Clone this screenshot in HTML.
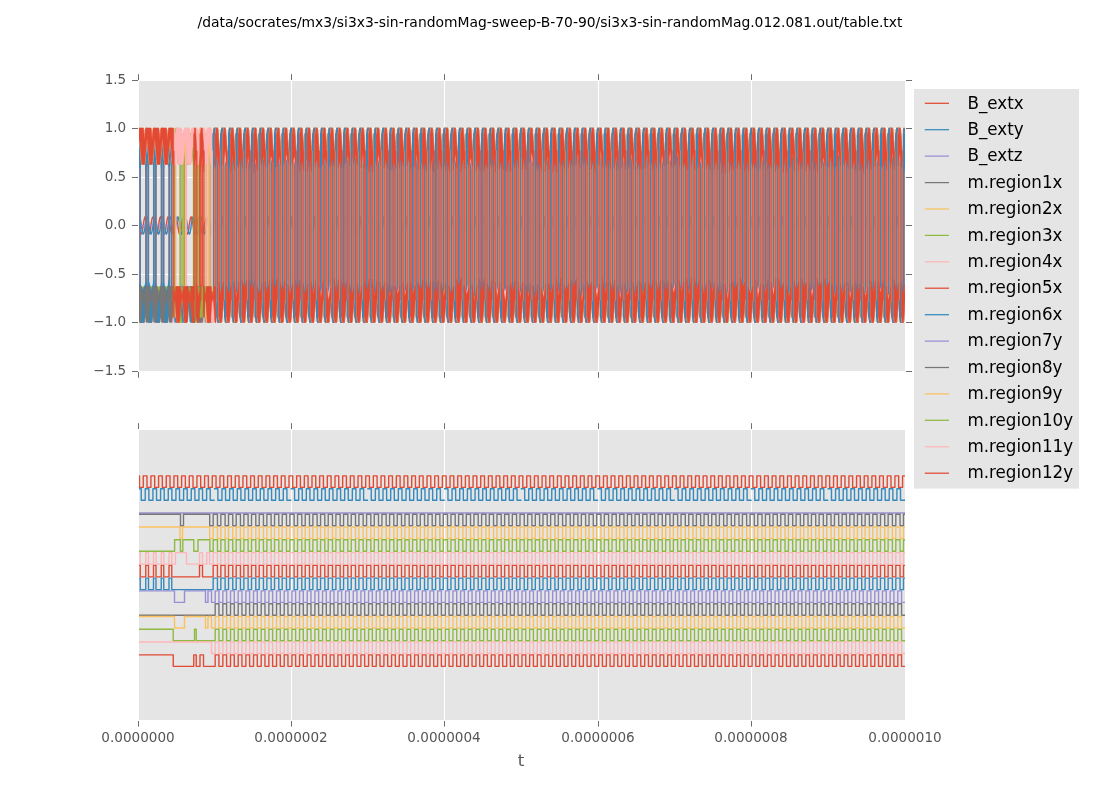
<!DOCTYPE html>
<html><head><meta charset="utf-8"><title>table.txt</title>
<style>
html,body{margin:0;padding:0;background:#fff;}
svg{display:block;}
text{font-family:"DejaVu Sans","Liberation Sans",sans-serif;}
.tk{font-size:13.55px;fill:#555;}
.al{font-size:16.67px;fill:#555;}
.ti{font-size:13.89px;fill:#000;}
.lg{font-size:17px;fill:#000;}
.ln path,.ln polyline{stroke-width:1.39;fill:none;stroke-linejoin:round;}
.tp path{stroke-linejoin:round;}
</style></head><body>
<svg width="1100" height="800" viewBox="0 0 1100 800">
<rect width="1100" height="800" fill="#fff"/>
<rect x="139" y="81" width="766" height="290" fill="#E5E5E5"/>
<rect x="139" y="430" width="766" height="290" fill="#E5E5E5"/>
<path d="M291.5 81V371M291.5 430V720M444.5 81V371M444.5 430V720M598.5 81V371M598.5 430V720M751.5 81V371M751.5 430V720M139 128.5H905M139 177.5H905M139 225.5H905M139 274.5H905M139 322.5H905" stroke="#fff" stroke-width="1.1"/>
<clipPath id="c1"><rect x="139" y="81" width="766" height="290"/></clipPath>
<clipPath id="c2"><rect x="139" y="430" width="766" height="290"/></clipPath>
<g clip-path="url(#c1)" class="tp" stroke-width="1.39" fill="none">
<polyline points="139,222.8 139.5,226.2 140,229.5 140.5,232.2 141,233.7 141.5,233.9 142,232.7 142.5,230.3 143,227.1 143.5,223.7 144,220.5 144.5,218.2 145,217 145.5,217.3 146,218.9 146.5,221.7 147,225 147.5,228.4 148,231.4 148.5,233.4 149,234 149.5,233.3 150,231.3 150.5,228.3 151,224.8 151.5,221.5 152,218.8 152.5,217.3 153,217.1 153.5,218.2 154,220.6 154.5,223.8 155,227.3 155.5,230.5 156,232.8 156.5,234 157,233.7 157.5,232.1 158,229.4 158.5,226 159,222.6 159.5,219.6 160,217.6 160.5,217 161,217.7 161.5,219.7 162,222.7 162.5,226.1 163,229.5 163.5,232.1 164,233.7 164.5,234 165,232.8 165.5,230.4 166,227.2 166.5,223.7 167,220.6 167.5,218.2 168,217 168.5,217.3 169,218.9 169.5,221.6 170,224.9 170.5,228.4 171,231.3 171.5,233.3 172,234 172.5,233.3 173,231.3 173.5,228.3 174,224.9 174.5,221.6 175,218.9 175.5,217.3 176,217 176.5,218.2 177,220.6 177.5,223.8 178,227.2 178.5,230.4 179,232.8 179.5,234 180,233.7 180.5,232.1 181,229.4 181.5,226.1 182,222.7 182.5,219.7 183,217.7 183.5,217 184,217.7 184.5,219.7 185,222.6 185.5,226.1 186,229.4 186.5,232.1 187,233.7 187.5,234 188,232.8 188.5,230.4 189,227.3 189.5,223.8 190,220.6 190.5,218.2 191,217 191.5,217.3 192,218.9 192.5,221.5 193,224.9 193.5,228.3 194,231.3 194.5,233.3 195,234 195.5,233.4 196,231.4 196.5,228.4 197,225 197.5,221.6 198,218.9 198.5,217.3 199,217 199.5,218.2 200,220.5 200.5,223.7 201,227.2 201.5,230.4 202,232.8 202.5,233.9 203,233.7 203.5,232.2 204,229.5 204.5,226.2 205,222.7 205.5,219.7 206,217.7 206.5,217 207,217.6 207.5,219.6 208,222.6 208.5,226 209,229.3 209.5,232.1 210,233.7 210.5,234 211,232.8 211.5,230.5 212,227.3 212.5,223.9 213,220.7 213.5,218.3 214,217.1 214.5,217.3 215,218.8 215.5,221.5 216,224.8 216.5,228.2 217,231.2 217.5,233.3 218,234 218.5,233.4 219,231.4 219.5,228.5 220,225 220.5,221.7 221,219 221.5,217.3 222,217 222.5,218.1 223,220.5 223.5,223.6 224,227.1 224.5,230.3 225,232.7 225.5,233.9 226,233.8 226.5,232.2 227,229.6 227.5,226.2 228,222.8 228.5,219.8 229,217.7 229.5,217 230,217.6 230.5,219.6 231,222.5 231.5,225.9 232,229.3 232.5,232 233,233.7 233.5,234 234,232.9 234.5,230.6 235,227.4 235.5,223.9 236,220.7 236.5,218.3 237,217.1 237.5,217.2 238,218.8 238.5,221.4 239,224.7 239.5,228.2 240,231.2 240.5,233.3 241,234 241.5,233.4 242,231.5 242.5,228.5 243,225.1 243.5,221.8 244,219 244.5,217.3 245,217 245.5,218.1 246,220.4 246.5,223.6 247,227 247.5,230.2 248,232.7 248.5,233.9 249,233.8 249.5,232.3 250,229.6 250.5,226.3 251,222.9 251.5,219.8 252,217.8 252.5,217 253,217.6 253.5,219.5 254,222.4 254.5,225.8 255,229.2 255.5,232 256,233.7 256.5,234 257,232.9 257.5,230.6 258,227.5 258.5,224 259,220.8 259.5,218.3 260,217.1 260.5,217.2 261,218.7 261.5,221.3 262,224.7 262.5,228.1 263,231.1 263.5,233.2 264,234 264.5,233.4 265,231.5 265.5,228.6 266,225.2 266.5,221.8 267,219.1 267.5,217.4 268,217 268.5,218.1 269,220.4 269.5,223.5 270,227 270.5,230.2 271,232.6 271.5,233.9 272,233.8 272.5,232.3 273,229.7 273.5,226.4 274,222.9 274.5,219.9 275,217.8 275.5,217 276,217.6 276.5,219.5 277,222.4 277.5,225.8 278,229.2 278.5,231.9 279,233.6 279.5,234 280,232.9 280.5,230.7 281,227.5 281.5,224.1 282,220.8 282.5,218.4 283,217.1 283.5,217.2 284,218.7 284.5,221.3 285,224.6 285.5,228 286,231.1 286.5,233.2 287,234 287.5,233.5 288,231.6 288.5,228.7 289,225.3 289.5,221.9 290,219.1 290.5,217.4 291,217 291.5,218 292,220.3 292.5,223.4 293,226.9 293.5,230.1 294,232.6 294.5,233.9 295,233.8 295.5,232.3 296,229.7 296.5,226.4 297,223 297.5,219.9 298,217.8 298.5,217 299,217.5 299.5,219.4 300,222.3 300.5,225.7 301,229.1 301.5,231.9 302,233.6 302.5,234 303,233 303.5,230.7 304,227.6 304.5,224.1 305,220.9 305.5,218.4 306,217.1 306.5,217.2 307,218.6 307.5,221.2 308,224.5 308.5,228 309,231 309.5,233.2 310,234 310.5,233.5 311,231.6 311.5,228.7 312,225.3 312.5,221.9 313,219.1 313.5,217.4 314,217 314.5,218 315,220.2 315.5,223.4 316,226.8 316.5,230.1 317,232.6 317.5,233.9 318,233.8 318.5,232.4 319,229.8 319.5,226.5 320,223.1 320.5,220 321,217.9 321.5,217 322,217.5 322.5,219.4 323,222.2 323.5,225.6 324,229 324.5,231.8 325,233.6 325.5,234 326,233 326.5,230.8 327,227.7 327.5,224.2 328,221 328.5,218.5 329,217.1 329.5,217.2 330,218.6 330.5,221.2 331,224.5 331.5,227.9 332,231 332.5,233.1 333,234 333.5,233.5 334,231.7 334.5,228.8 335,225.4 335.5,222 336,219.2 336.5,217.4 337,217 337.5,218 338,220.2 338.5,223.3 339,226.8 339.5,230 340,232.5 340.5,233.9 341,233.8 341.5,232.4 342,229.9 342.5,226.6 343,223.1 343.5,220.1 344,217.9 344.5,217 345,217.5 345.5,219.3 346,222.2 346.5,225.6 347,229 347.5,231.8 348,233.6 348.5,234 349,233.1 349.5,230.8 350,227.7 350.5,224.3 351,221 351.5,218.5 352,217.1 352.5,217.2 353,218.6 353.5,221.1 354,224.4 354.5,227.8 355,230.9 355.5,233.1 356,234 356.5,233.5 357,231.7 357.5,228.9 358,225.5 358.5,222.1 359,219.2 359.5,217.4 360,217 360.5,217.9 361,220.1 361.5,223.2 362,226.7 362.5,230 363,232.5 363.5,233.9 364,233.9 364.5,232.5 365,229.9 365.5,226.7 366,223.2 366.5,220.1 367,217.9 367.5,217 368,217.5 368.5,219.3 369,222.1 369.5,225.5 370,228.9 370.5,231.7 371,233.5 371.5,234 372,233.1 372.5,230.9 373,227.8 373.5,224.3 374,221.1 374.5,218.5 375,217.1 375.5,217.1 376,218.5 376.5,221 377,224.3 377.5,227.8 378,230.9 378.5,233.1 379,234 379.5,233.6 380,231.8 380.5,228.9 381,225.5 381.5,222.1 382,219.3 382.5,217.5 383,217 383.5,217.9 384,220.1 384.5,223.2 385,226.6 385.5,229.9 386,232.4 386.5,233.8 387,233.9 387.5,232.5 388,230 388.5,226.7 389,223.3 389.5,220.2 390,217.9 390.5,217 391,217.4 391.5,219.2 392,222 392.5,225.4 393,228.8 393.5,231.7 394,233.5 394.5,234 395,233.1 395.5,230.9 396,227.9 396.5,224.4 397,221.1 397.5,218.6 398,217.2 398.5,217.1 399,218.5 399.5,221 400,224.2 400.5,227.7 401,230.8 401.5,233 402,234 402.5,233.6 403,231.8 403.5,229 404,225.6 404.5,222.2 405,219.3 405.5,217.5 406,217 406.5,217.9 407,220 407.5,223.1 408,226.5 408.5,229.8 409,232.4 409.5,233.8 410,233.9 410.5,232.5 411,230 411.5,226.8 412,223.3 412.5,220.2 413,218 413.5,217 414,217.4 414.5,219.2 415,222 415.5,225.4 416,228.8 416.5,231.6 417,233.5 417.5,234 418,233.1 418.5,231 419,227.9 419.5,224.5 420,221.2 420.5,218.6 421,217.2 421.5,217.1 422,218.4 422.5,220.9 423,224.2 423.5,227.6 424,230.8 424.5,233 425,234 425.5,233.6 426,231.9 426.5,229.1 427,225.7 427.5,222.3 428,219.4 428.5,217.5 429,217 429.5,217.8 430,220 430.5,223 431,226.5 431.5,229.8 432,232.4 432.5,233.8 433,233.9 433.5,232.6 434,230.1 434.5,226.9 435,223.4 435.5,220.3 436,218 436.5,217 437,217.4 437.5,219.1 438,221.9 438.5,225.3 439,228.7 439.5,231.6 440,233.5 440.5,234 441,233.2 441.5,231.1 442,228 442.5,224.6 443,221.3 443.5,218.7 444,217.2 444.5,217.1 445,218.4 445.5,220.9 446,224.1 446.5,227.6 447,230.7 447.5,233 448,234 448.5,233.6 449,231.9 449.5,229.1 450,225.7 450.5,222.3 451,219.4 451.5,217.5 452,217 452.5,217.8 453,219.9 453.5,223 454,226.4 454.5,229.7 455,232.3 455.5,233.8 456,233.9 456.5,232.6 457,230.2 457.5,226.9 458,223.5 458.5,220.3 459,218.1 459.5,217 460,217.4 460.5,219.1 461,221.8 461.5,225.2 462,228.6 462.5,231.5 463,233.4 463.5,234 464,233.2 464.5,231.1 465,228.1 465.5,224.6 466,221.3 466.5,218.7 467,217.2 467.5,217.1 468,218.4 468.5,220.8 469,224 469.5,227.5 470,230.6 470.5,232.9 471,234 471.5,233.6 472,231.9 472.5,229.2 473,225.8 473.5,222.4 474,219.5 474.5,217.6 475,217 475.5,217.8 476,219.9 476.5,222.9 477,226.3 477.5,229.7 478,232.3 478.5,233.8 479,233.9 479.5,232.7 480,230.2 480.5,227 481,223.5 481.5,220.4 482,218.1 482.5,217 483,217.3 483.5,219 484,221.8 484.5,225.2 485,228.6 485.5,231.5 486,233.4 486.5,234 487,233.2 487.5,231.2 488,228.1 488.5,224.7 489,221.4 489.5,218.7 490,217.2 490.5,217.1 491,218.3 491.5,220.8 492,224 492.5,227.4 493,230.6 493.5,232.9 494,234 494.5,233.7 495,232 495.5,229.2 496,225.9 496.5,222.5 497,219.5 497.5,217.6 498,217 498.5,217.7 499,219.8 499.5,222.8 500,226.3 500.5,229.6 501,232.2 501.5,233.8 502,233.9 502.5,232.7 503,230.3 503.5,227.1 504,223.6 504.5,220.4 505,218.1 505.5,217 506,217.3 506.5,219 507,221.7 507.5,225.1 508,228.5 508.5,231.4 509,233.4 509.5,234 510,233.3 510.5,231.2 511,228.2 511.5,224.8 512,221.4 512.5,218.8 513,217.2 513.5,217.1 514,218.3 514.5,220.7 515,223.9 515.5,227.4 516,230.5 516.5,232.9 517,234 517.5,233.7 518,232 518.5,229.3 519,226 519.5,222.5 520,219.6 520.5,217.6 521,217 521.5,217.7 522,219.8 522.5,222.8 523,226.2 523.5,229.5 524,232.2 524.5,233.7 525,233.9 525.5,232.7 526,230.3 526.5,227.1 527,223.7 527.5,220.5 528,218.2 528.5,217 529,217.3 529.5,218.9 530,221.7 530.5,225 531,228.4 531.5,231.4 532,233.4 532.5,234 533,233.3 533.5,231.3 534,228.3 534.5,224.8 535,221.5 535.5,218.8 536,217.3 536.5,217.1 537,218.2 537.5,220.6 538,223.8 538.5,227.3 539,230.5 539.5,232.8 540,234 540.5,233.7 541,232.1 541.5,229.4 542,226 542.5,222.6 543,219.6 543.5,217.6 544,217 544.5,217.7 545,219.7 545.5,222.7 546,226.1 546.5,229.5 547,232.1 547.5,233.7 548,234 548.5,232.8 549,230.4 549.5,227.2 550,223.7 550.5,220.6 551,218.2 551.5,217 552,217.3 552.5,218.9 553,221.6 553.5,224.9 554,228.4 554.5,231.3 555,233.3 555.5,234 556,233.3 556.5,231.3 557,228.3 557.5,224.9 558,221.6 558.5,218.9 559,217.3 559.5,217 560,218.2 560.5,220.6 561,223.8 561.5,227.2 562,230.4 562.5,232.8 563,234 563.5,233.7 564,232.1 564.5,229.4 565,226.1 565.5,222.7 566,219.7 566.5,217.7 567,217 567.5,217.7 568,219.7 568.5,222.6 569,226.1 569.5,229.4 570,232.1 570.5,233.7 571,234 571.5,232.8 572,230.4 572.5,227.3 573,223.8 573.5,220.6 574,218.2 574.5,217 575,217.3 575.5,218.9 576,221.5 576.5,224.9 577,228.3 577.5,231.3 578,233.3 578.5,234 579,233.4 579.5,231.4 580,228.4 580.5,225 581,221.6 581.5,218.9 582,217.3 582.5,217 583,218.2 583.5,220.5 584,223.7 584.5,227.2 585,230.4 585.5,232.8 586,233.9 586.5,233.7 587,232.2 587.5,229.5 588,226.2 588.5,222.7 589,219.7 589.5,217.7 590,217 590.5,217.6 591,219.6 591.5,222.6 592,226 592.5,229.3 593,232.1 593.5,233.7 594,234 594.5,232.8 595,230.5 595.5,227.3 596,223.9 596.5,220.7 597,218.3 597.5,217.1 598,217.3 598.5,218.8 599,221.5 599.5,224.8 600,228.2 600.5,231.2 601,233.3 601.5,234 602,233.4 602.5,231.4 603,228.5 603.5,225 604,221.7 604.5,219 605,217.3 605.5,217 606,218.1 606.5,220.5 607,223.6 607.5,227.1 608,230.3 608.5,232.7 609,233.9 609.5,233.8 610,232.2 610.5,229.6 611,226.2 611.5,222.8 612,219.8 612.5,217.7 613,217 613.5,217.6 614,219.6 614.5,222.5 615,225.9 615.5,229.3 616,232 616.5,233.7 617,234 617.5,232.9 618,230.6 618.5,227.4 619,223.9 619.5,220.7 620,218.3 620.5,217.1 621,217.2 621.5,218.8 622,221.4 622.5,224.7 623,228.2 623.5,231.2 624,233.3 624.5,234 625,233.4 625.5,231.5 626,228.5 626.5,225.1 627,221.8 627.5,219 628,217.3 628.5,217 629,218.1 629.5,220.4 630,223.6 630.5,227 631,230.2 631.5,232.7 632,233.9 632.5,233.8 633,232.3 633.5,229.6 634,226.3 634.5,222.9 635,219.8 635.5,217.8 636,217 636.5,217.6 637,219.5 637.5,222.4 638,225.8 638.5,229.2 639,232 639.5,233.7 640,234 640.5,232.9 641,230.6 641.5,227.5 642,224 642.5,220.8 643,218.3 643.5,217.1 644,217.2 644.5,218.7 645,221.3 645.5,224.7 646,228.1 646.5,231.1 647,233.2 647.5,234 648,233.4 648.5,231.5 649,228.6 649.5,225.2 650,221.8 650.5,219.1 651,217.4 651.5,217 652,218.1 652.5,220.4 653,223.5 653.5,227 654,230.2 654.5,232.6 655,233.9 655.5,233.8 656,232.3 656.5,229.7 657,226.4 657.5,222.9 658,219.9 658.5,217.8 659,217 659.5,217.6 660,219.5 660.5,222.4 661,225.8 661.5,229.2 662,231.9 662.5,233.6 663,234 663.5,232.9 664,230.7 664.5,227.5 665,224.1 665.5,220.8 666,218.4 666.5,217.1 667,217.2 667.5,218.7 668,221.3 668.5,224.6 669,228 669.5,231.1 670,233.2 670.5,234 671,233.5 671.5,231.6 672,228.7 672.5,225.3 673,221.9 673.5,219.1 674,217.4 674.5,217 675,218 675.5,220.3 676,223.4 676.5,226.9 677,230.1 677.5,232.6 678,233.9 678.5,233.8 679,232.3 679.5,229.7 680,226.4 680.5,223 681,219.9 681.5,217.8 682,217 682.5,217.5 683,219.4 683.5,222.3 684,225.7 684.5,229.1 685,231.9 685.5,233.6 686,234 686.5,233 687,230.7 687.5,227.6 688,224.1 688.5,220.9 689,218.4 689.5,217.1 690,217.2 690.5,218.6 691,221.2 691.5,224.5 692,228 692.5,231 693,233.2 693.5,234 694,233.5 694.5,231.6 695,228.7 695.5,225.3 696,221.9 696.5,219.1 697,217.4 697.5,217 698,218 698.5,220.2 699,223.4 699.5,226.8 700,230.1 700.5,232.6 701,233.9 701.5,233.8 702,232.4 702.5,229.8 703,226.5 703.5,223.1 704,220 704.5,217.9 705,217 705.5,217.5 706,219.4 706.5,222.2 707,225.6 707.5,229 708,231.8 708.5,233.6 709,234 709.5,233 710,230.8 710.5,227.7 711,224.2 711.5,221 712,218.5 712.5,217.1 713,217.2 713.5,218.6 714,221.2 714.5,224.5 715,227.9 715.5,231 716,233.1 716.5,234 717,233.5 717.5,231.7 718,228.8 718.5,225.4 719,222 719.5,219.2 720,217.4 720.5,217 721,218 721.5,220.2 722,223.3 722.5,226.8 723,230 723.5,232.5 724,233.9 724.5,233.8 725,232.4 725.5,229.9 726,226.6 726.5,223.1 727,220.1 727.5,217.9 728,217 728.5,217.5 729,219.3 729.5,222.2 730,225.6 730.5,229 731,231.8 731.5,233.6 732,234 732.5,233.1 733,230.8 733.5,227.7 734,224.3 734.5,221 735,218.5 735.5,217.1 736,217.2 736.5,218.6 737,221.1 737.5,224.4 738,227.8 738.5,230.9 739,233.1 739.5,234 740,233.5 740.5,231.7 741,228.9 741.5,225.5 742,222.1 742.5,219.2 743,217.4 743.5,217 744,217.9 744.5,220.1 745,223.2 745.5,226.7 746,230 746.5,232.5 747,233.9 747.5,233.9 748,232.5 748.5,229.9 749,226.7 749.5,223.2 750,220.1 750.5,217.9 751,217 751.5,217.5 752,219.3 752.5,222.1 753,225.5 753.5,228.9 754,231.7 754.5,233.5 755,234 755.5,233.1 756,230.9 756.5,227.8 757,224.3 757.5,221.1 758,218.5 758.5,217.1 759,217.1 759.5,218.5 760,221 760.5,224.3 761,227.8 761.5,230.9 762,233.1 762.5,234 763,233.6 763.5,231.8 764,228.9 764.5,225.5 765,222.1 765.5,219.3 766,217.5 766.5,217 767,217.9 767.5,220.1 768,223.2 768.5,226.6 769,229.9 769.5,232.4 770,233.8 770.5,233.9 771,232.5 771.5,230 772,226.7 772.5,223.3 773,220.2 773.5,217.9 774,217 774.5,217.4 775,219.2 775.5,222 776,225.4 776.5,228.8 777,231.7 777.5,233.5 778,234 778.5,233.1 779,230.9 779.5,227.9 780,224.4 780.5,221.1 781,218.6 781.5,217.2 782,217.1 782.5,218.5 783,221 783.5,224.2 784,227.7 784.5,230.8 785,233 785.5,234 786,233.6 786.5,231.8 787,229 787.5,225.6 788,222.2 788.5,219.3 789,217.5 789.5,217 790,217.9 790.5,220 791,223.1 791.5,226.5 792,229.8 792.5,232.4 793,233.8 793.5,233.9 794,232.5 794.5,230 795,226.8 795.5,223.3 796,220.2 796.5,218 797,217 797.5,217.4 798,219.2 798.5,222 799,225.4 799.5,228.8 800,231.6 800.5,233.5 801,234 801.5,233.1 802,231 802.5,227.9 803,224.5 803.5,221.2 804,218.6 804.5,217.2 805,217.1 805.5,218.4 806,220.9 806.5,224.2 807,227.6 807.5,230.8 808,233 808.5,234 809,233.6 809.5,231.9 810,229.1 810.5,225.7 811,222.3 811.5,219.4 812,217.5 812.5,217 813,217.8 813.5,220 814,223 814.5,226.5 815,229.8 815.5,232.4 816,233.8 816.5,233.9 817,232.6 817.5,230.1 818,226.9 818.5,223.4 819,220.3 819.5,218 820,217 820.5,217.4 821,219.1 821.5,221.9 822,225.3 822.5,228.7 823,231.6 823.5,233.5 824,234 824.5,233.2 825,231.1 825.5,228 826,224.6 826.5,221.3 827,218.7 827.5,217.2 828,217.1 828.5,218.4 829,220.9 829.5,224.1 830,227.6 830.5,230.7 831,233 831.5,234 832,233.6 832.5,231.9 833,229.1 833.5,225.7 834,222.3 834.5,219.4 835,217.5 835.5,217 836,217.8 836.5,219.9 837,223 837.5,226.4 838,229.7 838.5,232.3 839,233.8 839.5,233.9 840,232.6 840.5,230.2 841,226.9 841.5,223.5 842,220.3 842.5,218.1 843,217 843.5,217.4 844,219.1 844.5,221.8 845,225.2 845.5,228.6 846,231.5 846.5,233.4 847,234 847.5,233.2 848,231.1 848.5,228.1 849,224.6 849.5,221.3 850,218.7 850.5,217.2 851,217.1 851.5,218.4 852,220.8 852.5,224 853,227.5 853.5,230.6 854,232.9 854.5,234 855,233.6 855.5,231.9 856,229.2 856.5,225.8 857,222.4 857.5,219.5 858,217.6 858.5,217 859,217.8 859.5,219.9 860,222.9 860.5,226.3 861,229.7 861.5,232.3 862,233.8 862.5,233.9 863,232.7 863.5,230.2 864,227 864.5,223.5 865,220.4 865.5,218.1 866,217 866.5,217.3 867,219 867.5,221.8 868,225.2 868.5,228.6 869,231.5 869.5,233.4 870,234 870.5,233.2 871,231.2 871.5,228.1 872,224.7 872.5,221.4 873,218.7 873.5,217.2 874,217.1 874.5,218.3 875,220.8 875.5,224 876,227.4 876.5,230.6 877,232.9 877.5,234 878,233.7 878.5,232 879,229.2 879.5,225.9 880,222.5 880.5,219.5 881,217.6 881.5,217 882,217.7 882.5,219.8 883,222.8 883.5,226.3 884,229.6 884.5,232.2 885,233.8 885.5,233.9 886,232.7 886.5,230.3 887,227.1 887.5,223.6 888,220.4 888.5,218.1 889,217 889.5,217.3 890,219 890.5,221.7 891,225.1 891.5,228.5 892,231.4 892.5,233.4 893,234 893.5,233.3 894,231.2 894.5,228.2 895,224.8 895.5,221.4 896,218.8 896.5,217.2 897,217.1 897.5,218.3 898,220.7 898.5,223.9 899,227.4 899.5,230.5 900,232.9 900.5,234 901,233.7 901.5,232 902,229.3 902.5,226 903,222.5 903.5,219.6 904,217.6 904.5,217 905,217.7" stroke="#E24A33" fill="none"/>
<polyline points="139,217.6 139.5,217 140,217.7 140.5,219.8 141,222.8 141.5,226.2 142,229.5 142.5,232.2 143,233.7 143.5,233.9 144,232.7 144.5,230.3 145,227.1 145.5,223.7 146,220.5 146.5,218.2 147,217 147.5,217.3 148,218.9 148.5,221.7 149,225 149.5,228.4 150,231.4 150.5,233.4 151,234 151.5,233.3 152,231.3 152.5,228.3 153,224.8 153.5,221.5 154,218.8 154.5,217.3 155,217.1 155.5,218.2 156,220.6 156.5,223.8 157,227.3 157.5,230.5 158,232.8 158.5,234 159,233.7 159.5,232.1 160,229.4 160.5,226 161,222.6 161.5,219.6 162,217.6 162.5,217 163,217.7 163.5,219.7 164,222.7 164.5,226.1 165,229.5 165.5,232.1 166,233.7 166.5,234 167,232.8 167.5,230.4 168,227.2 168.5,223.7 169,220.6 169.5,218.2 170,217 170.5,217.3 171,218.9 171.5,221.6 172,224.9 172.5,228.4 173,231.3 173.5,233.3 174,234 174.5,233.3 175,231.3 175.5,228.3 176,224.9 176.5,221.6 177,218.9 177.5,217.3 178,217 178.5,218.2 179,220.6 179.5,223.8 180,227.2 180.5,230.4 181,232.8 181.5,234 182,233.7 182.5,232.1 183,229.4 183.5,226.1 184,222.7 184.5,219.7 185,217.7 185.5,217 186,217.7 186.5,219.7 187,222.6 187.5,226.1 188,229.4 188.5,232.1 189,233.7 189.5,234 190,232.8 190.5,230.4 191,227.3 191.5,223.8 192,220.6 192.5,218.2 193,217 193.5,217.3 194,218.9 194.5,221.5 195,224.9 195.5,228.3 196,231.3 196.5,233.3 197,234 197.5,233.4 198,231.4 198.5,228.4 199,225 199.5,221.6 200,218.9 200.5,217.3 201,217 201.5,218.2 202,220.5 202.5,223.7 203,227.2 203.5,230.4 204,232.8 204.5,233.9 205,233.7 205.5,232.2 206,229.5 206.5,226.2 207,222.7 207.5,219.7 208,217.7 208.5,217 209,217.6 209.5,219.6 210,222.6 210.5,226 211,229.3 211.5,232.1 212,233.7 212.5,234 213,232.8 213.5,230.5 214,227.3 214.5,223.9 215,220.7 215.5,218.3 216,217.1 216.5,217.3 217,218.8 217.5,221.5 218,224.8 218.5,228.2 219,231.2 219.5,233.3 220,234 220.5,233.4 221,231.4 221.5,228.5 222,225 222.5,221.7 223,219 223.5,217.3 224,217 224.5,218.1 225,220.5 225.5,223.6 226,227.1 226.5,230.3 227,232.7 227.5,233.9 228,233.8 228.5,232.2 229,229.6 229.5,226.2 230,222.8 230.5,219.8 231,217.7 231.5,217 232,217.6 232.5,219.6 233,222.5 233.5,225.9 234,229.3 234.5,232 235,233.7 235.5,234 236,232.9 236.5,230.6 237,227.4 237.5,223.9 238,220.7 238.5,218.3 239,217.1 239.5,217.2 240,218.8 240.5,221.4 241,224.7 241.5,228.2 242,231.2 242.5,233.3 243,234 243.5,233.4 244,231.5 244.5,228.5 245,225.1 245.5,221.8 246,219 246.5,217.3 247,217 247.5,218.1 248,220.4 248.5,223.6 249,227 249.5,230.2 250,232.7 250.5,233.9 251,233.8 251.5,232.3 252,229.6 252.5,226.3 253,222.9 253.5,219.8 254,217.8 254.5,217 255,217.6 255.5,219.5 256,222.4 256.5,225.8 257,229.2 257.5,232 258,233.7 258.5,234 259,232.9 259.5,230.6 260,227.5 260.5,224 261,220.8 261.5,218.3 262,217.1 262.5,217.2 263,218.7 263.5,221.3 264,224.7 264.5,228.1 265,231.1 265.5,233.2 266,234 266.5,233.4 267,231.5 267.5,228.6 268,225.2 268.5,221.8 269,219.1 269.5,217.4 270,217 270.5,218.1 271,220.4 271.5,223.5 272,227 272.5,230.2 273,232.6 273.5,233.9 274,233.8 274.5,232.3 275,229.7 275.5,226.4 276,222.9 276.5,219.9 277,217.8 277.5,217 278,217.6 278.5,219.5 279,222.4 279.5,225.8 280,229.2 280.5,231.9 281,233.6 281.5,234 282,232.9 282.5,230.7 283,227.5 283.5,224.1 284,220.8 284.5,218.4 285,217.1 285.5,217.2 286,218.7 286.5,221.3 287,224.6 287.5,228 288,231.1 288.5,233.2 289,234 289.5,233.5 290,231.6 290.5,228.7 291,225.3 291.5,221.9 292,219.1 292.5,217.4 293,217 293.5,218 294,220.3 294.5,223.4 295,226.9 295.5,230.1 296,232.6 296.5,233.9 297,233.8 297.5,232.3 298,229.7 298.5,226.4 299,223 299.5,219.9 300,217.8 300.5,217 301,217.5 301.5,219.4 302,222.3 302.5,225.7 303,229.1 303.5,231.9 304,233.6 304.5,234 305,233 305.5,230.7 306,227.6 306.5,224.1 307,220.9 307.5,218.4 308,217.1 308.5,217.2 309,218.6 309.5,221.2 310,224.5 310.5,228 311,231 311.5,233.2 312,234 312.5,233.5 313,231.6 313.5,228.7 314,225.3 314.5,221.9 315,219.1 315.5,217.4 316,217 316.5,218 317,220.2 317.5,223.4 318,226.8 318.5,230.1 319,232.6 319.5,233.9 320,233.8 320.5,232.4 321,229.8 321.5,226.5 322,223.1 322.5,220 323,217.9 323.5,217 324,217.5 324.5,219.4 325,222.2 325.5,225.6 326,229 326.5,231.8 327,233.6 327.5,234 328,233 328.5,230.8 329,227.7 329.5,224.2 330,221 330.5,218.5 331,217.1 331.5,217.2 332,218.6 332.5,221.2 333,224.5 333.5,227.9 334,231 334.5,233.1 335,234 335.5,233.5 336,231.7 336.5,228.8 337,225.4 337.5,222 338,219.2 338.5,217.4 339,217 339.5,218 340,220.2 340.5,223.3 341,226.8 341.5,230 342,232.5 342.5,233.9 343,233.8 343.5,232.4 344,229.9 344.5,226.6 345,223.1 345.5,220.1 346,217.9 346.5,217 347,217.5 347.5,219.3 348,222.2 348.5,225.6 349,229 349.5,231.8 350,233.6 350.5,234 351,233.1 351.5,230.8 352,227.7 352.5,224.3 353,221 353.5,218.5 354,217.1 354.5,217.2 355,218.6 355.5,221.1 356,224.4 356.5,227.8 357,230.9 357.5,233.1 358,234 358.5,233.5 359,231.7 359.5,228.9 360,225.5 360.5,222.1 361,219.2 361.5,217.4 362,217 362.5,217.9 363,220.1 363.5,223.2 364,226.7 364.5,230 365,232.5 365.5,233.9 366,233.9 366.5,232.5 367,229.9 367.5,226.7 368,223.2 368.5,220.1 369,217.9 369.5,217 370,217.5 370.5,219.3 371,222.1 371.5,225.5 372,228.9 372.5,231.7 373,233.5 373.5,234 374,233.1 374.5,230.9 375,227.8 375.5,224.3 376,221.1 376.5,218.5 377,217.1 377.5,217.1 378,218.5 378.5,221 379,224.3 379.5,227.8 380,230.9 380.5,233.1 381,234 381.5,233.6 382,231.8 382.5,228.9 383,225.5 383.5,222.1 384,219.3 384.5,217.5 385,217 385.5,217.9 386,220.1 386.5,223.2 387,226.6 387.5,229.9 388,232.4 388.5,233.8 389,233.9 389.5,232.5 390,230 390.5,226.7 391,223.3 391.5,220.2 392,217.9 392.5,217 393,217.4 393.5,219.2 394,222 394.5,225.4 395,228.8 395.5,231.7 396,233.5 396.5,234 397,233.1 397.5,230.9 398,227.9 398.5,224.4 399,221.1 399.5,218.6 400,217.2 400.5,217.1 401,218.5 401.5,221 402,224.2 402.5,227.7 403,230.8 403.5,233 404,234 404.5,233.6 405,231.8 405.5,229 406,225.6 406.5,222.2 407,219.3 407.5,217.5 408,217 408.5,217.9 409,220 409.5,223.1 410,226.5 410.5,229.8 411,232.4 411.5,233.8 412,233.9 412.5,232.5 413,230 413.5,226.8 414,223.3 414.5,220.2 415,218 415.5,217 416,217.4 416.5,219.2 417,222 417.5,225.4 418,228.8 418.5,231.6 419,233.5 419.5,234 420,233.1 420.5,231 421,227.9 421.5,224.5 422,221.2 422.5,218.6 423,217.2 423.5,217.1 424,218.4 424.5,220.9 425,224.2 425.5,227.6 426,230.8 426.5,233 427,234 427.5,233.6 428,231.9 428.5,229.1 429,225.7 429.5,222.3 430,219.4 430.5,217.5 431,217 431.5,217.8 432,220 432.5,223 433,226.5 433.5,229.8 434,232.4 434.5,233.8 435,233.9 435.5,232.6 436,230.1 436.5,226.9 437,223.4 437.5,220.3 438,218 438.5,217 439,217.4 439.5,219.1 440,221.9 440.5,225.3 441,228.7 441.5,231.6 442,233.5 442.5,234 443,233.2 443.5,231.1 444,228 444.5,224.6 445,221.3 445.5,218.7 446,217.2 446.5,217.1 447,218.4 447.5,220.9 448,224.1 448.5,227.6 449,230.7 449.5,233 450,234 450.5,233.6 451,231.9 451.5,229.1 452,225.7 452.5,222.3 453,219.4 453.5,217.5 454,217 454.5,217.8 455,219.9 455.5,223 456,226.4 456.5,229.7 457,232.3 457.5,233.8 458,233.9 458.5,232.6 459,230.2 459.5,226.9 460,223.5 460.5,220.3 461,218.1 461.5,217 462,217.4 462.5,219.1 463,221.8 463.5,225.2 464,228.6 464.5,231.5 465,233.4 465.5,234 466,233.2 466.5,231.1 467,228.1 467.5,224.6 468,221.3 468.5,218.7 469,217.2 469.5,217.1 470,218.4 470.5,220.8 471,224 471.5,227.5 472,230.6 472.5,232.9 473,234 473.5,233.6 474,231.9 474.5,229.2 475,225.8 475.5,222.4 476,219.5 476.5,217.6 477,217 477.5,217.8 478,219.9 478.5,222.9 479,226.3 479.5,229.7 480,232.3 480.5,233.8 481,233.9 481.5,232.7 482,230.2 482.5,227 483,223.5 483.5,220.4 484,218.1 484.5,217 485,217.3 485.5,219 486,221.8 486.5,225.2 487,228.6 487.5,231.5 488,233.4 488.5,234 489,233.2 489.5,231.2 490,228.1 490.5,224.7 491,221.4 491.5,218.7 492,217.2 492.5,217.1 493,218.3 493.5,220.8 494,224 494.5,227.4 495,230.6 495.5,232.9 496,234 496.5,233.7 497,232 497.5,229.2 498,225.9 498.5,222.5 499,219.5 499.5,217.6 500,217 500.5,217.7 501,219.8 501.5,222.8 502,226.3 502.5,229.6 503,232.2 503.5,233.8 504,233.9 504.5,232.7 505,230.3 505.5,227.1 506,223.6 506.5,220.4 507,218.1 507.5,217 508,217.3 508.5,219 509,221.7 509.5,225.1 510,228.5 510.5,231.4 511,233.4 511.5,234 512,233.3 512.5,231.2 513,228.2 513.5,224.8 514,221.4 514.5,218.8 515,217.2 515.5,217.1 516,218.3 516.5,220.7 517,223.9 517.5,227.4 518,230.5 518.5,232.9 519,234 519.5,233.7 520,232 520.5,229.3 521,226 521.5,222.5 522,219.6 522.5,217.6 523,217 523.5,217.7 524,219.8 524.5,222.8 525,226.2 525.5,229.5 526,232.2 526.5,233.7 527,233.9 527.5,232.7 528,230.3 528.5,227.1 529,223.7 529.5,220.5 530,218.2 530.5,217 531,217.3 531.5,218.9 532,221.7 532.5,225 533,228.4 533.5,231.4 534,233.4 534.5,234 535,233.3 535.5,231.3 536,228.3 536.5,224.8 537,221.5 537.5,218.8 538,217.3 538.5,217.1 539,218.2 539.5,220.6 540,223.8 540.5,227.3 541,230.5 541.5,232.8 542,234 542.5,233.7 543,232.1 543.5,229.4 544,226 544.5,222.6 545,219.6 545.5,217.6 546,217 546.5,217.7 547,219.7 547.5,222.7 548,226.1 548.5,229.5 549,232.1 549.5,233.7 550,234 550.5,232.8 551,230.4 551.5,227.2 552,223.7 552.5,220.6 553,218.2 553.5,217 554,217.3 554.5,218.9 555,221.6 555.5,224.9 556,228.4 556.5,231.3 557,233.3 557.5,234 558,233.3 558.5,231.3 559,228.3 559.5,224.9 560,221.6 560.5,218.9 561,217.3 561.5,217 562,218.2 562.5,220.6 563,223.8 563.5,227.2 564,230.4 564.5,232.8 565,234 565.5,233.7 566,232.1 566.5,229.4 567,226.1 567.5,222.7 568,219.7 568.5,217.7 569,217 569.5,217.7 570,219.7 570.5,222.6 571,226.1 571.5,229.4 572,232.1 572.5,233.7 573,234 573.5,232.8 574,230.4 574.5,227.3 575,223.8 575.5,220.6 576,218.2 576.5,217 577,217.3 577.5,218.9 578,221.5 578.5,224.9 579,228.3 579.5,231.3 580,233.3 580.5,234 581,233.4 581.5,231.4 582,228.4 582.5,225 583,221.6 583.5,218.9 584,217.3 584.5,217 585,218.2 585.5,220.5 586,223.7 586.5,227.2 587,230.4 587.5,232.8 588,233.9 588.5,233.7 589,232.2 589.5,229.5 590,226.2 590.5,222.7 591,219.7 591.5,217.7 592,217 592.5,217.6 593,219.6 593.5,222.6 594,226 594.5,229.3 595,232.1 595.5,233.7 596,234 596.5,232.8 597,230.5 597.5,227.3 598,223.9 598.5,220.7 599,218.3 599.5,217.1 600,217.3 600.5,218.8 601,221.5 601.5,224.8 602,228.2 602.5,231.2 603,233.3 603.5,234 604,233.4 604.5,231.4 605,228.5 605.5,225 606,221.7 606.5,219 607,217.3 607.5,217 608,218.1 608.5,220.5 609,223.6 609.5,227.1 610,230.3 610.5,232.7 611,233.9 611.5,233.8 612,232.2 612.5,229.6 613,226.2 613.5,222.8 614,219.8 614.5,217.7 615,217 615.5,217.6 616,219.6 616.5,222.5 617,225.9 617.5,229.3 618,232 618.5,233.7 619,234 619.5,232.9 620,230.6 620.5,227.4 621,223.9 621.5,220.7 622,218.3 622.5,217.1 623,217.2 623.5,218.8 624,221.4 624.5,224.7 625,228.2 625.5,231.2 626,233.3 626.5,234 627,233.4 627.5,231.5 628,228.5 628.5,225.1 629,221.8 629.5,219 630,217.3 630.5,217 631,218.1 631.5,220.4 632,223.6 632.5,227 633,230.2 633.5,232.7 634,233.9 634.5,233.8 635,232.3 635.5,229.6 636,226.3 636.5,222.9 637,219.8 637.5,217.8 638,217 638.5,217.6 639,219.5 639.5,222.4 640,225.8 640.5,229.2 641,232 641.5,233.7 642,234 642.5,232.9 643,230.6 643.5,227.5 644,224 644.5,220.8 645,218.3 645.5,217.1 646,217.2 646.5,218.7 647,221.3 647.5,224.7 648,228.1 648.5,231.1 649,233.2 649.5,234 650,233.4 650.5,231.5 651,228.6 651.5,225.2 652,221.8 652.5,219.1 653,217.4 653.5,217 654,218.1 654.5,220.4 655,223.5 655.5,227 656,230.2 656.5,232.6 657,233.9 657.5,233.8 658,232.3 658.5,229.7 659,226.4 659.5,222.9 660,219.9 660.5,217.8 661,217 661.5,217.6 662,219.5 662.5,222.4 663,225.8 663.5,229.2 664,231.9 664.5,233.6 665,234 665.5,232.9 666,230.7 666.5,227.5 667,224.1 667.5,220.8 668,218.4 668.5,217.1 669,217.2 669.5,218.7 670,221.3 670.5,224.6 671,228 671.5,231.1 672,233.2 672.5,234 673,233.5 673.5,231.6 674,228.7 674.5,225.3 675,221.9 675.5,219.1 676,217.4 676.5,217 677,218 677.5,220.3 678,223.4 678.5,226.9 679,230.1 679.5,232.6 680,233.9 680.5,233.8 681,232.3 681.5,229.7 682,226.4 682.5,223 683,219.9 683.5,217.8 684,217 684.5,217.5 685,219.4 685.5,222.3 686,225.7 686.5,229.1 687,231.9 687.5,233.6 688,234 688.5,233 689,230.7 689.5,227.6 690,224.1 690.5,220.9 691,218.4 691.5,217.1 692,217.2 692.5,218.6 693,221.2 693.5,224.5 694,228 694.5,231 695,233.2 695.5,234 696,233.5 696.5,231.6 697,228.7 697.5,225.3 698,221.9 698.5,219.1 699,217.4 699.5,217 700,218 700.5,220.2 701,223.4 701.5,226.8 702,230.1 702.5,232.6 703,233.9 703.5,233.8 704,232.4 704.5,229.8 705,226.5 705.5,223.1 706,220 706.5,217.9 707,217 707.5,217.5 708,219.4 708.5,222.2 709,225.6 709.5,229 710,231.8 710.5,233.6 711,234 711.5,233 712,230.8 712.5,227.7 713,224.2 713.5,221 714,218.5 714.5,217.1 715,217.2 715.5,218.6 716,221.2 716.5,224.5 717,227.9 717.5,231 718,233.1 718.5,234 719,233.5 719.5,231.7 720,228.8 720.5,225.4 721,222 721.5,219.2 722,217.4 722.5,217 723,218 723.5,220.2 724,223.3 724.5,226.8 725,230 725.5,232.5 726,233.9 726.5,233.8 727,232.4 727.5,229.9 728,226.6 728.5,223.1 729,220.1 729.5,217.9 730,217 730.5,217.5 731,219.3 731.5,222.2 732,225.6 732.5,229 733,231.8 733.5,233.6 734,234 734.5,233.1 735,230.8 735.5,227.7 736,224.3 736.5,221 737,218.5 737.5,217.1 738,217.2 738.5,218.6 739,221.1 739.5,224.4 740,227.8 740.5,230.9 741,233.1 741.5,234 742,233.5 742.5,231.7 743,228.9 743.5,225.5 744,222.1 744.5,219.2 745,217.4 745.5,217 746,217.9 746.5,220.1 747,223.2 747.5,226.7 748,230 748.5,232.5 749,233.9 749.5,233.9 750,232.5 750.5,229.9 751,226.7 751.5,223.2 752,220.1 752.5,217.9 753,217 753.5,217.5 754,219.3 754.5,222.1 755,225.5 755.5,228.9 756,231.7 756.5,233.5 757,234 757.5,233.1 758,230.9 758.5,227.8 759,224.3 759.5,221.1 760,218.5 760.5,217.1 761,217.1 761.5,218.5 762,221 762.5,224.3 763,227.8 763.5,230.9 764,233.1 764.5,234 765,233.6 765.5,231.8 766,228.9 766.5,225.5 767,222.1 767.5,219.3 768,217.5 768.5,217 769,217.9 769.5,220.1 770,223.2 770.5,226.6 771,229.9 771.5,232.4 772,233.8 772.5,233.9 773,232.5 773.5,230 774,226.7 774.5,223.3 775,220.2 775.5,217.9 776,217 776.5,217.4 777,219.2 777.5,222 778,225.4 778.5,228.8 779,231.7 779.5,233.5 780,234 780.5,233.1 781,230.9 781.5,227.9 782,224.4 782.5,221.1 783,218.6 783.5,217.2 784,217.1 784.5,218.5 785,221 785.5,224.2 786,227.7 786.5,230.8 787,233 787.5,234 788,233.6 788.5,231.8 789,229 789.5,225.6 790,222.2 790.5,219.3 791,217.5 791.5,217 792,217.9 792.5,220 793,223.1 793.5,226.5 794,229.8 794.5,232.4 795,233.8 795.5,233.9 796,232.5 796.5,230 797,226.8 797.5,223.3 798,220.2 798.5,218 799,217 799.5,217.4 800,219.2 800.5,222 801,225.4 801.5,228.8 802,231.6 802.5,233.5 803,234 803.5,233.1 804,231 804.5,227.9 805,224.5 805.5,221.2 806,218.6 806.5,217.2 807,217.1 807.5,218.4 808,220.9 808.5,224.2 809,227.6 809.5,230.8 810,233 810.5,234 811,233.6 811.5,231.9 812,229.1 812.5,225.7 813,222.3 813.5,219.4 814,217.5 814.5,217 815,217.8 815.5,220 816,223 816.5,226.5 817,229.8 817.5,232.4 818,233.8 818.5,233.9 819,232.6 819.5,230.1 820,226.9 820.5,223.4 821,220.3 821.5,218 822,217 822.5,217.4 823,219.1 823.5,221.9 824,225.3 824.5,228.7 825,231.6 825.5,233.5 826,234 826.5,233.2 827,231.1 827.5,228 828,224.6 828.5,221.3 829,218.7 829.5,217.2 830,217.1 830.5,218.4 831,220.9 831.5,224.1 832,227.6 832.5,230.7 833,233 833.5,234 834,233.6 834.5,231.9 835,229.1 835.5,225.7 836,222.3 836.5,219.4 837,217.5 837.5,217 838,217.8 838.5,219.9 839,223 839.5,226.4 840,229.7 840.5,232.3 841,233.8 841.5,233.9 842,232.6 842.5,230.2 843,226.9 843.5,223.5 844,220.3 844.5,218.1 845,217 845.5,217.4 846,219.1 846.5,221.8 847,225.2 847.5,228.6 848,231.5 848.5,233.4 849,234 849.5,233.2 850,231.1 850.5,228.1 851,224.6 851.5,221.3 852,218.7 852.5,217.2 853,217.1 853.5,218.4 854,220.8 854.5,224 855,227.5 855.5,230.6 856,232.9 856.5,234 857,233.6 857.5,231.9 858,229.2 858.5,225.8 859,222.4 859.5,219.5 860,217.6 860.5,217 861,217.8 861.5,219.9 862,222.9 862.5,226.3 863,229.7 863.5,232.3 864,233.8 864.5,233.9 865,232.7 865.5,230.2 866,227 866.5,223.5 867,220.4 867.5,218.1 868,217 868.5,217.3 869,219 869.5,221.8 870,225.2 870.5,228.6 871,231.5 871.5,233.4 872,234 872.5,233.2 873,231.2 873.5,228.1 874,224.7 874.5,221.4 875,218.7 875.5,217.2 876,217.1 876.5,218.3 877,220.8 877.5,224 878,227.4 878.5,230.6 879,232.9 879.5,234 880,233.7 880.5,232 881,229.2 881.5,225.9 882,222.5 882.5,219.5 883,217.6 883.5,217 884,217.7 884.5,219.8 885,222.8 885.5,226.3 886,229.6 886.5,232.2 887,233.8 887.5,233.9 888,232.7 888.5,230.3 889,227.1 889.5,223.6 890,220.4 890.5,218.1 891,217 891.5,217.3 892,219 892.5,221.7 893,225.1 893.5,228.5 894,231.4 894.5,233.4 895,234 895.5,233.3 896,231.2 896.5,228.2 897,224.8 897.5,221.4 898,218.8 898.5,217.2 899,217.1 899.5,218.3 900,220.7 900.5,223.9 901,227.4 901.5,230.5 902,232.9 902.5,234 903,233.7 903.5,232 904,229.3 904.5,226 905,222.5" stroke="#348ABD" fill="none"/>
<path d="M139 225.5H905" stroke="#988ED5"/>
<path d="M139 133.4L139.3 133.4L139.7 133.4L140 133.4L140.4 133.4L140.7 133.4L141.1 133.4L141.4 133.4L141.8 136.3L142.1 141.1L142.5 145.8L142.8 141.3L143.2 136.6L143.5 133.4L143.9 133.4L144.2 133.4L144.6 133.4L144.9 133.4L145.3 133.4L145.6 133.4L145.9 133.4L146.3 133.4L146.6 133.4L147 133.4L147.3 133.4L147.7 133.4L148 133.4L148.4 133.4L148.7 133.4L149.1 133.4L149.4 136L149.8 140.7L150.1 145.5L150.5 141.7L150.8 136.9L151.2 133.4L151.5 133.4L151.9 133.4L152.2 133.4L152.6 133.4L152.9 133.4L153.2 133.4L153.6 133.4L153.9 133.4L154.3 133.4L154.6 133.4L155 133.4L155.3 133.4L155.7 133.4L156 133.4L156.4 133.4L156.7 133.4L157.1 135.6L157.4 140.4L157.8 145.1L158.1 142L158.5 137.2L158.8 133.4L159.2 133.4L159.5 133.4L159.8 133.4L160.2 133.4L160.5 133.4L160.9 133.4L161.2 133.4L161.6 133.4L161.9 133.4L162.3 133.4L162.6 133.4L163 133.4L163.3 133.4L163.7 133.4L164 133.4L164.4 133.4L164.7 135.3L165.1 140L165.4 144.8L165.8 142.4L166.1 137.6L166.5 133.4L166.8 133.4L167.1 133.4L167.5 133.4L167.8 133.4L168.2 133.4L168.5 133.4L168.9 133.4L169.2 133.4L169.6 133.4L169.9 133.4L170.3 133.4L170.6 133.4L171 133.4L171.3 133.4L171.7 133.4L172 133.4L172.4 134.9L172.7 139.7L173.1 144.5L173.4 142.7L173.7 137.9L174.1 133.4L174.4 133.4L174.8 133.4L175.1 133.4L175.5 133.4L175.8 133.4L176.2 133.4L176.5 133.4L176.9 133.4L177.2 133.4L177.6 133.4L177.9 133.4L178.3 133.4L178.6 133.4L179 133.4L179.3 133.4L179.7 133.4L180 134.6L180.3 139.3L180.3 164.4L180 164.4L179.7 164.4L179.3 164.4L179 164.4L178.6 164.4L178.3 164.4L177.9 162.6L177.6 158.5L177.2 154.4L176.9 150.3L176.5 146.2L176.2 142.1L175.8 138L175.5 140.6L175.1 144.7L174.8 148.8L174.4 152.9L174.1 157L173.7 161.1L173.4 164.4L173.1 164.4L172.7 164.4L172.4 164.4L172 164.4L171.7 164.4L171.3 164.4L171 164.4L170.6 164.4L170.3 162.9L169.9 158.8L169.6 154.7L169.2 150.6L168.9 146.5L168.5 142.4L168.2 138.3L167.8 140.3L167.5 144.4L167.1 148.5L166.8 152.6L166.5 156.7L166.1 160.8L165.8 164.4L165.4 164.4L165.1 164.4L164.7 164.4L164.4 164.4L164 164.4L163.7 164.4L163.3 164.4L163 164.4L162.6 163.2L162.3 159.1L161.9 155L161.6 150.9L161.2 146.8L160.9 142.7L160.5 138.6L160.2 140L159.8 144.1L159.5 148.2L159.2 152.3L158.8 156.4L158.5 160.5L158.1 164.4L157.8 164.4L157.4 164.4L157.1 164.4L156.7 164.4L156.4 164.4L156 164.4L155.7 164.4L155.3 164.4L155 163.5L154.6 159.4L154.3 155.3L153.9 151.2L153.6 147.1L153.2 143L152.9 138.9L152.6 139.7L152.2 143.8L151.9 147.9L151.5 152L151.2 156.1L150.8 160.2L150.5 164.3L150.1 164.4L149.8 164.4L149.4 164.4L149.1 164.4L148.7 164.4L148.4 164.4L148 164.4L147.7 164.4L147.3 163.8L147 159.7L146.6 155.6L146.3 151.5L145.9 147.4L145.6 143.3L145.3 139.2L144.9 139.4L144.6 143.5L144.2 147.6L143.9 151.7L143.5 155.8L143.2 159.9L142.8 164L142.5 164.4L142.1 164.4L141.8 164.4L141.4 164.4L141.1 164.4L140.7 164.4L140.4 164.4L140 164.4L139.7 164.1L139.3 160L139 155.9zM179.9 296.9L179.9 315.7L180.7 322.5L182.2 322.5L183.3 308.9L183.8 300.2L183.8 298.2L181.4 310.1zM183.4 133.4L183.7 133.4L184.1 133.4L184.4 133.4L184.8 133.4L185.1 133.4L185.5 133.4L185.8 133.4L186.2 133.4L186.5 133.4L186.9 133.4L187.2 133.4L187.6 133.4L187.9 138.1L188.3 142.9L188.6 144.2L189 139.4L189.3 134.7L189.7 133.4L190 133.4L190.4 133.4L190.7 133.4L191.1 133.4L191.4 133.4L191.8 133.4L192.1 133.4L192.5 133.4L192.8 133.4L193.2 133.4L193.5 133.4L193.9 133.4L194.2 133.4L194.6 133.4L194.9 133.4L195.3 133.4L195.6 138.2L196 142.9L196.3 144.2L196.6 139.4L197 134.7L197.3 133.4L197.7 133.4L198 133.4L198.4 133.4L198.7 133.4L199.1 133.4L199.4 133.4L199.8 133.4L200.1 133.4L200.5 133.4L200.8 133.4L201.2 133.4L201.5 133.4L201.9 133.4L202.2 133.4L202.6 133.4L202.9 133.4L203.3 138.2L203.6 142.9L204 144.2L204.3 139.4L204.7 134.6L205 133.4L205.4 133.4L205.7 133.4L206.1 133.4L206.4 133.4L206.8 133.4L207.1 133.4L207.5 133.4L207.8 133.4L208.2 133.4L208.5 133.4L208.9 133.4L209.2 133.4L209.5 133.4L209.5 164.4L209.2 164.4L208.9 164.4L208.5 161.5L208.2 157.3L207.8 153.2L207.5 149.1L207.1 145L206.8 140.9L206.4 137.7L206.1 141.8L205.7 145.9L205.4 150L205 154.2L204.7 158.3L204.3 162.4L204 164.4L203.6 164.4L203.3 164.4L202.9 164.4L202.6 164.4L202.2 164.4L201.9 164.4L201.5 164.4L201.2 164.4L200.8 161.5L200.5 157.3L200.1 153.2L199.8 149.1L199.4 145L199.1 140.9L198.7 137.7L198.4 141.8L198 145.9L197.7 150L197.3 154.2L197 158.3L196.6 162.4L196.3 164.4L196 164.4L195.6 164.4L195.3 164.4L194.9 164.4L194.6 164.4L194.2 164.4L193.9 164.4L193.5 164.4L193.2 161.4L192.8 157.3L192.5 153.2L192.1 149.1L191.8 145L191.4 140.9L191.1 137.7L190.7 141.8L190.4 145.9L190 150.1L189.7 154.2L189.3 158.3L189 162.4L188.6 164.4L188.3 164.4L187.9 164.4L187.6 164.4L187.2 164.4L186.9 164.4L186.5 164.4L186.2 164.4L185.8 164.4L185.5 161.4L185.1 157.3L184.8 153.2L184.4 149.1L184.1 145L183.7 140.9L183.4 137.7zM209.1 298.4L209.1 315.7L209.9 322.5L211.7 322.5L212.9 308.9L213.5 300.2L213.5 302L211.3 308.9zM213.1 151.6L213.1 135.3L213.9 128.1L215.7 128.1L216.7 142.1L217.3 150.8L217.3 153.1L215.3 138.6zM216.8 299.9L216.8 315.7L217.6 322.5L219.4 322.5L220.5 308.9L221.2 300.2L221.2 300.6L218.6 313.5zM220.8 151.5L220.8 135.3L221.6 128.1L223.3 128.1L224.4 142.1L224.9 150.8L224.9 154.2L223.2 142.1zM224.5 298.2L224.5 315.7L225.3 322.5L227 322.5L228.2 308.9L228.9 300.2L228.9 298.1L227.1 312zM228.4 153L228.4 135.3L229.2 128.1L231 128.1L232.1 142.1L232.6 150.8L232.6 152.3L230.9 143.3zM232.2 292.8L232.2 315.7L233 322.5L234.7 322.5L235.9 308.9L236.5 300.2L236.5 296.8L234.3 303.7zM236.1 153.8L236.1 135.3L236.9 128.1L238.7 128.1L239.7 142.1L240.3 150.8L240.3 153.4L238 141.2zM239.8 298.3L239.8 315.7L240.6 322.5L242.4 322.5L243.6 308.9L244.2 300.2L244.2 298.7L242.5 313zM243.8 148.9L243.8 135.3L244.6 128.1L246.4 128.1L247.4 142.1L248 150.8L248 152.9L246.2 138.2zM247.5 302.4L247.5 315.7L248.3 322.5L250 322.5L251.2 308.9L251.9 300.2L251.9 301.5L249.4 312.7zM251.4 151.1L251.4 135.3L252.2 128.1L254 128.1L255.1 142.1L255.6 150.8L255.6 153.6L253.9 141.7zM255.2 298.6L255.2 315.7L256 322.5L257.7 322.5L258.9 308.9L259.6 300.2L259.6 300.2L257 314.9zM259.1 153.8L259.1 135.3L259.9 128.1L261.7 128.1L262.8 142.1L263.3 150.8L263.3 157.3L261.3 140.2zM262.9 295.2L262.9 315.7L263.7 322.5L265.4 322.5L266.6 308.9L267.2 300.2L267.2 296L265.5 304.4zM266.8 151.3L266.8 135.3L267.6 128.1L269.4 128.1L270.4 142.1L271 150.8L271 155.7L269 143.7zM270.5 292.6L270.5 315.7L271.3 322.5L273.1 322.5L274.2 308.9L274.9 300.2L274.9 294.6L272.4 304.9zM274.4 155L274.4 135.3L275.2 128.1L277 128.1L278.1 142.1L278.6 150.8L278.6 154.6L276.9 146.8zM278.2 296.3L278.2 315.7L279 322.5L280.7 322.5L281.9 308.9L282.6 300.2L282.6 297.1L280.5 308.3zM282.1 152.7L282.1 135.3L282.9 128.1L284.7 128.1L285.8 142.1L286.3 150.8L286.3 153.3L284.1 137.8zM285.9 297.5L285.9 315.7L286.7 322.5L288.4 322.5L289.6 308.9L290.2 300.2L290.2 301.1L288.1 308.7zM289.8 155.8L289.8 135.3L290.6 128.1L292.4 128.1L293.4 142.1L294 150.8L294 153L291.4 142.5zM293.5 298.7L293.5 315.7L294.3 322.5L296.1 322.5L297.2 308.9L297.9 300.2L297.9 298.7L295.7 305.9zM297.4 153.2L297.4 135.3L298.2 128.1L300 128.1L301.1 142.1L301.6 150.8L301.6 151.3L299.1 139.1zM301.2 295.2L301.2 315.7L302 322.5L303.7 322.5L304.9 308.9L305.6 300.2L305.6 293.1L303.3 310zM305.1 154L305.1 135.3L305.9 128.1L307.7 128.1L308.8 142.1L309.3 150.8L309.3 154L307.1 142.6zM308.9 297L308.9 315.7L309.7 322.5L311.4 322.5L312.6 308.9L313.2 300.2L313.2 299.2L310.6 308.5zM312.8 152.1L312.8 135.3L313.6 128.1L315.4 128.1L316.4 142.1L317 150.8L317 154.6L315.2 143.3zM316.5 294L316.5 315.7L317.3 322.5L319.1 322.5L320.3 308.9L320.9 300.2L320.9 296.5L318.3 306.6zM320.5 155.7L320.5 135.3L321.3 128.1L323.1 128.1L324.1 142.1L324.7 150.8L324.7 155.2L322.9 140.4zM324.2 294.2L324.2 315.7L325 322.5L326.7 322.5L327.9 308.9L328.6 300.2L328.6 296.9L326.3 308zM328.1 157.4L328.1 135.3L328.9 128.1L330.7 128.1L331.8 142.1L332.3 150.8L332.3 157.1L330.5 143.7zM331.9 298L331.9 315.7L332.7 322.5L334.4 322.5L335.6 308.9L336.2 300.2L336.2 301.1L334.2 309.3zM335.8 152.4L335.8 135.3L336.6 128.1L338.4 128.1L339.4 142.1L340 150.8L340 152.6L338.2 143.2zM339.6 295L339.6 315.7L340.4 322.5L342.1 322.5L343.3 308.9L343.9 300.2L343.9 295.3L341.6 306.6zM343.5 152.5L343.5 135.3L344.3 128.1L346.1 128.1L347.1 142.1L347.7 150.8L347.7 148.7L345.9 143.5zM347.2 300.3L347.2 315.7L348 322.5L349.8 322.5L350.9 308.9L351.6 300.2L351.6 302.7L349.1 316.2zM351.1 150.4L351.1 135.3L351.9 128.1L353.7 128.1L354.8 142.1L355.3 150.8L355.3 152L353 139zM354.9 294.9L354.9 315.7L355.7 322.5L357.4 322.5L358.6 308.9L359.3 300.2L359.3 296.6L356.9 304.1zM358.8 153.8L358.8 135.3L359.6 128.1L361.4 128.1L362.5 142.1L363 150.8L363 150.7L361.3 136.5zM362.6 301.9L362.6 315.7L363.4 322.5L365.1 322.5L366.3 308.9L366.9 300.2L366.9 297.6L365 312.3zM366.5 156.9L366.5 135.3L367.3 128.1L369.1 128.1L370.1 142.1L370.7 150.8L370.7 155.8L368.5 142.9zM370.2 300.8L370.2 315.7L371 322.5L372.8 322.5L374 308.9L374.6 300.2L374.6 299.1L372.8 310.5zM374.2 152.5L374.2 135.3L375 128.1L376.8 128.1L377.8 142.1L378.4 150.8L378.4 155.3L376.3 143.5zM377.9 297.8L377.9 315.7L378.7 322.5L380.4 322.5L381.6 308.9L382.3 300.2L382.3 301.5L380.4 313.6zM381.8 153.9L381.8 135.3L382.6 128.1L384.4 128.1L385.5 142.1L386 150.8L386 149.8L383.5 138.8zM385.6 294.6L385.6 315.7L386.4 322.5L388.1 322.5L389.3 308.9L389.9 300.2L389.9 295.4L387.7 307.6zM389.5 154.3L389.5 135.3L390.3 128.1L392.1 128.1L393.1 142.1L393.7 150.8L393.7 153.7L391.2 144.1zM393.2 296.7L393.2 315.7L394 322.5L395.8 322.5L397 308.9L397.6 300.2L397.6 292.3L395.4 309.1zM397.2 155.9L397.2 135.3L398 128.1L399.8 128.1L400.8 142.1L401.4 150.8L401.4 154.3L399.3 144.6zM400.9 294.8L400.9 315.7L401.7 322.5L403.4 322.5L404.6 308.9L405.3 300.2L405.3 294.5L403.2 306.5zM404.8 152.8L404.8 135.3L405.6 128.1L407.4 128.1L408.5 142.1L409 150.8L409 153.8L406.8 144.3zM408.6 299.4L408.6 315.7L409.4 322.5L411.1 322.5L412.3 308.9L412.9 300.2L412.9 299.4L410.9 308.6zM412.5 154.8L412.5 135.3L413.3 128.1L415.1 128.1L416.1 142.1L416.7 150.8L416.7 153.2L414.5 142.6zM416.2 298.4L416.2 315.7L417.1 322.5L418.8 322.5L420 308.9L420.6 300.2L420.6 298.8L418.6 308zM420.2 157L420.2 135.3L421 128.1L422.8 128.1L423.8 142.1L424.4 150.8L424.4 154.8L422.7 145.6zM423.9 298.4L423.9 315.7L424.7 322.5L426.5 322.5L427.6 308.9L428.3 300.2L428.3 295.3L426.1 310.6zM427.8 154.8L427.8 135.3L428.6 128.1L430.4 128.1L431.5 142.1L432 150.8L432 154.4L430.2 143.2zM431.6 299.6L431.6 315.7L432.4 322.5L434.1 322.5L435.3 308.9L436 300.2L436 296.5L433.9 310.6zM435.5 158.8L435.5 135.3L436.3 128.1L438.1 128.1L439.2 142.1L439.7 150.8L439.7 159.3L437.2 143zM439.3 296.4L439.3 315.7L440.1 322.5L441.8 322.5L443 308.9L443.6 300.2L443.6 292.2L441.8 303.4zM443.2 154.6L443.2 135.3L444 128.1L445.8 128.1L446.8 142.1L447.4 150.8L447.4 154.7L445.7 143.1zM446.9 299.3L446.9 315.7L447.7 322.5L449.5 322.5L450.7 308.9L451.3 300.2L451.3 299.1L449.1 305.4zM450.9 154.2L450.9 135.3L451.7 128.1L453.4 128.1L454.5 142.1L455.1 150.8L455.1 150.2L452.5 138.4zM454.6 296.4L454.6 315.7L455.4 322.5L457.1 322.5L458.3 308.9L459 300.2L459 294.8L456.5 310.6zM458.5 154.9L458.5 135.3L459.3 128.1L461.1 128.1L462.2 142.1L462.7 150.8L462.7 155.9L460.5 141.6zM462.3 295.9L462.3 315.7L463.1 322.5L464.8 322.5L466 308.9L466.6 300.2L466.6 294.6L464.5 307.5zM466.2 150.9L466.2 135.3L467 128.1L468.8 128.1L469.8 142.1L470.4 150.8L470.4 152.2L468.5 136.7zM469.9 299.9L469.9 315.7L470.7 322.5L472.5 322.5L473.7 308.9L474.3 300.2L474.3 298.9L472.3 310.8zM473.9 152.7L473.9 135.3L474.7 128.1L476.5 128.1L477.5 142.1L478.1 150.8L478.1 149.8L476.4 142.9zM477.6 297.1L477.6 315.7L478.4 322.5L480.1 322.5L481.3 308.9L482 300.2L482 295.9L479.6 310.9zM481.5 155.3L481.5 135.3L482.3 128.1L484.1 128.1L485.2 142.1L485.7 150.8L485.7 157.1L483.8 145.7zM485.3 299.4L485.3 315.7L486.1 322.5L487.8 322.5L489 308.9L489.6 300.2L489.6 299.9L487.8 313.8zM489.2 154.3L489.2 135.3L490 128.1L491.8 128.1L492.8 142.1L493.4 150.8L493.4 155.5L491.3 144zM492.9 294.9L492.9 315.7L493.8 322.5L495.5 322.5L496.7 308.9L497.3 300.2L497.3 295.6L495.4 306.9zM496.9 153.8L496.9 135.3L497.7 128.1L499.5 128.1L500.5 142.1L501.1 150.8L501.1 155.7L498.9 144.7zM500.6 301.1L500.6 315.7L501.4 322.5L503.2 322.5L504.3 308.9L505 300.2L505 299.5L503 311.7zM504.5 151.8L504.5 135.3L505.3 128.1L507.1 128.1L508.2 142.1L508.7 150.8L508.7 149.1L506.6 137.6zM508.3 294.2L508.3 315.7L509.1 322.5L510.8 322.5L512 308.9L512.7 300.2L512.7 296.3L510.9 309zM512.2 152.6L512.2 135.3L513 128.1L514.8 128.1L515.9 142.1L516.4 150.8L516.4 152.5L514 142.4zM516 300.4L516 315.7L516.8 322.5L518.5 322.5L519.7 308.9L520.3 300.2L520.3 297.5L518.5 313.8zM519.9 155.4L519.9 135.3L520.7 128.1L522.5 128.1L523.5 142.1L524.1 150.8L524.1 157L521.6 141.3zM523.6 298.5L523.6 315.7L524.4 322.5L526.2 322.5L527.4 308.9L528 300.2L528 299.9L526 309.9zM527.5 157.9L527.5 135.3L528.3 128.1L530.1 128.1L531.2 142.1L531.8 150.8L531.8 157.1L529.4 146zM531.3 300.1L531.3 315.7L532.1 322.5L533.8 322.5L535 308.9L535.7 300.2L535.7 298.1L533.1 308.5zM535.2 154.4L535.2 135.3L536 128.1L537.8 128.1L538.9 142.1L539.4 150.8L539.4 153.4L537.7 147zM539 296.7L539 315.7L539.8 322.5L541.5 322.5L542.7 308.9L543.3 300.2L543.3 295.9L541.4 305.1zM542.9 154.3L542.9 135.3L543.7 128.1L545.5 128.1L546.5 142.1L547.1 150.8L547.1 153.6L544.8 142.1zM546.6 301.2L546.6 315.7L547.4 322.5L549.2 322.5L550.4 308.9L551 300.2L551 299.2L548.4 312.2zM550.6 154.5L550.6 135.3L551.4 128.1L553.2 128.1L554.2 142.1L554.8 150.8L554.8 152.9L552.7 140.2zM554.3 295.8L554.3 315.7L555.1 322.5L556.8 322.5L558 308.9L558.7 300.2L558.7 293.6L556.9 307.9zM558.2 154.5L558.2 135.3L559 128.1L560.8 128.1L561.9 142.1L562.4 150.8L562.4 154.4L560.2 137.3zM562 299.2L562 315.7L562.8 322.5L564.5 322.5L565.7 308.9L566.4 300.2L566.4 299.5L564.1 310.9zM565.9 156.6L565.9 135.3L566.7 128.1L568.5 128.1L569.6 142.1L570.1 150.8L570.1 153.9L568.3 147.1zM569.6 298.7L569.6 315.7L570.4 322.5L572.2 322.5L573.4 308.9L574 300.2L574 296.4L571.7 308zM573.6 153.4L573.6 135.3L574.4 128.1L576.2 128.1L577.2 142.1L577.8 150.8L577.8 152.4L575.9 139.5zM577.3 295.5L577.3 315.7L578.1 322.5L579.9 322.5L581 308.9L581.7 300.2L581.7 296.5L579.8 307.1zM581.2 153L581.2 135.3L582 128.1L583.8 128.1L584.9 142.1L585.4 150.8L585.4 155.8L582.9 146.5zM585 296L585 315.7L585.8 322.5L587.5 322.5L588.7 308.9L589.4 300.2L589.4 293.1L586.9 308.3zM588.9 153.1L588.9 135.3L589.7 128.1L591.5 128.1L592.6 142.1L593.1 150.8L593.1 153.1L591.1 139.9zM592.7 294.4L592.7 315.7L593.5 322.5L595.2 322.5L596.4 308.9L597 300.2L597 295L594.9 303.8zM596.6 157L596.6 135.3L597.4 128.1L599.2 128.1L600.2 142.1L600.8 150.8L600.8 158L599 141.6zM600.3 302.1L600.3 315.7L601.1 322.5L602.9 322.5L604.1 308.9L604.7 300.2L604.7 300.2L602.6 310.6zM604.2 150.5L604.2 135.3L605 128.1L606.9 128.1L607.9 142.1L608.5 150.8L608.5 153.8L606.7 139.5zM608 297.7L608 315.7L608.8 322.5L610.5 322.5L611.7 308.9L612.4 300.2L612.4 294.8L610.5 310.8zM611.9 152.7L611.9 135.3L612.7 128.1L614.5 128.1L615.6 142.1L616.1 150.8L616.1 152.8L613.7 140.8zM615.7 295.2L615.7 315.7L616.5 322.5L618.2 322.5L619.4 308.9L620 300.2L620 298.2L617.8 309.1zM619.6 151L619.6 135.3L620.4 128.1L622.2 128.1L623.2 142.1L623.8 150.8L623.8 155L622 138.2zM623.3 295.9L623.3 315.7L624.1 322.5L625.9 322.5L627.1 308.9L627.7 300.2L627.7 296.8L625.1 308.5zM627.3 151.4L627.3 135.3L628.1 128.1L629.9 128.1L630.9 142.1L631.5 150.8L631.5 151.7L629.6 143.4zM631 296.5L631 315.7L631.8 322.5L633.5 322.5L634.7 308.9L635.4 300.2L635.4 296.9L633.4 307.3zM634.9 152.9L634.9 135.3L635.7 128.1L637.5 128.1L638.6 142.1L639.1 150.8L639.1 150L637.4 137.8zM638.7 298.1L638.7 315.7L639.5 322.5L641.2 322.5L642.4 308.9L643 300.2L643 295L640.4 308.4zM642.6 158L642.6 135.3L643.4 128.1L645.2 128.1L646.2 142.1L646.8 150.8L646.8 156.6L644.9 147.9zM646.3 297.2L646.3 315.7L647.1 322.5L648.9 322.5L650.1 308.9L650.7 300.2L650.7 296.6L648.5 310.5zM650.3 152.5L650.3 135.3L651.1 128.1L652.9 128.1L653.9 142.1L654.5 150.8L654.5 150L652.6 143.1zM654 295.8L654 315.7L654.8 322.5L656.6 322.5L657.7 308.9L658.4 300.2L658.4 296.8L655.9 308.3zM657.9 158.5L657.9 135.3L658.7 128.1L660.5 128.1L661.6 142.1L662.1 150.8L662.1 158.8L660 143zM661.7 293.8L661.7 315.7L662.5 322.5L664.2 322.5L665.4 308.9L666.1 300.2L666.1 294.7L663.5 304zM665.6 158.8L665.6 135.3L666.4 128.1L668.2 128.1L669.3 142.1L669.8 150.8L669.8 157L667.3 148.2zM669.4 293.8L669.4 315.7L670.2 322.5L671.9 322.5L673.1 308.9L673.7 300.2L673.7 295L671.1 304.9zM673.3 154.9L673.3 135.3L674.1 128.1L675.9 128.1L676.9 142.1L677.5 150.8L677.5 152.1L675.1 146.9zM677 294.4L677 315.7L677.8 322.5L679.6 322.5L680.8 308.9L681.4 300.2L681.4 295.1L679.1 303.2zM680.9 158.4L680.9 135.3L681.7 128.1L683.5 128.1L684.6 142.1L685.1 150.8L685.1 157.4L683.3 142.6zM684.7 299.1L684.7 315.7L685.5 322.5L687.2 322.5L688.4 308.9L689.1 300.2L689.1 295.8L686.7 306.9zM688.6 151L688.6 135.3L689.4 128.1L691.2 128.1L692.3 142.1L692.8 150.8L692.8 153.6L690.9 141.3zM692.4 300.9L692.4 315.7L693.2 322.5L694.9 322.5L696.1 308.9L696.7 300.2L696.7 298.2L694.1 307.8zM696.3 158.2L696.3 135.3L697.1 128.1L698.9 128.1L699.9 142.1L700.5 150.8L700.5 155.2L698.8 148.2zM700 297.5L700 315.7L700.8 322.5L702.6 322.5L703.8 308.9L704.4 300.2L704.4 296.7L702.6 306.7zM704 153L704 135.3L704.8 128.1L706.6 128.1L707.6 142.1L708.2 150.8L708.2 150.2L706.5 140.8zM707.7 293.5L707.7 315.7L708.5 322.5L710.2 322.5L711.4 308.9L712.1 300.2L712.1 292.6L709.8 309.2zM711.6 154L711.6 135.3L712.4 128.1L714.2 128.1L715.3 142.1L715.8 150.8L715.8 156.4L714 139.5zM715.4 300.5L715.4 315.7L716.2 322.5L717.9 322.5L719.1 308.9L719.8 300.2L719.8 300.9L717.4 311zM719.3 155.6L719.3 135.3L720.1 128.1L721.9 128.1L723 142.1L723.5 150.8L723.5 154.4L721.2 140.2zM723 296.1L723 315.7L723.8 322.5L725.6 322.5L726.8 308.9L727.4 300.2L727.4 296.1L725.1 307.6zM727 155.5L727 135.3L727.8 128.1L729.6 128.1L730.6 142.1L731.2 150.8L731.2 156.1L729 140.3zM730.7 299.9L730.7 315.7L731.5 322.5L733.3 322.5L734.4 308.9L735.1 300.2L735.1 297.8L733.2 307.2zM734.6 150.9L734.6 135.3L735.4 128.1L737.2 128.1L738.3 142.1L738.8 150.8L738.8 153L737.1 137.9zM738.4 298.1L738.4 315.7L739.2 322.5L740.9 322.5L742.1 308.9L742.8 300.2L742.8 296.8L740.5 309.4zM742.3 152.5L742.3 135.3L743.1 128.1L744.9 128.1L746 142.1L746.5 150.8L746.5 152.5L744 138.4zM746.1 297L746.1 315.7L746.9 322.5L748.6 322.5L749.8 308.9L750.4 300.2L750.4 296.6L748.4 306zM750 155.5L750 135.3L750.8 128.1L752.6 128.1L753.6 142.1L754.2 150.8L754.2 150.9L751.8 143.9zM753.7 297.3L753.7 315.7L754.5 322.5L756.3 322.5L757.5 308.9L758.1 300.2L758.1 298.2L756.2 311.8zM757.6 155L757.6 135.3L758.4 128.1L760.2 128.1L761.3 142.1L761.9 150.8L761.9 155.5L760.1 144.7zM761.4 292.3L761.4 315.7L762.2 322.5L763.9 322.5L765.1 308.9L765.8 300.2L765.8 293.2L764 310.4zM765.3 156.7L765.3 135.3L766.1 128.1L767.9 128.1L769 142.1L769.5 150.8L769.5 154.9L767.5 147.3zM769.1 299.5L769.1 315.7L769.9 322.5L771.6 322.5L772.8 308.9L773.4 300.2L773.4 297.5L771.4 313.1zM773 156L773 135.3L773.8 128.1L775.6 128.1L776.6 142.1L777.2 150.8L777.2 153.6L775.4 139.5zM776.7 295.5L776.7 315.7L777.5 322.5L779.3 322.5L780.5 308.9L781.1 300.2L781.1 296.4L778.5 306.6zM780.7 154.8L780.7 135.3L781.5 128.1L783.3 128.1L784.3 142.1L784.9 150.8L784.9 154.5L783 146.9zM784.4 297.5L784.4 315.7L785.2 322.5L786.9 322.5L788.1 308.9L788.8 300.2L788.8 295.4L786.4 309.3zM788.3 151.2L788.3 135.3L789.1 128.1L790.9 128.1L792 142.1L792.5 150.8L792.5 152.4L790.1 139.3zM792.1 297.1L792.1 315.7L792.9 322.5L794.6 322.5L795.8 308.9L796.5 300.2L796.5 296.8L794.8 308.6zM796 150.9L796 135.3L796.8 128.1L798.6 128.1L799.7 142.1L800.2 150.8L800.2 153.4L798.5 141zM799.8 302.2L799.8 315.7L800.5 322.5L802.3 322.5L803.5 308.9L804.1 300.2L804.1 301.3L801.8 311.5zM803.7 148.3L803.7 135.3L804.5 128.1L806.3 128.1L807.3 142.1L807.9 150.8L807.9 148.2L805.5 140.5zM807.4 295.6L807.4 315.7L808.2 322.5L810 322.5L811.1 308.9L811.8 300.2L811.8 294.6L809.7 304.4zM811.3 155.7L811.3 135.3L812.1 128.1L813.9 128.1L815 142.1L815.5 150.8L815.5 157.2L813.3 147.2zM815.1 300.1L815.1 315.7L815.9 322.5L817.6 322.5L818.8 308.9L819.5 300.2L819.5 297L817.1 308.7zM819 156.4L819 135.3L819.8 128.1L821.6 128.1L822.7 142.1L823.2 150.8L823.2 153L821.3 145.7zM822.8 302.8L822.8 315.7L823.6 322.5L825.3 322.5L826.5 308.9L827.1 300.2L827.1 299.9L824.6 315.4zM826.7 155.2L826.7 135.3L827.5 128.1L829.3 128.1L830.3 142.1L830.9 150.8L830.9 154.8L828.6 143.1zM830.4 298.6L830.4 315.7L831.2 322.5L833 322.5L834.1 308.9L834.8 300.2L834.8 301.6L832.9 311zM834.3 156.3L834.3 135.3L835.1 128.1L836.9 128.1L838 142.1L838.5 150.8L838.5 157.5L836.1 140.8zM838.1 297.7L838.1 315.7L838.9 322.5L840.6 322.5L841.8 308.9L842.5 300.2L842.5 295.3L840 306.2zM842 152.1L842 135.3L842.8 128.1L844.6 128.1L845.7 142.1L846.2 150.8L846.2 150.5L844.6 136.1zM845.8 292.6L845.8 315.7L846.6 322.5L848.3 322.5L849.5 308.9L850.1 300.2L850.1 293.8L847.8 301.5zM849.7 156.5L849.7 135.3L850.5 128.1L852.3 128.1L853.3 142.1L853.9 150.8L853.9 157.7L851.5 148.7zM853.4 298.9L853.4 315.7L854.2 322.5L856 322.5L857.2 308.9L857.8 300.2L857.8 297.1L855.6 308.9zM857.4 152L857.4 135.3L858.2 128.1L860 128.1L861 142.1L861.6 150.8L861.6 151.4L859.2 137.6zM861.1 296.1L861.1 315.7L861.9 322.5L863.6 322.5L864.8 308.9L865.5 300.2L865.5 294.8L863.6 309zM865 154.4L865 135.3L865.8 128.1L867.6 128.1L868.7 142.1L869.2 150.8L869.2 155.7L867.3 144.6zM868.8 301.9L868.8 315.7L869.6 322.5L871.3 322.5L872.5 308.9L873.1 300.2L873.1 300.8L871.4 311.3zM872.7 151.1L872.7 135.3L873.5 128.1L875.3 128.1L876.4 142.1L876.9 150.8L876.9 151.5L874.5 140.7zM876.4 296L876.4 315.7L877.2 322.5L879 322.5L880.2 308.9L880.8 300.2L880.8 295.4L878.5 311.1zM880.4 154.9L880.4 135.3L881.2 128.1L883 128.1L884 142.1L884.6 150.8L884.6 155L882.9 140.4zM884.1 294L884.1 315.7L884.9 322.5L886.7 322.5L887.8 308.9L888.5 300.2L888.5 294.5L886.7 306.8zM888 149.4L888 135.3L888.8 128.1L890.6 128.1L891.7 142.1L892.2 150.8L892.2 153.8L890.2 138.9zM891.8 297.6L891.8 315.7L892.6 322.5L894.3 322.5L895.5 308.9L896.2 300.2L896.2 298.6L894.4 307.3zM895.7 155.6L895.7 135.3L896.5 128.1L898.3 128.1L899.4 142.1L899.9 150.8L899.9 156.3L898.2 145.9zM899.5 301.1L899.5 315.7L900.3 322.5L902 322.5L903.2 308.9L903.8 300.2L903.8 302.4L901.3 309.4zM903.4 152.9L903.4 135.3L903.7 128.1L904.3 128.1L904.8 142.1L905 150.8L905 155.6L904.6 144.5z" fill="#777777" stroke="#777777" stroke-width="0.5"/>
<path d="M180.8 150.8V317.6M184.3 300.2V133.4M210 150.8V317.6M214 300.2V133.4M217.8 150.8V317.6M221.7 300.2V133.4M225.4 150.8V317.6M229.4 300.2V133.4M233.1 150.8V317.6M237 300.2V133.4M240.8 150.8V317.6M244.7 300.2V133.4M248.5 150.8V317.6M252.4 300.2V133.4M256.1 150.8V317.6M260.1 300.2V133.4M263.8 150.8V317.6M267.7 300.2V133.4M271.5 150.8V317.6M275.4 300.2V133.4M279.1 150.8V317.6M283.1 300.2V133.4M286.8 150.8V317.6M290.7 300.2V133.4M294.5 150.8V317.6M298.4 300.2V133.4M302.1 150.8V317.6M306.1 300.2V133.4M309.8 150.8V317.6M313.7 300.2V133.4M317.5 150.8V317.6M321.4 300.2V133.4M325.2 150.8V317.6M329.1 300.2V133.4M332.8 150.8V317.6M336.8 300.2V133.4M340.5 150.8V317.6M344.4 300.2V133.4M348.2 150.8V317.6M352.1 300.2V133.4M355.8 150.8V317.6M359.8 300.2V133.4M363.5 150.8V317.6M367.4 300.2V133.4M371.2 150.8V317.6M375.1 300.2V133.4M378.9 150.8V317.6M382.8 300.2V133.4M386.5 150.8V317.6M390.4 300.2V133.4M394.2 150.8V317.6M398.1 300.2V133.4M401.9 150.8V317.6M405.8 300.2V133.4M409.5 150.8V317.6M413.4 300.2V133.4M417.2 150.8V317.6M421.1 300.2V133.4M424.9 150.8V317.6M428.8 300.2V133.4M432.5 150.8V317.6M436.5 300.2V133.4M440.2 150.8V317.6M444.1 300.2V133.4M447.9 150.8V317.6M451.8 300.2V133.4M455.6 150.8V317.6M459.5 300.2V133.4M463.2 150.8V317.6M467.1 300.2V133.4M470.9 150.8V317.6M474.8 300.2V133.4M478.6 150.8V317.6M482.5 300.2V133.4M486.2 150.8V317.6M490.1 300.2V133.4M493.9 150.8V317.6M497.8 300.2V133.4M501.6 150.8V317.6M505.5 300.2V133.4M509.2 150.8V317.6M513.2 300.2V133.4M516.9 150.8V317.6M520.8 300.2V133.4M524.6 150.8V317.6M528.5 300.2V133.4M532.2 150.8V317.6M536.2 300.2V133.4M539.9 150.8V317.6M543.8 300.2V133.4M547.6 150.8V317.6M551.5 300.2V133.4M555.3 150.8V317.6M559.2 300.2V133.4M562.9 150.8V317.6M566.9 300.2V133.4M570.6 150.8V317.6M574.5 300.2V133.4M578.3 150.8V317.6M582.2 300.2V133.4M585.9 150.8V317.6M589.9 300.2V133.4M593.6 150.8V317.6M597.5 300.2V133.4M601.3 150.8V317.6M605.2 300.2V133.4M609 150.8V317.6M612.9 300.2V133.4M616.6 150.8V317.6M620.5 300.2V133.4M624.3 150.8V317.6M628.2 300.2V133.4M632 150.8V317.6M635.9 300.2V133.4M639.6 150.8V317.6M643.5 300.2V133.4M647.3 150.8V317.6M651.2 300.2V133.4M655 150.8V317.6M658.9 300.2V133.4M662.6 150.8V317.6M666.6 300.2V133.4M670.3 150.8V317.6M674.2 300.2V133.4M678 150.8V317.6M681.9 300.2V133.4M685.6 150.8V317.6M689.6 300.2V133.4M693.3 150.8V317.6M697.2 300.2V133.4M701 150.8V317.6M704.9 300.2V133.4M708.7 150.8V317.6M712.6 300.2V133.4M716.3 150.8V317.6M720.2 300.2V133.4M724 150.8V317.6M727.9 300.2V133.4M731.7 150.8V317.6M735.6 300.2V133.4M739.3 150.8V317.6M743.3 300.2V133.4M747 150.8V317.6M750.9 300.2V133.4M754.7 150.8V317.6M758.6 300.2V133.4M762.4 150.8V317.6M766.3 300.2V133.4M770 150.8V317.6M773.9 300.2V133.4M777.7 150.8V317.6M781.6 300.2V133.4M785.4 150.8V317.6M789.3 300.2V133.4M793 150.8V317.6M797 300.2V133.4M800.7 150.8V317.6M804.6 300.2V133.4M808.4 150.8V317.6M812.3 300.2V133.4M816 150.8V317.6M820 300.2V133.4M823.7 150.8V317.6M827.6 300.2V133.4M831.4 150.8V317.6M835.3 300.2V133.4M839 150.8V317.6M843 300.2V133.4M846.7 150.8V317.6M850.6 300.2V133.4M854.4 150.8V317.6M858.3 300.2V133.4M862.1 150.8V317.6M866 300.2V133.4M869.7 150.8V317.6M873.6 300.2V133.4M877.4 150.8V317.6M881.3 300.2V133.4M885.1 150.8V317.6M889 300.2V133.4M892.7 150.8V317.6M896.7 300.2V133.4M900.4 150.8V317.6M904.3 300.2V133.4" stroke="#777777" stroke-width="1.39"/>
<path d="M139 133.4L139.3 133.4L139.7 133.4L140 133.4L140.4 133.4L140.7 133.4L141.1 133.4L141.4 133.4L141.8 136.6L142.1 141.3L142.5 145.8L142.8 141L143.2 136.2L143.5 133.4L143.9 133.4L144.2 133.4L144.6 133.4L144.9 133.4L145.3 133.4L145.6 133.4L146 133.4L146.3 133.4L146.7 133.4L147 133.4L147.4 133.4L147.7 133.4L148.1 133.4L148.4 133.4L148.8 133.4L149.1 133.4L149.5 136.8L149.8 141.6L150.2 145.5L150.5 140.7L150.9 135.9L151.2 133.4L151.6 133.4L151.9 133.4L152.3 133.4L152.6 133.4L153 133.4L153.3 133.4L153.7 133.4L154 133.4L154.4 133.4L154.7 133.4L155.1 133.4L155.4 133.4L155.8 133.4L156.1 133.4L156.5 133.4L156.8 133.4L157.2 137.1L157.5 141.9L157.9 145.2L158.2 140.4L158.6 135.6L158.9 133.4L159.3 133.4L159.6 133.4L160 133.4L160.3 133.4L160.7 133.4L161 133.4L161.4 133.4L161.7 133.4L162.1 133.4L162.4 133.4L162.8 133.4L163.1 133.4L163.5 133.4L163.8 133.4L164.2 133.4L164.5 133.4L164.9 137.4L165.2 142.2L165.6 144.9L165.9 140.1L166.3 135.4L166.6 133.4L167 133.4L167.3 133.4L167.7 133.4L168 133.4L168.4 133.4L168.7 133.4L169.1 133.4L169.4 133.4L169.8 133.4L170.1 133.4L170.5 133.4L170.8 133.4L171.2 133.4L171.5 133.4L171.9 133.4L172.2 133.4L172.6 137.7L172.9 142.5L173.3 144.7L173.6 139.9L174 135.1L174.3 133.4L174.7 133.4L175 133.4L175.4 133.4L175.7 133.4L176.1 133.4L176.4 133.4L176.8 133.4L177.1 133.4L177.5 133.4L177.8 133.4L178.2 133.4L178.5 133.4L178.9 133.4L179.2 133.4L179.6 133.4L179.9 133.4L179.9 164.4L179.6 164.4L179.2 164.4L178.9 164.4L178.5 164.4L178.2 164.4L177.8 161.2L177.5 157.1L177.1 153L176.8 148.8L176.4 144.7L176.1 140.6L175.7 138L175.4 142.1L175 146.3L174.7 150.4L174.3 154.5L174 158.6L173.6 162.8L173.3 164.4L172.9 164.4L172.6 164.4L172.2 164.4L171.9 164.4L171.5 164.4L171.2 164.4L170.8 164.4L170.5 164.4L170.1 161L169.8 156.8L169.4 152.7L169.1 148.6L168.7 144.5L168.4 140.3L168 138.2L167.7 142.4L167.3 146.5L167 150.6L166.6 154.8L166.3 158.9L165.9 163L165.6 164.4L165.2 164.4L164.9 164.4L164.5 164.4L164.2 164.4L163.8 164.4L163.5 164.4L163.1 164.4L162.8 164.4L162.4 160.7L162.1 156.6L161.7 152.5L161.4 148.3L161 144.2L160.7 140.1L160.3 138.5L160 142.6L159.6 146.7L159.3 150.9L158.9 155L158.6 159.1L158.2 163.2L157.9 164.4L157.5 164.4L157.2 164.4L156.8 164.4L156.5 164.4L156.1 164.4L155.8 164.4L155.4 164.4L155.1 164.4L154.7 160.5L154.4 156.4L154 152.2L153.7 148.1L153.3 144L153 139.9L152.6 138.7L152.3 142.9L151.9 147L151.6 151.1L151.2 155.2L150.9 159.4L150.5 163.5L150.2 164.4L149.8 164.4L149.5 164.4L149.1 164.4L148.8 164.4L148.4 164.4L148.1 164.4L147.7 164.4L147.4 164.4L147 160.2L146.7 156.1L146.3 152L146 147.9L145.6 143.7L145.3 139.6L144.9 139L144.6 143.1L144.2 147.2L143.9 151.4L143.5 155.5L143.2 159.6L142.8 163.7L142.5 164.4L142.1 164.4L141.8 164.4L141.4 164.4L141.1 164.4L140.7 164.4L140.4 164.4L140 164.4L139.7 164.1L139.3 160L139 155.9zM179.4 291.2L179.4 315.7L180.1 322.5L181.4 322.5L182.4 308.9L182.9 300.2L182.9 289.6L181.1 300.3zM182.4 133.4L182.8 133.4L183.1 133.4L183.5 133.4L183.8 133.4L184.2 133.4L184.5 133.4L184.9 133.4L185.2 133.4L185.6 133.4L185.9 133.4L186.3 133.4L186.6 133.4L187 133.4L187.3 133.4L187.7 134.5L188 139.2L188.4 144L188.7 143.2L189.1 138.4L189.4 133.6L189.8 133.4L190.1 133.4L190.4 133.4L190.8 133.4L191.1 133.4L191.5 133.4L191.8 133.4L192.2 133.4L192.5 133.4L192.9 133.4L193.2 133.4L193.6 133.4L193.9 133.4L194.3 133.4L194.6 133.4L195 133.4L195.3 134.3L195.7 139.1L196 143.9L196.4 143.3L196.7 138.5L197.1 133.7L197.4 133.4L197.8 133.4L198.1 133.4L198.5 133.4L198.8 133.4L199.2 133.4L199.5 133.4L199.9 133.4L200.2 133.4L200.5 133.4L200.9 133.4L201.2 133.4L201.6 133.4L201.9 133.4L202.3 133.4L202.6 133.4L203 134.2L203.3 139L203.7 143.7L204 143.4L204.4 138.6L204.7 133.9L205.1 133.4L205.4 133.4L205.8 133.4L206.1 133.4L206.5 133.4L206.8 133.4L207.2 133.4L207.5 133.4L207.9 133.4L208.2 133.4L208.6 133.4L208.9 133.4L209.3 133.4L209.6 133.4L209.6 164.4L209.3 164.4L208.9 164.4L208.6 162.1L208.2 158L207.9 153.9L207.5 149.7L207.2 145.6L206.8 141.5L206.5 137.4L206.1 141.2L205.8 145.3L205.4 149.4L205.1 153.5L204.7 157.6L204.4 161.7L204 164.4L203.7 164.4L203.3 164.4L203 164.4L202.6 164.4L202.3 164.4L201.9 164.4L201.6 164.4L201.2 164.4L200.9 162.2L200.5 158.1L200.2 154L199.9 149.9L199.5 145.7L199.2 141.6L198.8 137.5L198.5 141L198.1 145.2L197.8 149.3L197.4 153.4L197.1 157.5L196.7 161.6L196.4 164.4L196 164.4L195.7 164.4L195.3 164.4L195 164.4L194.6 164.4L194.3 164.4L193.9 164.4L193.6 164.4L193.2 162.3L192.9 158.2L192.5 154.1L192.2 150L191.8 145.9L191.5 141.7L191.1 137.6L190.8 140.9L190.4 145L190.1 149.2L189.8 153.3L189.4 157.4L189.1 161.5L188.7 164.4L188.4 164.4L188 164.4L187.7 164.4L187.3 164.4L187 164.4L186.6 164.4L186.3 164.4L185.9 164.4L185.6 162.4L185.2 158.3L184.9 154.2L184.5 150.1L184.2 146L183.8 141.9L183.5 137.7L183.1 140.8L182.8 144.9L182.4 149zM209.1 297.7L209.1 315.7L209.9 322.5L211.7 322.5L212.9 308.9L213.6 300.2L213.6 296.6L211.1 305.6zM213.1 160.8L213.1 135.3L213.9 128.1L215.7 128.1L216.8 142.1L217.3 150.8L217.3 156.8L215.6 149.7zM216.9 297.9L216.9 315.7L217.7 322.5L219.4 322.5L220.6 308.9L221.2 300.2L221.2 295.5L219.2 305.4zM220.8 153.3L220.8 135.3L221.6 128.1L223.4 128.1L224.4 142.1L225 150.8L225 157.1L223 140.1zM224.5 295.6L224.5 315.7L225.3 322.5L227.1 322.5L228.3 308.9L228.9 300.2L228.9 295.4L226.3 304.4zM228.5 151.9L228.5 135.3L229.3 128.1L231.1 128.1L232.1 142.1L232.7 150.8L232.7 154.6L231 141.6zM232.2 296.7L232.2 315.7L233 322.5L234.8 322.5L235.9 308.9L236.6 300.2L236.6 294.9L234.3 309.5zM236.1 156.3L236.1 135.3L236.9 128.1L238.7 128.1L239.8 142.1L240.3 150.8L240.3 156.9L238.5 147.3zM239.9 289.1L239.9 315.7L240.7 322.5L242.4 322.5L243.6 308.9L244.3 300.2L244.3 290.2L242.1 304zM243.8 157.6L243.8 135.3L244.6 128.1L246.4 128.1L247.5 142.1L248 150.8L248 158.3L245.8 140.8zM247.5 293L247.5 315.7L248.3 322.5L250.1 322.5L251.3 308.9L251.9 300.2L251.9 291.7L250 302zM251.5 157.6L251.5 135.3L252.3 128.1L254.1 128.1L255.1 142.1L255.7 150.8L255.7 159.8L253.1 142.7zM255.2 293.8L255.2 315.7L256 322.5L257.8 322.5L259 308.9L259.6 300.2L259.6 291.3L257.2 305.2zM259.1 159L259.1 135.3L259.9 128.1L261.8 128.1L262.8 142.1L263.4 150.8L263.4 157.9L261.6 151.2zM262.9 298.6L262.9 315.7L263.7 322.5L265.4 322.5L266.6 308.9L267.3 300.2L267.3 295.1L264.9 313.1zM266.8 152.1L266.8 135.3L267.6 128.1L269.4 128.1L270.5 142.1L271 150.8L271 151.3L269 142.6zM270.6 295.5L270.6 315.7L271.4 322.5L273.1 322.5L274.3 308.9L274.9 300.2L274.9 296.3L272.4 305.5zM274.5 155.2L274.5 135.3L275.3 128.1L277.1 128.1L278.1 142.1L278.7 150.8L278.7 159.8L276.1 147.3zM278.2 293.5L278.2 315.7L279 322.5L280.8 322.5L282 308.9L282.6 300.2L282.6 291.1L280 302.6zM282.2 153.7L282.2 135.3L283 128.1L284.8 128.1L285.8 142.1L286.4 150.8L286.4 155.5L283.8 144.3zM285.9 293L285.9 315.7L286.7 322.5L288.4 322.5L289.6 308.9L290.3 300.2L290.3 289.9L288.1 300.7zM289.8 155.9L289.8 135.3L290.6 128.1L292.4 128.1L293.5 142.1L294 150.8L294 158.2L292.2 150zM293.6 296.1L293.6 315.7L294.4 322.5L296.1 322.5L297.3 308.9L297.9 300.2L297.9 292.5L295.7 305.2zM297.5 160.2L297.5 135.3L298.3 128.1L300.1 128.1L301.1 142.1L301.7 150.8L301.7 157.9L299.9 150.3zM301.2 292.1L301.2 315.7L302 322.5L303.8 322.5L305 308.9L305.6 300.2L305.6 293.1L303.1 303.9zM305.2 156.7L305.2 135.3L306 128.1L307.8 128.1L308.8 142.1L309.4 150.8L309.4 160.6L307.7 149.9zM308.9 297.2L308.9 315.7L309.7 322.5L311.5 322.5L312.6 308.9L313.3 300.2L313.3 296.8L311.3 305.6zM312.8 153.5L312.8 135.3L313.6 128.1L315.4 128.1L316.5 142.1L317 150.8L317 156.6L314.6 143.1zM316.6 298.8L316.6 315.7L317.4 322.5L319.1 322.5L320.3 308.9L321 300.2L321 296.1L318.9 312.3zM320.5 153.9L320.5 135.3L321.3 128.1L323.1 128.1L324.2 142.1L324.7 150.8L324.7 154.5L322.8 140.2zM324.2 294.5L324.2 315.7L325.1 322.5L326.8 322.5L328 308.9L328.6 300.2L328.6 297.8L326 311zM328.2 151.2L328.2 135.3L329 128.1L330.8 128.1L331.8 142.1L332.4 150.8L332.4 155.6L330.7 140.3zM331.9 294.1L331.9 315.7L332.7 322.5L334.5 322.5L335.7 308.9L336.3 300.2L336.3 289.7L333.8 304.9zM335.8 155.4L335.8 135.3L336.6 128.1L338.4 128.1L339.5 142.1L340.1 150.8L340.1 153.6L337.7 141.9zM339.6 293L339.6 315.7L340.4 322.5L342.1 322.5L343.3 308.9L344 300.2L344 292.8L341.4 298.4zM343.5 153.2L343.5 135.3L344.3 128.1L346.1 128.1L347.2 142.1L347.7 150.8L347.7 154.3L346 139.6zM347.3 293.2L347.3 315.7L348.1 322.5L349.8 322.5L351 308.9L351.6 300.2L351.6 294.2L349.7 302.5zM351.2 156.7L351.2 135.3L352 128.1L353.8 128.1L354.8 142.1L355.4 150.8L355.4 159.1L353.4 149.3zM354.9 296.1L354.9 315.7L355.7 322.5L357.5 322.5L358.7 308.9L359.3 300.2L359.3 292.5L357 306.9zM358.9 154.7L358.9 135.3L359.7 128.1L361.5 128.1L362.5 142.1L363.1 150.8L363.1 153.2L361.3 147.4zM362.6 291.8L362.6 315.7L363.4 322.5L365.1 322.5L366.3 308.9L367 300.2L367 292.9L364.6 302.2zM366.5 158.5L366.5 135.3L367.3 128.1L369.1 128.1L370.2 142.1L370.7 150.8L370.7 160.4L368.2 142.7zM370.3 297.1L370.3 315.7L371.1 322.5L372.8 322.5L374 308.9L374.7 300.2L374.7 294.9L372.8 306.9zM374.2 156.9L374.2 135.3L375 128.1L376.8 128.1L377.9 142.1L378.4 150.8L378.4 156.2L376.1 139.8zM377.9 296.3L377.9 315.7L378.7 322.5L380.5 322.5L381.7 308.9L382.3 300.2L382.3 295L380.5 310.9zM381.9 160.5L381.9 135.3L382.7 128.1L384.5 128.1L385.5 142.1L386.1 150.8L386.1 159.6L384 147.2zM385.6 298.1L385.6 315.7L386.4 322.5L388.2 322.5L389.3 308.9L390 300.2L390 296.2L387.8 304.4zM389.5 155.7L389.5 135.3L390.3 128.1L392.1 128.1L393.2 142.1L393.7 150.8L393.7 158.8L391.4 145.2zM393.3 296L393.3 315.7L394.1 322.5L395.8 322.5L397 308.9L397.7 300.2L397.7 299.1L395.6 310.7zM397.2 154.9L397.2 135.3L398 128.1L399.8 128.1L400.9 142.1L401.4 150.8L401.4 153.4L399.3 145.4zM401 296.2L401 315.7L401.8 322.5L403.5 322.5L404.7 308.9L405.3 300.2L405.3 298.6L403.3 312zM404.9 158.8L404.9 135.3L405.7 128.1L407.5 128.1L408.5 142.1L409.1 150.8L409.1 157.7L407.1 143zM408.6 289.9L408.6 315.7L409.4 322.5L411.2 322.5L412.4 308.9L413 300.2L413 293.4L410.5 300.4zM412.5 154.5L412.5 135.3L413.3 128.1L415.1 128.1L416.2 142.1L416.8 150.8L416.8 154.6L414.8 141.6zM416.3 291.1L416.3 315.7L417.1 322.5L418.8 322.5L420 308.9L420.7 300.2L420.7 290.1L418.6 307.1zM420.2 158.8L420.2 135.3L421 128.1L422.8 128.1L423.9 142.1L424.4 150.8L424.4 160.1L422.8 150.3zM424 298.1L424 315.7L424.8 322.5L426.5 322.5L427.7 308.9L428.3 300.2L428.3 298.8L425.8 310.9zM427.9 156.1L427.9 135.3L428.7 128.1L430.5 128.1L431.5 142.1L432.1 150.8L432.1 153.9L430.2 143.8zM431.6 295.7L431.6 315.7L432.4 322.5L434.2 322.5L435.4 308.9L436 300.2L436 298.4L434.1 310.5zM435.6 154.2L435.6 135.3L436.4 128.1L438.2 128.1L439.2 142.1L439.8 150.8L439.8 153.8L437.6 145.9zM439.3 297L439.3 315.7L440.1 322.5L441.8 322.5L443 308.9L443.7 300.2L443.7 294.1L441.2 308.5zM443.2 157.2L443.2 135.3L444 128.1L445.8 128.1L446.9 142.1L447.4 150.8L447.4 155.9L445.2 141.8zM447 295.2L447 315.7L447.8 322.5L449.5 322.5L450.7 308.9L451.4 300.2L451.4 293.3L448.7 303.4zM450.9 158.6L450.9 135.3L451.7 128.1L453.5 128.1L454.6 142.1L455.1 150.8L455.1 158.2L452.9 145.4zM454.6 298L454.6 315.7L455.4 322.5L457.2 322.5L458.4 308.9L459 300.2L459 295.3L457.3 306.1zM458.6 151.3L458.6 135.3L459.4 128.1L461.2 128.1L462.2 142.1L462.8 150.8L462.8 154.2L460.3 140.8zM462.3 291.4L462.3 315.7L463.1 322.5L464.9 322.5L466 308.9L466.7 300.2L466.7 294.6L464.8 308.1zM466.2 160.3L466.2 135.3L467 128.1L468.8 128.1L469.9 142.1L470.4 150.8L470.4 156.8L468 149.1zM470 297.2L470 315.7L470.8 322.5L472.5 322.5L473.7 308.9L474.4 300.2L474.4 298.6L471.9 308.4zM473.9 158.1L473.9 135.3L474.7 128.1L476.5 128.1L477.6 142.1L478.1 150.8L478.1 158.7L475.8 148.3zM477.7 289.7L477.7 315.7L478.5 322.5L480.2 322.5L481.4 308.9L482 300.2L482 290.8L480.2 307.7zM481.6 154.1L481.6 135.3L482.4 128.1L484.2 128.1L485.2 142.1L485.8 150.8L485.8 153.1L484.1 142.3zM485.3 296.2L485.3 315.7L486.1 322.5L487.9 322.5L489.1 308.9L489.7 300.2L489.7 296.9L487.6 309.2zM489.2 158.3L489.2 135.3L490 128.1L491.8 128.1L492.9 142.1L493.4 150.8L493.4 156.7L490.9 142zM493 293.9L493 315.7L493.8 322.5L495.5 322.5L496.7 308.9L497.4 300.2L497.4 291.6L495.4 301.6zM496.9 155L496.9 135.3L497.7 128.1L499.5 128.1L500.6 142.1L501.1 150.8L501.1 154.5L498.5 143.5zM500.7 294.6L500.7 315.7L501.5 322.5L503.2 322.5L504.4 308.9L505 300.2L505 295.2L502.5 312.6zM504.6 152.7L504.6 135.3L505.4 128.1L507.2 128.1L508.2 142.1L508.8 150.8L508.8 154L506.7 145zM508.3 294.3L508.3 315.7L509.1 322.5L510.9 322.5L512.1 308.9L512.7 300.2L512.7 298.3L510.7 310.3zM512.2 151.6L512.2 135.3L513 128.1L514.9 128.1L515.9 142.1L516.5 150.8L516.5 152.1L514.7 143.2zM516 293.1L516 315.7L516.8 322.5L518.5 322.5L519.7 308.9L520.4 300.2L520.4 297L518 307.6zM519.9 153.7L519.9 135.3L520.7 128.1L522.5 128.1L523.6 142.1L524.1 150.8L524.1 157.9L522.2 143.1zM523.7 294.4L523.7 315.7L524.5 322.5L526.2 322.5L527.4 308.9L528 300.2L528 291.8L526.3 305.8zM527.6 156.6L527.6 135.3L528.4 128.1L530.2 128.1L531.2 142.1L531.8 150.8L531.8 153.9L530.1 141.2zM531.3 297.7L531.3 315.7L532.1 322.5L533.9 322.5L535.1 308.9L535.7 300.2L535.7 297.5L533.6 310.3zM535.3 154L535.3 135.3L536.1 128.1L537.9 128.1L538.9 142.1L539.5 150.8L539.5 152.3L537.4 145.3zM539 295.2L539 315.7L539.8 322.5L541.6 322.5L542.7 308.9L543.4 300.2L543.4 293.2L540.8 304.1zM542.9 152.7L542.9 135.3L543.7 128.1L545.5 128.1L546.6 142.1L547.1 150.8L547.1 156.6L545.5 141.4zM546.7 296.6L546.7 315.7L547.5 322.5L549.2 322.5L550.4 308.9L551.1 300.2L551.1 298.3L549 303.9zM550.6 158.1L550.6 135.3L551.4 128.1L553.2 128.1L554.3 142.1L554.8 150.8L554.8 158.1L552.7 142.1zM554.3 291.3L554.3 315.7L555.1 322.5L556.9 322.5L558.1 308.9L558.7 300.2L558.7 293.2L556.9 307zM558.3 158.5L558.3 135.3L559.1 128.1L560.9 128.1L561.9 142.1L562.5 150.8L562.5 160.3L560.3 145.4zM562 298.8L562 315.7L562.8 322.5L564.6 322.5L565.8 308.9L566.4 300.2L566.4 296.6L564.4 312.4zM565.9 153.7L565.9 135.3L566.7 128.1L568.5 128.1L569.6 142.1L570.1 150.8L570.1 156.2L567.6 143.6zM569.7 299.1L569.7 315.7L570.5 322.5L572.2 322.5L573.4 308.9L574.1 300.2L574.1 298.2L571.8 306.7zM573.6 154.1L573.6 135.3L574.4 128.1L576.2 128.1L577.3 142.1L577.8 150.8L577.8 155.2L575.5 145.7zM577.4 292.2L577.4 315.7L578.2 322.5L579.9 322.5L581.1 308.9L581.7 300.2L581.7 293.4L580 304zM581.3 157.9L581.3 135.3L582.1 128.1L583.9 128.1L584.9 142.1L585.5 150.8L585.5 156.8L583.1 151.1zM585 290.2L585 315.7L585.8 322.5L587.6 322.5L588.8 308.9L589.4 300.2L589.4 292.4L587.6 307zM588.9 158.5L588.9 135.3L589.7 128.1L591.6 128.1L592.6 142.1L593.2 150.8L593.2 156.9L591.5 146.4zM592.7 290.9L592.7 315.7L593.5 322.5L595.2 322.5L596.4 308.9L597.1 300.2L597.1 290.2L595.4 306.7zM596.6 157.7L596.6 135.3L597.4 128.1L599.2 128.1L600.3 142.1L600.8 150.8L600.8 156L598.3 145zM600.4 295.2L600.4 315.7L601.2 322.5L602.9 322.5L604.1 308.9L604.8 300.2L604.8 294.4L602.8 310.3zM604.3 160.2L604.3 135.3L605.1 128.1L606.9 128.1L608 142.1L608.5 150.8L608.5 159.6L606.2 151.2zM608 298.2L608 315.7L608.8 322.5L610.6 322.5L611.8 308.9L612.4 300.2L612.4 300L609.9 308.1zM612 156.4L612 135.3L612.8 128.1L614.6 128.1L615.6 142.1L616.2 150.8L616.2 157.7L614.5 143zM615.7 293.3L615.7 315.7L616.5 322.5L618.3 322.5L619.4 308.9L620.1 300.2L620.1 292.2L618.2 304.8zM619.6 160.8L619.6 135.3L620.4 128.1L622.2 128.1L623.3 142.1L623.8 150.8L623.8 159.4L621.8 150.8zM623.4 294L623.4 315.7L624.2 322.5L625.9 322.5L627.1 308.9L627.8 300.2L627.8 296.3L625.8 308.4zM627.3 161.5L627.3 135.3L628.1 128.1L629.9 128.1L631 142.1L631.5 150.8L631.5 161L629.5 150.6zM631 292.9L631 315.7L631.8 322.5L633.6 322.5L634.8 308.9L635.4 300.2L635.4 291.6L633.4 302.6zM635 155.1L635 135.3L635.8 128.1L637.6 128.1L638.6 142.1L639.2 150.8L639.2 151.3L636.8 143.3zM638.7 289.7L638.7 315.7L639.5 322.5L641.3 322.5L642.4 308.9L643.1 300.2L643.1 292.3L641.3 305.6zM642.6 158.9L642.6 135.3L643.4 128.1L645.2 128.1L646.3 142.1L646.8 150.8L646.8 155.6L644.6 146.7zM646.4 291.3L646.4 315.7L647.2 322.5L648.9 322.5L650.1 308.9L650.8 300.2L650.8 291.2L648.5 303.2zM650.3 161.4L650.3 135.3L651.1 128.1L652.9 128.1L654 142.1L654.5 150.8L654.5 158L652.3 145zM654.1 290.8L654.1 315.7L654.9 322.5L656.6 322.5L657.8 308.9L658.4 300.2L658.4 293.7L656.2 303.9zM658 153.3L658 135.3L658.8 128.1L660.6 128.1L661.6 142.1L662.2 150.8L662.2 152.9L660.2 144.6zM661.7 296.1L661.7 315.7L662.5 322.5L664.3 322.5L665.5 308.9L666.1 300.2L666.1 294.7L664.2 302.5zM665.6 161.3L665.6 135.3L666.4 128.1L668.3 128.1L669.3 142.1L669.9 150.8L669.9 160.1L667.7 150.2zM669.4 293.8L669.4 315.7L670.2 322.5L671.9 322.5L673.1 308.9L673.8 300.2L673.8 292.4L671.8 301.9zM673.3 154.1L673.3 135.3L674.1 128.1L675.9 128.1L677 142.1L677.5 150.8L677.5 157.5L675.3 140.9zM677.1 294.8L677.1 315.7L677.9 322.5L679.6 322.5L680.8 308.9L681.4 300.2L681.4 296.4L679 305.1zM681 158.7L681 135.3L681.8 128.1L683.6 128.1L684.6 142.1L685.2 150.8L685.2 156.4L683.6 141.8zM684.7 293L684.7 315.7L685.5 322.5L687.3 322.5L688.5 308.9L689.1 300.2L689.1 289.8L687.3 304.4zM688.7 156.1L688.7 135.3L689.5 128.1L691.3 128.1L692.3 142.1L692.9 150.8L692.9 152.7L690.9 138.6zM692.4 293.5L692.4 315.7L693.2 322.5L695 322.5L696.1 308.9L696.8 300.2L696.8 294.5L695 302.4zM696.3 158.7L696.3 135.3L697.1 128.1L698.9 128.1L700 142.1L700.5 150.8L700.5 157.7L698.9 148.9zM700.1 296L700.1 315.7L700.9 322.5L702.6 322.5L703.8 308.9L704.5 300.2L704.5 294.6L702.3 307.9zM704 152.6L704 135.3L704.8 128.1L706.6 128.1L707.7 142.1L708.2 150.8L708.2 154.6L705.7 146.3zM707.7 295.9L707.7 315.7L708.5 322.5L710.3 322.5L711.5 308.9L712.1 300.2L712.1 295.5L710.4 303.6zM711.7 155.9L711.7 135.3L712.5 128.1L714.3 128.1L715.3 142.1L715.9 150.8L715.9 152.4L714.3 139.2zM715.4 288.6L715.4 315.7L716.2 322.5L718 322.5L719.1 308.9L719.8 300.2L719.8 291.1L717.5 300.9zM719.3 158.7L719.3 135.3L720.1 128.1L721.9 128.1L723 142.1L723.5 150.8L723.5 158.8L721.5 146.3zM723.1 295.6L723.1 315.7L723.9 322.5L725.6 322.5L726.8 308.9L727.5 300.2L727.5 294.4L724.9 302.5zM727 158L727 135.3L727.8 128.1L729.6 128.1L730.7 142.1L731.2 150.8L731.2 160.1L728.9 149.2zM730.8 293.1L730.8 315.7L731.6 322.5L733.3 322.5L734.5 308.9L735.1 300.2L735.1 292.9L733.4 307.8zM734.7 157.7L734.7 135.3L735.5 128.1L737.3 128.1L738.3 142.1L738.9 150.8L738.9 159.3L736.6 146.9zM738.4 294.7L738.4 315.7L739.2 322.5L741 322.5L742.2 308.9L742.8 300.2L742.8 293.6L740.4 305.3zM742.3 157.4L742.3 135.3L743.1 128.1L745 128.1L746 142.1L746.6 150.8L746.6 155L744.5 144.3zM746.1 295.3L746.1 315.7L746.9 322.5L748.6 322.5L749.8 308.9L750.5 300.2L750.5 297.1L748.5 303.9zM750 152.9L750 135.3L750.8 128.1L752.6 128.1L753.7 142.1L754.2 150.8L754.2 155.9L751.9 143.9zM753.8 292.2L753.8 315.7L754.6 322.5L756.3 322.5L757.5 308.9L758.1 300.2L758.1 291.7L755.9 303.2zM757.7 158.7L757.7 135.3L758.5 128.1L760.3 128.1L761.4 142.1L761.9 150.8L761.9 158.9L760.2 145zM761.4 295.6L761.4 315.7L762.2 322.5L764 322.5L765.2 308.9L765.8 300.2L765.8 294.8L763.2 310.9zM765.4 155.5L765.4 135.3L766.2 128.1L768 128.1L769 142.1L769.6 150.8L769.6 151.5L767 145.9zM769.1 295.7L769.1 315.7L769.9 322.5L771.7 322.5L772.8 308.9L773.5 300.2L773.5 294.2L771.8 304.6zM773 158.6L773 135.3L773.8 128.1L775.6 128.1L776.7 142.1L777.2 150.8L777.2 156.2L774.9 146.2zM776.8 293L776.8 315.7L777.6 322.5L779.3 322.5L780.5 308.9L781.2 300.2L781.2 289.4L778.5 299.7zM780.7 153.6L780.7 135.3L781.5 128.1L783.3 128.1L784.4 142.1L784.9 150.8L784.9 153L783.3 139.6zM784.4 292.6L784.4 315.7L785.2 322.5L787 322.5L788.2 308.9L788.8 300.2L788.8 290.9L786.5 306.5zM788.4 154.5L788.4 135.3L789.2 128.1L791 128.1L792 142.1L792.6 150.8L792.6 152.8L790.4 143.3zM792.1 295.4L792.1 315.7L792.9 322.5L794.7 322.5L795.9 308.9L796.5 300.2L796.5 295.4L794 304zM796 160.9L796 135.3L796.8 128.1L798.6 128.1L799.7 142.1L800.2 150.8L800.2 160.1L798.4 151.5zM799.8 298L799.8 315.7L800.6 322.5L802.3 322.5L803.5 308.9L804.2 300.2L804.2 296.9L802.4 306.2zM803.7 155.3L803.7 135.3L804.5 128.1L806.3 128.1L807.4 142.1L807.9 150.8L807.9 155.3L806.2 149.2zM807.5 299.2L807.5 315.7L808.3 322.5L810 322.5L811.2 308.9L811.8 300.2L811.8 297.3L809.9 311.1zM811.4 153.7L811.4 135.3L812.2 128.1L814 128.1L815 142.1L815.6 150.8L815.6 152L813.3 141.4zM815.1 291L815.1 315.7L815.9 322.5L817.7 322.5L818.9 308.9L819.5 300.2L819.5 293.9L817.5 308.2zM819 159.9L819 135.3L819.8 128.1L821.7 128.1L822.7 142.1L823.3 150.8L823.3 156.6L821 147zM822.8 293.4L822.8 315.7L823.6 322.5L825.3 322.5L826.5 308.9L827.2 300.2L827.2 292L825.4 308.5zM826.7 159L826.7 135.3L827.5 128.1L829.3 128.1L830.4 142.1L830.9 150.8L830.9 160.1L829.1 146zM830.5 291.1L830.5 315.7L831.3 322.5L833 322.5L834.2 308.9L834.8 300.2L834.8 291.7L832.9 303.3zM834.4 155.4L834.4 135.3L835.2 128.1L837 128.1L838 142.1L838.6 150.8L838.6 154.9L836.8 140.4zM838.1 299.6L838.1 315.7L838.9 322.5L840.7 322.5L841.9 308.9L842.5 300.2L842.5 296.8L840.3 311.3zM842.1 153.5L842.1 135.3L842.9 128.1L844.7 128.1L845.7 142.1L846.3 150.8L846.3 153.7L844.3 139.8zM845.8 293.3L845.8 315.7L846.6 322.5L848.4 322.5L849.5 308.9L850.2 300.2L850.2 293.4L847.7 301.6zM849.7 157.7L849.7 135.3L850.5 128.1L852.3 128.1L853.4 142.1L853.9 150.8L853.9 160.9L851.4 145zM853.5 297.8L853.5 315.7L854.3 322.5L856 322.5L857.2 308.9L857.9 300.2L857.9 298.1L856 305.2zM857.4 157.2L857.4 135.3L858.2 128.1L860 128.1L861.1 142.1L861.6 150.8L861.6 158.2L859.4 148.4zM861.1 296.5L861.1 315.7L861.9 322.5L863.7 322.5L864.9 308.9L865.5 300.2L865.5 297.3L862.9 305.1zM865.1 157.4L865.1 135.3L865.9 128.1L867.7 128.1L868.7 142.1L869.3 150.8L869.3 157.3L867.5 148.5zM868.8 290.1L868.8 315.7L869.6 322.5L871.4 322.5L872.5 308.9L873.2 300.2L873.2 291.7L871.1 304zM872.7 155.1L872.7 135.3L873.5 128.1L875.3 128.1L876.4 142.1L876.9 150.8L876.9 156.9L875 140.8zM876.5 290.6L876.5 315.7L877.3 322.5L879 322.5L880.2 308.9L880.9 300.2L880.9 293.5L878.5 299.9zM880.4 153.4L880.4 135.3L881.2 128.1L883 128.1L884.1 142.1L884.6 150.8L884.6 156.6L882.3 144.6zM884.2 293.8L884.2 315.7L885 322.5L886.7 322.5L887.9 308.9L888.5 300.2L888.5 296L886.5 302.2zM888.1 152.4L888.1 135.3L888.9 128.1L890.7 128.1L891.7 142.1L892.3 150.8L892.3 152.5L890.4 140.5zM891.8 295.4L891.8 315.7L892.6 322.5L894.4 322.5L895.6 308.9L896.2 300.2L896.2 292L893.7 309.2zM895.7 159.1L895.7 135.3L896.5 128.1L898.4 128.1L899.4 142.1L900 150.8L900 158.7L898.2 144.1zM899.5 293.8L899.5 315.7L900.3 322.5L902 322.5L903.2 308.9L903.9 300.2L903.9 294.1L901.5 302.9zM903.4 160.5L903.4 135.3L903.7 128.1L904.3 128.1L904.8 142.1L905 150.8L905 158.1L904 147.8z" fill="#FBC15E" stroke="#FBC15E" stroke-width="0.5"/>
<path d="M180.1 150.8V317.6M183.1 300.2V133.4M209.8 150.8V317.6M213.8 300.2V133.4M217.5 150.8V317.6M221.4 300.2V133.4M225.2 150.8V317.6M229.1 300.2V133.4M232.9 150.8V317.6M236.8 300.2V133.4M240.5 150.8V317.6M244.5 300.2V133.4M248.2 150.8V317.6M252.1 300.2V133.4M255.9 150.8V317.6M259.8 300.2V133.4M263.6 150.8V317.6M267.5 300.2V133.4M271.2 150.8V317.6M275.1 300.2V133.4M278.9 150.8V317.6M282.8 300.2V133.4M286.6 150.8V317.6M290.5 300.2V133.4M294.2 150.8V317.6M298.1 300.2V133.4M301.9 150.8V317.6M305.8 300.2V133.4M309.6 150.8V317.6M313.5 300.2V133.4M317.2 150.8V317.6M321.2 300.2V133.4M324.9 150.8V317.6M328.8 300.2V133.4M332.6 150.8V317.6M336.5 300.2V133.4M340.2 150.8V317.6M344.2 300.2V133.4M347.9 150.8V317.6M351.8 300.2V133.4M355.6 150.8V317.6M359.5 300.2V133.4M363.3 150.8V317.6M367.2 300.2V133.4M370.9 150.8V317.6M374.9 300.2V133.4M378.6 150.8V317.6M382.5 300.2V133.4M386.3 150.8V317.6M390.2 300.2V133.4M393.9 150.8V317.6M397.9 300.2V133.4M401.6 150.8V317.6M405.5 300.2V133.4M409.3 150.8V317.6M413.2 300.2V133.4M416.9 150.8V317.6M420.9 300.2V133.4M424.6 150.8V317.6M428.5 300.2V133.4M432.3 150.8V317.6M436.2 300.2V133.4M440 150.8V317.6M443.9 300.2V133.4M447.6 150.8V317.6M451.6 300.2V133.4M455.3 150.8V317.6M459.2 300.2V133.4M463 150.8V317.6M466.9 300.2V133.4M470.6 150.8V317.6M474.6 300.2V133.4M478.3 150.8V317.6M482.2 300.2V133.4M486 150.8V317.6M489.9 300.2V133.4M493.6 150.8V317.6M497.6 300.2V133.4M501.3 150.8V317.6M505.2 300.2V133.4M509 150.8V317.6M512.9 300.2V133.4M516.7 150.8V317.6M520.6 300.2V133.4M524.3 150.8V317.6M528.2 300.2V133.4M532 150.8V317.6M535.9 300.2V133.4M539.7 150.8V317.6M543.6 300.2V133.4M547.3 150.8V317.6M551.3 300.2V133.4M555 150.8V317.6M558.9 300.2V133.4M562.7 150.8V317.6M566.6 300.2V133.4M570.4 150.8V317.6M574.3 300.2V133.4M578 150.8V317.6M581.9 300.2V133.4M585.7 150.8V317.6M589.6 300.2V133.4M593.4 150.8V317.6M597.3 300.2V133.4M601 150.8V317.6M605 300.2V133.4M608.7 150.8V317.6M612.6 300.2V133.4M616.4 150.8V317.6M620.3 300.2V133.4M624 150.8V317.6M628 300.2V133.4M631.7 150.8V317.6M635.6 300.2V133.4M639.4 150.8V317.6M643.3 300.2V133.4M647 150.8V317.6M651 300.2V133.4M654.7 150.8V317.6M658.6 300.2V133.4M662.4 150.8V317.6M666.3 300.2V133.4M670.1 150.8V317.6M674 300.2V133.4M677.7 150.8V317.6M681.6 300.2V133.4M685.4 150.8V317.6M689.3 300.2V133.4M693.1 150.8V317.6M697 300.2V133.4M700.7 150.8V317.6M704.7 300.2V133.4M708.4 150.8V317.6M712.3 300.2V133.4M716.1 150.8V317.6M720 300.2V133.4M723.8 150.8V317.6M727.7 300.2V133.4M731.4 150.8V317.6M735.3 300.2V133.4M739.1 150.8V317.6M743 300.2V133.4M746.8 150.8V317.6M750.7 300.2V133.4M754.4 150.8V317.6M758.4 300.2V133.4M762.1 150.8V317.6M766 300.2V133.4M769.8 150.8V317.6M773.7 300.2V133.4M777.4 150.8V317.6M781.4 300.2V133.4M785.1 150.8V317.6M789 300.2V133.4M792.8 150.8V317.6M796.7 300.2V133.4M800.5 150.8V317.6M804.4 300.2V133.4M808.1 150.8V317.6M812 300.2V133.4M815.8 150.8V317.6M819.7 300.2V133.4M823.5 150.8V317.6M827.4 300.2V133.4M831.1 150.8V317.6M835 300.2V133.4M838.8 150.8V317.6M842.7 300.2V133.4M846.5 150.8V317.6M850.4 300.2V133.4M854.1 150.8V317.6M858.1 300.2V133.4M861.8 150.8V317.6M865.7 300.2V133.4M869.5 150.8V317.6M873.4 300.2V133.4M877.1 150.8V317.6M881.1 300.2V133.4M884.8 150.8V317.6M888.7 300.2V133.4M892.5 150.8V317.6M896.4 300.2V133.4M900.2 150.8V317.6M904.1 300.2V133.4" stroke="#FBC15E" stroke-width="1.39"/>
<path d="M139 317.6L139.3 317.5L139.7 312.5L140.1 307.4L140.4 302.4L140.8 297.4L141.1 292.4L141.4 287.4L141.8 287L142.2 292L142.5 297L142.8 302L143.2 307L143.6 312.1L143.9 317.1L144.2 317.6L144.6 317.6L144.9 317.6L145.3 317.6L145.7 317.6L146 317.6L146.3 317.6L146.7 317.6L147.1 317.1L147.4 312L147.8 307L148.1 302L148.4 297L148.8 292L149.2 287L149.5 287.4L149.8 292.4L150.2 297.4L150.5 302.5L150.9 307.5L151.2 312.5L151.6 317.5L151.9 317.6L152.3 317.6L152.7 317.6L153 317.6L153.3 317.6L153.7 317.6L154 317.6L154.4 317.6L154.8 316.6L155.1 311.6L155.4 306.6L155.8 301.6L156.1 296.6L156.5 291.5L156.8 286.5L157.2 287.8L157.5 292.8L157.9 297.9L158.2 302.9L158.6 307.9L158.9 312.9L159.3 317.6L159.6 317.6L160 317.6L160.3 317.6L160.7 317.6L161 317.6L161.4 317.6L161.8 317.6L162.1 317.6L162.4 316.2L162.8 311.2L163.1 306.2L163.5 301.1L163.8 296.1L164.2 291.1L164.5 286.1L164.9 288.3L165.2 293.3L165.6 298.3L165.9 303.3L166.3 308.3L166.6 313.3L167 317.6L167.3 317.6L167.7 317.6L168 317.6L168.4 317.6L168.8 317.6L169.1 317.6L169.4 317.6L169.8 317.6L170.1 315.8L170.5 310.7L170.8 305.7L171.2 300.7L171.5 295.7L171.9 290.7L172.2 285.7L172.6 288.7L172.9 293.7L173.3 298.7L173.6 303.7L174 308.8L174.3 313.8L174.7 317.6L175 317.6L175 286.6L174.7 286.6L174.3 286.6L174 286.6L173.6 286.6L173.3 290.7L172.9 295.1L172.6 299.6L172.2 302.2L171.9 297.8L171.5 293.4L171.2 288.9L170.8 286.6L170.5 286.6L170.1 286.6L169.8 286.6L169.4 286.6L169.1 286.6L168.8 286.6L168.4 286.6L168 286.6L167.7 286.6L167.3 286.6L167 286.6L166.6 286.6L166.3 286.6L165.9 286.7L165.6 291.1L165.2 295.5L164.9 299.9L164.5 301.8L164.2 297.4L163.8 293L163.5 288.6L163.1 286.6L162.8 286.6L162.4 286.6L162.1 286.6L161.8 286.6L161.4 286.6L161 286.6L160.7 286.6L160.3 286.6L160 286.6L159.6 286.6L159.3 286.6L158.9 286.6L158.6 286.6L158.2 287L157.9 291.5L157.5 295.9L157.2 300.3L156.8 301.5L156.5 297L156.1 292.6L155.8 288.2L155.4 286.6L155.1 286.6L154.8 286.6L154.4 286.6L154 286.6L153.7 286.6L153.3 286.6L153 286.6L152.7 286.6L152.3 286.6L151.9 286.6L151.6 286.6L151.2 286.6L150.9 286.6L150.5 287.4L150.2 291.8L149.8 296.3L149.5 300.7L149.2 301.1L148.8 296.7L148.4 292.2L148.1 287.8L147.8 286.6L147.4 286.6L147.1 286.6L146.7 286.6L146.3 286.6L146 286.6L145.7 286.6L145.3 286.6L144.9 286.6L144.6 286.6L144.2 286.6L143.9 286.6L143.6 286.6L143.2 286.6L142.8 287.8L142.5 292.2L142.2 296.6L141.8 301.1L141.4 300.7L141.1 296.3L140.8 291.9L140.4 287.4L140.1 286.6L139.7 286.6L139.3 286.6L139 286.6zM174.6 156.5L174.6 135.3L175.4 128.1L178.8 128.1L179.8 142.1L180.3 150.8L180.3 156.7L177.9 142.4zM179.9 288.1L179.9 315.7L180.6 322.5L181.8 322.5L182.7 308.9L183.2 300.2L183.2 289L182 303.8zM182.8 133.4L183.1 133.4L183.5 133.4L183.8 133.4L184.2 133.4L184.5 133.4L184.8 133.4L185.2 133.4L185.5 133.4L185.9 133.4L186.2 133.4L186.6 133.4L186.9 133.4L187.2 133.4L187.6 133.4L187.9 138L188.3 142.7L188.6 144.5L189 139.8L189.3 135.1L189.6 133.4L190 133.4L190.3 133.4L190.7 133.4L191 133.4L191.4 133.4L191.7 133.4L192 133.4L192.4 133.4L192.7 133.4L193.1 133.4L193.4 133.4L193.8 133.4L193.8 164.4L193.4 164.3L193.1 160.3L192.7 156.2L192.4 152.2L192 148.1L191.7 144.1L191.4 140.1L191 138.4L190.7 142.5L190.3 146.5L190 150.6L189.6 154.6L189.3 158.7L189 162.7L188.6 164.4L188.3 164.4L187.9 164.4L187.6 164.4L187.2 164.4L186.9 164.4L186.6 164.4L186.2 164.4L185.9 164.4L185.5 161.8L185.2 157.8L184.8 153.7L184.5 149.7L184.2 145.6L183.8 141.6L183.5 137.5L183.1 141L182.8 145zM193.3 290L193.3 315.7L194.1 322.5L196.5 322.5L197.8 308.9L198.4 300.2L198.4 291.6L195.4 303.3zM198 133.4L198.3 133.4L198.7 133.4L199 133.4L199.4 133.4L199.7 133.4L200.1 133.4L200.4 133.4L200.8 133.4L201.1 133.4L201.5 133.4L201.8 133.4L202.2 133.4L202.5 133.4L202.9 133.4L203.2 137.4L203.6 142.2L203.9 145L204.3 140.2L204.6 135.4L205 133.4L205.3 133.4L205.7 133.4L206 133.4L206.4 133.4L206.7 133.4L207.1 133.4L207.4 133.4L207.8 133.4L208.1 133.4L208.5 133.4L208.8 133.4L209.2 133.4L209.5 133.4L209.8 133.4L209.8 164.4L209.5 164.4L209.2 164.4L208.8 164.4L208.5 160.9L208.1 156.7L207.8 152.6L207.4 148.5L207.1 144.4L206.7 140.3L206.4 138.3L206 142.4L205.7 146.6L205.3 150.7L205 154.8L204.6 158.9L204.3 163L203.9 164.4L203.6 164.4L203.2 164.4L202.9 164.4L202.5 164.4L202.2 164.4L201.8 164.4L201.5 164.4L201.1 164.4L200.8 160.7L200.4 156.6L200.1 152.5L199.7 148.4L199.4 144.3L199 140.1L198.7 138.4L198.3 142.6L198 146.7zM209.4 292L209.4 315.7L210.2 322.5L211.8 322.5L213 308.9L213.6 300.2L213.6 288.3L211.8 303.9zM213.2 161.4L213.2 135.3L214 128.1L215.8 128.1L216.8 142.1L217.4 150.8L217.4 164.4L215.6 153.6zM216.9 288.1L216.9 315.7L217.7 322.5L219.5 322.5L220.6 308.9L221.3 300.2L221.3 291.3L218.9 305.3zM220.8 156.2L220.8 135.3L221.6 128.1L223.4 128.1L224.5 142.1L225 150.8L225 157.8L223.4 143.2zM224.6 295L224.6 315.7L225.4 322.5L227.1 322.5L228.3 308.9L229 300.2L229 291.8L226.6 307.8zM228.5 163.5L228.5 135.3L229.3 128.1L231.1 128.1L232.2 142.1L232.7 150.8L232.7 162.8L230.7 154zM232.3 289L232.3 315.7L233.1 322.5L234.8 322.5L236 308.9L236.6 300.2L236.6 287.2L234.8 298.3zM236.2 160.6L236.2 135.3L237 128.1L238.8 128.1L239.8 142.1L240.4 150.8L240.4 158.7L237.8 148.2zM239.9 292.4L239.9 315.7L240.7 322.5L242.5 322.5L243.7 308.9L244.3 300.2L244.3 296.4L241.6 308.5zM243.8 158.2L243.8 135.3L244.6 128.1L246.5 128.1L247.5 142.1L248.1 150.8L248.1 160L245.5 145.3zM247.6 291.5L247.6 315.7L248.4 322.5L250.1 322.5L251.3 308.9L252 300.2L252 290.5L250.2 298.3zM251.5 157.3L251.5 135.3L252.3 128.1L254.1 128.1L255.2 142.1L255.7 150.8L255.7 156.4L253.9 146.2zM255.3 290L255.3 315.7L256.1 322.5L257.8 322.5L259 308.9L259.7 300.2L259.7 290.5L257 303zM259.2 158.5L259.2 135.3L260 128.1L261.8 128.1L262.9 142.1L263.4 150.8L263.4 156L261.7 146.3zM262.9 292.4L262.9 315.7L263.7 322.5L265.5 322.5L266.7 308.9L267.3 300.2L267.3 289.5L264.9 302.4zM266.9 163.8L266.9 135.3L267.7 128.1L269.5 128.1L270.5 142.1L271.1 150.8L271.1 160.8L269.5 153.2zM270.6 287L270.6 315.7L271.4 322.5L273.1 322.5L274.3 308.9L275 300.2L275 289.3L272.7 305.1zM274.5 160.9L274.5 135.3L275.3 128.1L277.1 128.1L278.2 142.1L278.7 150.8L278.7 161.5L276.6 146.8zM278.3 290.5L278.3 315.7L279.1 322.5L280.8 322.5L282 308.9L282.7 300.2L282.7 288.4L280.8 296zM282.2 160.9L282.2 135.3L283 128.1L284.8 128.1L285.9 142.1L286.4 150.8L286.4 161.4L284.6 146.5zM285.9 288.5L285.9 315.7L286.7 322.5L288.5 322.5L289.7 308.9L290.3 300.2L290.3 290.5L287.9 297.4zM289.9 157.4L289.9 135.3L290.7 128.1L292.5 128.1L293.5 142.1L294.1 150.8L294.1 157.5L291.9 145.1zM293.6 292.5L293.6 315.7L294.4 322.5L296.2 322.5L297.4 308.9L298 300.2L298 290.4L295.7 302.8zM297.5 162.5L297.5 135.3L298.3 128.1L300.1 128.1L301.2 142.1L301.8 150.8L301.8 159.7L299.8 146zM301.3 290.7L301.3 315.7L302.1 322.5L303.8 322.5L305 308.9L305.7 300.2L305.7 290.4L303.8 299.5zM305.2 157.7L305.2 135.3L306 128.1L307.8 128.1L308.9 142.1L309.4 150.8L309.4 155.7L307.5 142.9zM308.9 293.8L308.9 315.7L309.8 322.5L311.5 322.5L312.7 308.9L313.3 300.2L313.3 293.6L310.9 303zM312.9 158.3L312.9 135.3L313.7 128.1L315.5 128.1L316.5 142.1L317.1 150.8L317.1 160.6L315.4 146.3zM316.6 292.9L316.6 315.7L317.4 322.5L319.2 322.5L320.4 308.9L321 300.2L321 292.7L318.6 299.9zM320.5 158.6L320.5 135.3L321.3 128.1L323.2 128.1L324.2 142.1L324.8 150.8L324.8 157.7L322.9 144zM324.3 291.1L324.3 315.7L325.1 322.5L326.8 322.5L328 308.9L328.7 300.2L328.7 292L326.3 304.1zM328.2 155.4L328.2 135.3L329 128.1L330.8 128.1L331.9 142.1L332.4 150.8L332.4 154.9L330.8 143.9zM332 291.7L332 315.7L332.8 322.5L334.5 322.5L335.7 308.9L336.4 300.2L336.4 293.2L334.6 300.3zM335.9 158.8L335.9 135.3L336.7 128.1L338.5 128.1L339.6 142.1L340.1 150.8L340.1 158.6L337.7 146.1zM339.6 293.8L339.6 315.7L340.4 322.5L342.2 322.5L343.4 308.9L344 300.2L344 293L341.9 306.4zM343.5 157L343.5 135.3L344.3 128.1L346.2 128.1L347.2 142.1L347.8 150.8L347.8 160L345.3 144.1zM347.3 291.8L347.3 315.7L348.1 322.5L349.8 322.5L351 308.9L351.7 300.2L351.7 292L349.6 300.2zM351.2 162.8L351.2 135.3L352 128.1L353.8 128.1L354.9 142.1L355.4 150.8L355.4 164.8L353 153.4zM355 288.7L355 315.7L355.8 322.5L357.5 322.5L358.7 308.9L359.4 300.2L359.4 288L357.1 299.2zM358.9 159.8L358.9 135.3L359.7 128.1L361.5 128.1L362.6 142.1L363.1 150.8L363.1 161.6L361.4 147.9zM362.6 287.6L362.6 315.7L363.4 322.5L365.2 322.5L366.4 308.9L367 300.2L367 287.6L364.5 297.8zM366.6 157.9L366.6 135.3L367.4 128.1L369.2 128.1L370.2 142.1L370.8 150.8L370.8 156.7L368.3 149.7zM370.3 291L370.3 315.7L371.1 322.5L372.9 322.5L374.1 308.9L374.7 300.2L374.7 294L372.8 304.1zM374.2 158.6L374.2 135.3L375 128.1L376.9 128.1L377.9 142.1L378.5 150.8L378.5 160.7L376 147.2zM378 292.4L378 315.7L378.8 322.5L380.5 322.5L381.7 308.9L382.4 300.2L382.4 294.4L380.3 307.7zM381.9 158.6L381.9 135.3L382.7 128.1L384.5 128.1L385.6 142.1L386.1 150.8L386.1 162.5L384.1 153.3zM385.6 290.5L385.6 315.7L386.4 322.5L388.2 322.5L389.4 308.9L390 300.2L390 294.1L387.7 305zM389.6 161.3L389.6 135.3L390.4 128.1L392.2 128.1L393.2 142.1L393.8 150.8L393.8 157.7L391.6 150.2zM393.3 296.6L393.3 315.7L394.1 322.5L395.9 322.5L397.1 308.9L397.7 300.2L397.7 293.4L396 307.1zM397.2 160L397.2 135.3L398 128.1L399.9 128.1L400.9 142.1L401.5 150.8L401.5 157.2L399.3 149.5zM401 289.9L401 315.7L401.8 322.5L403.5 322.5L404.7 308.9L405.4 300.2L405.4 290.6L403.1 298.3zM404.9 159.6L404.9 135.3L405.7 128.1L407.5 128.1L408.6 142.1L409.1 150.8L409.1 163.3L407.1 146.5zM408.7 292L408.7 315.7L409.5 322.5L411.2 322.5L412.4 308.9L413.1 300.2L413.1 288.7L410.6 304zM412.6 159.5L412.6 135.3L413.4 128.1L415.2 128.1L416.2 142.1L416.8 150.8L416.8 161.4L414.7 152zM416.3 292.9L416.3 315.7L417.1 322.5L418.9 322.5L420.1 308.9L420.7 300.2L420.7 290.6L418.8 306.2zM420.2 160.7L420.2 135.3L421.1 128.1L422.9 128.1L423.9 142.1L424.5 150.8L424.5 161.9L422.4 150.7zM424 290.5L424 315.7L424.8 322.5L426.5 322.5L427.7 308.9L428.4 300.2L428.4 291.7L425.7 305zM427.9 161.4L427.9 135.3L428.7 128.1L430.5 128.1L431.6 142.1L432.1 150.8L432.1 159.3L430.1 145.9zM431.7 289.5L431.7 315.7L432.5 322.5L434.2 322.5L435.4 308.9L436.1 300.2L436.1 288.5L434.1 299.2zM435.6 158.7L435.6 135.3L436.4 128.1L438.2 128.1L439.3 142.1L439.8 150.8L439.8 159.2L437.6 143.4zM439.3 292.4L439.3 315.7L440.1 322.5L441.9 322.5L443.1 308.9L443.7 300.2L443.7 295.5L441.1 303.7zM443.3 156.3L443.3 135.3L444.1 128.1L445.9 128.1L446.9 142.1L447.5 150.8L447.5 158.3L445.7 146.2zM447 292.5L447 315.7L447.8 322.5L449.6 322.5L450.8 308.9L451.4 300.2L451.4 294.5L449.2 305.7zM450.9 162.4L450.9 135.3L451.7 128.1L453.6 128.1L454.6 142.1L455.2 150.8L455.2 159.2L452.6 148.3zM454.7 291.2L454.7 315.7L455.5 322.5L457.2 322.5L458.4 308.9L459.1 300.2L459.1 290.4L456.4 303.8zM458.6 155.7L458.6 135.3L459.4 128.1L461.2 128.1L462.3 142.1L462.8 150.8L462.8 157.1L460.3 142zM462.3 292.4L462.3 315.7L463.1 322.5L464.9 322.5L466.1 308.9L466.7 300.2L466.7 296L464.8 306.7zM466.3 163L466.3 135.3L467.1 128.1L468.9 128.1L469.9 142.1L470.5 150.8L470.5 163.7L468.5 146.7zM470 289.2L470 315.7L470.8 322.5L472.6 322.5L473.8 308.9L474.4 300.2L474.4 288.7L471.8 303.6zM473.9 162.4L473.9 135.3L474.7 128.1L476.6 128.1L477.6 142.1L478.2 150.8L478.2 160L476.3 152.6zM477.7 292.3L477.7 315.7L478.5 322.5L480.2 322.5L481.4 308.9L482.1 300.2L482.1 293.1L480 305.1zM481.6 157.5L481.6 135.3L482.4 128.1L484.2 128.1L485.3 142.1L485.8 150.8L485.8 161.8L483.9 149.1zM485.4 289.7L485.4 315.7L486.2 322.5L487.9 322.5L489.1 308.9L489.8 300.2L489.8 291.1L487.6 300.8zM489.3 159.9L489.3 135.3L490.1 128.1L491.9 128.1L492.9 142.1L493.5 150.8L493.5 159.9L491.6 146.6zM493 289.8L493 315.7L493.8 322.5L495.6 322.5L496.8 308.9L497.4 300.2L497.4 291L495.5 300.9zM496.9 160.7L496.9 135.3L497.8 128.1L499.6 128.1L500.6 142.1L501.2 150.8L501.2 163.7L499.2 148.7zM500.7 286.9L500.7 315.7L501.5 322.5L503.2 322.5L504.4 308.9L505.1 300.2L505.1 287.4L503.3 301.1zM504.6 160.5L504.6 135.3L505.4 128.1L507.2 128.1L508.3 142.1L508.8 150.8L508.8 162L507 145.4zM508.4 286.7L508.4 315.7L509.2 322.5L510.9 322.5L512.1 308.9L512.8 300.2L512.8 289.3L510.3 304zM512.3 159.9L512.3 135.3L513.1 128.1L514.9 128.1L516 142.1L516.5 150.8L516.5 160.6L514 149.1zM516 291.6L516 315.7L516.8 322.5L518.6 322.5L519.8 308.9L520.4 300.2L520.4 291.5L518.3 301.6zM520 161.1L520 135.3L520.8 128.1L522.6 128.1L523.6 142.1L524.2 150.8L524.2 159L522.2 152.1zM523.7 293.2L523.7 315.7L524.5 322.5L526.3 322.5L527.5 308.9L528.1 300.2L528.1 293.6L526 308.2zM527.6 157.9L527.6 135.3L528.4 128.1L530.2 128.1L531.3 142.1L531.9 150.8L531.9 161L529.3 148.3zM531.4 287.2L531.4 315.7L532.2 322.5L533.9 322.5L535.1 308.9L535.8 300.2L535.8 289.3L533.8 304.5zM535.3 163.1L535.3 135.3L536.1 128.1L537.9 128.1L539 142.1L539.5 150.8L539.5 162.4L537.3 147.9zM539.1 289.3L539.1 315.7L539.9 322.5L541.6 322.5L542.8 308.9L543.4 300.2L543.4 289.6L541.1 299.9zM543 158.5L543 135.3L543.8 128.1L545.6 128.1L546.6 142.1L547.2 150.8L547.2 161.5L544.9 151.7zM546.7 288.1L546.7 315.7L547.5 322.5L549.3 322.5L550.5 308.9L551.1 300.2L551.1 289.1L548.4 298.5zM550.6 157.3L550.6 135.3L551.4 128.1L553.3 128.1L554.3 142.1L554.9 150.8L554.9 155.7L552.9 141.2zM554.4 293.4L554.4 315.7L555.2 322.5L556.9 322.5L558.1 308.9L558.8 300.2L558.8 292.1L556.4 299.6zM558.3 157.2L558.3 135.3L559.1 128.1L560.9 128.1L562 142.1L562.5 150.8L562.5 159.8L559.9 149.7zM562.1 287.6L562.1 315.7L562.9 322.5L564.6 322.5L565.8 308.9L566.5 300.2L566.5 291.9L564.1 300.4zM566 161L566 135.3L566.8 128.1L568.6 128.1L569.7 142.1L570.2 150.8L570.2 159.7L568.3 151.1zM569.7 287.9L569.7 315.7L570.5 322.5L572.3 322.5L573.5 308.9L574.1 300.2L574.1 291.3L572.1 302.3zM573.6 157.7L573.6 135.3L574.4 128.1L576.3 128.1L577.3 142.1L577.9 150.8L577.9 162.1L576 152.7zM577.4 288.6L577.4 315.7L578.2 322.5L579.9 322.5L581.1 308.9L581.8 300.2L581.8 293.2L579.6 302.9zM581.3 162.5L581.3 135.3L582.1 128.1L583.9 128.1L585 142.1L585.5 150.8L585.5 158.6L583.4 152.7zM585.1 292.3L585.1 315.7L585.9 322.5L587.6 322.5L588.8 308.9L589.5 300.2L589.5 292.2L587.2 303.8zM589 163.7L589 135.3L589.8 128.1L591.6 128.1L592.7 142.1L593.2 150.8L593.2 163.5L590.7 151.7zM592.7 290.6L592.7 315.7L593.5 322.5L595.3 322.5L596.5 308.9L597.1 300.2L597.1 288.4L594.8 297.2zM596.7 161.3L596.7 135.3L597.5 128.1L599.3 128.1L600.3 142.1L600.9 150.8L600.9 161.2L598.8 149.3zM600.4 294.8L600.4 315.7L601.2 322.5L603 322.5L604.2 308.9L604.8 300.2L604.8 292.9L602.1 309.1zM604.3 159.3L604.3 135.3L605.1 128.1L607 128.1L608 142.1L608.6 150.8L608.6 159.9L606.6 147zM608.1 295L608.1 315.7L608.9 322.5L610.6 322.5L611.8 308.9L612.5 300.2L612.5 292.7L610.6 303zM612 163.3L612 135.3L612.8 128.1L614.6 128.1L615.7 142.1L616.2 150.8L616.2 163.4L614.4 151.4zM615.8 292.7L615.8 315.7L616.5 322.5L618.3 322.5L619.5 308.9L620.1 300.2L620.1 291.6L617.7 302zM619.7 162.7L619.7 135.3L620.5 128.1L622.3 128.1L623.3 142.1L623.9 150.8L623.9 163.6L621.3 150.1zM623.4 290.6L623.4 315.7L624.2 322.5L626 322.5L627.2 308.9L627.8 300.2L627.8 291.8L625.5 301.8zM627.3 162.7L627.3 135.3L628.1 128.1L630 128.1L631 142.1L631.6 150.8L631.6 161L629.5 152.3zM631.1 294.9L631.1 315.7L631.9 322.5L633.6 322.5L634.8 308.9L635.5 300.2L635.5 294.5L633.2 308.1zM635 156.6L635 135.3L635.8 128.1L637.6 128.1L638.7 142.1L639.2 150.8L639.2 156.3L637.3 141.8zM638.8 291.4L638.8 315.7L639.6 322.5L641.3 322.5L642.5 308.9L643.1 300.2L643.1 288.1L640.5 300.5zM642.7 162.9L642.7 135.3L643.5 128.1L645.3 128.1L646.4 142.1L646.9 150.8L646.9 162.8L644.4 148.6zM646.4 293.5L646.4 315.7L647.2 322.5L649 322.5L650.2 308.9L650.8 300.2L650.8 291.1L648.3 300.8zM650.4 158.8L650.4 135.3L651.1 128.1L653 128.1L654 142.1L654.6 150.8L654.6 160L652.2 144.9zM654.1 290.3L654.1 315.7L654.9 322.5L656.6 322.5L657.8 308.9L658.5 300.2L658.5 288.6L656.4 301.1zM658 156.2L658 135.3L658.8 128.1L660.6 128.1L661.7 142.1L662.2 150.8L662.2 157.2L659.8 149.2zM661.8 292.6L661.8 315.7L662.6 322.5L664.3 322.5L665.5 308.9L666.2 300.2L666.2 294.3L663.6 308.4zM665.7 158.8L665.7 135.3L666.5 128.1L668.3 128.1L669.4 142.1L669.9 150.8L669.9 161.1L667.7 149.5zM669.4 295.4L669.4 315.7L670.2 322.5L672 322.5L673.2 308.9L673.8 300.2L673.8 295.6L671.7 305.2zM673.4 160.7L673.4 135.3L674.2 128.1L676 128.1L677 142.1L677.6 150.8L677.6 164.4L675.9 151.3zM677.1 288.7L677.1 315.7L677.9 322.5L679.7 322.5L680.9 308.9L681.5 300.2L681.5 290.1L679.2 299.8zM681 162.6L681 135.3L681.8 128.1L683.6 128.1L684.7 142.1L685.2 150.8L685.2 161.2L683 152.4zM684.8 291.9L684.8 315.7L685.6 322.5L687.3 322.5L688.5 308.9L689.2 300.2L689.2 291.9L687.5 303.5zM688.7 155.5L688.7 135.3L689.5 128.1L691.3 128.1L692.4 142.1L692.9 150.8L692.9 157.7L690.5 144.6zM692.5 293.7L692.5 315.7L693.2 322.5L695 322.5L696.2 308.9L696.8 300.2L696.8 292.1L694.2 301.3zM696.4 156.1L696.4 135.3L697.2 128.1L699 128.1L700 142.1L700.6 150.8L700.6 156.6L698.3 149zM700.1 294.5L700.1 315.7L700.9 322.5L702.7 322.5L703.9 308.9L704.5 300.2L704.5 294.2L702.2 305.4zM704 162.8L704 135.3L704.8 128.1L706.7 128.1L707.7 142.1L708.3 150.8L708.3 164.4L706 150.5zM707.8 287.9L707.8 315.7L708.6 322.5L710.3 322.5L711.5 308.9L712.2 300.2L712.2 289.7L710 300.2zM711.7 158.6L711.7 135.3L712.5 128.1L714.3 128.1L715.4 142.1L715.9 150.8L715.9 156.6L714.2 142.3zM715.5 293.6L715.5 315.7L716.3 322.5L718 322.5L719.2 308.9L719.9 300.2L719.9 294.2L717.5 304.7zM719.4 158L719.4 135.3L720.2 128.1L722 128.1L723.1 142.1L723.6 150.8L723.6 160L721.1 147.1zM723.1 288L723.1 315.7L723.9 322.5L725.7 322.5L726.9 308.9L727.5 300.2L727.5 289.9L725.5 301zM727 158.8L727 135.3L727.8 128.1L729.7 128.1L730.7 142.1L731.3 150.8L731.3 159.8L728.7 151.2zM730.8 294L730.8 315.7L731.6 322.5L733.3 322.5L734.5 308.9L735.2 300.2L735.2 295.1L733.2 308.8zM734.7 156.1L734.7 135.3L735.5 128.1L737.3 128.1L738.4 142.1L738.9 150.8L738.9 158.7L736.8 144.6zM738.5 292.9L738.5 315.7L739.3 322.5L741 322.5L742.2 308.9L742.9 300.2L742.9 294.4L740.6 309.9zM742.4 163.4L742.4 135.3L743.2 128.1L745 128.1L746.1 142.1L746.6 150.8L746.6 162.2L744.9 154.1zM746.1 294.8L746.1 315.7L746.9 322.5L748.7 322.5L749.9 308.9L750.5 300.2L750.5 292.3L748.5 304.9zM750.1 158.1L750.1 135.3L750.9 128.1L752.7 128.1L753.7 142.1L754.3 150.8L754.3 157.3L751.9 148.6zM753.8 289L753.8 315.7L754.6 322.5L756.4 322.5L757.6 308.9L758.2 300.2L758.2 292.1L755.7 302.8zM757.7 157.3L757.7 135.3L758.5 128.1L760.4 128.1L761.4 142.1L762 150.8L762 160.8L759.9 149.4zM761.5 295.5L761.5 315.7L762.3 322.5L764 322.5L765.2 308.9L765.9 300.2L765.9 293.3L763.6 307.3zM765.4 157.4L765.4 135.3L766.2 128.1L768 128.1L769.1 142.1L769.6 150.8L769.6 160.4L767.6 149.4zM769.1 293.1L769.1 315.7L769.9 322.5L771.7 322.5L772.9 308.9L773.5 300.2L773.5 292.8L771.4 302.2zM773.1 160.4L773.1 135.3L773.9 128.1L775.7 128.1L776.7 142.1L777.3 150.8L777.3 158.4L775.3 149.9zM776.8 293.9L776.8 315.7L777.6 322.5L779.4 322.5L780.6 308.9L781.2 300.2L781.2 292.7L779.3 300.6zM780.7 157.3L780.7 135.3L781.5 128.1L783.4 128.1L784.4 142.1L785 150.8L785 155.7L783.3 141.7zM784.5 290.6L784.5 315.7L785.3 322.5L787 322.5L788.2 308.9L788.9 300.2L788.9 289.5L786.3 304.2zM788.4 163.3L788.4 135.3L789.2 128.1L791 128.1L792.1 142.1L792.6 150.8L792.6 163.3L790.6 153.5zM792.2 290L792.2 315.7L793 322.5L794.7 322.5L795.9 308.9L796.6 300.2L796.6 290.3L794.7 302.5zM796.1 156L796.1 135.3L796.9 128.1L798.7 128.1L799.8 142.1L800.3 150.8L800.3 157.5L798.7 142.5zM799.8 286.8L799.8 315.7L800.6 322.5L802.4 322.5L803.6 308.9L804.2 300.2L804.2 287.3L801.9 296.6zM803.8 158.9L803.8 135.3L804.5 128.1L806.4 128.1L807.4 142.1L808 150.8L808 161.8L805.8 146.1zM807.5 291.1L807.5 315.7L808.3 322.5L810 322.5L811.2 308.9L811.9 300.2L811.9 292.2L809.6 300.1zM811.4 158.3L811.4 135.3L812.2 128.1L814 128.1L815.1 142.1L815.6 150.8L815.6 156.1L813.1 142.6zM815.2 294.3L815.2 315.7L816 322.5L817.7 322.5L818.9 308.9L819.6 300.2L819.6 291.4L817.3 303.1zM819.1 159.4L819.1 135.3L819.9 128.1L821.7 128.1L822.8 142.1L823.3 150.8L823.3 161.1L821 145.2zM822.8 292.4L822.8 315.7L823.6 322.5L825.4 322.5L826.6 308.9L827.2 300.2L827.2 291.8L824.8 305.6zM826.8 159L826.8 135.3L827.6 128.1L829.4 128.1L830.4 142.1L831 150.8L831 162.8L828.8 148.8zM830.5 290.5L830.5 315.7L831.3 322.5L833.1 322.5L834.2 308.9L834.9 300.2L834.9 288.6L832.3 297.6zM834.4 157.3L834.4 135.3L835.2 128.1L837 128.1L838.1 142.1L838.6 150.8L838.6 160.2L837 147.7zM838.2 288L838.2 315.7L839 322.5L840.7 322.5L841.9 308.9L842.6 300.2L842.6 286.3L840.6 303zM842.1 162.8L842.1 135.3L842.9 128.1L844.7 128.1L845.8 142.1L846.3 150.8L846.3 160.7L844.1 151zM845.9 289.4L845.9 315.7L846.6 322.5L848.4 322.5L849.6 308.9L850.2 300.2L850.2 293.9L848 300.8zM849.8 161.7L849.8 135.3L850.6 128.1L852.4 128.1L853.4 142.1L854 150.8L854 157.5L852.1 150zM853.5 289.3L853.5 315.7L854.3 322.5L856.1 322.5L857.3 308.9L857.9 300.2L857.9 292.9L855.6 302.2zM857.4 157L857.4 135.3L858.2 128.1L860.1 128.1L861.1 142.1L861.7 150.8L861.7 158.2L859.1 146zM861.2 289.5L861.2 315.7L862 322.5L863.7 322.5L864.9 308.9L865.6 300.2L865.6 290L863.7 299.1zM865.1 157.3L865.1 135.3L865.9 128.1L867.7 128.1L868.8 142.1L869.3 150.8L869.3 155.5L867.6 140.7zM868.9 290.4L868.9 315.7L869.7 322.5L871.4 322.5L872.6 308.9L873.2 300.2L873.2 291.4L871.5 300zM872.8 161.8L872.8 135.3L873.6 128.1L875.4 128.1L876.5 142.1L877 150.8L877 161.6L874.7 151.8zM876.5 290.8L876.5 315.7L877.3 322.5L879.1 322.5L880.3 308.9L880.9 300.2L880.9 292.4L878.3 301.3zM880.4 158.4L880.4 135.3L881.2 128.1L883.1 128.1L884.1 142.1L884.7 150.8L884.7 161.8L882.1 145.3zM884.2 295.9L884.2 315.7L885 322.5L886.7 322.5L887.9 308.9L888.6 300.2L888.6 291.9L886.1 306.2zM888.1 154.6L888.1 135.3L888.9 128.1L890.7 128.1L891.8 142.1L892.3 150.8L892.3 158.2L890.2 149.1zM891.9 291.1L891.9 315.7L892.7 322.5L894.4 322.5L895.6 308.9L896.3 300.2L896.3 291.2L893.7 300.4zM895.8 157.1L895.8 135.3L896.6 128.1L898.4 128.1L899.5 142.1L900 150.8L900 161.4L897.5 146zM899.5 291.8L899.5 315.7L900.3 322.5L902.1 322.5L903.3 308.9L903.9 300.2L903.9 292.3L901.8 302.9zM903.5 157.6L903.5 135.3L903.8 128.1L904.4 128.1L904.8 142.1L905 150.8L905 157.5L904.3 144.1z" fill="#8EBA42" stroke="#8EBA42" stroke-width="0.5"/>
<path d="M174.8 300.2V133.4M180.1 150.8V317.6M183 300.2V133.4M193.5 150.8V317.6M198.2 300.2V133.4M209.6 150.8V317.6M213.3 300.2V133.4M217.1 150.8V317.6M221 300.2V133.4M224.8 150.8V317.6M228.7 300.2V133.4M232.4 150.8V317.6M236.3 300.2V133.4M240.1 150.8V317.6M244 300.2V133.4M247.8 150.8V317.6M251.7 300.2V133.4M255.4 150.8V317.6M259.4 300.2V133.4M263.1 150.8V317.6M267 300.2V133.4M270.8 150.8V317.6M274.7 300.2V133.4M278.4 150.8V317.6M282.4 300.2V133.4M286.1 150.8V317.6M290 300.2V133.4M293.8 150.8V317.6M297.7 300.2V133.4M301.4 150.8V317.6M305.4 300.2V133.4M309.1 150.8V317.6M313 300.2V133.4M316.8 150.8V317.6M320.7 300.2V133.4M324.5 150.8V317.6M328.4 300.2V133.4M332.1 150.8V317.6M336.1 300.2V133.4M339.8 150.8V317.6M343.7 300.2V133.4M347.5 150.8V317.6M351.4 300.2V133.4M355.1 150.8V317.6M359.1 300.2V133.4M362.8 150.8V317.6M366.7 300.2V133.4M370.5 150.8V317.6M374.4 300.2V133.4M378.2 150.8V317.6M382.1 300.2V133.4M385.8 150.8V317.6M389.7 300.2V133.4M393.5 150.8V317.6M397.4 300.2V133.4M401.2 150.8V317.6M405.1 300.2V133.4M408.8 150.8V317.6M412.8 300.2V133.4M416.5 150.8V317.6M420.4 300.2V133.4M424.2 150.8V317.6M428.1 300.2V133.4M431.8 150.8V317.6M435.8 300.2V133.4M439.5 150.8V317.6M443.4 300.2V133.4M447.2 150.8V317.6M451.1 300.2V133.4M454.9 150.8V317.6M458.8 300.2V133.4M462.5 150.8V317.6M466.4 300.2V133.4M470.2 150.8V317.6M474.1 300.2V133.4M477.9 150.8V317.6M481.8 300.2V133.4M485.5 150.8V317.6M489.4 300.2V133.4M493.2 150.8V317.6M497.1 300.2V133.4M500.9 150.8V317.6M504.8 300.2V133.4M508.5 150.8V317.6M512.5 300.2V133.4M516.2 150.8V317.6M520.1 300.2V133.4M523.9 150.8V317.6M527.8 300.2V133.4M531.5 150.8V317.6M535.5 300.2V133.4M539.2 150.8V317.6M543.1 300.2V133.4M546.9 150.8V317.6M550.8 300.2V133.4M554.6 150.8V317.6M558.5 300.2V133.4M562.2 150.8V317.6M566.1 300.2V133.4M569.9 150.8V317.6M573.8 300.2V133.4M577.6 150.8V317.6M581.5 300.2V133.4M585.2 150.8V317.6M589.2 300.2V133.4M592.9 150.8V317.6M596.8 300.2V133.4M600.6 150.8V317.6M604.5 300.2V133.4M608.2 150.8V317.6M612.2 300.2V133.4M615.9 150.8V317.6M619.8 300.2V133.4M623.6 150.8V317.6M627.5 300.2V133.4M631.3 150.8V317.6M635.2 300.2V133.4M638.9 150.8V317.6M642.8 300.2V133.4M646.6 150.8V317.6M650.5 300.2V133.4M654.3 150.8V317.6M658.2 300.2V133.4M661.9 150.8V317.6M665.9 300.2V133.4M669.6 150.8V317.6M673.5 300.2V133.4M677.3 150.8V317.6M681.2 300.2V133.4M684.9 150.8V317.6M688.9 300.2V133.4M692.6 150.8V317.6M696.5 300.2V133.4M700.3 150.8V317.6M704.2 300.2V133.4M708 150.8V317.6M711.9 300.2V133.4M715.6 150.8V317.6M719.5 300.2V133.4M723.3 150.8V317.6M727.2 300.2V133.4M731 150.8V317.6M734.9 300.2V133.4M738.6 150.8V317.6M742.6 300.2V133.4M746.3 150.8V317.6M750.2 300.2V133.4M754 150.8V317.6M757.9 300.2V133.4M761.6 150.8V317.6M765.6 300.2V133.4M769.3 150.8V317.6M773.2 300.2V133.4M777 150.8V317.6M780.9 300.2V133.4M784.7 150.8V317.6M788.6 300.2V133.4M792.3 150.8V317.6M796.2 300.2V133.4M800 150.8V317.6M803.9 300.2V133.4M807.7 150.8V317.6M811.6 300.2V133.4M815.3 150.8V317.6M819.3 300.2V133.4M823 150.8V317.6M826.9 300.2V133.4M830.7 150.8V317.6M834.6 300.2V133.4M838.3 150.8V317.6M842.3 300.2V133.4M846 150.8V317.6M849.9 300.2V133.4M853.7 150.8V317.6M857.6 300.2V133.4M861.4 150.8V317.6M865.3 300.2V133.4M869 150.8V317.6M872.9 300.2V133.4M876.7 150.8V317.6M880.6 300.2V133.4M884.4 150.8V317.6M888.3 300.2V133.4M892 150.8V317.6M896 300.2V133.4M899.7 150.8V317.6M903.6 300.2V133.4" stroke="#8EBA42" stroke-width="1.39"/>
<path d="M139 158.9L139 135.3L139.2 128.1L139.6 128.1L139.9 142.1L140.1 150.8L140.1 161.6L139.1 148.9zM139.7 289.5L139.7 315.7L140.5 322.5L144.2 322.5L145.4 308.9L146.1 300.2L146.1 289L143.1 303.6zM145.7 162.5L145.7 135.3L146.2 128.1L147.2 128.1L147.9 142.1L148.3 150.8L148.3 164.4L147 150.3zM147.9 288.3L147.9 315.7L148.7 322.5L151.9 322.5L153.2 308.9L153.8 300.2L153.8 291.3L150.6 301.9zM153.4 159.5L153.4 135.3L153.9 128.1L154.8 128.1L155.5 142.1L155.8 150.8L155.8 161.2L154.2 145.7zM155.4 292.1L155.4 315.7L156.2 322.5L159.7 322.5L160.9 308.9L161.6 300.2L161.6 288.6L158.2 301.8zM161.2 162.5L161.2 135.3L161.6 128.1L162.6 128.1L163.2 142.1L163.6 150.8L163.6 161.1L162.1 146zM163.2 288.9L163.2 315.7L164 322.5L167.4 322.5L168.7 308.9L169.3 300.2L169.3 291.6L166.3 305zM168.9 160.5L168.9 135.3L169.4 128.1L170.5 128.1L171.2 142.1L171.6 150.8L171.6 159.2L169.8 147.2zM171.2 288.1L171.2 315.7L172 322.5L173.9 322.5L175.2 308.9L175.8 300.2L175.8 288L173.1 297.5zM175.4 133.4L175.7 133.4L176.1 133.4L176.4 133.4L176.8 133.4L177.1 133.4L177.5 133.4L177.8 133.4L178.1 133.4L178.5 133.4L178.8 133.4L179.2 133.4L179.5 133.4L179.8 133.4L180.2 137.2L180.5 141.8L180.9 145.4L181.2 140.7L181.6 136L181.9 133.4L182.2 133.4L182.6 133.4L182.9 133.4L183.3 133.4L183.6 133.4L184 133.4L184.3 133.4L184.6 133.4L185 133.4L185.3 133.4L185.7 133.4L186 133.4L186.3 133.4L186.3 164.4L186 164.4L185.7 163.5L185.3 159.5L185 155.4L184.6 151.4L184.3 147.3L184 143.3L183.6 139.3L183.3 139.2L182.9 143.3L182.6 147.3L182.2 151.4L181.9 155.4L181.6 159.4L181.2 163.5L180.9 164.4L180.5 164.4L180.2 164.4L179.8 164.4L179.5 164.4L179.2 164.4L178.8 164.4L178.5 164.4L178.1 164.4L177.8 161.1L177.5 157.1L177.1 153L176.8 149L176.4 145L176.1 140.9L175.7 137.6L175.4 141.6zM185.9 309.9L186.2 304.9L186.6 299.9L186.9 294.9L187.3 289.9L187.6 284.9L188 289.4L188.3 294.4L188.7 299.4L189 304.4L189.4 309.4L189.7 314.4L190.1 317.6L190.4 317.6L190.8 317.6L191.1 317.6L191.5 317.6L191.8 317.6L192.2 317.6L192.5 317.6L192.9 317.6L193.2 314.8L193.6 309.9L193.9 304.9L194.3 299.9L194.6 294.9L195 289.9L195.3 284.9L195.7 289.5L196 294.5L196.4 299.5L196.7 304.5L197.1 309.5L197.4 314.5L197.8 317.6L198.1 317.6L198.5 317.6L198.8 317.6L199.2 317.6L199.5 317.6L199.8 317.6L199.8 286.6L199.5 286.6L199.2 286.6L198.8 286.6L198.5 286.6L198.1 286.6L197.8 286.6L197.4 286.6L197.1 286.6L196.7 286.6L196.4 290L196 294.4L195.7 298.9L195.3 302.9L195 298.5L194.6 294.1L194.3 289.7L193.9 286.6L193.6 286.6L193.2 286.6L192.9 286.6L192.5 286.6L192.2 286.6L191.8 286.6L191.5 286.6L191.1 286.6L190.8 286.6L190.4 286.6L190.1 286.6L189.7 286.6L189.4 286.6L189 286.6L188.7 290.1L188.3 294.5L188 298.9L187.6 302.9L187.3 298.5L186.9 294.1L186.6 289.7L186.2 286.6L185.9 286.6zM199.4 164.3L199.4 135.3L200 128.1L201.1 128.1L201.9 142.1L202.3 150.8L202.3 166.5L200.9 155.1zM201.9 284.7L201.9 315.7L202.7 322.5L205.2 322.5L206.4 308.9L207.1 300.2L207.1 287.1L204 300.9zM206.7 162.9L206.7 135.3L207.2 128.1L208.3 128.1L209 142.1L209.4 150.8L209.4 158.6L208.2 150.4zM209 286.6L209 315.7L209.8 322.5L211.6 322.5L212.9 308.9L213.5 300.2L213.5 285.4L211.8 297.9zM213.1 165.9L213.1 135.3L213.9 128.1L215.7 128.1L216.7 142.1L217.3 150.8L217.3 166L215.7 151.7zM216.8 289.1L216.8 315.7L217.6 322.5L219.4 322.5L220.5 308.9L221.2 300.2L221.2 287.6L219.4 301.9zM220.8 161.2L220.8 135.3L221.6 128.1L223.3 128.1L224.4 142.1L224.9 150.8L224.9 162.7L222.8 148.6zM224.5 289.5L224.5 315.7L225.3 322.5L227 322.5L228.2 308.9L228.9 300.2L228.9 291.1L226.5 298zM228.4 161.2L228.4 135.3L229.2 128.1L231 128.1L232.1 142.1L232.6 150.8L232.6 164.9L230.1 153.8zM232.2 288.5L232.2 315.7L233 322.5L234.7 322.5L235.9 308.9L236.5 300.2L236.5 288.9L234.8 298.7zM236.1 164.5L236.1 135.3L236.9 128.1L238.7 128.1L239.7 142.1L240.3 150.8L240.3 163.6L238 149.2zM239.8 288.3L239.8 315.7L240.6 322.5L242.4 322.5L243.6 308.9L244.2 300.2L244.2 287.8L241.8 296.9zM243.8 161.2L243.8 135.3L244.6 128.1L246.4 128.1L247.4 142.1L248 150.8L248 158.1L246.3 147.4zM247.5 288.2L247.5 315.7L248.3 322.5L250 322.5L251.2 308.9L251.9 300.2L251.9 287.2L249.7 297.8zM251.4 158.3L251.4 135.3L252.2 128.1L254 128.1L255.1 142.1L255.6 150.8L255.6 162.9L253.5 150.6zM255.2 283.3L255.2 315.7L256 322.5L257.7 322.5L258.9 308.9L259.6 300.2L259.6 283.7L257.6 299.6zM259.1 161.3L259.1 135.3L259.9 128.1L261.7 128.1L262.8 142.1L263.3 150.8L263.3 165.5L260.9 148.7zM262.9 292.1L262.9 315.7L263.7 322.5L265.4 322.5L266.6 308.9L267.2 300.2L267.2 293L265.3 302.5zM266.8 162.7L266.8 135.3L267.6 128.1L269.4 128.1L270.4 142.1L271 150.8L271 163.2L268.5 154.4zM270.5 289.9L270.5 315.7L271.3 322.5L273.1 322.5L274.2 308.9L274.9 300.2L274.9 290L272.3 297.9zM274.4 164.4L274.4 135.3L275.2 128.1L277 128.1L278.1 142.1L278.6 150.8L278.6 163.2L276.7 153.8zM278.2 288.1L278.2 315.7L279 322.5L280.7 322.5L281.9 308.9L282.6 300.2L282.6 287.9L280.5 304.5zM282.1 157.7L282.1 135.3L282.9 128.1L284.7 128.1L285.8 142.1L286.3 150.8L286.3 159.9L284.4 144.6zM285.9 288.8L285.9 315.7L286.7 322.5L288.4 322.5L289.6 308.9L290.2 300.2L290.2 292.5L288 306zM289.8 160.8L289.8 135.3L290.6 128.1L292.4 128.1L293.4 142.1L294 150.8L294 159.5L291.4 150.9zM293.5 292.9L293.5 315.7L294.3 322.5L296.1 322.5L297.2 308.9L297.9 300.2L297.9 292.7L295.3 300.4zM297.4 161.1L297.4 135.3L298.2 128.1L300 128.1L301.1 142.1L301.6 150.8L301.6 160.4L300 144.3zM301.2 283.4L301.2 315.7L302 322.5L303.7 322.5L304.9 308.9L305.6 300.2L305.6 286L303.4 299.8zM305.1 167.2L305.1 135.3L305.9 128.1L307.7 128.1L308.8 142.1L309.3 150.8L309.3 167.8L307.7 155.1zM308.9 292.5L308.9 315.7L309.7 322.5L311.4 322.5L312.6 308.9L313.2 300.2L313.2 289.6L310.6 303.7zM312.8 162.7L312.8 135.3L313.6 128.1L315.4 128.1L316.4 142.1L317 150.8L317 161.1L314.9 148.8zM316.5 283.6L316.5 315.7L317.3 322.5L319.1 322.5L320.3 308.9L320.9 300.2L320.9 283.4L318.8 297.5zM320.5 165.9L320.5 135.3L321.3 128.1L323.1 128.1L324.1 142.1L324.7 150.8L324.7 164.5L322.4 156.2zM324.2 285.3L324.2 315.7L325 322.5L326.7 322.5L327.9 308.9L328.6 300.2L328.6 288.7L326.3 298.9zM328.1 165.6L328.1 135.3L328.9 128.1L330.7 128.1L331.8 142.1L332.3 150.8L332.3 164.4L330.5 155.4zM331.9 287.5L331.9 315.7L332.7 322.5L334.4 322.5L335.6 308.9L336.2 300.2L336.2 288.4L334 299.1zM335.8 160.7L335.8 135.3L336.6 128.1L338.4 128.1L339.4 142.1L340 150.8L340 162.4L338.1 151.1zM339.6 291L339.6 315.7L340.4 322.5L342.1 322.5L343.3 308.9L343.9 300.2L343.9 290.3L342.2 300.1zM343.5 164.1L343.5 135.3L344.3 128.1L346.1 128.1L347.1 142.1L347.7 150.8L347.7 166.9L345.1 154.1zM347.2 288.4L347.2 315.7L348 322.5L349.8 322.5L350.9 308.9L351.6 300.2L351.6 288.4L349.3 303.8zM351.1 165.4L351.1 135.3L351.9 128.1L353.7 128.1L354.8 142.1L355.3 150.8L355.3 167L353.3 151.5zM354.9 290.4L354.9 315.7L355.7 322.5L357.4 322.5L358.6 308.9L359.3 300.2L359.3 292.5L357.4 302.8zM358.8 163.9L358.8 135.3L359.6 128.1L361.4 128.1L362.5 142.1L363 150.8L363 166.6L361.4 156.4zM362.6 287.5L362.6 315.7L363.4 322.5L365.1 322.5L366.3 308.9L366.9 300.2L366.9 286.3L365 299.3zM366.5 162.5L366.5 135.3L367.3 128.1L369.1 128.1L370.1 142.1L370.7 150.8L370.7 162.9L368.9 150.3zM370.2 291.8L370.2 315.7L371 322.5L372.8 322.5L374 308.9L374.6 300.2L374.6 290.9L372.2 299.6zM374.2 159.3L374.2 135.3L375 128.1L376.8 128.1L377.8 142.1L378.4 150.8L378.4 159.5L376.4 144.5zM377.9 288.5L377.9 315.7L378.7 322.5L380.4 322.5L381.6 308.9L382.3 300.2L382.3 288.2L380 302.9zM381.8 162.9L381.8 135.3L382.6 128.1L384.4 128.1L385.5 142.1L386 150.8L386 163L384.4 157.5zM385.6 289.7L385.6 315.7L386.4 322.5L388.1 322.5L389.3 308.9L389.9 300.2L389.9 286.4L387.3 295.8zM389.5 167.8L389.5 135.3L390.3 128.1L392.1 128.1L393.1 142.1L393.7 150.8L393.7 167.4L391.7 150.9zM393.2 285.2L393.2 315.7L394 322.5L395.8 322.5L397 308.9L397.6 300.2L397.6 285.5L395.9 297.9zM397.2 162.8L397.2 135.3L398 128.1L399.8 128.1L400.8 142.1L401.4 150.8L401.4 162.6L399.2 151zM400.9 285.2L400.9 315.7L401.7 322.5L403.4 322.5L404.6 308.9L405.3 300.2L405.3 285.5L403 302zM404.8 160L404.8 135.3L405.6 128.1L407.4 128.1L408.5 142.1L409 150.8L409 158.9L406.9 144.8zM408.6 286.4L408.6 315.7L409.4 322.5L411.1 322.5L412.3 308.9L412.9 300.2L412.9 287.7L410.8 297.4zM412.5 159.6L412.5 135.3L413.3 128.1L415.1 128.1L416.1 142.1L416.7 150.8L416.7 159.5L415 149.7zM416.2 288.2L416.2 315.7L417.1 322.5L418.8 322.5L420 308.9L420.6 300.2L420.6 287.9L418.3 301.1zM420.2 165.9L420.2 135.3L421 128.1L422.8 128.1L423.8 142.1L424.4 150.8L424.4 162.4L422.1 153.6zM423.9 284.2L423.9 315.7L424.7 322.5L426.5 322.5L427.6 308.9L428.3 300.2L428.3 285.8L426.4 293.2zM427.8 161.5L427.8 135.3L428.6 128.1L430.4 128.1L431.5 142.1L432 150.8L432 161.4L430.4 149zM431.6 290.9L431.6 315.7L432.4 322.5L434.1 322.5L435.3 308.9L436 300.2L436 290.9L434.1 306.4zM435.5 163.2L435.5 135.3L436.3 128.1L438.1 128.1L439.2 142.1L439.7 150.8L439.7 160.9L437.7 146.6zM439.3 291.8L439.3 315.7L440.1 322.5L441.8 322.5L443 308.9L443.6 300.2L443.6 288.9L441.1 305.3zM443.2 164.6L443.2 135.3L444 128.1L445.8 128.1L446.8 142.1L447.4 150.8L447.4 166.8L445.3 151.5zM446.9 286.8L446.9 315.7L447.7 322.5L449.5 322.5L450.7 308.9L451.3 300.2L451.3 283.9L449.6 300zM450.9 163.1L450.9 135.3L451.7 128.1L453.4 128.1L454.5 142.1L455.1 150.8L455.1 163L453.2 151zM454.6 289.8L454.6 315.7L455.4 322.5L457.1 322.5L458.3 308.9L459 300.2L459 292L457.1 300.3zM458.5 161L458.5 135.3L459.3 128.1L461.1 128.1L462.2 142.1L462.7 150.8L462.7 160.3L460.6 152.6zM462.3 291L462.3 315.7L463.1 322.5L464.8 322.5L466 308.9L466.6 300.2L466.6 292.9L464.6 304.3zM466.2 160.8L466.2 135.3L467 128.1L468.8 128.1L469.8 142.1L470.4 150.8L470.4 157.8L467.8 152.4zM469.9 291.7L469.9 315.7L470.7 322.5L472.5 322.5L473.7 308.9L474.3 300.2L474.3 290.8L472.3 299.7zM473.9 162.6L473.9 135.3L474.7 128.1L476.5 128.1L477.5 142.1L478.1 150.8L478.1 161.6L475.8 155.1zM477.6 289.1L477.6 315.7L478.4 322.5L480.1 322.5L481.3 308.9L482 300.2L482 290.7L479.7 303.9zM481.5 165.6L481.5 135.3L482.3 128.1L484.1 128.1L485.2 142.1L485.7 150.8L485.7 167.6L483.6 151.1zM485.3 287.6L485.3 315.7L486.1 322.5L487.8 322.5L489 308.9L489.6 300.2L489.6 286.1L487.4 301zM489.2 167.2L489.2 135.3L490 128.1L491.8 128.1L492.8 142.1L493.4 150.8L493.4 163.9L491.8 151.9zM492.9 290.7L492.9 315.7L493.8 322.5L495.5 322.5L496.7 308.9L497.3 300.2L497.3 291.2L495 300.5zM496.9 160.3L496.9 135.3L497.7 128.1L499.5 128.1L500.5 142.1L501.1 150.8L501.1 159.8L499.2 150.9zM500.6 286.7L500.6 315.7L501.4 322.5L503.2 322.5L504.3 308.9L505 300.2L505 286.1L502.3 298.5zM504.5 159.9L504.5 135.3L505.3 128.1L507.1 128.1L508.2 142.1L508.7 150.8L508.7 161.5L506.2 147.9zM508.3 283.8L508.3 315.7L509.1 322.5L510.8 322.5L512 308.9L512.7 300.2L512.7 283.6L510 295.2zM512.2 159.9L512.2 135.3L513 128.1L514.8 128.1L515.9 142.1L516.4 150.8L516.4 162.3L514.5 145.9zM516 287.2L516 315.7L516.8 322.5L518.5 322.5L519.7 308.9L520.3 300.2L520.3 288.5L517.8 304.1zM519.9 162.5L519.9 135.3L520.7 128.1L522.5 128.1L523.5 142.1L524.1 150.8L524.1 165.2L522 155.4zM523.6 288.4L523.6 315.7L524.4 322.5L526.2 322.5L527.4 308.9L528 300.2L528 287.3L525.9 295.6zM527.5 161.1L527.5 135.3L528.3 128.1L530.1 128.1L531.2 142.1L531.8 150.8L531.8 161L530.1 152zM531.3 289.1L531.3 315.7L532.1 322.5L533.8 322.5L535 308.9L535.7 300.2L535.7 287.2L533.3 303zM535.2 160.2L535.2 135.3L536 128.1L537.8 128.1L538.9 142.1L539.4 150.8L539.4 159.9L537.8 148.3zM539 290.8L539 315.7L539.8 322.5L541.5 322.5L542.7 308.9L543.3 300.2L543.3 287.8L541.3 297.5zM542.9 162.9L542.9 135.3L543.7 128.1L545.5 128.1L546.5 142.1L547.1 150.8L547.1 165.7L544.6 152zM546.6 288.3L546.6 315.7L547.4 322.5L549.2 322.5L550.4 308.9L551 300.2L551 287L548.3 296.9zM550.6 165L550.6 135.3L551.4 128.1L553.2 128.1L554.2 142.1L554.8 150.8L554.8 163.6L553 153.4zM554.3 291.2L554.3 315.7L555.1 322.5L556.8 322.5L558 308.9L558.7 300.2L558.7 290L556.7 299.8zM558.2 161L558.2 135.3L559 128.1L560.8 128.1L561.9 142.1L562.4 150.8L562.4 162L560.3 152.4zM562 289.4L562 315.7L562.8 322.5L564.5 322.5L565.7 308.9L566.4 300.2L566.4 291.8L564.5 305.2zM565.9 161.6L565.9 135.3L566.7 128.1L568.5 128.1L569.6 142.1L570.1 150.8L570.1 161.5L567.6 145.5zM569.6 287.8L569.6 315.7L570.4 322.5L572.2 322.5L573.4 308.9L574 300.2L574 286.8L571.5 295.7zM573.6 166.9L573.6 135.3L574.4 128.1L576.2 128.1L577.2 142.1L577.8 150.8L577.8 166.3L575.5 157.4zM577.3 288.9L577.3 315.7L578.1 322.5L579.9 322.5L581 308.9L581.7 300.2L581.7 287.9L579.3 300.6zM581.2 163.2L581.2 135.3L582 128.1L583.8 128.1L584.9 142.1L585.4 150.8L585.4 163.5L583.5 152.8zM585 284.8L585 315.7L585.8 322.5L587.5 322.5L588.7 308.9L589.4 300.2L589.4 286.4L587.3 296.4zM588.9 161.4L588.9 135.3L589.7 128.1L591.5 128.1L592.6 142.1L593.1 150.8L593.1 159.8L591.2 152.9zM592.7 287.4L592.7 315.7L593.5 322.5L595.2 322.5L596.4 308.9L597 300.2L597 286.1L595 300.2zM596.6 160.4L596.6 135.3L597.4 128.1L599.2 128.1L600.2 142.1L600.8 150.8L600.8 160.9L599.1 148.1zM600.3 287L600.3 315.7L601.1 322.5L602.9 322.5L604.1 308.9L604.7 300.2L604.7 287.1L602.9 301.2zM604.2 162.6L604.2 135.3L605 128.1L606.9 128.1L607.9 142.1L608.5 150.8L608.5 162.6L606.3 153.1zM608 287.7L608 315.7L608.8 322.5L610.5 322.5L611.7 308.9L612.4 300.2L612.4 286.2L610.4 294.5zM611.9 163.5L611.9 135.3L612.7 128.1L614.5 128.1L615.6 142.1L616.1 150.8L616.1 160.2L613.5 151.4zM615.7 291.7L615.7 315.7L616.5 322.5L618.2 322.5L619.4 308.9L620 300.2L620 291.8L618 302.6zM619.6 157.9L619.6 135.3L620.4 128.1L622.2 128.1L623.2 142.1L623.8 150.8L623.8 160.9L621.6 148.4zM623.3 291.2L623.3 315.7L624.1 322.5L625.9 322.5L627.1 308.9L627.7 300.2L627.7 291.8L625.1 299.2zM627.3 162.8L627.3 135.3L628.1 128.1L629.9 128.1L630.9 142.1L631.5 150.8L631.5 163.3L629.7 150.9zM631 291.6L631 315.7L631.8 322.5L633.5 322.5L634.7 308.9L635.4 300.2L635.4 288.1L633.5 303.6zM634.9 161.2L634.9 135.3L635.7 128.1L637.5 128.1L638.6 142.1L639.1 150.8L639.1 163.8L636.7 150.7zM638.7 290.2L638.7 315.7L639.5 322.5L641.2 322.5L642.4 308.9L643 300.2L643 292.4L640.4 298.3zM642.6 167.8L642.6 135.3L643.4 128.1L645.2 128.1L646.2 142.1L646.8 150.8L646.8 165.2L644.7 152.6zM646.3 291.4L646.3 315.7L647.1 322.5L648.9 322.5L650.1 308.9L650.7 300.2L650.7 293.9L648.1 300.6zM650.3 166.9L650.3 135.3L651.1 128.1L652.9 128.1L653.9 142.1L654.5 150.8L654.5 165.9L652.2 149.7zM654 287L654 315.7L654.8 322.5L656.6 322.5L657.7 308.9L658.4 300.2L658.4 288.3L656 301.5zM657.9 163L657.9 135.3L658.7 128.1L660.5 128.1L661.6 142.1L662.1 150.8L662.1 164.5L659.7 152.4zM661.7 291.9L661.7 315.7L662.5 322.5L664.2 322.5L665.4 308.9L666.1 300.2L666.1 292.6L664 307.1zM665.6 163.7L665.6 135.3L666.4 128.1L668.2 128.1L669.3 142.1L669.8 150.8L669.8 167.7L667.3 150.9zM669.4 290.6L669.4 315.7L670.2 322.5L671.9 322.5L673.1 308.9L673.7 300.2L673.7 292.1L671.1 298.7zM673.3 162.1L673.3 135.3L674.1 128.1L675.9 128.1L676.9 142.1L677.5 150.8L677.5 161.2L675.3 151.8zM677 291.7L677 315.7L677.8 322.5L679.6 322.5L680.8 308.9L681.4 300.2L681.4 289.5L679.3 297.7zM680.9 163.3L680.9 135.3L681.7 128.1L683.5 128.1L684.6 142.1L685.1 150.8L685.1 165.7L683.1 156.3zM684.7 285.2L684.7 315.7L685.5 322.5L687.2 322.5L688.4 308.9L689.1 300.2L689.1 287.1L687 297.5zM688.6 161.8L688.6 135.3L689.4 128.1L691.2 128.1L692.3 142.1L692.8 150.8L692.8 160L691.1 150.7zM692.4 293.4L692.4 315.7L693.2 322.5L694.9 322.5L696.1 308.9L696.7 300.2L696.7 289.8L694.8 304.4zM696.3 164.9L696.3 135.3L697.1 128.1L698.9 128.1L699.9 142.1L700.5 150.8L700.5 166.2L698.3 153.2zM700 285.2L700 315.7L700.8 322.5L702.6 322.5L703.8 308.9L704.4 300.2L704.4 287.7L702.4 297.5zM704 162.6L704 135.3L704.8 128.1L706.6 128.1L707.6 142.1L708.2 150.8L708.2 164.4L706 152.9zM707.7 285.4L707.7 315.7L708.5 322.5L710.2 322.5L711.4 308.9L712.1 300.2L712.1 287.6L710.1 302.8zM711.6 161.7L711.6 135.3L712.4 128.1L714.2 128.1L715.3 142.1L715.8 150.8L715.8 164.1L713.3 148.9zM715.4 288.6L715.4 315.7L716.2 322.5L717.9 322.5L719.1 308.9L719.8 300.2L719.8 287.4L717.4 296.2zM719.3 157.6L719.3 135.3L720.1 128.1L721.9 128.1L723 142.1L723.5 150.8L723.5 159.8L721.3 151.7zM723 285.1L723 315.7L723.8 322.5L725.6 322.5L726.8 308.9L727.4 300.2L727.4 288.1L725 302zM727 162.3L727 135.3L727.8 128.1L729.6 128.1L730.6 142.1L731.2 150.8L731.2 162.6L729.2 147.8zM730.7 291.6L730.7 315.7L731.5 322.5L733.3 322.5L734.4 308.9L735.1 300.2L735.1 291.2L732.6 301.5zM734.6 163L734.6 135.3L735.4 128.1L737.2 128.1L738.3 142.1L738.8 150.8L738.8 159.3L736.3 153.7zM738.4 286.7L738.4 315.7L739.2 322.5L740.9 322.5L742.1 308.9L742.8 300.2L742.8 289.3L740.8 296.6zM742.3 162.9L742.3 135.3L743.1 128.1L744.9 128.1L746 142.1L746.5 150.8L746.5 165.4L744.6 148.7zM746.1 291.5L746.1 315.7L746.9 322.5L748.6 322.5L749.8 308.9L750.4 300.2L750.4 289.7L747.9 302.8zM750 165.3L750 135.3L750.8 128.1L752.6 128.1L753.6 142.1L754.2 150.8L754.2 163.3L751.7 154.9zM753.7 287.5L753.7 315.7L754.5 322.5L756.3 322.5L757.5 308.9L758.1 300.2L758.1 284.1L756.2 297.2zM757.6 166.2L757.6 135.3L758.4 128.1L760.2 128.1L761.3 142.1L761.9 150.8L761.9 165.5L759.5 154.8zM761.4 291.8L761.4 315.7L762.2 322.5L763.9 322.5L765.1 308.9L765.8 300.2L765.8 292.1L763.5 301.6zM765.3 161.6L765.3 135.3L766.1 128.1L767.9 128.1L769 142.1L769.5 150.8L769.5 160.2L767 152.6zM769.1 291.1L769.1 315.7L769.9 322.5L771.6 322.5L772.8 308.9L773.4 300.2L773.4 289.6L771.3 303.2zM773 163L773 135.3L773.8 128.1L775.6 128.1L776.6 142.1L777.2 150.8L777.2 165.5L774.7 150.3zM776.7 289.8L776.7 315.7L777.5 322.5L779.3 322.5L780.5 308.9L781.1 300.2L781.1 292.4L779.2 304.4zM780.7 165.1L780.7 135.3L781.5 128.1L783.3 128.1L784.3 142.1L784.9 150.8L784.9 168.1L782.3 151.2zM784.4 292.1L784.4 315.7L785.2 322.5L786.9 322.5L788.1 308.9L788.8 300.2L788.8 292.5L786.7 304.6zM788.3 166.1L788.3 135.3L789.1 128.1L790.9 128.1L792 142.1L792.5 150.8L792.5 163.7L790.6 157.1zM792.1 290.7L792.1 315.7L792.9 322.5L794.6 322.5L795.8 308.9L796.5 300.2L796.5 291.3L794.7 300.4zM796 162.4L796 135.3L796.8 128.1L798.6 128.1L799.7 142.1L800.2 150.8L800.2 162.9L797.7 151.4zM799.8 290.1L799.8 315.7L800.5 322.5L802.3 322.5L803.5 308.9L804.1 300.2L804.1 288.4L801.7 304.4zM803.7 163.1L803.7 135.3L804.5 128.1L806.3 128.1L807.3 142.1L807.9 150.8L807.9 163.9L805.5 150zM807.4 288.6L807.4 315.7L808.2 322.5L810 322.5L811.1 308.9L811.8 300.2L811.8 288.8L809.4 305.3zM811.3 162.5L811.3 135.3L812.1 128.1L813.9 128.1L815 142.1L815.5 150.8L815.5 160.8L813.1 153.1zM815.1 290.9L815.1 315.7L815.9 322.5L817.6 322.5L818.8 308.9L819.5 300.2L819.5 287.8L817.3 298.8zM819 158.4L819 135.3L819.8 128.1L821.6 128.1L822.7 142.1L823.2 150.8L823.2 159L820.7 145.3zM822.8 289.7L822.8 315.7L823.6 322.5L825.3 322.5L826.5 308.9L827.1 300.2L827.1 291.4L824.5 298.8zM826.7 167L826.7 135.3L827.5 128.1L829.3 128.1L830.3 142.1L830.9 150.8L830.9 166.6L829.1 149.7zM830.4 290.2L830.4 315.7L831.2 322.5L833 322.5L834.1 308.9L834.8 300.2L834.8 290.2L832.8 299.7zM834.3 162L834.3 135.3L835.1 128.1L836.9 128.1L838 142.1L838.5 150.8L838.5 163.2L836 147.1zM838.1 288.4L838.1 315.7L838.9 322.5L840.6 322.5L841.8 308.9L842.5 300.2L842.5 289.8L840.7 302.3zM842 158.7L842 135.3L842.8 128.1L844.6 128.1L845.7 142.1L846.2 150.8L846.2 161.4L844.2 148.2zM845.8 292.8L845.8 315.7L846.6 322.5L848.3 322.5L849.5 308.9L850.1 300.2L850.1 292.1L848.2 302.7zM849.7 158L849.7 135.3L850.5 128.1L852.3 128.1L853.3 142.1L853.9 150.8L853.9 156.9L852.3 146.7zM853.4 287.4L853.4 315.7L854.2 322.5L856 322.5L857.2 308.9L857.8 300.2L857.8 282.7L855.4 295zM857.4 167.4L857.4 135.3L858.2 128.1L860 128.1L861 142.1L861.6 150.8L861.6 165.6L859.1 150.7zM861.1 288.6L861.1 315.7L861.9 322.5L863.6 322.5L864.8 308.9L865.5 300.2L865.5 289.6L863.1 300.4zM865 162.4L865 135.3L865.8 128.1L867.6 128.1L868.7 142.1L869.2 150.8L869.2 161.1L867.1 146.5zM868.8 289.4L868.8 315.7L869.6 322.5L871.3 322.5L872.5 308.9L873.1 300.2L873.1 287L870.7 296.8zM872.7 167.3L872.7 135.3L873.5 128.1L875.3 128.1L876.4 142.1L876.9 150.8L876.9 163.5L874.6 151.8zM876.4 289.7L876.4 315.7L877.2 322.5L879 322.5L880.2 308.9L880.8 300.2L880.8 287L878.9 295.9zM880.4 165.4L880.4 135.3L881.2 128.1L883 128.1L884 142.1L884.6 150.8L884.6 165.3L882.1 152.3zM884.1 287.9L884.1 315.7L884.9 322.5L886.7 322.5L887.8 308.9L888.5 300.2L888.5 284.3L885.9 299.9zM888 162.1L888 135.3L888.8 128.1L890.6 128.1L891.7 142.1L892.2 150.8L892.2 162.9L889.8 146.9zM891.8 289.2L891.8 315.7L892.6 322.5L894.3 322.5L895.5 308.9L896.2 300.2L896.2 289.5L894.3 300.3zM895.7 159.9L895.7 135.3L896.5 128.1L898.3 128.1L899.4 142.1L899.9 150.8L899.9 158.3L897.8 146.5zM899.5 289.7L899.5 315.7L900.3 322.5L902 322.5L903.2 308.9L903.8 300.2L903.8 289L901.3 304.3zM903.4 166.3L903.4 135.3L903.7 128.1L904.3 128.1L904.8 142.1L905 150.8L905 166L904.3 149.1z" fill="#FFB5B8" stroke="#FFB5B8" stroke-width="0.5"/>
<path d="M140.2 150.8V317.6M146.2 300.2V133.4M148.4 150.8V317.6M153.9 300.2V133.4M155.9 150.8V317.6M161.7 300.2V133.4M163.7 150.8V317.6M169.4 300.2V133.4M171.7 150.8V317.6M175.9 300.2V133.4M186.4 150.8V317.6M199.9 300.2V133.4M202.4 150.8V317.6M207.2 300.2V133.4M209.5 150.8V317.6M213.6 300.2V133.4M217.4 150.8V317.6M221.3 300.2V133.4M225 150.8V317.6M229 300.2V133.4M232.7 150.8V317.6M236.6 300.2V133.4M240.4 150.8V317.6M244.3 300.2V133.4M248.1 150.8V317.6M252 300.2V133.4M255.7 150.8V317.6M259.7 300.2V133.4M263.4 150.8V317.6M267.3 300.2V133.4M271.1 150.8V317.6M275 300.2V133.4M278.7 150.8V317.6M282.7 300.2V133.4M286.4 150.8V317.6M290.3 300.2V133.4M294.1 150.8V317.6M298 300.2V133.4M301.8 150.8V317.6M305.7 300.2V133.4M309.4 150.8V317.6M313.3 300.2V133.4M317.1 150.8V317.6M321 300.2V133.4M324.8 150.8V317.6M328.7 300.2V133.4M332.4 150.8V317.6M336.4 300.2V133.4M340.1 150.8V317.6M344 300.2V133.4M347.8 150.8V317.6M351.7 300.2V133.4M355.4 150.8V317.6M359.4 300.2V133.4M363.1 150.8V317.6M367 300.2V133.4M370.8 150.8V317.6M374.7 300.2V133.4M378.5 150.8V317.6M382.4 300.2V133.4M386.1 150.8V317.6M390 300.2V133.4M393.8 150.8V317.6M397.7 300.2V133.4M401.5 150.8V317.6M405.4 300.2V133.4M409.1 150.8V317.6M413.1 300.2V133.4M416.8 150.8V317.6M420.7 300.2V133.4M424.5 150.8V317.6M428.4 300.2V133.4M432.1 150.8V317.6M436.1 300.2V133.4M439.8 150.8V317.6M443.7 300.2V133.4M447.5 150.8V317.6M451.4 300.2V133.4M455.2 150.8V317.6M459.1 300.2V133.4M462.8 150.8V317.6M466.7 300.2V133.4M470.5 150.8V317.6M474.4 300.2V133.4M478.2 150.8V317.6M482.1 300.2V133.4M485.8 150.8V317.6M489.8 300.2V133.4M493.5 150.8V317.6M497.4 300.2V133.4M501.2 150.8V317.6M505.1 300.2V133.4M508.8 150.8V317.6M512.8 300.2V133.4M516.5 150.8V317.6M520.4 300.2V133.4M524.2 150.8V317.6M528.1 300.2V133.4M531.9 150.8V317.6M535.8 300.2V133.4M539.5 150.8V317.6M543.4 300.2V133.4M547.2 150.8V317.6M551.1 300.2V133.4M554.9 150.8V317.6M558.8 300.2V133.4M562.5 150.8V317.6M566.5 300.2V133.4M570.2 150.8V317.6M574.1 300.2V133.4M577.9 150.8V317.6M581.8 300.2V133.4M585.5 150.8V317.6M589.5 300.2V133.4M593.2 150.8V317.6M597.1 300.2V133.4M600.9 150.8V317.6M604.8 300.2V133.4M608.6 150.8V317.6M612.5 300.2V133.4M616.2 150.8V317.6M620.1 300.2V133.4M623.9 150.8V317.6M627.8 300.2V133.4M631.6 150.8V317.6M635.5 300.2V133.4M639.2 150.8V317.6M643.1 300.2V133.4M646.9 150.8V317.6M650.8 300.2V133.4M654.6 150.8V317.6M658.5 300.2V133.4M662.2 150.8V317.6M666.2 300.2V133.4M669.9 150.8V317.6M673.8 300.2V133.4M677.6 150.8V317.6M681.5 300.2V133.4M685.2 150.8V317.6M689.2 300.2V133.4M692.9 150.8V317.6M696.8 300.2V133.4M700.6 150.8V317.6M704.5 300.2V133.4M708.3 150.8V317.6M712.2 300.2V133.4M715.9 150.8V317.6M719.9 300.2V133.4M723.6 150.8V317.6M727.5 300.2V133.4M731.3 150.8V317.6M735.2 300.2V133.4M738.9 150.8V317.6M742.9 300.2V133.4M746.6 150.8V317.6M750.5 300.2V133.4M754.3 150.8V317.6M758.2 300.2V133.4M762 150.8V317.6M765.9 300.2V133.4M769.6 150.8V317.6M773.5 300.2V133.4M777.3 150.8V317.6M781.2 300.2V133.4M785 150.8V317.6M788.9 300.2V133.4M792.6 150.8V317.6M796.6 300.2V133.4M800.3 150.8V317.6M804.2 300.2V133.4M808 150.8V317.6M811.9 300.2V133.4M815.6 150.8V317.6M819.6 300.2V133.4M823.3 150.8V317.6M827.2 300.2V133.4M831 150.8V317.6M834.9 300.2V133.4M838.6 150.8V317.6M842.6 300.2V133.4M846.3 150.8V317.6M850.2 300.2V133.4M854 150.8V317.6M857.9 300.2V133.4M861.7 150.8V317.6M865.6 300.2V133.4M869.3 150.8V317.6M873.2 300.2V133.4M877 150.8V317.6M880.9 300.2V133.4M884.7 150.8V317.6M888.6 300.2V133.4M892.3 150.8V317.6M896.3 300.2V133.4M900 150.8V317.6M903.9 300.2V133.4" stroke="#FFB5B8" stroke-width="1.39"/>
<path d="M139 168.2L139 135.3L139.2 128.1L139.7 128.1L140 142.1L140.2 150.8L140.2 168.6L139.6 153.6zM139.7 282.6L139.7 315.7L140.5 322.5L144.2 322.5L145.5 308.9L146.2 300.2L146.2 282.5L142.9 296.4zM145.7 170.3L145.7 135.3L146.2 128.1L147.3 128.1L148 142.1L148.4 150.8L148.4 166.7L146.7 157.3zM147.9 284.4L147.9 315.7L148.7 322.5L152 322.5L153.2 308.9L153.9 300.2L153.9 284.1L150.8 299.3zM153.4 164.3L153.4 135.3L153.9 128.1L154.9 128.1L155.5 142.1L155.9 150.8L155.9 163.1L154.3 147.4zM155.4 282.1L155.4 315.7L156.2 322.5L159.8 322.5L161 308.9L161.7 300.2L161.7 281.5L158.6 297.4zM161.2 165L161.2 135.3L161.7 128.1L162.6 128.1L163.3 142.1L163.7 150.8L163.7 166.5L162 152.4zM163.2 284.5L163.2 315.7L164 322.5L167.5 322.5L168.8 308.9L169.4 300.2L169.4 282.7L166.4 294.7zM168.9 166.6L168.9 135.3L169.5 128.1L170.5 128.1L171.2 142.1L171.7 150.8L171.7 164.7L170 151.5zM171.2 300.9L171.5 295.9L171.9 290.9L172.2 286L172.6 288.3L172.9 293.3L173.3 298.2L173.6 303.2L174 308.1L174.3 313.1L174.6 317.6L175 317.6L175.3 317.6L175.7 317.6L176 317.6L176.4 317.6L176.7 317.6L177.1 317.6L177.4 317.6L177.8 316.6L178.1 311.6L178.5 306.7L178.8 301.7L179.1 296.8L179.5 291.8L179.8 286.8L180.2 287.5L180.5 292.4L180.9 297.4L181.2 302.3L181.6 307.3L181.9 312.2L182.3 317.2L182.6 317.6L183 317.6L183.3 317.6L183.6 317.6L184 317.6L184.3 317.6L184.7 317.6L185 317.6L185.4 317.5L185.7 312.5L186.1 307.5L186.4 302.6L186.8 297.6L187.1 292.7L187.4 287.7L187.8 286.6L188.1 291.5L188.5 296.5L188.8 301.5L189.2 306.4L189.5 311.4L189.9 316.3L190.2 317.6L190.6 317.6L190.9 317.6L191.3 317.6L191.6 317.6L191.9 317.6L192.3 317.6L192.6 317.6L193 317.6L193.3 313.4L193.7 308.4L194 303.4L194.4 298.5L194.7 293.5L195.1 288.6L195.4 285.7L195.7 290.7L196.1 295.6L196.4 300.6L196.8 305.6L197.1 310.5L197.5 315.5L197.8 317.6L198.2 317.6L198.5 317.6L198.9 317.6L199.2 317.6L199.6 317.6L199.9 317.6L199.9 286.6L199.6 286.6L199.2 286.6L198.9 286.6L198.5 286.6L198.2 286.6L197.8 286.6L197.5 286.6L197.1 286.6L196.8 286.6L196.4 289L196.1 293.4L195.7 297.8L195.4 302.2L195.1 299.7L194.7 295.3L194.4 290.9L194 286.6L193.7 286.6L193.3 286.6L193 286.6L192.6 286.6L192.3 286.6L191.9 286.6L191.6 286.6L191.3 286.6L190.9 286.6L190.6 286.6L190.2 286.6L189.9 286.6L189.5 286.6L189.2 286.6L188.8 288.3L188.5 292.7L188.1 297L187.8 301.4L187.4 300.4L187.1 296L186.8 291.7L186.4 287.3L186.1 286.6L185.7 286.6L185.4 286.6L185 286.6L184.7 286.6L184.3 286.6L184 286.6L183.6 286.6L183.3 286.6L183 286.6L182.6 286.6L182.3 286.6L181.9 286.6L181.6 286.6L181.2 287.5L180.9 291.9L180.5 296.3L180.2 300.6L179.8 301.2L179.5 296.8L179.1 292.4L178.8 288.1L178.5 286.6L178.1 286.6L177.8 286.6L177.4 286.6L177.1 286.6L176.7 286.6L176.4 286.6L176 286.6L175.7 286.6L175.3 286.6L175 286.6L174.6 286.6L174.3 286.6L174 286.6L173.6 286.8L173.3 291.1L172.9 295.5L172.6 299.9L172.2 301.9L171.9 297.6L171.5 293.2L171.2 288.8zM199.4 163.4L199.4 135.3L200 128.1L201.2 128.1L202 142.1L202.4 150.8L202.4 166.2L201.4 151.5zM201.9 299.9L202.3 294.9L202.6 290L203 285.1L203.3 289.1L203.7 294L204 298.9L204.3 303.8L204.7 308.7L205 313.6L205.4 317.6L205.7 317.6L206 317.6L206.4 317.6L206.7 317.6L207.1 317.6L207.4 317.6L207.8 317.6L208.1 317.6L208.4 316.6L208.8 311.6L209.1 306.7L209.5 301.8L209.8 296.9L210.2 292L210.5 287.1L210.8 287.1L211.2 292L211.5 296.9L211.9 301.9L212.2 306.8L212.6 311.7L212.9 316.6L213.2 317.6L213.6 317.6L213.6 286.6L213.2 286.6L212.9 286.6L212.6 286.6L212.2 286.6L211.9 287.9L211.5 292.3L211.2 296.6L210.8 300.9L210.5 300.9L210.2 296.6L209.8 292.3L209.5 288L209.1 286.6L208.8 286.6L208.4 286.6L208.1 286.6L207.8 286.6L207.4 286.6L207.1 286.6L206.7 286.6L206.4 286.6L206 286.6L205.7 286.6L205.4 286.6L205 286.6L204.7 286.6L204.3 286.6L204 290.5L203.7 294.8L203.3 299.2L203 302.7L202.6 298.4L202.3 294L201.9 289.7zM213.1 164.7L213.1 135.3L213.9 128.1L215.7 128.1L216.8 142.1L217.3 150.8L217.3 166L214.8 157.3zM216.9 288.1L216.9 315.7L217.7 322.5L219.4 322.5L220.6 308.9L221.2 300.2L221.2 288.6L218.9 299.1zM220.8 163.6L220.8 135.3L221.6 128.1L223.4 128.1L224.4 142.1L225 150.8L225 164.2L223.2 151.7zM224.5 288.5L224.5 315.7L225.3 322.5L227.1 322.5L228.3 308.9L228.9 300.2L228.9 286.5L226.9 301.7zM228.5 162L228.5 135.3L229.3 128.1L231.1 128.1L232.1 142.1L232.7 150.8L232.7 165.4L230.5 149.9zM232.2 284.5L232.2 315.7L233 322.5L234.8 322.5L235.9 308.9L236.6 300.2L236.6 285.2L234 298.1zM236.1 167.1L236.1 135.3L236.9 128.1L238.7 128.1L239.8 142.1L240.3 150.8L240.3 169.6L238.1 160zM239.9 286.1L239.9 315.7L240.7 322.5L242.4 322.5L243.6 308.9L244.3 300.2L244.3 288.4L242.5 299.4zM243.8 161.4L243.8 135.3L244.6 128.1L246.4 128.1L247.5 142.1L248 150.8L248 163.6L245.8 153.5zM247.5 290.5L247.5 315.7L248.3 322.5L250.1 322.5L251.3 308.9L251.9 300.2L251.9 286.7L249.5 296.8zM251.5 167.2L251.5 135.3L252.3 128.1L254.1 128.1L255.1 142.1L255.7 150.8L255.7 168.3L253.1 154.8zM255.2 284.5L255.2 315.7L256 322.5L257.8 322.5L259 308.9L259.6 300.2L259.6 287.3L257.6 297.3zM259.1 164.7L259.1 135.3L259.9 128.1L261.8 128.1L262.8 142.1L263.4 150.8L263.4 167.4L261.6 152.1zM262.9 289.4L262.9 315.7L263.7 322.5L265.4 322.5L266.6 308.9L267.3 300.2L267.3 287L265 301.8zM266.8 167.4L266.8 135.3L267.6 128.1L269.4 128.1L270.5 142.1L271 150.8L271 170.2L268.6 160.2zM270.6 282.6L270.6 315.7L271.4 322.5L273.1 322.5L274.3 308.9L274.9 300.2L274.9 280.9L272.4 291.1zM274.5 168.7L274.5 135.3L275.3 128.1L277.1 128.1L278.1 142.1L278.7 150.8L278.7 166.3L276.7 160.6zM278.2 282.1L278.2 315.7L279 322.5L280.8 322.5L282 308.9L282.6 300.2L282.6 282.6L280 293.6zM282.2 160.6L282.2 135.3L283 128.1L284.8 128.1L285.8 142.1L286.4 150.8L286.4 163.1L283.8 151.6zM285.9 282.2L285.9 315.7L286.7 322.5L288.4 322.5L289.6 308.9L290.3 300.2L290.3 284.5L287.8 292.5zM289.8 166.4L289.8 135.3L290.6 128.1L292.4 128.1L293.5 142.1L294 150.8L294 170.3L292 156.7zM293.6 282.6L293.6 315.7L294.4 322.5L296.1 322.5L297.3 308.9L297.9 300.2L297.9 284.2L296 298.2zM297.5 167.6L297.5 135.3L298.3 128.1L300.1 128.1L301.1 142.1L301.7 150.8L301.7 165.7L299.6 158.2zM301.2 286.7L301.2 315.7L302 322.5L303.8 322.5L305 308.9L305.6 300.2L305.6 289L303.9 296.8zM305.2 161.5L305.2 135.3L306 128.1L307.8 128.1L308.8 142.1L309.4 150.8L309.4 161.8L307 148.5zM308.9 285.1L308.9 315.7L309.7 322.5L311.5 322.5L312.6 308.9L313.3 300.2L313.3 283.5L310.9 293.3zM312.8 166.1L312.8 135.3L313.6 128.1L315.4 128.1L316.5 142.1L317 150.8L317 167.3L315.4 151.4zM316.6 291.2L316.6 315.7L317.4 322.5L319.1 322.5L320.3 308.9L321 300.2L321 287.6L318.5 299.4zM320.5 168.9L320.5 135.3L321.3 128.1L323.1 128.1L324.2 142.1L324.7 150.8L324.7 165.5L322.9 154.7zM324.2 286.2L324.2 315.7L325.1 322.5L326.8 322.5L328 308.9L328.6 300.2L328.6 283.5L326.6 299.8zM328.2 161.2L328.2 135.3L329 128.1L330.8 128.1L331.8 142.1L332.4 150.8L332.4 162.7L330 148.8zM331.9 286.8L331.9 315.7L332.7 322.5L334.5 322.5L335.7 308.9L336.3 300.2L336.3 289.9L334 301.9zM335.8 163.9L335.8 135.3L336.6 128.1L338.4 128.1L339.5 142.1L340.1 150.8L340.1 167.6L337.6 152.4zM339.6 285.2L339.6 315.7L340.4 322.5L342.1 322.5L343.3 308.9L344 300.2L344 281.6L342.1 297.6zM343.5 161.3L343.5 135.3L344.3 128.1L346.1 128.1L347.2 142.1L347.7 150.8L347.7 161.9L345.2 151.8zM347.3 284.6L347.3 315.7L348.1 322.5L349.8 322.5L351 308.9L351.6 300.2L351.6 282.5L349.9 295.3zM351.2 164L351.2 135.3L352 128.1L353.8 128.1L354.8 142.1L355.4 150.8L355.4 167.2L353 151.3zM354.9 283L354.9 315.7L355.7 322.5L357.5 322.5L358.7 308.9L359.3 300.2L359.3 283.1L357 296.6zM358.9 165.9L358.9 135.3L359.7 128.1L361.5 128.1L362.5 142.1L363.1 150.8L363.1 168.1L361 157.5zM362.6 288L362.6 315.7L363.4 322.5L365.1 322.5L366.3 308.9L367 300.2L367 288.4L364.8 303.7zM366.5 167.5L366.5 135.3L367.3 128.1L369.1 128.1L370.2 142.1L370.7 150.8L370.7 166.7L368.1 154.1zM370.3 286.1L370.3 315.7L371.1 322.5L372.8 322.5L374 308.9L374.7 300.2L374.7 288.8L372.5 299.1zM374.2 166.5L374.2 135.3L375 128.1L376.8 128.1L377.9 142.1L378.4 150.8L378.4 165.2L375.9 154.4zM377.9 284.8L377.9 315.7L378.7 322.5L380.5 322.5L381.7 308.9L382.3 300.2L382.3 287.4L380.1 295.7zM381.9 163.7L381.9 135.3L382.7 128.1L384.5 128.1L385.5 142.1L386.1 150.8L386.1 165.2L384.1 149.7zM385.6 285.7L385.6 315.7L386.4 322.5L388.2 322.5L389.3 308.9L390 300.2L390 285.4L387.8 299zM389.5 163.4L389.5 135.3L390.3 128.1L392.1 128.1L393.2 142.1L393.7 150.8L393.7 163.7L392.1 152.1zM393.3 284.3L393.3 315.7L394.1 322.5L395.8 322.5L397 308.9L397.7 300.2L397.7 285.7L395.1 299.5zM397.2 168.2L397.2 135.3L398 128.1L399.8 128.1L400.9 142.1L401.4 150.8L401.4 169.2L398.9 160zM401 288.2L401 315.7L401.8 322.5L403.5 322.5L404.7 308.9L405.3 300.2L405.3 285.1L403.4 301.9zM404.9 166L404.9 135.3L405.7 128.1L407.5 128.1L408.5 142.1L409.1 150.8L409.1 162L406.7 149.3zM408.6 288.2L408.6 315.7L409.4 322.5L411.2 322.5L412.4 308.9L413 300.2L413 291.1L411.1 300.2zM412.5 168L412.5 135.3L413.3 128.1L415.1 128.1L416.2 142.1L416.8 150.8L416.8 168.4L414.3 155.9zM416.3 285.5L416.3 315.7L417.1 322.5L418.8 322.5L420 308.9L420.7 300.2L420.7 284.7L418.4 291.9zM420.2 169.4L420.2 135.3L421 128.1L422.8 128.1L423.9 142.1L424.4 150.8L424.4 168.6L421.9 155.9zM424 290.3L424 315.7L424.8 322.5L426.5 322.5L427.7 308.9L428.3 300.2L428.3 287L425.9 304.7zM427.9 167.1L427.9 135.3L428.7 128.1L430.5 128.1L431.5 142.1L432.1 150.8L432.1 170.3L429.9 158.9zM431.6 290L431.6 315.7L432.4 322.5L434.2 322.5L435.4 308.9L436 300.2L436 286.7L434.2 298zM435.6 163.9L435.6 135.3L436.4 128.1L438.2 128.1L439.2 142.1L439.8 150.8L439.8 167L437.8 156.8zM439.3 283.1L439.3 315.7L440.1 322.5L441.8 322.5L443 308.9L443.7 300.2L443.7 285.8L441.8 300.6zM443.2 166.5L443.2 135.3L444 128.1L445.8 128.1L446.9 142.1L447.4 150.8L447.4 166.4L445.3 160.3zM447 284.8L447 315.7L447.8 322.5L449.5 322.5L450.7 308.9L451.4 300.2L451.4 283.4L448.8 299.9zM450.9 166.4L450.9 135.3L451.7 128.1L453.5 128.1L454.6 142.1L455.1 150.8L455.1 166.8L452.5 156.9zM454.6 282.7L454.6 315.7L455.4 322.5L457.2 322.5L458.4 308.9L459 300.2L459 284.9L456.6 293.6zM458.6 166.9L458.6 135.3L459.4 128.1L461.2 128.1L462.2 142.1L462.8 150.8L462.8 167.7L460.4 155.1zM462.3 283.5L462.3 315.7L463.1 322.5L464.9 322.5L466 308.9L466.7 300.2L466.7 280.8L464.5 294.4zM466.2 164.3L466.2 135.3L467 128.1L468.8 128.1L469.9 142.1L470.4 150.8L470.4 162.7L468.3 148zM470 287.4L470 315.7L470.8 322.5L472.5 322.5L473.7 308.9L474.4 300.2L474.4 288.8L472.7 299.6zM473.9 164.8L473.9 135.3L474.7 128.1L476.5 128.1L477.6 142.1L478.1 150.8L478.1 165.8L475.9 153zM477.7 282.4L477.7 315.7L478.5 322.5L480.2 322.5L481.4 308.9L482 300.2L482 282.5L480.1 293zM481.6 168.7L481.6 135.3L482.4 128.1L484.2 128.1L485.2 142.1L485.8 150.8L485.8 165.4L484 159zM485.3 285.7L485.3 315.7L486.1 322.5L487.9 322.5L489.1 308.9L489.7 300.2L489.7 285.8L487.5 296.2zM489.2 167.9L489.2 135.3L490 128.1L491.8 128.1L492.9 142.1L493.4 150.8L493.4 165.4L491.8 158.1zM493 284.7L493 315.7L493.8 322.5L495.5 322.5L496.7 308.9L497.4 300.2L497.4 285L495 301.7zM496.9 169.3L496.9 135.3L497.7 128.1L499.5 128.1L500.6 142.1L501.1 150.8L501.1 168.7L498.7 157.3zM500.7 283.3L500.7 315.7L501.5 322.5L503.2 322.5L504.4 308.9L505 300.2L505 283.7L502.7 295.3zM504.6 170.8L504.6 135.3L505.4 128.1L507.2 128.1L508.2 142.1L508.8 150.8L508.8 169.8L506.8 158.5zM508.3 287.1L508.3 315.7L509.1 322.5L510.9 322.5L512.1 308.9L512.7 300.2L512.7 286.9L510.9 298.9zM512.2 167L512.2 135.3L513 128.1L514.9 128.1L515.9 142.1L516.5 150.8L516.5 167.8L514.6 150.2zM516 284.4L516 315.7L516.8 322.5L518.5 322.5L519.7 308.9L520.4 300.2L520.4 288.5L518.3 301.2zM519.9 162.3L519.9 135.3L520.7 128.1L522.5 128.1L523.6 142.1L524.1 150.8L524.1 163.7L522 155.3zM523.7 289.4L523.7 315.7L524.5 322.5L526.2 322.5L527.4 308.9L528 300.2L528 288.3L526.3 302.4zM527.6 163.2L527.6 135.3L528.4 128.1L530.2 128.1L531.2 142.1L531.8 150.8L531.8 166.4L529.3 154.8zM531.3 282.8L531.3 315.7L532.1 322.5L533.9 322.5L535.1 308.9L535.7 300.2L535.7 285L533.7 299.3zM535.3 163.6L535.3 135.3L536.1 128.1L537.9 128.1L538.9 142.1L539.5 150.8L539.5 166.9L537.7 153zM539 287.3L539 315.7L539.8 322.5L541.6 322.5L542.7 308.9L543.4 300.2L543.4 288.1L540.8 299.3zM542.9 165L542.9 135.3L543.7 128.1L545.5 128.1L546.6 142.1L547.1 150.8L547.1 164.9L545.3 155.8zM546.7 284.8L546.7 315.7L547.5 322.5L549.2 322.5L550.4 308.9L551.1 300.2L551.1 283.6L548.8 299.4zM550.6 164.6L550.6 135.3L551.4 128.1L553.2 128.1L554.3 142.1L554.8 150.8L554.8 164.9L552.8 151.5zM554.3 281.1L554.3 315.7L555.1 322.5L556.9 322.5L558.1 308.9L558.7 300.2L558.7 284L556.3 292.3zM558.3 167.3L558.3 135.3L559.1 128.1L560.9 128.1L561.9 142.1L562.5 150.8L562.5 166L560.5 157.1zM562 287.8L562 315.7L562.8 322.5L564.6 322.5L565.8 308.9L566.4 300.2L566.4 287L564.2 296.8zM565.9 167.4L565.9 135.3L566.7 128.1L568.5 128.1L569.6 142.1L570.1 150.8L570.1 167L568.5 150.5zM569.7 286.3L569.7 315.7L570.5 322.5L572.2 322.5L573.4 308.9L574.1 300.2L574.1 290.2L572.3 299.9zM573.6 166.8L573.6 135.3L574.4 128.1L576.2 128.1L577.3 142.1L577.8 150.8L577.8 163.5L575.4 156.6zM577.4 284.5L577.4 315.7L578.2 322.5L579.9 322.5L581.1 308.9L581.7 300.2L581.7 288.4L579.2 298zM581.3 163.1L581.3 135.3L582.1 128.1L583.9 128.1L584.9 142.1L585.5 150.8L585.5 162.2L583.1 148.2zM585 288.3L585 315.7L585.8 322.5L587.6 322.5L588.8 308.9L589.4 300.2L589.4 285.9L587.2 295.8zM588.9 166.7L588.9 135.3L589.7 128.1L591.6 128.1L592.6 142.1L593.2 150.8L593.2 166.5L590.9 157.2zM592.7 285.5L592.7 315.7L593.5 322.5L595.2 322.5L596.4 308.9L597.1 300.2L597.1 289.6L594.5 301.8zM596.6 161.4L596.6 135.3L597.4 128.1L599.2 128.1L600.3 142.1L600.8 150.8L600.8 163.5L598.6 147.3zM600.4 287.3L600.4 315.7L601.2 322.5L602.9 322.5L604.1 308.9L604.8 300.2L604.8 284.2L602.5 297.3zM604.3 169.1L604.3 135.3L605.1 128.1L606.9 128.1L608 142.1L608.5 150.8L608.5 165.3L606.2 158.7zM608 287.4L608 315.7L608.8 322.5L610.6 322.5L611.8 308.9L612.4 300.2L612.4 288.7L609.9 298.2zM612 164L612 135.3L612.8 128.1L614.6 128.1L615.6 142.1L616.2 150.8L616.2 164.7L614.2 151.2zM615.7 290.6L615.7 315.7L616.5 322.5L618.3 322.5L619.4 308.9L620.1 300.2L620.1 289.5L617.4 300.5zM619.6 164L619.6 135.3L620.4 128.1L622.2 128.1L623.3 142.1L623.8 150.8L623.8 163.1L621.5 149.9zM623.4 284.6L623.4 315.7L624.2 322.5L625.9 322.5L627.1 308.9L627.8 300.2L627.8 282.4L625.4 291zM627.3 165.6L627.3 135.3L628.1 128.1L629.9 128.1L631 142.1L631.5 150.8L631.5 167.9L629.6 150.9zM631 284.6L631 315.7L631.8 322.5L633.6 322.5L634.8 308.9L635.4 300.2L635.4 282.7L632.9 295zM635 165.4L635 135.3L635.8 128.1L637.6 128.1L638.6 142.1L639.2 150.8L639.2 168.7L637.5 155.7zM638.7 288.8L638.7 315.7L639.5 322.5L641.3 322.5L642.4 308.9L643.1 300.2L643.1 287.5L640.5 297.5zM642.6 168.4L642.6 135.3L643.4 128.1L645.2 128.1L646.3 142.1L646.8 150.8L646.8 167.6L644.8 157.1zM646.4 289.5L646.4 315.7L647.2 322.5L648.9 322.5L650.1 308.9L650.8 300.2L650.8 287.9L648.6 299.1zM650.3 167L650.3 135.3L651.1 128.1L652.9 128.1L654 142.1L654.5 150.8L654.5 167.3L652.9 158.4zM654.1 283.1L654.1 315.7L654.9 322.5L656.6 322.5L657.8 308.9L658.4 300.2L658.4 284.9L656 295.9zM658 168.1L658 135.3L658.8 128.1L660.6 128.1L661.6 142.1L662.2 150.8L662.2 167.2L660.5 156.1zM661.7 289.8L661.7 315.7L662.5 322.5L664.3 322.5L665.5 308.9L666.1 300.2L666.1 285.7L664.1 295.5zM665.6 162.8L665.6 135.3L666.4 128.1L668.3 128.1L669.3 142.1L669.9 150.8L669.9 165.1L667.6 150.3zM669.4 290.1L669.4 315.7L670.2 322.5L671.9 322.5L673.1 308.9L673.8 300.2L673.8 290.8L671.3 303.3zM673.3 169.7L673.3 135.3L674.1 128.1L675.9 128.1L677 142.1L677.5 150.8L677.5 167.1L675.9 156.2zM677.1 287.9L677.1 315.7L677.9 322.5L679.6 322.5L680.8 308.9L681.4 300.2L681.4 286.9L679.3 301.1zM681 167.1L681 135.3L681.8 128.1L683.6 128.1L684.6 142.1L685.2 150.8L685.2 166.4L683.2 159.2zM684.7 282.5L684.7 315.7L685.5 322.5L687.3 322.5L688.5 308.9L689.1 300.2L689.1 285L687.1 293.8zM688.7 170.1L688.7 135.3L689.5 128.1L691.3 128.1L692.3 142.1L692.9 150.8L692.9 167.6L690.7 156.1zM692.4 284.3L692.4 315.7L693.2 322.5L695 322.5L696.1 308.9L696.8 300.2L696.8 282.8L694.6 291.1zM696.3 161.5L696.3 135.3L697.1 128.1L698.9 128.1L700 142.1L700.5 150.8L700.5 162.4L698.2 147.3zM700.1 286.2L700.1 315.7L700.9 322.5L702.6 322.5L703.8 308.9L704.5 300.2L704.5 283L701.8 297.3zM704 164.5L704 135.3L704.8 128.1L706.6 128.1L707.7 142.1L708.2 150.8L708.2 166.5L706.3 154.4zM707.7 287.2L707.7 315.7L708.5 322.5L710.3 322.5L711.5 308.9L712.1 300.2L712.1 287.7L709.9 296.1zM711.7 165.6L711.7 135.3L712.5 128.1L714.3 128.1L715.3 142.1L715.9 150.8L715.9 163L713.8 149.9zM715.4 285.9L715.4 315.7L716.2 322.5L718 322.5L719.1 308.9L719.8 300.2L719.8 285.2L717.3 293.6zM719.3 166L719.3 135.3L720.1 128.1L721.9 128.1L723 142.1L723.5 150.8L723.5 165.1L721.4 157.4zM723.1 282.2L723.1 315.7L723.9 322.5L725.6 322.5L726.8 308.9L727.5 300.2L727.5 284.3L725.7 294.4zM727 168.3L727 135.3L727.8 128.1L729.6 128.1L730.7 142.1L731.2 150.8L731.2 165.5L728.8 158.6zM730.8 280.5L730.8 315.7L731.6 322.5L733.3 322.5L734.5 308.9L735.1 300.2L735.1 284.5L733.3 293.3zM734.7 161.4L734.7 135.3L735.5 128.1L737.3 128.1L738.3 142.1L738.9 150.8L738.9 164.6L736.5 148.4zM738.4 289.8L738.4 315.7L739.2 322.5L741 322.5L742.2 308.9L742.8 300.2L742.8 289.4L740.5 296.2zM742.3 167L742.3 135.3L743.1 128.1L745 128.1L746 142.1L746.6 150.8L746.6 168.6L744.2 157.5zM746.1 286.8L746.1 315.7L746.9 322.5L748.6 322.5L749.8 308.9L750.5 300.2L750.5 286.9L748 293zM750 164.8L750 135.3L750.8 128.1L752.6 128.1L753.7 142.1L754.2 150.8L754.2 166.7L751.7 151.9zM753.8 284.8L753.8 315.7L754.6 322.5L756.3 322.5L757.5 308.9L758.1 300.2L758.1 284L755.8 300.8zM757.7 164.9L757.7 135.3L758.5 128.1L760.3 128.1L761.4 142.1L761.9 150.8L761.9 161.2L760.1 151.8zM761.4 280.3L761.4 315.7L762.2 322.5L764 322.5L765.2 308.9L765.8 300.2L765.8 284.6L763.4 290.3zM765.4 161.7L765.4 135.3L766.2 128.1L768 128.1L769 142.1L769.6 150.8L769.6 164.8L767.9 153.4zM769.1 285.3L769.1 315.7L769.9 322.5L771.7 322.5L772.8 308.9L773.5 300.2L773.5 285.5L771.1 300zM773 167.5L773 135.3L773.8 128.1L775.6 128.1L776.7 142.1L777.2 150.8L777.2 168.1L775.6 153.5zM776.8 281.1L776.8 315.7L777.6 322.5L779.3 322.5L780.5 308.9L781.2 300.2L781.2 284.6L779.4 293.8zM780.7 167.3L780.7 135.3L781.5 128.1L783.3 128.1L784.4 142.1L784.9 150.8L784.9 166.2L783.2 155.1zM784.4 285L784.4 315.7L785.2 322.5L787 322.5L788.2 308.9L788.8 300.2L788.8 285.1L786.9 297.2zM788.4 165.5L788.4 135.3L789.2 128.1L791 128.1L792 142.1L792.6 150.8L792.6 165.3L790.8 154.6zM792.1 281.3L792.1 315.7L792.9 322.5L794.7 322.5L795.9 308.9L796.5 300.2L796.5 281.6L793.9 296.6zM796 168.3L796 135.3L796.8 128.1L798.6 128.1L799.7 142.1L800.2 150.8L800.2 166.2L798.5 158.4zM799.8 287.8L799.8 315.7L800.6 322.5L802.3 322.5L803.5 308.9L804.2 300.2L804.2 287L802 297zM803.7 164.2L803.7 135.3L804.5 128.1L806.3 128.1L807.4 142.1L807.9 150.8L807.9 164.3L805.9 154.6zM807.5 288L807.5 315.7L808.3 322.5L810 322.5L811.2 308.9L811.8 300.2L811.8 287.6L809.3 301.5zM811.4 164L811.4 135.3L812.2 128.1L814 128.1L815 142.1L815.6 150.8L815.6 163.7L813.7 150.8zM815.1 282.4L815.1 315.7L815.9 322.5L817.7 322.5L818.9 308.9L819.5 300.2L819.5 281.9L817.7 293zM819 165.7L819 135.3L819.8 128.1L821.7 128.1L822.7 142.1L823.3 150.8L823.3 162.4L821.2 154.1zM822.8 285.3L822.8 315.7L823.6 322.5L825.3 322.5L826.5 308.9L827.2 300.2L827.2 286.2L824.6 296.8zM826.7 164L826.7 135.3L827.5 128.1L829.3 128.1L830.4 142.1L830.9 150.8L830.9 163.5L828.4 150.9zM830.5 282.4L830.5 315.7L831.3 322.5L833 322.5L834.2 308.9L834.8 300.2L834.8 286.5L832.7 293.2zM834.4 163.1L834.4 135.3L835.2 128.1L837 128.1L838 142.1L838.6 150.8L838.6 162.7L836.3 147.6zM838.1 289.7L838.1 315.7L838.9 322.5L840.7 322.5L841.9 308.9L842.5 300.2L842.5 288L840.4 295.7zM842.1 167.9L842.1 135.3L842.9 128.1L844.7 128.1L845.7 142.1L846.3 150.8L846.3 168.7L843.9 158.8zM845.8 287.1L845.8 315.7L846.6 322.5L848.4 322.5L849.5 308.9L850.2 300.2L850.2 283.9L847.8 295.4zM849.7 165.7L849.7 135.3L850.5 128.1L852.3 128.1L853.4 142.1L853.9 150.8L853.9 165.6L852.1 154.1zM853.5 283.8L853.5 315.7L854.3 322.5L856 322.5L857.2 308.9L857.9 300.2L857.9 285.5L855.7 294.1zM857.4 166.4L857.4 135.3L858.2 128.1L860 128.1L861.1 142.1L861.6 150.8L861.6 163.5L859.4 155.7zM861.1 283.2L861.1 315.7L861.9 322.5L863.7 322.5L864.9 308.9L865.5 300.2L865.5 283.3L863.4 299.8zM865.1 166.7L865.1 135.3L865.9 128.1L867.7 128.1L868.7 142.1L869.3 150.8L869.3 163.9L867 151.5zM868.8 284.7L868.8 315.7L869.6 322.5L871.4 322.5L872.5 308.9L873.2 300.2L873.2 281.2L871.4 292.6zM872.7 164.3L872.7 135.3L873.5 128.1L875.3 128.1L876.4 142.1L876.9 150.8L876.9 164L874.8 155.1zM876.5 281L876.5 315.7L877.3 322.5L879 322.5L880.2 308.9L880.9 300.2L880.9 284L879.1 295.4zM880.4 167.6L880.4 135.3L881.2 128.1L883 128.1L884.1 142.1L884.6 150.8L884.6 168.1L882.2 157.6zM884.2 284.3L884.2 315.7L885 322.5L886.7 322.5L887.9 308.9L888.5 300.2L888.5 282.3L886.3 299.5zM888.1 161L888.1 135.3L888.9 128.1L890.7 128.1L891.7 142.1L892.3 150.8L892.3 165.1L890.6 154.3zM891.8 288.8L891.8 315.7L892.6 322.5L894.4 322.5L895.6 308.9L896.2 300.2L896.2 290.9L893.9 296.6zM895.7 162L895.7 135.3L896.5 128.1L898.4 128.1L899.4 142.1L900 150.8L900 164.3L898.1 148.1zM899.5 283.3L899.5 315.7L900.3 322.5L902 322.5L903.2 308.9L903.9 300.2L903.9 285.3L901.4 298.4zM903.4 167.8L903.4 135.3L903.7 128.1L904.3 128.1L904.8 142.1L905 150.8L905 167.8L903.8 155.5z" fill="#E24A33" stroke="#E24A33" stroke-width="0.5"/>
<path d="M140 150.8V317.6M146 300.2V133.4M148.2 150.8V317.6M153.8 300.2V133.4M155.8 150.8V317.6M161.5 300.2V133.4M163.5 150.8V317.6M169.2 300.2V133.4M171.5 150.8V317.6M199.8 300.2V133.4M202.2 150.8V317.6M213.4 300.2V133.4M217.2 150.8V317.6M221.1 300.2V133.4M224.8 150.8V317.6M228.8 300.2V133.4M232.5 150.8V317.6M236.4 300.2V133.4M240.2 150.8V317.6M244.1 300.2V133.4M247.9 150.8V317.6M251.8 300.2V133.4M255.5 150.8V317.6M259.4 300.2V133.4M263.2 150.8V317.6M267.1 300.2V133.4M270.9 150.8V317.6M274.8 300.2V133.4M278.5 150.8V317.6M282.5 300.2V133.4M286.2 150.8V317.6M290.1 300.2V133.4M293.9 150.8V317.6M297.8 300.2V133.4M301.5 150.8V317.6M305.5 300.2V133.4M309.2 150.8V317.6M313.1 300.2V133.4M316.9 150.8V317.6M320.8 300.2V133.4M324.6 150.8V317.6M328.5 300.2V133.4M332.2 150.8V317.6M336.1 300.2V133.4M339.9 150.8V317.6M343.8 300.2V133.4M347.6 150.8V317.6M351.5 300.2V133.4M355.2 150.8V317.6M359.2 300.2V133.4M362.9 150.8V317.6M366.8 300.2V133.4M370.6 150.8V317.6M374.5 300.2V133.4M378.2 150.8V317.6M382.2 300.2V133.4M385.9 150.8V317.6M389.8 300.2V133.4M393.6 150.8V317.6M397.5 300.2V133.4M401.3 150.8V317.6M405.2 300.2V133.4M408.9 150.8V317.6M412.8 300.2V133.4M416.6 150.8V317.6M420.5 300.2V133.4M424.3 150.8V317.6M428.2 300.2V133.4M431.9 150.8V317.6M435.9 300.2V133.4M439.6 150.8V317.6M443.5 300.2V133.4M447.3 150.8V317.6M451.2 300.2V133.4M454.9 150.8V317.6M458.9 300.2V133.4M462.6 150.8V317.6M466.5 300.2V133.4M470.3 150.8V317.6M474.2 300.2V133.4M478 150.8V317.6M481.9 300.2V133.4M485.6 150.8V317.6M489.5 300.2V133.4M493.3 150.8V317.6M497.2 300.2V133.4M501 150.8V317.6M504.9 300.2V133.4M508.6 150.8V317.6M512.6 300.2V133.4M516.3 150.8V317.6M520.2 300.2V133.4M524 150.8V317.6M527.9 300.2V133.4M531.6 150.8V317.6M535.6 300.2V133.4M539.3 150.8V317.6M543.2 300.2V133.4M547 150.8V317.6M550.9 300.2V133.4M554.7 150.8V317.6M558.6 300.2V133.4M562.3 150.8V317.6M566.2 300.2V133.4M570 150.8V317.6M573.9 300.2V133.4M577.7 150.8V317.6M581.6 300.2V133.4M585.3 150.8V317.6M589.3 300.2V133.4M593 150.8V317.6M596.9 300.2V133.4M600.7 150.8V317.6M604.6 300.2V133.4M608.4 150.8V317.6M612.3 300.2V133.4M616 150.8V317.6M619.9 300.2V133.4M623.7 150.8V317.6M627.6 300.2V133.4M631.4 150.8V317.6M635.3 300.2V133.4M639 150.8V317.6M642.9 300.2V133.4M646.7 150.8V317.6M650.6 300.2V133.4M654.4 150.8V317.6M658.3 300.2V133.4M662 150.8V317.6M666 300.2V133.4M669.7 150.8V317.6M673.6 300.2V133.4M677.4 150.8V317.6M681.3 300.2V133.4M685 150.8V317.6M689 300.2V133.4M692.7 150.8V317.6M696.6 300.2V133.4M700.4 150.8V317.6M704.3 300.2V133.4M708.1 150.8V317.6M712 300.2V133.4M715.7 150.8V317.6M719.6 300.2V133.4M723.4 150.8V317.6M727.3 300.2V133.4M731.1 150.8V317.6M735 300.2V133.4M738.7 150.8V317.6M742.7 300.2V133.4M746.4 150.8V317.6M750.3 300.2V133.4M754.1 150.8V317.6M758 300.2V133.4M761.8 150.8V317.6M765.7 300.2V133.4M769.4 150.8V317.6M773.3 300.2V133.4M777.1 150.8V317.6M781 300.2V133.4M784.8 150.8V317.6M788.7 300.2V133.4M792.4 150.8V317.6M796.4 300.2V133.4M800.1 150.8V317.6M804 300.2V133.4M807.8 150.8V317.6M811.7 300.2V133.4M815.4 150.8V317.6M819.4 300.2V133.4M823.1 150.8V317.6M827 300.2V133.4M830.8 150.8V317.6M834.7 300.2V133.4M838.4 150.8V317.6M842.4 300.2V133.4M846.1 150.8V317.6M850 300.2V133.4M853.8 150.8V317.6M857.7 300.2V133.4M861.5 150.8V317.6M865.4 300.2V133.4M869.1 150.8V317.6M873 300.2V133.4M876.8 150.8V317.6M880.7 300.2V133.4M884.5 150.8V317.6M888.4 300.2V133.4M892.1 150.8V317.6M896.1 300.2V133.4M899.8 150.8V317.6M903.7 300.2V133.4" stroke="#E24A33" stroke-width="1.39"/>
<path d="M139 167.9L139 135.3L139.2 128.1L139.7 128.1L140 142.1L140.2 150.8L140.2 169.1L139.2 161.7zM139.7 283.4L139.7 315.7L140.5 322.5L144.3 322.5L145.5 308.9L146.2 300.2L146.2 281.7L142.9 290.1zM145.7 168.6L145.7 135.3L146.3 128.1L147.3 128.1L148 142.1L148.4 150.8L148.4 167L146.7 159.6zM148 278.6L148 315.7L148.8 322.5L152 322.5L153.3 308.9L153.9 300.2L153.9 280.5L151.4 290.5zM153.5 171L153.5 135.3L154 128.1L154.9 128.1L155.6 142.1L155.9 150.8L155.9 166.7L154.3 159.6zM155.5 283L155.5 315.7L156.3 322.5L159.8 322.5L161 308.9L161.7 300.2L161.7 282.8L158.8 296.6zM161.2 167.6L161.2 135.3L161.7 128.1L162.7 128.1L163.3 142.1L163.7 150.8L163.7 167.9L162.1 153.1zM163.2 281.9L163.2 315.7L164 322.5L167.5 322.5L168.8 308.9L169.4 300.2L169.4 278.3L166.8 291.3zM169 166.6L169 135.3L169.5 128.1L170.6 128.1L171.3 142.1L171.7 150.8L171.7 168.8L170.2 152.8zM171.2 305.1L171.6 300.2L171.9 295.2L172.3 290.2L172.6 293.8L173 298.8L173.3 303.8L173.7 308.8L174 313.8L174.4 318.7L174.7 322.5L175.1 322.5L175.4 322.5L175.7 322.5L176.1 322.5L176.4 322.5L176.8 322.5L177.1 322.5L177.5 322.5L177.8 320.4L178.2 315.4L178.5 310.5L178.9 305.5L179.2 300.5L179.6 295.5L179.9 290.5L180.3 293.5L180.6 298.5L181 303.4L181.3 308.4L181.7 313.4L182 318.4L182.4 322.5L182.7 322.5L183 322.5L183.4 322.5L183.7 322.5L184.1 322.5L184.4 322.5L184.8 322.5L185.1 322.5L185.5 320.8L185.8 315.8L186.2 310.8L186.5 305.8L186.9 300.8L187.2 295.9L187.6 290.9L187.9 293.1L188.3 298.1L188.6 303.1L189 308.1L189.3 313.1L189.6 318L190 322.5L190.3 322.5L190.7 322.5L191 322.5L191.4 322.5L191.7 322.5L192.1 322.5L192.4 322.5L192.8 322.5L193.1 321.1L193.5 316.1L193.8 311.2L194.2 306.2L194.5 301.2L194.9 296.2L195.2 291.2L195.6 292.8L195.9 297.8L196.3 302.8L196.6 307.7L196.9 312.7L197.3 317.7L197.6 322.5L198 322.5L198.3 322.5L198.7 322.5L199 322.5L199.4 322.5L199.7 322.5L200.1 322.5L200.4 322.5L200.8 321.5L201.1 316.5L201.5 311.5L201.8 306.5L202.2 301.5L202.5 296.6L202.9 291.6L203.2 292.5L203.6 297.4L203.9 302.4L204.2 307.4L204.6 312.4L204.9 317.4L205.3 322.3L205.6 322.5L206 322.5L206.3 322.5L206.7 322.5L207 322.5L207.4 322.5L207.7 322.5L208.1 322.5L208.4 321.8L208.8 316.8L209.1 311.8L209.5 306.9L209.8 301.9L210.2 296.9L210.5 291.9L210.8 292.1L211.2 297.1L211.5 302.1L211.9 307L212.2 312L212.6 317L212.9 322L213.3 322.5L213.6 322.5L213.6 286.6L213.3 286.6L212.9 286.6L212.6 286.6L212.2 286.6L211.9 287.6L211.5 292L211.2 296.4L210.8 300.8L210.5 301L210.2 296.6L209.8 292.2L209.5 287.8L209.1 286.6L208.8 286.6L208.4 286.6L208.1 286.6L207.7 286.6L207.4 286.6L207 286.6L206.7 286.6L206.3 286.6L206 286.6L205.6 286.6L205.3 286.6L204.9 286.6L204.6 286.6L204.2 287.3L203.9 291.7L203.6 296.1L203.2 300.5L202.9 301.3L202.5 296.9L202.2 292.5L201.8 288.1L201.5 286.6L201.1 286.6L200.8 286.6L200.4 286.6L200.1 286.6L199.7 286.6L199.4 286.6L199 286.6L198.7 286.6L198.3 286.6L198 286.6L197.6 286.6L197.3 286.6L196.9 286.6L196.6 287L196.3 291.4L195.9 295.8L195.6 300.2L195.2 301.6L194.9 297.2L194.5 292.8L194.2 288.4L193.8 286.6L193.5 286.6L193.1 286.6L192.8 286.6L192.4 286.6L192.1 286.6L191.7 286.6L191.4 286.6L191 286.6L190.7 286.6L190.3 286.6L190 286.6L189.6 286.6L189.3 286.6L189 286.7L188.6 291.1L188.3 295.5L187.9 299.9L187.6 301.9L187.2 297.5L186.9 293.1L186.5 288.7L186.2 286.6L185.8 286.6L185.5 286.6L185.1 286.6L184.8 286.6L184.4 286.6L184.1 286.6L183.7 286.6L183.4 286.6L183 286.6L182.7 286.6L182.4 286.6L182 286.6L181.7 286.6L181.3 286.6L181 290.8L180.6 295.2L180.3 299.6L179.9 302.2L179.6 297.8L179.2 293.4L178.9 289L178.5 286.6L178.2 286.6L177.8 286.6L177.5 286.6L177.1 286.6L176.8 286.6L176.4 286.6L176.1 286.6L175.7 286.6L175.4 286.6L175.1 286.6L174.7 286.6L174.4 286.6L174 286.6L173.7 286.6L173.3 290.5L173 294.9L172.6 299.3L172.3 302.5L171.9 298.1L171.6 293.7L171.2 289.3zM213.2 169.5L213.2 135.3L214 128.1L215.8 128.1L216.8 142.1L217.4 150.8L217.4 169.8L215.5 162.6zM216.9 287.5L216.9 315.7L217.7 322.5L219.5 322.5L220.6 308.9L221.3 300.2L221.3 284.3L218.8 297.5zM220.8 168L220.8 135.3L221.6 128.1L223.4 128.1L224.5 142.1L225 150.8L225 166.1L222.9 160.2zM224.6 282.7L224.6 315.7L225.4 322.5L227.1 322.5L228.3 308.9L229 300.2L229 281.7L226.6 293.5zM228.5 170.2L228.5 135.3L229.3 128.1L231.1 128.1L232.2 142.1L232.7 150.8L232.7 168.2L231 159.3zM232.3 280L232.3 315.7L233.1 322.5L234.8 322.5L236 308.9L236.6 300.2L236.6 281.3L234.9 289.3zM236.2 169L236.2 135.3L237 128.1L238.8 128.1L239.8 142.1L240.4 150.8L240.4 172.7L238.5 160.4zM239.9 280.1L239.9 315.7L240.7 322.5L242.5 322.5L243.7 308.9L244.3 300.2L244.3 280.4L242 292.7zM243.8 169L243.8 135.3L244.6 128.1L246.5 128.1L247.5 142.1L248.1 150.8L248.1 169.7L245.5 156.2zM247.6 278L247.6 315.7L248.4 322.5L250.1 322.5L251.3 308.9L252 300.2L252 279.2L250.1 291.7zM251.5 167.2L251.5 135.3L252.3 128.1L254.1 128.1L255.2 142.1L255.7 150.8L255.7 170.4L253.1 152.4zM255.3 279.7L255.3 315.7L256.1 322.5L257.8 322.5L259 308.9L259.7 300.2L259.7 281.5L257.3 292.6zM259.2 167.5L259.2 135.3L260 128.1L261.8 128.1L262.9 142.1L263.4 150.8L263.4 166.5L261.7 150.5zM262.9 281.8L262.9 315.7L263.7 322.5L265.5 322.5L266.7 308.9L267.3 300.2L267.3 281.9L265.2 293.5zM266.9 168.2L266.9 135.3L267.7 128.1L269.5 128.1L270.5 142.1L271.1 150.8L271.1 172.5L269.1 159.3zM270.6 282.6L270.6 315.7L271.4 322.5L273.1 322.5L274.3 308.9L275 300.2L275 280.9L272.9 291.3zM274.5 170.4L274.5 135.3L275.3 128.1L277.1 128.1L278.2 142.1L278.7 150.8L278.7 167.5L276.8 157.5zM278.3 282L278.3 315.7L279.1 322.5L280.8 322.5L282 308.9L282.7 300.2L282.7 281.2L280.2 293zM282.2 170.5L282.2 135.3L283 128.1L284.8 128.1L285.9 142.1L286.4 150.8L286.4 167.6L284.4 155zM285.9 278.8L285.9 315.7L286.7 322.5L288.5 322.5L289.7 308.9L290.3 300.2L290.3 277.5L288.6 290.5zM289.9 166.5L289.9 135.3L290.7 128.1L292.5 128.1L293.5 142.1L294.1 150.8L294.1 168L291.7 153.1zM293.6 284.1L293.6 315.7L294.4 322.5L296.2 322.5L297.4 308.9L298 300.2L298 280.5L295.9 295.8zM297.5 164.3L297.5 135.3L298.3 128.1L300.1 128.1L301.2 142.1L301.8 150.8L301.8 163.2L299.4 150.1zM301.3 281.6L301.3 315.7L302.1 322.5L303.8 322.5L305 308.9L305.7 300.2L305.7 280.7L303.9 297.2zM305.2 165.8L305.2 135.3L306 128.1L307.8 128.1L308.9 142.1L309.4 150.8L309.4 163.7L307.6 153.2zM308.9 283L308.9 315.7L309.8 322.5L311.5 322.5L312.7 308.9L313.3 300.2L313.3 280.7L311.6 290.3zM312.9 166.8L312.9 135.3L313.7 128.1L315.5 128.1L316.5 142.1L317.1 150.8L317.1 165.4L315.3 156.1zM316.6 286.1L316.6 315.7L317.4 322.5L319.2 322.5L320.4 308.9L321 300.2L321 285.5L318.9 297.6zM320.5 169.6L320.5 135.3L321.3 128.1L323.2 128.1L324.2 142.1L324.8 150.8L324.8 169.1L323 157.7zM324.3 279.1L324.3 315.7L325.1 322.5L326.8 322.5L328 308.9L328.7 300.2L328.7 280L326.4 294.8zM328.2 169.3L328.2 135.3L329 128.1L330.8 128.1L331.9 142.1L332.4 150.8L332.4 171.9L330.6 161.2zM332 281.7L332 315.7L332.8 322.5L334.5 322.5L335.7 308.9L336.4 300.2L336.4 282.3L334 297.8zM335.9 163.7L335.9 135.3L336.7 128.1L338.5 128.1L339.6 142.1L340.1 150.8L340.1 166.3L338.3 151.3zM339.6 285L339.6 315.7L340.4 322.5L342.2 322.5L343.4 308.9L344 300.2L344 284.7L342.1 293.9zM343.5 168.3L343.5 135.3L344.3 128.1L346.2 128.1L347.2 142.1L347.8 150.8L347.8 166.6L346.1 154.9zM347.3 282.9L347.3 315.7L348.1 322.5L349.8 322.5L351 308.9L351.7 300.2L351.7 285.6L349.1 297.3zM351.2 166.7L351.2 135.3L352 128.1L353.8 128.1L354.9 142.1L355.4 150.8L355.4 166.5L352.9 153.3zM355 285.2L355 315.7L355.8 322.5L357.5 322.5L358.7 308.9L359.4 300.2L359.4 282.6L356.7 296.4zM358.9 163.7L358.9 135.3L359.7 128.1L361.5 128.1L362.6 142.1L363.1 150.8L363.1 166.1L361.3 152.4zM362.6 286L362.6 315.7L363.4 322.5L365.2 322.5L366.4 308.9L367 300.2L367 284L364.6 297.4zM366.6 170.1L366.6 135.3L367.4 128.1L369.2 128.1L370.2 142.1L370.8 150.8L370.8 171.1L368.9 157.4zM370.3 280L370.3 315.7L371.1 322.5L372.9 322.5L374.1 308.9L374.7 300.2L374.7 281.2L372.4 291.2zM374.2 168.3L374.2 135.3L375 128.1L376.9 128.1L377.9 142.1L378.5 150.8L378.5 167.4L376 157.1zM378 282.5L378 315.7L378.8 322.5L380.5 322.5L381.7 308.9L382.4 300.2L382.4 284.7L380.4 292.1zM381.9 165.8L381.9 135.3L382.7 128.1L384.5 128.1L385.6 142.1L386.1 150.8L386.1 164.2L384.2 155.9zM385.6 282.9L385.6 315.7L386.4 322.5L388.2 322.5L389.4 308.9L390 300.2L390 285L388.3 298zM389.6 171.6L389.6 135.3L390.4 128.1L392.2 128.1L393.2 142.1L393.8 150.8L393.8 172.4L391.9 159.9zM393.3 281.6L393.3 315.7L394.1 322.5L395.9 322.5L397.1 308.9L397.7 300.2L397.7 280.3L395.4 292.1zM397.2 164.9L397.2 135.3L398 128.1L399.9 128.1L400.9 142.1L401.5 150.8L401.5 163.3L399.5 150.2zM401 286L401 315.7L401.8 322.5L403.5 322.5L404.7 308.9L405.4 300.2L405.4 287.7L403.2 296.5zM404.9 168.7L404.9 135.3L405.7 128.1L407.5 128.1L408.6 142.1L409.1 150.8L409.1 171.4L407.4 158.1zM408.7 285L408.7 315.7L409.5 322.5L411.2 322.5L412.4 308.9L413.1 300.2L413.1 284.8L410.6 294.7zM412.6 170.1L412.6 135.3L413.4 128.1L415.2 128.1L416.2 142.1L416.8 150.8L416.8 168.6L414.8 156.2zM416.3 279.7L416.3 315.7L417.1 322.5L418.9 322.5L420.1 308.9L420.7 300.2L420.7 279.6L419 287.8zM420.2 168.3L420.2 135.3L421.1 128.1L422.9 128.1L423.9 142.1L424.5 150.8L424.5 171L422.5 156.6zM424 278.3L424 315.7L424.8 322.5L426.5 322.5L427.7 308.9L428.4 300.2L428.4 278.1L426.7 292.2zM427.9 168.1L427.9 135.3L428.7 128.1L430.5 128.1L431.6 142.1L432.1 150.8L432.1 170.7L430.5 153.1zM431.7 280.1L431.7 315.7L432.5 322.5L434.2 322.5L435.4 308.9L436.1 300.2L436.1 282L433.7 292.6zM435.6 164.5L435.6 135.3L436.4 128.1L438.2 128.1L439.3 142.1L439.8 150.8L439.8 166.8L437.4 153.8zM439.3 281.1L439.3 315.7L440.1 322.5L441.9 322.5L443.1 308.9L443.7 300.2L443.7 283.3L441.4 292.3zM443.3 169.6L443.3 135.3L444.1 128.1L445.9 128.1L446.9 142.1L447.5 150.8L447.5 166.4L445.8 158.9zM447 279.2L447 315.7L447.8 322.5L449.6 322.5L450.8 308.9L451.4 300.2L451.4 280.8L449.1 290.8zM450.9 168.8L450.9 135.3L451.7 128.1L453.6 128.1L454.6 142.1L455.2 150.8L455.2 166.5L453.3 154.9zM454.7 284.8L454.7 315.7L455.5 322.5L457.2 322.5L458.4 308.9L459.1 300.2L459.1 286L456.7 293.9zM458.6 166.1L458.6 135.3L459.4 128.1L461.2 128.1L462.3 142.1L462.8 150.8L462.8 165.8L460.9 153.1zM462.3 282L462.3 315.7L463.1 322.5L464.9 322.5L466.1 308.9L466.7 300.2L466.7 281L464.6 295.4zM466.3 168.7L466.3 135.3L467.1 128.1L468.9 128.1L469.9 142.1L470.5 150.8L470.5 168.3L468.6 157.9zM470 278.8L470 315.7L470.8 322.5L472.6 322.5L473.8 308.9L474.4 300.2L474.4 278.5L472.5 295zM473.9 167.9L473.9 135.3L474.7 128.1L476.6 128.1L477.6 142.1L478.2 150.8L478.2 167.7L476.4 153.7zM477.7 278.8L477.7 315.7L478.5 322.5L480.2 322.5L481.4 308.9L482.1 300.2L482.1 281.7L479.6 288.3zM481.6 167.2L481.6 135.3L482.4 128.1L484.2 128.1L485.3 142.1L485.8 150.8L485.8 168.4L483.8 155.8zM485.4 281.3L485.4 315.7L486.2 322.5L487.9 322.5L489.1 308.9L489.8 300.2L489.8 282.9L487.9 298.1zM489.3 166.9L489.3 135.3L490.1 128.1L491.9 128.1L492.9 142.1L493.5 150.8L493.5 166.5L491 161.6zM493 282.7L493 315.7L493.8 322.5L495.6 322.5L496.8 308.9L497.4 300.2L497.4 283.9L495.7 298.7zM496.9 165.9L496.9 135.3L497.8 128.1L499.6 128.1L500.6 142.1L501.2 150.8L501.2 167.2L499.3 156.9zM500.7 286.6L500.7 315.7L501.5 322.5L503.2 322.5L504.4 308.9L505.1 300.2L505.1 286.3L503.1 296.1zM504.6 169L504.6 135.3L505.4 128.1L507.2 128.1L508.3 142.1L508.8 150.8L508.8 172.2L506.3 160.9zM508.4 283.6L508.4 315.7L509.2 322.5L510.9 322.5L512.1 308.9L512.8 300.2L512.8 282.2L510.8 291.9zM512.3 169.8L512.3 135.3L513.1 128.1L514.9 128.1L516 142.1L516.5 150.8L516.5 170.3L514.1 157.3zM516 285L516 315.7L516.8 322.5L518.6 322.5L519.8 308.9L520.4 300.2L520.4 285.5L518.4 293zM520 164.4L520 135.3L520.8 128.1L522.6 128.1L523.6 142.1L524.2 150.8L524.2 164.7L521.9 154.2zM523.7 281.7L523.7 315.7L524.5 322.5L526.3 322.5L527.5 308.9L528.1 300.2L528.1 283.8L526.3 294.1zM527.6 165L527.6 135.3L528.4 128.1L530.2 128.1L531.3 142.1L531.9 150.8L531.9 164.7L529.9 152.2zM531.4 283.4L531.4 315.7L532.2 322.5L533.9 322.5L535.1 308.9L535.8 300.2L535.8 285L533.7 292.7zM535.3 171.8L535.3 135.3L536.1 128.1L537.9 128.1L539 142.1L539.5 150.8L539.5 169.5L537.5 161.4zM539.1 281.6L539.1 315.7L539.9 322.5L541.6 322.5L542.8 308.9L543.4 300.2L543.4 279.6L541.2 292.9zM543 166.7L543 135.3L543.8 128.1L545.6 128.1L546.6 142.1L547.2 150.8L547.2 164.5L545.4 155.6zM546.7 285.1L546.7 315.7L547.5 322.5L549.3 322.5L550.5 308.9L551.1 300.2L551.1 283.7L548.8 299.6zM550.6 165L550.6 135.3L551.4 128.1L553.3 128.1L554.3 142.1L554.9 150.8L554.9 165.4L552.7 154.7zM554.4 284.9L554.4 315.7L555.2 322.5L556.9 322.5L558.1 308.9L558.8 300.2L558.8 281.6L556.8 298.8zM558.3 164.7L558.3 135.3L559.1 128.1L560.9 128.1L562 142.1L562.5 150.8L562.5 165.9L560.4 153.6zM562.1 283.8L562.1 315.7L562.9 322.5L564.6 322.5L565.8 308.9L566.5 300.2L566.5 285.7L564 291.5zM566 169.4L566 135.3L566.8 128.1L568.6 128.1L569.7 142.1L570.2 150.8L570.2 170L567.9 155.2zM569.7 281L569.7 315.7L570.5 322.5L572.3 322.5L573.5 308.9L574.1 300.2L574.1 280.3L571.9 293.5zM573.6 165.6L573.6 135.3L574.4 128.1L576.3 128.1L577.3 142.1L577.9 150.8L577.9 164.1L575.7 150.5zM577.4 283.8L577.4 315.7L578.2 322.5L579.9 322.5L581.1 308.9L581.8 300.2L581.8 282.7L579.8 297.5zM581.3 166.9L581.3 135.3L582.1 128.1L583.9 128.1L585 142.1L585.5 150.8L585.5 167.5L583.4 155.3zM585.1 284L585.1 315.7L585.9 322.5L587.6 322.5L588.8 308.9L589.5 300.2L589.5 280.7L587.7 291.2zM589 167.2L589 135.3L589.8 128.1L591.6 128.1L592.7 142.1L593.2 150.8L593.2 167.1L591.2 152.9zM592.7 286.4L592.7 315.7L593.5 322.5L595.3 322.5L596.5 308.9L597.1 300.2L597.1 284.3L594.6 297zM596.7 164.4L596.7 135.3L597.5 128.1L599.3 128.1L600.3 142.1L600.9 150.8L600.9 166.1L598.9 155.9zM600.4 282.4L600.4 315.7L601.2 322.5L603 322.5L604.2 308.9L604.8 300.2L604.8 283.7L602.8 298.7zM604.3 167.3L604.3 135.3L605.1 128.1L607 128.1L608 142.1L608.6 150.8L608.6 168.5L606.5 153.6zM608.1 284.4L608.1 315.7L608.9 322.5L610.6 322.5L611.8 308.9L612.5 300.2L612.5 282.2L609.9 293.6zM612 172.4L612 135.3L612.8 128.1L614.6 128.1L615.7 142.1L616.2 150.8L616.2 170.5L614.3 159.3zM615.8 283.6L615.8 315.7L616.5 322.5L618.3 322.5L619.5 308.9L620.1 300.2L620.1 281.6L617.6 289.8zM619.7 167.8L619.7 135.3L620.5 128.1L622.3 128.1L623.3 142.1L623.9 150.8L623.9 168.4L621.6 155.8zM623.4 279.7L623.4 315.7L624.2 322.5L626 322.5L627.2 308.9L627.8 300.2L627.8 281.5L625.7 290.5zM627.3 169.3L627.3 135.3L628.1 128.1L630 128.1L631 142.1L631.6 150.8L631.6 172.8L629.4 163.5zM631.1 281.7L631.1 315.7L631.9 322.5L633.6 322.5L634.8 308.9L635.5 300.2L635.5 282.1L633.6 294.9zM635 167.6L635 135.3L635.8 128.1L637.6 128.1L638.7 142.1L639.2 150.8L639.2 170.3L636.7 157.5zM638.8 280.3L638.8 315.7L639.6 322.5L641.3 322.5L642.5 308.9L643.1 300.2L643.1 280.9L641.1 290.3zM642.7 167.1L642.7 135.3L643.5 128.1L645.3 128.1L646.4 142.1L646.9 150.8L646.9 167.8L645.2 149.8zM646.4 285.4L646.4 315.7L647.2 322.5L649 322.5L650.2 308.9L650.8 300.2L650.8 286L648.7 300.3zM650.4 163.7L650.4 135.3L651.1 128.1L653 128.1L654 142.1L654.6 150.8L654.6 167.2L652.9 155.9zM654.1 285.3L654.1 315.7L654.9 322.5L656.6 322.5L657.8 308.9L658.5 300.2L658.5 285L656 292.6zM658 171.7L658 135.3L658.8 128.1L660.6 128.1L661.7 142.1L662.2 150.8L662.2 171.2L660.1 155.3zM661.8 279.2L661.8 315.7L662.6 322.5L664.3 322.5L665.5 308.9L666.2 300.2L666.2 281.3L663.8 292.4zM665.7 167.6L665.7 135.3L666.5 128.1L668.3 128.1L669.4 142.1L669.9 150.8L669.9 164.7L667.9 150.9zM669.4 280.3L669.4 315.7L670.2 322.5L672 322.5L673.2 308.9L673.8 300.2L673.8 280.8L671.6 292.7zM673.4 164.3L673.4 135.3L674.2 128.1L676 128.1L677 142.1L677.6 150.8L677.6 169L675.6 153.3zM677.1 283.8L677.1 315.7L677.9 322.5L679.7 322.5L680.9 308.9L681.5 300.2L681.5 281.4L678.8 299zM681 168.7L681 135.3L681.8 128.1L683.6 128.1L684.7 142.1L685.2 150.8L685.2 165.2L683 158.3zM684.8 286.8L684.8 315.7L685.6 322.5L687.3 322.5L688.5 308.9L689.2 300.2L689.2 284.6L686.6 298.4zM688.7 163.2L688.7 135.3L689.5 128.1L691.3 128.1L692.4 142.1L692.9 150.8L692.9 165L690.6 149.8zM692.5 283.2L692.5 315.7L693.2 322.5L695 322.5L696.2 308.9L696.8 300.2L696.8 281.7L694.6 292.5zM696.4 171.8L696.4 135.3L697.2 128.1L699 128.1L700 142.1L700.6 150.8L700.6 168.6L698.9 154.9zM700.1 284.1L700.1 315.7L700.9 322.5L702.7 322.5L703.9 308.9L704.5 300.2L704.5 283.4L702.8 291.5zM704 163.9L704 135.3L704.8 128.1L706.7 128.1L707.7 142.1L708.3 150.8L708.3 167.2L705.7 153.5zM707.8 282.8L707.8 315.7L708.6 322.5L710.3 322.5L711.5 308.9L712.2 300.2L712.2 281.8L710.3 293.1zM711.7 171.4L711.7 135.3L712.5 128.1L714.3 128.1L715.4 142.1L715.9 150.8L715.9 169.2L713.3 154.6zM715.5 285.1L715.5 315.7L716.3 322.5L718 322.5L719.2 308.9L719.9 300.2L719.9 282.3L717.4 298zM719.4 165.9L719.4 135.3L720.2 128.1L722 128.1L723.1 142.1L723.6 150.8L723.6 164.5L721.3 156.5zM723.1 283.6L723.1 315.7L723.9 322.5L725.7 322.5L726.9 308.9L727.5 300.2L727.5 287.8L725.5 296.7zM727 164.7L727 135.3L727.8 128.1L729.7 128.1L730.7 142.1L731.3 150.8L731.3 166.3L729.5 153.8zM730.8 285.2L730.8 315.7L731.6 322.5L733.3 322.5L734.5 308.9L735.2 300.2L735.2 280.5L732.8 296.9zM734.7 167.5L734.7 135.3L735.5 128.1L737.3 128.1L738.4 142.1L738.9 150.8L738.9 165.3L737 158.2zM738.5 288.2L738.5 315.7L739.3 322.5L741 322.5L742.2 308.9L742.9 300.2L742.9 287L740.7 298.7zM742.4 165L742.4 135.3L743.2 128.1L745 128.1L746.1 142.1L746.6 150.8L746.6 165.3L744.1 157.5zM746.1 280.8L746.1 315.7L746.9 322.5L748.7 322.5L749.9 308.9L750.5 300.2L750.5 280.3L748.2 296.9zM750.1 169.3L750.1 135.3L750.9 128.1L752.7 128.1L753.7 142.1L754.3 150.8L754.3 168.8L752.4 156.6zM753.8 285.1L753.8 315.7L754.6 322.5L756.4 322.5L757.6 308.9L758.2 300.2L758.2 284.7L756.3 299.6zM757.7 171.6L757.7 135.3L758.5 128.1L760.4 128.1L761.4 142.1L762 150.8L762 169.1L759.8 160.9zM761.5 282.7L761.5 315.7L762.3 322.5L764 322.5L765.2 308.9L765.9 300.2L765.9 283.5L764 297.5zM765.4 165.7L765.4 135.3L766.2 128.1L768 128.1L769.1 142.1L769.6 150.8L769.6 167.7L767.3 155zM769.1 280.3L769.1 315.7L769.9 322.5L771.7 322.5L772.9 308.9L773.5 300.2L773.5 282.9L771.1 292.8zM773.1 170.2L773.1 135.3L773.9 128.1L775.7 128.1L776.7 142.1L777.3 150.8L777.3 171.1L775.3 157.5zM776.8 287.2L776.8 315.7L777.6 322.5L779.4 322.5L780.6 308.9L781.2 300.2L781.2 283.6L779.2 295.6zM780.7 168L780.7 135.3L781.5 128.1L783.4 128.1L784.4 142.1L785 150.8L785 165.7L782.7 158.7zM784.5 283.2L784.5 315.7L785.3 322.5L787 322.5L788.2 308.9L788.9 300.2L788.9 281.1L786.4 297.9zM788.4 170.5L788.4 135.3L789.2 128.1L791 128.1L792.1 142.1L792.6 150.8L792.6 169.7L790.6 163.5zM792.2 281.7L792.2 315.7L793 322.5L794.7 322.5L795.9 308.9L796.6 300.2L796.6 280.9L794.4 297.7zM796.1 165.3L796.1 135.3L796.9 128.1L798.7 128.1L799.8 142.1L800.3 150.8L800.3 167.9L798 158.3zM799.8 282.5L799.8 315.7L800.6 322.5L802.4 322.5L803.6 308.9L804.2 300.2L804.2 286.2L802.1 299.9zM803.8 165.1L803.8 135.3L804.5 128.1L806.4 128.1L807.4 142.1L808 150.8L808 166.2L805.4 157zM807.5 284.7L807.5 315.7L808.3 322.5L810 322.5L811.2 308.9L811.9 300.2L811.9 283.1L809.6 293.1zM811.4 167.9L811.4 135.3L812.2 128.1L814 128.1L815.1 142.1L815.6 150.8L815.6 167.5L813.3 151.8zM815.2 280.2L815.2 315.7L816 322.5L817.7 322.5L818.9 308.9L819.6 300.2L819.6 283.4L817.3 292.4zM819.1 169.9L819.1 135.3L819.9 128.1L821.7 128.1L822.8 142.1L823.3 150.8L823.3 166.8L821.1 154.2zM822.8 279L822.8 315.7L823.6 322.5L825.4 322.5L826.6 308.9L827.2 300.2L827.2 280.1L824.8 294.3zM826.8 169.1L826.8 135.3L827.6 128.1L829.4 128.1L830.4 142.1L831 150.8L831 170.4L829 163zM830.5 280.3L830.5 315.7L831.3 322.5L833.1 322.5L834.2 308.9L834.9 300.2L834.9 283L832.3 295.4zM834.4 172.6L834.4 135.3L835.2 128.1L837 128.1L838.1 142.1L838.6 150.8L838.6 169.4L836.1 163.7zM838.2 283.6L838.2 315.7L839 322.5L840.7 322.5L841.9 308.9L842.6 300.2L842.6 280.5L839.9 293.2zM842.1 171L842.1 135.3L842.9 128.1L844.7 128.1L845.8 142.1L846.3 150.8L846.3 170.4L844.3 155.5zM845.9 280.7L845.9 315.7L846.6 322.5L848.4 322.5L849.6 308.9L850.2 300.2L850.2 279.2L848.2 296.5zM849.8 169.9L849.8 135.3L850.6 128.1L852.4 128.1L853.4 142.1L854 150.8L854 170.3L851.9 156zM853.5 282.6L853.5 315.7L854.3 322.5L856.1 322.5L857.3 308.9L857.9 300.2L857.9 282.1L855.6 290.6zM857.4 169.8L857.4 135.3L858.2 128.1L860.1 128.1L861.1 142.1L861.7 150.8L861.7 167.6L859.1 157.6zM861.2 280L861.2 315.7L862 322.5L863.7 322.5L864.9 308.9L865.6 300.2L865.6 281.3L862.9 292.2zM865.1 171.1L865.1 135.3L865.9 128.1L867.7 128.1L868.8 142.1L869.3 150.8L869.3 171.6L867 162.4zM868.9 280.2L868.9 315.7L869.7 322.5L871.4 322.5L872.6 308.9L873.2 300.2L873.2 279.9L871.4 290zM872.8 166.9L872.8 135.3L873.6 128.1L875.4 128.1L876.5 142.1L877 150.8L877 170.2L874.8 158.8zM876.5 282.5L876.5 315.7L877.3 322.5L879.1 322.5L880.3 308.9L880.9 300.2L880.9 282.4L878.4 289.7zM880.4 170.3L880.4 135.3L881.2 128.1L883.1 128.1L884.1 142.1L884.7 150.8L884.7 170.6L883 160.4zM884.2 282.1L884.2 315.7L885 322.5L886.7 322.5L887.9 308.9L888.6 300.2L888.6 281.9L886.1 291.3zM888.1 166.8L888.1 135.3L888.9 128.1L890.7 128.1L891.8 142.1L892.3 150.8L892.3 167.1L890.6 157.8zM891.9 279.9L891.9 315.7L892.7 322.5L894.4 322.5L895.6 308.9L896.3 300.2L896.3 283.5L894 294.8zM895.8 166.7L895.8 135.3L896.6 128.1L898.4 128.1L899.5 142.1L900 150.8L900 166.3L897.5 154.7zM899.5 280.5L899.5 315.7L900.3 322.5L902.1 322.5L903.3 308.9L903.9 300.2L903.9 278.3L902.1 294.9zM903.5 169.8L903.5 135.3L903.8 128.1L904.4 128.1L904.8 142.1L905 150.8L905 171.8L904.3 161.8z" fill="#348ABD" stroke="#348ABD" stroke-width="0.5"/>
<path d="M140.1 150.8V317.6M146.1 300.2V133.4M148.3 150.8V317.6M153.8 300.2V133.4M155.8 150.8V317.6M161.6 300.2V133.4M163.6 150.8V317.6M169.3 300.2V133.4M171.6 150.8V317.6M213.5 300.2V133.4M217.3 150.8V317.6M221.2 300.2V133.4M224.9 150.8V317.6M228.9 300.2V133.4M232.6 150.8V317.6M236.5 300.2V133.4M240.3 150.8V317.6M244.2 300.2V133.4M248 150.8V317.6M251.9 300.2V133.4M255.6 150.8V317.6M259.6 300.2V133.4M263.3 150.8V317.6M267.2 300.2V133.4M271 150.8V317.6M274.9 300.2V133.4M278.6 150.8V317.6M282.6 300.2V133.4M286.3 150.8V317.6M290.2 300.2V133.4M294 150.8V317.6M297.9 300.2V133.4M301.6 150.8V317.6M305.6 300.2V133.4M309.3 150.8V317.6M313.2 300.2V133.4M317 150.8V317.6M320.9 300.2V133.4M324.7 150.8V317.6M328.6 300.2V133.4M332.3 150.8V317.6M336.2 300.2V133.4M340 150.8V317.6M343.9 300.2V133.4M347.7 150.8V317.6M351.6 300.2V133.4M355.3 150.8V317.6M359.3 300.2V133.4M363 150.8V317.6M366.9 300.2V133.4M370.7 150.8V317.6M374.6 300.2V133.4M378.4 150.8V317.6M382.3 300.2V133.4M386 150.8V317.6M389.9 300.2V133.4M393.7 150.8V317.6M397.6 300.2V133.4M401.4 150.8V317.6M405.3 300.2V133.4M409 150.8V317.6M412.9 300.2V133.4M416.7 150.8V317.6M420.6 300.2V133.4M424.4 150.8V317.6M428.3 300.2V133.4M432 150.8V317.6M436 300.2V133.4M439.7 150.8V317.6M443.6 300.2V133.4M447.4 150.8V317.6M451.3 300.2V133.4M455.1 150.8V317.6M459 300.2V133.4M462.7 150.8V317.6M466.6 300.2V133.4M470.4 150.8V317.6M474.3 300.2V133.4M478.1 150.8V317.6M482 300.2V133.4M485.7 150.8V317.6M489.6 300.2V133.4M493.4 150.8V317.6M497.3 300.2V133.4M501.1 150.8V317.6M505 300.2V133.4M508.7 150.8V317.6M512.7 300.2V133.4M516.4 150.8V317.6M520.3 300.2V133.4M524.1 150.8V317.6M528 300.2V133.4M531.8 150.8V317.6M535.7 300.2V133.4M539.4 150.8V317.6M543.3 300.2V133.4M547.1 150.8V317.6M551 300.2V133.4M554.8 150.8V317.6M558.7 300.2V133.4M562.4 150.8V317.6M566.4 300.2V133.4M570.1 150.8V317.6M574 300.2V133.4M577.8 150.8V317.6M581.7 300.2V133.4M585.4 150.8V317.6M589.4 300.2V133.4M593.1 150.8V317.6M597 300.2V133.4M600.8 150.8V317.6M604.7 300.2V133.4M608.5 150.8V317.6M612.4 300.2V133.4M616.1 150.8V317.6M620 300.2V133.4M623.8 150.8V317.6M627.7 300.2V133.4M631.5 150.8V317.6M635.4 300.2V133.4M639.1 150.8V317.6M643 300.2V133.4M646.8 150.8V317.6M650.7 300.2V133.4M654.5 150.8V317.6M658.4 300.2V133.4M662.1 150.8V317.6M666.1 300.2V133.4M669.8 150.8V317.6M673.7 300.2V133.4M677.5 150.8V317.6M681.4 300.2V133.4M685.1 150.8V317.6M689.1 300.2V133.4M692.8 150.8V317.6M696.7 300.2V133.4M700.5 150.8V317.6M704.4 300.2V133.4M708.2 150.8V317.6M712.1 300.2V133.4M715.8 150.8V317.6M719.8 300.2V133.4M723.5 150.8V317.6M727.4 300.2V133.4M731.2 150.8V317.6M735.1 300.2V133.4M738.8 150.8V317.6M742.8 300.2V133.4M746.5 150.8V317.6M750.4 300.2V133.4M754.2 150.8V317.6M758.1 300.2V133.4M761.9 150.8V317.6M765.8 300.2V133.4M769.5 150.8V317.6M773.4 300.2V133.4M777.2 150.8V317.6M781.1 300.2V133.4M784.9 150.8V317.6M788.8 300.2V133.4M792.5 150.8V317.6M796.5 300.2V133.4M800.2 150.8V317.6M804.1 300.2V133.4M807.9 150.8V317.6M811.8 300.2V133.4M815.5 150.8V317.6M819.5 300.2V133.4M823.2 150.8V317.6M827.1 300.2V133.4M830.9 150.8V317.6M834.8 300.2V133.4M838.5 150.8V317.6M842.5 300.2V133.4M846.2 150.8V317.6M850.1 300.2V133.4M853.9 150.8V317.6M857.8 300.2V133.4M861.6 150.8V317.6M865.5 300.2V133.4M869.2 150.8V317.6M873.1 300.2V133.4M876.9 150.8V317.6M880.8 300.2V133.4M884.6 150.8V317.6M888.5 300.2V133.4M892.2 150.8V317.6M896.2 300.2V133.4M899.9 150.8V317.6M903.8 300.2V133.4" stroke="#348ABD" stroke-width="1.75" stroke-opacity=".8"/>
<path d="M139 133.4L139.3 133.4L139.7 133.4L140 133.4L140.4 133.4L140.7 133.4L141.1 133.4L141.4 133.4L141.8 133.4L142.1 133.4L142.5 133.4L142.8 133.4L143.2 133.4L143.5 133.4L143.9 137.7L144.2 142.4L144.6 144.7L144.9 139.9L145.3 135.2L145.6 133.4L146 133.4L146.3 133.4L146.7 133.4L147 133.4L147.4 133.4L147.7 133.4L148 133.4L148.4 133.4L148.7 133.4L149.1 133.4L149.4 133.4L149.8 133.4L150.1 133.4L150.5 133.4L150.8 133.4L151.2 133.4L151.5 137.5L151.9 142.3L152.2 144.9L152.6 140.1L152.9 135.3L153.3 133.4L153.6 133.4L154 133.4L154.3 133.4L154.7 133.4L155 133.4L155.4 133.4L155.7 133.4L156.1 133.4L156.4 133.4L156.8 133.4L157.1 133.4L157.4 133.4L157.8 133.4L158.1 133.4L158.5 133.4L158.8 133.4L159.2 137.3L159.5 142.1L159.9 145.1L160.2 140.3L160.6 135.5L160.9 133.4L161.3 133.4L161.6 133.4L162 133.4L162.3 133.4L162.7 133.4L163 133.4L163.4 133.4L163.7 133.4L164.1 133.4L164.4 133.4L164.8 133.4L165.1 133.4L165.5 133.4L165.8 133.4L166.1 133.4L166.5 133.4L166.8 137.2L167.2 141.9L167.5 145.2L167.9 140.5L168.2 135.7L168.6 133.4L168.9 133.4L169.3 133.4L169.6 133.4L170 133.4L170.3 133.4L170.7 133.4L171 133.4L171.4 133.4L171.7 133.4L172.1 133.4L172.4 133.4L172.8 133.4L173.1 133.4L173.5 133.4L173.8 133.4L174.2 133.4L174.5 137L174.8 141.8L174.8 164.4L174.5 164.4L174.2 164.4L173.8 164.4L173.5 164.4L173.1 164.4L172.8 164.4L172.4 164.4L172.1 160.5L171.7 156.4L171.4 152.3L171 148.2L170.7 144.1L170.3 139.9L170 138.6L169.6 142.7L169.3 146.8L168.9 150.9L168.6 155.1L168.2 159.2L167.9 163.3L167.5 164.4L167.2 164.4L166.8 164.4L166.5 164.4L166.1 164.4L165.8 164.4L165.5 164.4L165.1 164.4L164.8 164.4L164.4 160.6L164.1 156.5L163.7 152.4L163.4 148.3L163 144.2L162.7 140.1L162.3 138.5L162 142.6L161.6 146.7L161.3 150.8L160.9 154.9L160.6 159L160.2 163.1L159.9 164.4L159.5 164.4L159.2 164.4L158.8 164.4L158.5 164.4L158.1 164.4L157.8 164.4L157.4 164.4L157.1 164.4L156.8 160.8L156.4 156.7L156.1 152.6L155.7 148.5L155.4 144.4L155 140.2L154.7 138.3L154.3 142.4L154 146.5L153.6 150.6L153.3 154.8L152.9 158.9L152.6 163L152.2 164.4L151.9 164.4L151.5 164.4L151.2 164.4L150.8 164.4L150.5 164.4L150.1 164.4L149.8 164.4L149.4 164.4L149.1 160.9L148.7 156.8L148.4 152.7L148 148.6L147.7 144.5L147.4 140.4L147 138.2L146.7 142.3L146.3 146.4L146 150.5L145.6 154.6L145.3 158.7L144.9 162.8L144.6 164.4L144.2 164.4L143.9 164.4L143.5 164.4L143.2 164.4L142.8 164.4L142.5 164.4L142.1 164.4L141.8 164.4L141.4 161.1L141.1 157L140.7 152.9L140.4 148.8L140 144.7L139.7 140.5L139.3 138L139 142.1zM174.4 285.9L174.7 290.9L175.1 295.8L175.4 300.8L175.8 305.7L176.1 310.6L176.5 315.6L176.8 317.6L177.2 317.6L177.5 317.6L177.9 317.6L178.2 317.6L178.5 317.6L178.9 317.6L179.2 317.6L179.6 317.6L179.9 314.2L180.3 309.3L180.6 304.3L181 299.4L181.3 294.4L181.6 289.5L182 284.8L182.3 289.8L182.7 294.7L183 299.7L183.4 304.6L183.7 309.5L184.1 314.5L184.4 317.6L184.8 317.6L185.1 317.6L185.1 286.6L184.8 286.6L184.4 286.6L184.1 286.6L183.7 286.6L183.4 286.6L183 289.9L182.7 294.2L182.3 298.6L182 303L181.6 298.9L181.3 294.5L181 290.1L180.6 286.6L180.3 286.6L179.9 286.6L179.6 286.6L179.2 286.6L178.9 286.6L178.5 286.6L178.2 286.6L177.9 286.6L177.5 286.6L177.2 286.6L176.8 286.6L176.5 286.6L176.1 286.6L175.8 286.6L175.4 288.9L175.1 293.3L174.7 297.6L174.4 302zM184.7 133.4L185 133.4L185.3 133.4L185.7 133.4L186 133.4L186.4 133.4L186.7 133.4L187.1 133.4L187.4 133.4L187.8 133.4L188.1 133.4L188.5 133.4L188.8 133.4L189.2 133.4L189.5 133.4L189.9 137.3L190.2 142L190.6 145.1L190.9 140.4L191.3 135.6L191.6 133.4L191.9 133.4L192.3 133.4L192.6 133.4L193 133.4L193.3 133.4L193.7 133.4L194 133.4L194.4 133.4L194.7 133.4L195.1 133.4L195.4 133.4L195.8 133.4L196.1 133.4L196.5 133.4L196.8 133.4L197.2 133.4L197.5 136.9L197.9 141.7L198.2 145.5L198.6 140.7L198.9 135.9L199.2 133.4L199.6 133.4L199.9 133.4L200.3 133.4L200.6 133.4L201 133.4L201.3 133.4L201.7 133.4L202 133.4L202.4 133.4L202.7 133.4L203.1 133.4L203.4 133.4L203.8 133.4L204.1 133.4L204.5 133.4L204.8 133.4L205.2 136.6L205.5 141.4L205.8 145.8L205.8 164.4L205.5 164.4L205.2 164.4L204.8 164.4L204.5 164.4L204.1 164.4L203.8 164.4L203.4 164.4L203.1 164.3L202.7 160.2L202.4 156.1L202 152L201.7 147.9L201.3 143.8L201 139.7L200.6 138.9L200.3 143L199.9 147.1L199.6 151.2L199.2 155.3L198.9 159.4L198.6 163.5L198.2 164.4L197.9 164.4L197.5 164.4L197.2 164.4L196.8 164.4L196.5 164.4L196.1 164.4L195.8 164.4L195.4 164.4L195.1 160.5L194.7 156.4L194.4 152.3L194 148.2L193.7 144.1L193.3 140L193 138.6L192.6 142.7L192.3 146.8L191.9 150.9L191.6 155L191.3 159.1L190.9 163.2L190.6 164.4L190.2 164.4L189.9 164.4L189.5 164.4L189.2 164.4L188.8 164.4L188.5 164.4L188.1 164.4L187.8 164.4L187.4 160.8L187.1 156.7L186.7 152.6L186.4 148.5L186 144.4L185.7 140.3L185.3 138.3L185 142.4L184.7 146.5zM205.4 297.4L205.4 315.7L206 322.5L207.3 322.5L208.1 308.9L208.6 300.2L208.6 301.7L206.6 311.4zM208.2 152.8L208.2 135.3L208.9 128.1L210.3 128.1L211.3 142.1L211.8 150.8L211.8 153.9L210.2 145.7zM211.4 298L211.4 315.7L212.2 322.5L213.9 322.5L215.1 308.9L215.8 300.2L215.8 295.7L213.2 305.6zM215.3 151.6L215.3 135.3L216.1 128.1L217.7 128.1L218.7 142.1L219.3 150.8L219.3 152.3L217.2 141.2zM218.8 297L218.8 315.7L219.6 322.5L221.5 322.5L222.8 308.9L223.4 300.2L223.4 299.8L221.4 308.8zM223 156.3L223 135.3L223.8 128.1L225.3 128.1L226.4 142.1L226.9 150.8L226.9 155.7L224.8 144.6zM226.5 297.9L226.5 315.7L227.3 322.5L229.2 322.5L230.5 308.9L231.1 300.2L231.1 301.2L228.4 314.4zM230.7 154.6L230.7 135.3L231.5 128.1L233 128.1L234.1 142.1L234.6 150.8L234.6 154.9L233.1 147.1zM234.2 295.1L234.2 315.7L235 322.5L236.9 322.5L238.1 308.9L238.8 300.2L238.8 295L236.9 303zM238.3 158.1L238.3 135.3L239.1 128.1L240.7 128.1L241.7 142.1L242.3 150.8L242.3 155.5L239.8 147.7zM241.8 294.4L241.8 315.7L242.6 322.5L244.6 322.5L245.8 308.9L246.5 300.2L246.5 294.1L244 309.8zM246 154.8L246 135.3L246.8 128.1L248.4 128.1L249.4 142.1L250 150.8L250 154.4L248.1 140.4zM249.5 298.2L249.5 315.7L250.3 322.5L252.2 322.5L253.5 308.9L254.1 300.2L254.1 300.9L251.5 312.5zM253.7 152.9L253.7 135.3L254.5 128.1L256 128.1L257.1 142.1L257.6 150.8L257.6 157.1L255.9 139.3zM257.2 299.1L257.2 315.7L258 322.5L259.9 322.5L261.2 308.9L261.8 300.2L261.8 298.1L259.4 313zM261.4 152.1L261.4 135.3L262.1 128.1L263.7 128.1L264.8 142.1L265.3 150.8L265.3 154.5L263.2 138.5zM264.9 300.2L264.9 315.7L265.7 322.5L267.6 322.5L268.8 308.9L269.5 300.2L269.5 299.3L267.6 311zM269 155.6L269 135.3L269.8 128.1L271.4 128.1L272.4 142.1L273 150.8L273 154L270.9 139zM272.5 295.1L272.5 315.7L273.3 322.5L275.2 322.5L276.5 308.9L277.1 300.2L277.1 293.3L275 305.4zM276.7 155L276.7 135.3L277.5 128.1L279 128.1L280.1 142.1L280.6 150.8L280.6 155.1L279 148.9zM280.2 298.3L280.2 315.7L281 322.5L282.9 322.5L284.2 308.9L284.8 300.2L284.8 298.4L282.4 306.7zM284.4 153.3L284.4 135.3L285.2 128.1L286.7 128.1L287.8 142.1L288.3 150.8L288.3 156.2L286.7 144.8zM287.9 297.2L287.9 315.7L288.7 322.5L290.6 322.5L291.8 308.9L292.5 300.2L292.5 298.1L289.9 305.2zM292 154.5L292 135.3L292.8 128.1L294.4 128.1L295.4 142.1L296 150.8L296 154.6L294.5 148zM295.5 295.6L295.5 315.7L296.3 322.5L298.2 322.5L299.5 308.9L300.1 300.2L300.1 296.6L297.7 305.8zM299.7 150.7L299.7 135.3L300.5 128.1L302 128.1L303.1 142.1L303.6 150.8L303.6 154.7L301.7 142.6zM303.2 292.8L303.2 315.7L304 322.5L305.9 322.5L307.2 308.9L307.8 300.2L307.8 295.8L305.1 306.9zM307.4 153.1L307.4 135.3L308.2 128.1L309.7 128.1L310.8 142.1L311.3 150.8L311.3 154.6L309.7 140.1zM310.9 296.1L310.9 315.7L311.7 322.5L313.6 322.5L314.8 308.9L315.5 300.2L315.5 296.9L313.2 309zM315 158.6L315 135.3L315.8 128.1L317.4 128.1L318.4 142.1L319 150.8L319 158L317.1 144.5zM318.5 295.8L318.5 315.7L319.3 322.5L321.3 322.5L322.5 308.9L323.2 300.2L323.2 292.1L320.5 303.7zM322.7 153.7L322.7 135.3L323.5 128.1L325.1 128.1L326.1 142.1L326.7 150.8L326.7 155.6L324.7 143.3zM326.2 300.5L326.2 315.7L327 322.5L328.9 322.5L330.2 308.9L330.8 300.2L330.8 298L329 315.8zM330.4 150.9L330.4 135.3L331.2 128.1L332.7 128.1L333.8 142.1L334.3 150.8L334.3 150.9L332.8 139.2zM333.9 295L333.9 315.7L334.7 322.5L336.6 322.5L337.9 308.9L338.5 300.2L338.5 293.4L336.4 306.3zM338.1 154.1L338.1 135.3L338.8 128.1L340.4 128.1L341.4 142.1L342 150.8L342 152.4L340 138.8zM341.6 296L341.6 315.7L342.4 322.5L344.3 322.5L345.5 308.9L346.2 300.2L346.2 297.6L344.2 310.7zM345.7 154L345.7 135.3L346.5 128.1L348.1 128.1L349.1 142.1L349.7 150.8L349.7 154.9L348.1 141.9zM349.2 294.6L349.2 315.7L350 322.5L351.9 322.5L353.2 308.9L353.8 300.2L353.8 295L351.4 306.8zM353.4 158.2L353.4 135.3L354.2 128.1L355.7 128.1L356.8 142.1L357.3 150.8L357.3 158.2L354.9 144.1zM356.9 296.1L356.9 315.7L357.7 322.5L359.6 322.5L360.9 308.9L361.5 300.2L361.5 294L359.5 308.2zM361.1 153.5L361.1 135.3L361.9 128.1L363.4 128.1L364.5 142.1L365 150.8L365 152.6L363.1 147.5zM364.6 302.9L364.6 315.7L365.4 322.5L367.3 322.5L368.5 308.9L369.2 300.2L369.2 298.6L366.7 315.1zM368.7 154.2L368.7 135.3L369.5 128.1L371.1 128.1L372.1 142.1L372.7 150.8L372.7 156.9L370.3 146.6zM372.2 296.8L372.2 315.7L373 322.5L375 322.5L376.2 308.9L376.9 300.2L376.9 294.1L374.8 310.5zM376.4 153.8L376.4 135.3L377.2 128.1L378.8 128.1L379.8 142.1L380.4 150.8L380.4 153.3L378.1 143.4zM379.9 295.7L379.9 315.7L380.7 322.5L382.6 322.5L383.9 308.9L384.5 300.2L384.5 295.3L382.7 304.6zM384.1 158.9L384.1 135.3L384.9 128.1L386.4 128.1L387.5 142.1L388 150.8L388 159.1L385.8 142.7zM387.6 300.2L387.6 315.7L388.4 322.5L390.3 322.5L391.5 308.9L392.2 300.2L392.2 297.5L389.7 308.9zM391.7 153.6L391.7 135.3L392.5 128.1L394.1 128.1L395.1 142.1L395.7 150.8L395.7 153.7L394.1 139.3zM395.2 302L395.2 315.7L396 322.5L398 322.5L399.2 308.9L399.9 300.2L399.9 302.5L397.1 315.5zM399.4 156.2L399.4 135.3L400.2 128.1L401.8 128.1L402.8 142.1L403.4 150.8L403.4 155L401.2 142.4zM402.9 299.1L402.9 315.7L403.7 322.5L405.6 322.5L406.9 308.9L407.5 300.2L407.5 298.5L405.2 308.7zM407.1 152.6L407.1 135.3L407.9 128.1L409.4 128.1L410.5 142.1L411 150.8L411 154.5L409 141.9zM410.6 294.5L410.6 315.7L411.4 322.5L413.3 322.5L414.6 308.9L415.2 300.2L415.2 294.6L413.1 308.1zM414.8 154.4L414.8 135.3L415.5 128.1L417.1 128.1L418.1 142.1L418.7 150.8L418.7 153.4L416.7 139.9zM418.2 299.3L418.2 315.7L419.1 322.5L421 322.5L422.2 308.9L422.9 300.2L422.9 299.1L420.3 313zM422.4 154.2L422.4 135.3L423.2 128.1L424.8 128.1L425.8 142.1L426.4 150.8L426.4 153.2L424.4 146zM425.9 298.9L425.9 315.7L426.7 322.5L428.6 322.5L429.9 308.9L430.5 300.2L430.5 299.8L427.8 314.3zM430.1 153.3L430.1 135.3L430.9 128.1L432.4 128.1L433.5 142.1L434 150.8L434 154.3L431.6 140.3zM433.6 297.9L433.6 315.7L434.4 322.5L436.3 322.5L437.6 308.9L438.2 300.2L438.2 298.5L435.5 308.7zM437.8 149.1L437.8 135.3L438.6 128.1L440.1 128.1L441.2 142.1L441.7 150.8L441.7 152L440.1 138.6zM441.3 295.6L441.3 315.7L442.1 322.5L444 322.5L445.2 308.9L445.9 300.2L445.9 296.6L443.3 310.6zM445.4 155.5L445.4 135.3L446.2 128.1L447.8 128.1L448.8 142.1L449.4 150.8L449.4 154.4L447.8 146.1zM448.9 295.4L448.9 315.7L449.7 322.5L451.7 322.5L452.9 308.9L453.6 300.2L453.6 295.4L451.2 311zM453.1 150.4L453.1 135.3L453.9 128.1L455.4 128.1L456.5 142.1L457.1 150.8L457.1 150L454.8 136zM456.6 294.6L456.6 315.7L457.4 322.5L459.3 322.5L460.6 308.9L461.2 300.2L461.2 293.6L458.7 308.1zM460.8 152.8L460.8 135.3L461.6 128.1L463.1 128.1L464.2 142.1L464.7 150.8L464.7 151.8L463.2 139.5zM464.3 292.5L464.3 315.7L465.1 322.5L467 322.5L468.2 308.9L468.9 300.2L468.9 294.9L466.2 308.1zM468.4 157.6L468.4 135.3L469.2 128.1L470.8 128.1L471.8 142.1L472.4 150.8L472.4 154.3L470.1 144.2zM471.9 296.2L471.9 315.7L472.7 322.5L474.7 322.5L475.9 308.9L476.6 300.2L476.6 296.9L474.7 306.2zM476.1 149.7L476.1 135.3L476.9 128.1L478.5 128.1L479.5 142.1L480.1 150.8L480.1 152.9L478.4 139.2zM479.6 296.4L479.6 315.7L480.4 322.5L482.3 322.5L483.6 308.9L484.2 300.2L484.2 298.8L482 309.4zM483.8 148.6L483.8 135.3L484.6 128.1L486.1 128.1L487.2 142.1L487.7 150.8L487.7 151.6L486.1 142.9zM487.3 301.4L487.3 315.7L488.1 322.5L490 322.5L491.2 308.9L491.9 300.2L491.9 299.2L490 308zM491.4 152.6L491.4 135.3L492.2 128.1L493.8 128.1L494.8 142.1L495.4 150.8L495.4 155L493 137.7zM494.9 300.1L494.9 315.7L495.8 322.5L497.7 322.5L498.9 308.9L499.6 300.2L499.6 301.3L497 308.7zM499.1 157.2L499.1 135.3L499.9 128.1L501.5 128.1L502.5 142.1L503.1 150.8L503.1 156.7L501.4 148.6zM502.6 299.2L502.6 315.7L503.4 322.5L505.3 322.5L506.6 308.9L507.2 300.2L507.2 295.4L504.6 304.6zM506.8 154.7L506.8 135.3L507.6 128.1L509.1 128.1L510.2 142.1L510.7 150.8L510.7 153.1L508.8 140.1zM510.3 301L510.3 315.7L511.1 322.5L513 322.5L514.3 308.9L514.9 300.2L514.9 297.9L512.5 314.9zM514.5 151.1L514.5 135.3L515.2 128.1L516.8 128.1L517.9 142.1L518.4 150.8L518.4 150.7L516.1 140.8zM518 300.3L518 315.7L518.8 322.5L520.7 322.5L521.9 308.9L522.6 300.2L522.6 301.9L520.3 307.7zM522.1 154.8L522.1 135.3L522.9 128.1L524.5 128.1L525.5 142.1L526.1 150.8L526.1 156.1L523.6 139.8zM525.6 293.1L525.6 315.7L526.4 322.5L528.4 322.5L529.6 308.9L530.2 300.2L530.2 294.3L528.3 307.1zM529.8 158.1L529.8 135.3L530.6 128.1L532.1 128.1L533.2 142.1L533.8 150.8L533.8 157.5L531.6 144.4zM533.3 293.9L533.3 315.7L534.1 322.5L536 322.5L537.3 308.9L537.9 300.2L537.9 297.5L535.5 308.2zM537.5 153.6L537.5 135.3L538.3 128.1L539.8 128.1L540.9 142.1L541.4 150.8L541.4 152.5L539 137.5zM541 297.5L541 315.7L541.8 322.5L543.7 322.5L544.9 308.9L545.6 300.2L545.6 296.6L543.6 306.6zM545.1 153L545.1 135.3L545.9 128.1L547.5 128.1L548.5 142.1L549.1 150.8L549.1 151.3L546.7 140.2zM548.6 299.7L548.6 315.7L549.4 322.5L551.4 322.5L552.6 308.9L553.3 300.2L553.3 296.5L551 314.2zM552.8 152L552.8 135.3L553.6 128.1L555.2 128.1L556.2 142.1L556.8 150.8L556.8 152.9L555.2 143.2zM556.3 296.3L556.3 315.7L557.1 322.5L559 322.5L560.3 308.9L560.9 300.2L560.9 294L559.1 311.3zM560.5 155.2L560.5 135.3L561.3 128.1L562.8 128.1L563.9 142.1L564.4 150.8L564.4 153.5L562.5 145.2zM564 297L564 315.7L564.8 322.5L566.7 322.5L568 308.9L568.6 300.2L568.6 300.5L566.5 313.9zM568.1 156.8L568.1 135.3L568.9 128.1L570.5 128.1L571.6 142.1L572.1 150.8L572.1 157.7L570.6 144.4zM571.6 298.9L571.6 315.7L572.4 322.5L574.4 322.5L575.6 308.9L576.3 300.2L576.3 297.4L574.3 305.5zM575.8 153.1L575.8 135.3L576.6 128.1L578.2 128.1L579.2 142.1L579.8 150.8L579.8 153.1L577.7 145.3zM579.3 302.6L579.3 315.7L580.1 322.5L582 322.5L583.3 308.9L583.9 300.2L583.9 302.6L581.3 315.9zM583.5 157.9L583.5 135.3L584.3 128.1L585.8 128.1L586.9 142.1L587.4 150.8L587.4 158.8L585.5 149.6zM587 295.8L587 315.7L587.8 322.5L589.7 322.5L591 308.9L591.6 300.2L591.6 294.2L589.8 305.8zM591.2 154L591.2 135.3L591.9 128.1L593.5 128.1L594.6 142.1L595.1 150.8L595.1 155.1L592.8 144zM594.7 300.8L594.7 315.7L595.5 322.5L597.4 322.5L598.6 308.9L599.3 300.2L599.3 298.8L597.1 307.9zM598.8 152.7L598.8 135.3L599.6 128.1L601.2 128.1L602.2 142.1L602.8 150.8L602.8 154.8L601 141zM602.3 299L602.3 315.7L603.1 322.5L605.1 322.5L606.3 308.9L607 300.2L607 299.8L604.6 311.6zM606.5 157L606.5 135.3L607.3 128.1L608.9 128.1L609.9 142.1L610.5 150.8L610.5 155.4L608 142.4zM610 297.6L610 315.7L610.8 322.5L612.7 322.5L614 308.9L614.6 300.2L614.6 295.4L612.5 309.1zM614.2 152.2L614.2 135.3L615 128.1L616.5 128.1L617.6 142.1L618.1 150.8L618.1 152L615.7 136.9zM617.7 296.8L617.7 315.7L618.5 322.5L620.4 322.5L621.6 308.9L622.3 300.2L622.3 298.1L620.2 303.8zM621.8 153.5L621.8 135.3L622.6 128.1L624.2 128.1L625.2 142.1L625.8 150.8L625.8 150.1L623.8 144.6zM625.3 297L625.3 315.7L626.1 322.5L628.1 322.5L629.3 308.9L630 300.2L630 296.3L627.9 310.9zM629.5 153.7L629.5 135.3L630.3 128.1L631.9 128.1L632.9 142.1L633.5 150.8L633.5 156.9L631.5 142.7zM633 299L633 315.7L633.8 322.5L635.7 322.5L637 308.9L637.6 300.2L637.6 301.9L635.8 313.2zM637.2 153.9L637.2 135.3L638 128.1L639.5 128.1L640.6 142.1L641.1 150.8L641.1 153.9L638.7 142.8zM640.7 296.5L640.7 315.7L641.5 322.5L643.4 322.5L644.6 308.9L645.3 300.2L645.3 296.5L642.5 311.1zM644.8 154.1L644.8 135.3L645.6 128.1L647.2 128.1L648.2 142.1L648.8 150.8L648.8 155.3L646.4 140.7zM648.3 300.9L648.3 315.7L649.1 322.5L651.1 322.5L652.3 308.9L653 300.2L653 299L650.5 308.9zM652.5 155.6L652.5 135.3L653.3 128.1L654.9 128.1L655.9 142.1L656.5 150.8L656.5 158.8L654.9 148.1zM656 295.8L656 315.7L656.8 322.5L658.7 322.5L660 308.9L660.6 300.2L660.6 293.3L658.2 308.9zM660.2 154.6L660.2 135.3L661 128.1L662.5 128.1L663.6 142.1L664.1 150.8L664.1 154.4L662.2 139.8zM663.7 297.1L663.7 315.7L664.5 322.5L666.4 322.5L667.7 308.9L668.3 300.2L668.3 296.4L665.7 311zM667.9 153.6L667.9 135.3L668.6 128.1L670.2 128.1L671.3 142.1L671.8 150.8L671.8 151.3L669.5 136.5zM671.4 294.5L671.4 315.7L672.2 322.5L674.1 322.5L675.3 308.9L676 300.2L676 294L673.8 302.5zM675.5 152.2L675.5 135.3L676.3 128.1L677.9 128.1L678.9 142.1L679.5 150.8L679.5 150.1L677.1 139.6zM679 297.7L679 315.7L679.8 322.5L681.8 322.5L683 308.9L683.6 300.2L683.6 298.3L680.9 306.6zM683.2 157.2L683.2 135.3L684 128.1L685.5 128.1L686.6 142.1L687.1 150.8L687.1 157.2L684.9 145.2zM686.7 298.8L686.7 315.7L687.5 322.5L689.4 322.5L690.7 308.9L691.3 300.2L691.3 297.5L688.8 312.4zM690.9 154.8L690.9 135.3L691.7 128.1L693.2 128.1L694.3 142.1L694.8 150.8L694.8 151.7L692.6 145.3zM694.4 296.5L694.4 315.7L695.2 322.5L697.1 322.5L698.3 308.9L699 300.2L699 293.7L696.3 303.3zM698.5 150.2L698.5 135.3L699.3 128.1L700.9 128.1L701.9 142.1L702.5 150.8L702.5 153.1L700.9 142.2zM702 295.8L702 315.7L702.8 322.5L704.8 322.5L706 308.9L706.7 300.2L706.7 295.2L704.3 308.1zM706.2 155.4L706.2 135.3L707 128.1L708.6 128.1L709.6 142.1L710.2 150.8L710.2 156L708.2 141.4zM709.7 295L709.7 315.7L710.5 322.5L712.4 322.5L713.7 308.9L714.3 300.2L714.3 296L712.2 310.7zM713.9 155.1L713.9 135.3L714.7 128.1L716.2 128.1L717.3 142.1L717.8 150.8L717.8 150.9L716.1 138.6zM717.4 299.1L717.4 315.7L718.2 322.5L720.1 322.5L721.4 308.9L722 300.2L722 296.3L719.4 312.9zM721.5 157.2L721.5 135.3L722.3 128.1L723.9 128.1L725 142.1L725.5 150.8L725.5 156.8L723 145.5zM725 294.2L725 315.7L725.8 322.5L727.8 322.5L729 308.9L729.7 300.2L729.7 298.3L727.6 308.1zM729.2 155.7L729.2 135.3L730 128.1L731.6 128.1L732.6 142.1L733.2 150.8L733.2 155.3L731.3 147.8zM732.7 297.3L732.7 315.7L733.5 322.5L735.4 322.5L736.7 308.9L737.3 300.2L737.3 296.2L735.4 313.4zM736.9 157.7L736.9 135.3L737.7 128.1L739.2 128.1L740.3 142.1L740.8 150.8L740.8 158L739.2 146.6zM740.4 295.5L740.4 315.7L741.2 322.5L743.1 322.5L744.4 308.9L745 300.2L745 294.5L743 304.8zM744.6 154.5L744.6 135.3L745.3 128.1L746.9 128.1L748 142.1L748.5 150.8L748.5 155.1L746.1 139.6zM748.1 300.3L748.1 315.7L748.9 322.5L750.8 322.5L752 308.9L752.7 300.2L752.7 299.6L750.8 312.6zM752.2 150.5L752.2 135.3L753 128.1L754.6 128.1L755.6 142.1L756.2 150.8L756.2 150.4L754.1 142zM755.7 298L755.7 315.7L756.5 322.5L758.5 322.5L759.7 308.9L760.4 300.2L760.4 297.2L757.7 306.6zM759.9 151.2L759.9 135.3L760.7 128.1L762.2 128.1L763.3 142.1L763.9 150.8L763.9 153L762.1 140.2zM763.4 296.9L763.4 315.7L764.2 322.5L766.1 322.5L767.4 308.9L768 300.2L768 299.3L765.7 305.9zM767.6 155.3L767.6 135.3L768.4 128.1L769.9 128.1L771 142.1L771.5 150.8L771.5 154.1L769.5 142.7zM771.1 298.1L771.1 315.7L771.9 322.5L773.8 322.5L775 308.9L775.7 300.2L775.7 299.8L773 311.6zM775.2 153.6L775.2 135.3L776 128.1L777.6 128.1L778.6 142.1L779.2 150.8L779.2 149.9L776.8 142zM778.7 295.3L778.7 315.7L779.5 322.5L781.5 322.5L782.7 308.9L783.4 300.2L783.4 298L780.8 311.3zM782.9 151.2L782.9 135.3L783.7 128.1L785.3 128.1L786.3 142.1L786.9 150.8L786.9 153.7L784.5 141zM786.4 292.2L786.4 315.7L787.2 322.5L789.1 322.5L790.4 308.9L791 300.2L791 295.4L788.8 302.1zM790.6 154.5L790.6 135.3L791.4 128.1L792.9 128.1L794 142.1L794.5 150.8L794.5 157.1L792.4 140.8zM794.1 300.6L794.1 315.7L794.9 322.5L796.8 322.5L798.1 308.9L798.7 300.2L798.7 298.3L796.6 313.6zM798.2 156.3L798.2 135.3L799 128.1L800.6 128.1L801.7 142.1L802.2 150.8L802.2 155.3L800 146.4zM801.8 297.7L801.8 315.7L802.5 322.5L804.5 322.5L805.7 308.9L806.4 300.2L806.4 294.3L803.7 306.5zM805.9 157.2L805.9 135.3L806.7 128.1L808.3 128.1L809.3 142.1L809.9 150.8L809.9 158.8L807.9 145.8zM809.4 293.9L809.4 315.7L810.2 322.5L812.1 322.5L813.4 308.9L814 300.2L814 294.6L811.4 307.6zM813.6 152.4L813.6 135.3L814.4 128.1L815.9 128.1L817 142.1L817.5 150.8L817.5 151.7L815.8 141.6zM817.1 300.3L817.1 315.7L817.9 322.5L819.8 322.5L821.1 308.9L821.7 300.2L821.7 297.4L819.9 311.7zM821.3 158.5L821.3 135.3L822 128.1L823.6 128.1L824.7 142.1L825.2 150.8L825.2 157.6L823.1 148.7zM824.8 297.2L824.8 315.7L825.6 322.5L827.5 322.5L828.7 308.9L829.4 300.2L829.4 296.4L827.2 306.8zM828.9 148.6L828.9 135.3L829.7 128.1L831.3 128.1L832.3 142.1L832.9 150.8L832.9 151.4L831.4 140.3zM832.4 301.4L832.4 315.7L833.2 322.5L835.1 322.5L836.4 308.9L837 300.2L837 298.6L834.7 307.9zM836.6 155.2L836.6 135.3L837.4 128.1L838.9 128.1L840 142.1L840.5 150.8L840.5 155.6L838.6 139.5zM840.1 296.5L840.1 315.7L840.9 322.5L842.8 322.5L844.1 308.9L844.7 300.2L844.7 294.5L842 308.1zM844.3 150.4L844.3 135.3L845.1 128.1L846.6 128.1L847.7 142.1L848.2 150.8L848.2 153.5L845.8 141.8zM847.8 298.5L847.8 315.7L848.6 322.5L850.5 322.5L851.7 308.9L852.4 300.2L852.4 299L850.2 313.6zM851.9 151.1L851.9 135.3L852.7 128.1L854.3 128.1L855.3 142.1L855.9 150.8L855.9 154.7L853.5 137.8zM855.4 292.4L855.4 315.7L856.2 322.5L858.2 322.5L859.4 308.9L860.1 300.2L860.1 297L857.8 309.5zM859.6 151.2L859.6 135.3L860.4 128.1L862 128.1L863 142.1L863.6 150.8L863.6 152.5L862 139zM863.1 294L863.1 315.7L863.9 322.5L865.8 322.5L867.1 308.9L867.7 300.2L867.7 297.4L865.7 303.7zM867.3 149.9L867.3 135.3L868.1 128.1L869.6 128.1L870.7 142.1L871.2 150.8L871.2 152L869 142.1zM870.8 297.3L870.8 315.7L871.6 322.5L873.5 322.5L874.8 308.9L875.4 300.2L875.4 300.5L873.2 309.7zM874.9 159L874.9 135.3L875.7 128.1L877.3 128.1L878.4 142.1L878.9 150.8L878.9 158.5L876.9 148.3zM878.4 295.7L878.4 315.7L879.2 322.5L881.2 322.5L882.4 308.9L883.1 300.2L883.1 294.8L880.6 305.4zM882.6 153.3L882.6 135.3L883.4 128.1L885 128.1L886 142.1L886.6 150.8L886.6 152.6L884.6 136.5zM886.1 298.5L886.1 315.7L886.9 322.5L888.8 322.5L890.1 308.9L890.7 300.2L890.7 298.8L888 309.7zM890.3 153.5L890.3 135.3L891.1 128.1L892.6 128.1L893.7 142.1L894.2 150.8L894.2 155.4L892.5 140.8zM893.8 292.2L893.8 315.7L894.6 322.5L896.5 322.5L897.8 308.9L898.4 300.2L898.4 296.8L895.8 302.2zM898 154.6L898 135.3L898.7 128.1L900.3 128.1L901.4 142.1L901.9 150.8L901.9 153.8L900 139.9zM901.5 299.8L901.5 315.7L902.2 322.5L903.5 322.5L904.5 308.9L905 300.2L905 300L902.7 310.9z" fill="#988ED5" stroke="#988ED5" stroke-width="0.5"/>
<path d="M175.2 150.8V317.6M185.4 300.2V133.4M206.2 150.8V317.6M208.9 300.2V133.4M212.2 150.8V317.6M216.1 300.2V133.4M219.6 150.8V317.6M223.8 300.2V133.4M227.2 150.8V317.6M231.4 300.2V133.4M234.9 150.8V317.6M239.1 300.2V133.4M242.6 150.8V317.6M246.8 300.2V133.4M250.3 150.8V317.6M254.4 300.2V133.4M257.9 150.8V317.6M262.1 300.2V133.4M265.6 150.8V317.6M269.8 300.2V133.4M273.3 150.8V317.6M277.4 300.2V133.4M280.9 150.8V317.6M285.1 300.2V133.4M288.6 150.8V317.6M292.8 300.2V133.4M296.3 150.8V317.6M300.4 300.2V133.4M303.9 150.8V317.6M308.1 300.2V133.4M311.6 150.8V317.6M315.8 300.2V133.4M319.3 150.8V317.6M323.5 300.2V133.4M327 150.8V317.6M331.1 300.2V133.4M334.6 150.8V317.6M338.8 300.2V133.4M342.3 150.8V317.6M346.5 300.2V133.4M350 150.8V317.6M354.1 300.2V133.4M357.6 150.8V317.6M361.8 300.2V133.4M365.3 150.8V317.6M369.5 300.2V133.4M373 150.8V317.6M377.2 300.2V133.4M380.7 150.8V317.6M384.8 300.2V133.4M388.3 150.8V317.6M392.5 300.2V133.4M396 150.8V317.6M400.2 300.2V133.4M403.7 150.8V317.6M407.8 300.2V133.4M411.3 150.8V317.6M415.5 300.2V133.4M419 150.8V317.6M423.2 300.2V133.4M426.7 150.8V317.6M430.8 300.2V133.4M434.3 150.8V317.6M438.5 300.2V133.4M442 150.8V317.6M446.2 300.2V133.4M449.7 150.8V317.6M453.9 300.2V133.4M457.4 150.8V317.6M461.5 300.2V133.4M465 150.8V317.6M469.2 300.2V133.4M472.7 150.8V317.6M476.9 300.2V133.4M480.4 150.8V317.6M484.5 300.2V133.4M488 150.8V317.6M492.2 300.2V133.4M495.7 150.8V317.6M499.9 300.2V133.4M503.4 150.8V317.6M507.5 300.2V133.4M511 150.8V317.6M515.2 300.2V133.4M518.7 150.8V317.6M522.9 300.2V133.4M526.4 150.8V317.6M530.5 300.2V133.4M534 150.8V317.6M538.2 300.2V133.4M541.7 150.8V317.6M545.9 300.2V133.4M549.4 150.8V317.6M553.6 300.2V133.4M557.1 150.8V317.6M561.2 300.2V133.4M564.7 150.8V317.6M568.9 300.2V133.4M572.4 150.8V317.6M576.6 300.2V133.4M580.1 150.8V317.6M584.2 300.2V133.4M587.7 150.8V317.6M591.9 300.2V133.4M595.4 150.8V317.6M599.6 300.2V133.4M603.1 150.8V317.6M607.2 300.2V133.4M610.8 150.8V317.6M614.9 300.2V133.4M618.4 150.8V317.6M622.6 300.2V133.4M626.1 150.8V317.6M630.3 300.2V133.4M633.8 150.8V317.6M637.9 300.2V133.4M641.4 150.8V317.6M645.6 300.2V133.4M649.1 150.8V317.6M653.3 300.2V133.4M656.8 150.8V317.6M660.9 300.2V133.4M664.4 150.8V317.6M668.6 300.2V133.4M672.1 150.8V317.6M676.3 300.2V133.4M679.8 150.8V317.6M683.9 300.2V133.4M687.4 150.8V317.6M691.6 300.2V133.4M695.1 150.8V317.6M699.3 300.2V133.4M702.8 150.8V317.6M707 300.2V133.4M710.5 150.8V317.6M714.6 300.2V133.4M718.1 150.8V317.6M722.3 300.2V133.4M725.8 150.8V317.6M730 300.2V133.4M733.5 150.8V317.6M737.6 300.2V133.4M741.1 150.8V317.6M745.3 300.2V133.4M748.8 150.8V317.6M753 300.2V133.4M756.5 150.8V317.6M760.6 300.2V133.4M764.1 150.8V317.6M768.3 300.2V133.4M771.8 150.8V317.6M776 300.2V133.4M779.5 150.8V317.6M783.7 300.2V133.4M787.2 150.8V317.6M791.3 300.2V133.4M794.8 150.8V317.6M799 300.2V133.4M802.5 150.8V317.6M806.7 300.2V133.4M810.2 150.8V317.6M814.3 300.2V133.4M817.8 150.8V317.6M822 300.2V133.4M825.5 150.8V317.6M829.7 300.2V133.4M833.2 150.8V317.6M837.3 300.2V133.4M840.8 150.8V317.6M845 300.2V133.4M848.5 150.8V317.6M852.7 300.2V133.4M856.2 150.8V317.6M860.4 300.2V133.4M863.9 150.8V317.6M868 300.2V133.4M871.5 150.8V317.6M875.7 300.2V133.4M879.2 150.8V317.6M883.4 300.2V133.4M886.9 150.8V317.6M891 300.2V133.4M894.5 150.8V317.6M898.7 300.2V133.4M902.2 150.8V317.6" stroke="#988ED5" stroke-width="1.39"/>
<path d="M139 322.5L139.3 322.5L139.7 322.5L140 322.5L140.4 322.5L140.7 322.5L141.1 322.5L141.4 320.9L141.8 315.9L142.1 310.9L142.5 305.9L142.8 300.9L143.2 295.9L143.5 290.9L143.9 293.2L144.2 298.2L144.6 303.2L144.9 308.2L145.3 313.2L145.6 318.2L146 322.5L146.3 322.5L146.7 322.5L147 322.5L147.4 322.5L147.7 322.5L148.1 322.5L148.4 322.5L148.8 322.5L149.1 320.7L149.5 315.7L149.8 310.7L150.2 305.7L150.5 300.7L150.9 295.7L151.2 290.7L151.6 293.4L151.9 298.4L152.3 303.4L152.6 308.4L153 313.4L153.3 318.4L153.7 322.5L154 322.5L154.4 322.5L154.7 322.5L155.1 322.5L155.4 322.5L155.8 322.5L156.1 322.5L156.5 322.5L156.8 320.5L157.2 315.5L157.5 310.5L157.9 305.5L158.2 300.5L158.6 295.5L158.9 290.5L159.3 293.6L159.6 298.6L160 303.6L160.3 308.6L160.7 313.6L161 318.6L161.4 322.5L161.7 322.5L162 322.5L162.4 322.5L162.7 322.5L163.1 322.5L163.4 322.5L163.8 322.5L164.1 322.5L164.5 320.3L164.8 315.3L165.2 310.3L165.5 305.3L165.9 300.3L166.2 295.3L166.6 290.3L166.9 293.7L167.3 298.7L167.6 303.8L168 308.8L168.3 313.8L168.7 318.8L169 322.5L169.4 322.5L169.7 322.5L170.1 322.5L170.4 322.5L170.8 322.5L171.1 322.5L171.5 322.5L171.8 322.5L172.2 320.1L172.5 315.1L172.9 310.1L173.2 305.1L173.6 300.1L173.9 295.1L174.3 290.1L174.6 293.9L175 298.9L175.3 303.9L175.7 308.9L176 314L176.4 319L176.7 322.5L177.1 322.5L177.4 322.5L177.8 322.5L178.1 322.5L178.5 322.5L178.8 322.5L179.2 322.5L179.5 322.5L179.9 320L180.2 315L180.6 310L180.9 304.9L181.3 299.9L181.6 294.9L182 289.9L182.3 294.1L182.7 299.1L183 304.1L183.4 309.1L183.7 314.1L184.1 319.1L184.4 322.5L184.7 322.5L185.1 322.5L185.4 322.5L185.8 322.5L186.1 322.5L186.5 322.5L186.8 322.5L187.2 322.5L187.5 319.8L187.9 314.8L188.2 309.8L188.6 304.8L188.9 299.8L189.3 294.7L189.6 289.7L190 294.3L190.3 299.3L190.7 304.3L191 309.3L191.4 314.3L191.7 319.3L192.1 322.5L192.4 322.5L192.8 322.5L193.1 322.5L193.5 322.5L193.8 322.5L194.2 322.5L194.5 322.5L194.9 322.5L195.2 319.6L195.6 314.6L195.9 309.6L196.3 304.6L196.6 299.6L197 294.6L197.3 289.6L197.7 294.5L198 299.5L198.4 304.5L198.7 309.5L199.1 314.5L199.4 319.5L199.8 322.5L200.1 322.5L200.5 322.5L200.8 322.5L201.2 322.5L201.5 322.5L201.9 322.5L202.2 322.5L202.6 322.5L202.9 319.4L203.3 314.4L203.6 309.4L204 304.4L204.3 299.4L204.7 294.4L205 289.7L205.4 294.7L205.7 299.7L206.1 304.7L206.4 309.7L206.8 314.7L207.1 319.7L207.4 322.5L207.8 322.5L208.1 322.5L208.5 322.5L208.8 322.5L209.2 322.5L209.5 322.5L209.9 322.5L210.2 322.5L210.6 319.2L210.9 314.2L211.3 309.2L211.6 304.2L212 299.2L212.3 294.2L212.7 289.9L213 294.9L213.4 299.9L213.7 304.9L214.1 309.9L214.4 314.9L214.8 319.9L215.1 322.5L215.5 322.5L215.8 322.5L215.8 286.6L215.5 286.6L215.1 286.6L214.8 286.6L214.4 286.6L214.1 286.6L213.7 289.6L213.4 294L213 298.4L212.7 302.8L212.3 299L212 294.6L211.6 290.1L211.3 286.6L210.9 286.6L210.6 286.6L210.2 286.6L209.9 286.6L209.5 286.6L209.2 286.6L208.8 286.6L208.5 286.6L208.1 286.6L207.8 286.6L207.4 286.6L207.1 286.6L206.8 286.6L206.4 286.6L206.1 289.7L205.7 294.1L205.4 298.6L205 303L204.7 298.8L204.3 294.4L204 290L203.6 286.6L203.3 286.6L202.9 286.6L202.6 286.6L202.2 286.6L201.9 286.6L201.5 286.6L201.2 286.6L200.8 286.6L200.5 286.6L200.1 286.6L199.8 286.6L199.4 286.6L199.1 286.6L198.7 286.6L198.4 289.9L198 294.3L197.7 298.7L197.3 303.1L197 298.7L196.6 294.2L196.3 289.8L195.9 286.6L195.6 286.6L195.2 286.6L194.9 286.6L194.5 286.6L194.2 286.6L193.8 286.6L193.5 286.6L193.1 286.6L192.8 286.6L192.4 286.6L192.1 286.6L191.7 286.6L191.4 286.6L191 286.6L190.7 290L190.3 294.5L190 298.9L189.6 302.9L189.3 298.5L188.9 294.1L188.6 289.7L188.2 286.6L187.9 286.6L187.5 286.6L187.2 286.6L186.8 286.6L186.5 286.6L186.1 286.6L185.8 286.6L185.4 286.6L185.1 286.6L184.7 286.6L184.4 286.6L184.1 286.6L183.7 286.6L183.4 286.6L183 290.2L182.7 294.6L182.3 299L182 302.7L181.6 298.3L181.3 293.9L180.9 289.5L180.6 286.6L180.2 286.6L179.9 286.6L179.5 286.6L179.2 286.6L178.8 286.6L178.5 286.6L178.1 286.6L177.8 286.6L177.4 286.6L177.1 286.6L176.7 286.6L176.4 286.6L176 286.6L175.7 286.6L175.3 290.4L175 294.8L174.6 299.2L174.3 302.6L173.9 298.2L173.6 293.7L173.2 289.3L172.9 286.6L172.5 286.6L172.2 286.6L171.8 286.6L171.5 286.6L171.1 286.6L170.8 286.6L170.4 286.6L170.1 286.6L169.7 286.6L169.4 286.6L169 286.6L168.7 286.6L168.3 286.6L168 286.6L167.6 290.5L167.3 295L166.9 299.4L166.6 302.4L166.2 298L165.9 293.6L165.5 289.2L165.2 286.6L164.8 286.6L164.5 286.6L164.1 286.6L163.8 286.6L163.4 286.6L163.1 286.6L162.7 286.6L162.4 286.6L162 286.6L161.7 286.6L161.4 286.6L161 286.6L160.7 286.6L160.3 286.6L160 290.7L159.6 295.1L159.3 299.5L158.9 302.2L158.6 297.8L158.2 293.4L157.9 289L157.5 286.6L157.2 286.6L156.8 286.6L156.5 286.6L156.1 286.6L155.8 286.6L155.4 286.6L155.1 286.6L154.7 286.6L154.4 286.6L154 286.6L153.7 286.6L153.3 286.6L153 286.6L152.6 286.6L152.3 290.9L151.9 295.3L151.6 299.7L151.2 302.1L150.9 297.7L150.5 293.2L150.2 288.8L149.8 286.6L149.5 286.6L149.1 286.6L148.8 286.6L148.4 286.6L148.1 286.6L147.7 286.6L147.4 286.6L147 286.6L146.7 286.6L146.3 286.6L146 286.6L145.6 286.6L145.3 286.6L144.9 286.6L144.6 291L144.2 295.4L143.9 299.9L143.5 301.9L143.2 297.5L142.8 293.1L142.5 288.7L142.1 286.6L141.8 286.6L141.4 286.6L141.1 286.6L140.7 286.6L140.4 286.6L140 286.6L139.7 286.6L139.3 286.6L139 286.6zM215.4 156.7L215.4 135.3L216.2 128.1L217.7 128.1L218.8 142.1L219.3 150.8L219.3 155.6L217.7 148zM218.9 293.8L218.9 315.7L219.7 322.5L221.6 322.5L222.8 308.9L223.5 300.2L223.5 294.6L220.9 307.2zM223 151.1L223 135.3L223.8 128.1L225.4 128.1L226.4 142.1L227 150.8L227 151.8L225.1 145.9zM226.5 292.5L226.5 315.7L227.3 322.5L229.3 322.5L230.5 308.9L231.2 300.2L231.2 293.4L229 306.7zM230.7 157.3L230.7 135.3L231.5 128.1L233.1 128.1L234.1 142.1L234.7 150.8L234.7 153.2L233.2 141.6zM234.2 292.9L234.2 315.7L235 322.5L236.9 322.5L238.2 308.9L238.8 300.2L238.8 293.4L237 302.4zM238.4 158.6L238.4 135.3L239.2 128.1L240.7 128.1L241.8 142.1L242.3 150.8L242.3 158.9L240.4 142.9zM241.9 291.8L241.9 315.7L242.7 322.5L244.6 322.5L245.9 308.9L246.5 300.2L246.5 295.6L243.9 306.3zM246 158.9L246 135.3L246.8 128.1L248.4 128.1L249.5 142.1L250 150.8L250 158.5L248.3 150.9zM249.5 295.6L249.5 315.7L250.3 322.5L252.3 322.5L253.5 308.9L254.2 300.2L254.2 293.7L251.9 310.2zM253.7 157L253.7 135.3L254.5 128.1L256.1 128.1L257.1 142.1L257.7 150.8L257.7 156.1L255.3 149.2zM257.2 293.6L257.2 315.7L258 322.5L260 322.5L261.2 308.9L261.9 300.2L261.9 291.8L259.4 307.7zM261.4 159.5L261.4 135.3L262.2 128.1L263.8 128.1L264.8 142.1L265.4 150.8L265.4 159.9L263 145.7zM264.9 292.4L264.9 315.7L265.7 322.5L267.6 322.5L268.9 308.9L269.5 300.2L269.5 295.6L267.5 307zM269.1 157.5L269.1 135.3L269.9 128.1L271.4 128.1L272.5 142.1L273 150.8L273 159.2L271.3 145.7zM272.6 292.4L272.6 315.7L273.4 322.5L275.3 322.5L276.5 308.9L277.2 300.2L277.2 293L275 301.2zM276.7 155.6L276.7 135.3L277.5 128.1L279.1 128.1L280.1 142.1L280.7 150.8L280.7 158.6L278.7 144.2zM280.2 297.3L280.2 315.7L281 322.5L283 322.5L284.2 308.9L284.9 300.2L284.9 295L282.5 309.7zM284.4 157.4L284.4 135.3L285.2 128.1L286.8 128.1L287.8 142.1L288.4 150.8L288.4 156.5L286.4 145.9zM287.9 292.7L287.9 315.7L288.7 322.5L290.6 322.5L291.9 308.9L292.5 300.2L292.5 296.6L290.1 305.4zM292.1 162.2L292.1 135.3L292.9 128.1L294.4 128.1L295.5 142.1L296 150.8L296 162L293.6 147.8zM295.6 291.5L295.6 315.7L296.4 322.5L298.3 322.5L299.6 308.9L300.2 300.2L300.2 291.6L297.8 307.7zM299.7 157.1L299.7 135.3L300.5 128.1L302.1 128.1L303.1 142.1L303.7 150.8L303.7 156L302.1 145.9zM303.2 295.3L303.2 315.7L304 322.5L306 322.5L307.2 308.9L307.9 300.2L307.9 297.7L305.2 308.7zM307.4 157.8L307.4 135.3L308.2 128.1L309.8 128.1L310.8 142.1L311.4 150.8L311.4 157.7L309.5 145.1zM310.9 296.5L310.9 315.7L311.7 322.5L313.6 322.5L314.9 308.9L315.5 300.2L315.5 298.8L313.2 310.9zM315.1 153.1L315.1 135.3L315.9 128.1L317.4 128.1L318.5 142.1L319 150.8L319 156.4L317.5 139.2zM318.6 298.4L318.6 315.7L319.4 322.5L321.3 322.5L322.6 308.9L323.2 300.2L323.2 295.1L321.1 312zM322.8 158.6L322.8 135.3L323.5 128.1L325.1 128.1L326.2 142.1L326.7 150.8L326.7 160.6L324.6 143.8zM326.2 290L326.2 315.7L327.1 322.5L329 322.5L330.2 308.9L330.9 300.2L330.9 289.6L329.1 300.6zM330.4 154.2L330.4 135.3L331.2 128.1L332.8 128.1L333.8 142.1L334.4 150.8L334.4 153.1L332.4 140.2zM333.9 294.6L333.9 315.7L334.7 322.5L336.7 322.5L337.9 308.9L338.6 300.2L338.6 292.7L336.1 306zM338.1 155.1L338.1 135.3L338.9 128.1L340.4 128.1L341.5 142.1L342.1 150.8L342.1 155.2L340.4 146.7zM341.6 297.6L341.6 315.7L342.4 322.5L344.3 322.5L345.6 308.9L346.2 300.2L346.2 296.5L343.5 304.8zM345.8 160.8L345.8 135.3L346.6 128.1L348.1 128.1L349.2 142.1L349.7 150.8L349.7 158.4L347.9 148.4zM349.3 293.8L349.3 315.7L350.1 322.5L352 322.5L353.2 308.9L353.9 300.2L353.9 292.9L351.3 304.6zM353.4 157.8L353.4 135.3L354.2 128.1L355.8 128.1L356.8 142.1L357.4 150.8L357.4 157.1L355.4 143.4zM356.9 294.1L356.9 315.7L357.7 322.5L359.7 322.5L360.9 308.9L361.6 300.2L361.6 295.3L359.5 307.5zM361.1 155.8L361.1 135.3L361.9 128.1L363.5 128.1L364.5 142.1L365.1 150.8L365.1 154.9L363.3 141.6zM364.6 293.1L364.6 315.7L365.4 322.5L367.3 322.5L368.6 308.9L369.2 300.2L369.2 289.1L366.7 306zM368.8 156.7L368.8 135.3L369.6 128.1L371.1 128.1L372.2 142.1L372.7 150.8L372.7 158.9L370.4 145.2zM372.3 290.2L372.3 315.7L373.1 322.5L375 322.5L376.3 308.9L376.9 300.2L376.9 294.2L374.3 306.3zM376.4 152.8L376.4 135.3L377.2 128.1L378.8 128.1L379.9 142.1L380.4 150.8L380.4 154.6L378.4 146zM379.9 299.4L379.9 315.7L380.7 322.5L382.7 322.5L383.9 308.9L384.6 300.2L384.6 296.1L382.6 305zM384.1 156L384.1 135.3L384.9 128.1L386.5 128.1L387.5 142.1L388.1 150.8L388.1 154.8L386.5 141.8zM387.6 291L387.6 315.7L388.4 322.5L390.3 322.5L391.6 308.9L392.2 300.2L392.2 291L390 306.5zM391.8 154.7L391.8 135.3L392.6 128.1L394.1 128.1L395.2 142.1L395.7 150.8L395.7 155.8L393.4 141.7zM395.3 296.9L395.3 315.7L396.1 322.5L398 322.5L399.3 308.9L399.9 300.2L399.9 292.8L398 311.1zM399.5 157.3L399.5 135.3L400.2 128.1L401.8 128.1L402.9 142.1L403.4 150.8L403.4 156.2L401.3 145.8zM403 293.7L403 315.7L403.8 322.5L405.7 322.5L406.9 308.9L407.6 300.2L407.6 292.5L405.5 305.4zM407.1 154.9L407.1 135.3L407.9 128.1L409.5 128.1L410.5 142.1L411.1 150.8L411.1 151.8L408.9 138.9zM410.6 294.6L410.6 315.7L411.4 322.5L413.4 322.5L414.6 308.9L415.2 300.2L415.2 294.4L412.6 303.7zM414.8 155.2L414.8 135.3L415.6 128.1L417.1 128.1L418.2 142.1L418.8 150.8L418.8 153.4L417.2 140.9zM418.3 295.7L418.3 315.7L419.1 322.5L421 322.5L422.3 308.9L422.9 300.2L422.9 294.2L420.2 306.9zM422.5 155.7L422.5 135.3L423.3 128.1L424.8 128.1L425.9 142.1L426.4 150.8L426.4 159.5L424.6 150.2zM426 291.9L426 315.7L426.8 322.5L428.7 322.5L429.9 308.9L430.6 300.2L430.6 291.2L428.4 309zM430.1 157.9L430.1 135.3L430.9 128.1L432.5 128.1L433.5 142.1L434.1 150.8L434.1 158.7L432 148.1zM433.6 295.9L433.6 315.7L434.4 322.5L436.4 322.5L437.6 308.9L438.3 300.2L438.3 297.9L435.6 310.1zM437.8 153.7L437.8 135.3L438.6 128.1L440.2 128.1L441.2 142.1L441.8 150.8L441.8 154L440.2 143.1zM441.3 291.7L441.3 315.7L442.1 322.5L444 322.5L445.3 308.9L445.9 300.2L445.9 291.8L443.2 309.3zM445.5 156L445.5 135.3L446.3 128.1L447.8 128.1L448.9 142.1L449.4 150.8L449.4 154.4L447.8 145.3zM449 295.3L449 315.7L449.8 322.5L451.7 322.5L453 308.9L453.6 300.2L453.6 293.8L451.3 306zM453.1 161.6L453.1 135.3L453.9 128.1L455.5 128.1L456.6 142.1L457.1 150.8L457.1 159L454.7 146.8zM456.6 295.2L456.6 315.7L457.4 322.5L459.4 322.5L460.6 308.9L461.3 300.2L461.3 294.8L458.7 307.6zM460.8 155.3L460.8 135.3L461.6 128.1L463.2 128.1L464.2 142.1L464.8 150.8L464.8 155.9L462.8 148.7zM464.3 293L464.3 315.7L465.1 322.5L467 322.5L468.3 308.9L468.9 300.2L468.9 293.1L466.5 298.9zM468.5 152.7L468.5 135.3L469.3 128.1L470.8 128.1L471.9 142.1L472.4 150.8L472.4 153.2L470.9 143.4zM472 290.7L472 315.7L472.8 322.5L474.7 322.5L476 308.9L476.6 300.2L476.6 293.7L474 301.9zM476.2 157.8L476.2 135.3L476.9 128.1L478.5 128.1L479.6 142.1L480.1 150.8L480.1 158.7L478.2 146zM479.7 288.8L479.7 315.7L480.5 322.5L482.4 322.5L483.6 308.9L484.3 300.2L484.3 289L482.2 298.7zM483.8 155.2L483.8 135.3L484.6 128.1L486.2 128.1L487.2 142.1L487.8 150.8L487.8 155.7L485.7 142.7zM487.3 296.1L487.3 315.7L488.1 322.5L490.1 322.5L491.3 308.9L491.9 300.2L491.9 295.7L489.2 310.6zM491.5 157.7L491.5 135.3L492.3 128.1L493.8 128.1L494.9 142.1L495.4 150.8L495.4 159.7L493.6 147.3zM495 295.3L495 315.7L495.8 322.5L497.7 322.5L499 308.9L499.6 300.2L499.6 292.2L497.1 304.8zM499.2 159L499.2 135.3L500 128.1L501.5 128.1L502.6 142.1L503.1 150.8L503.1 160.9L501.2 150.2zM502.7 290L502.7 315.7L503.5 322.5L505.4 322.5L506.6 308.9L507.3 300.2L507.3 292.9L505.3 300.3zM506.8 154.2L506.8 135.3L507.6 128.1L509.2 128.1L510.2 142.1L510.8 150.8L510.8 153.3L508.7 141.7zM510.3 295.5L510.3 315.7L511.1 322.5L513.1 322.5L514.3 308.9L515 300.2L515 295L512.8 307.2zM514.5 157.8L514.5 135.3L515.3 128.1L516.9 128.1L517.9 142.1L518.5 150.8L518.5 155.5L516.4 146.4zM518 296.2L518 315.7L518.8 322.5L520.7 322.5L522 308.9L522.6 300.2L522.6 294.9L520.1 309.9zM522.2 155.8L522.2 135.3L523 128.1L524.5 128.1L525.6 142.1L526.1 150.8L526.1 156.5L524.3 141.5zM525.7 296L525.7 315.7L526.5 322.5L528.4 322.5L529.6 308.9L530.3 300.2L530.3 295.4L527.8 308.5zM529.8 157.2L529.8 135.3L530.6 128.1L532.2 128.1L533.2 142.1L533.8 150.8L533.8 156L531.8 143.9zM533.3 291.4L533.3 315.7L534.1 322.5L536.1 322.5L537.3 308.9L538 300.2L538 293.6L535.7 304.6zM537.5 153.3L537.5 135.3L538.3 128.1L539.9 128.1L540.9 142.1L541.5 150.8L541.5 152.9L539.3 145zM541 295.6L541 315.7L541.8 322.5L543.7 322.5L545 308.9L545.6 300.2L545.6 298.2L543.8 308.6zM545.2 157.1L545.2 135.3L546 128.1L547.5 128.1L548.6 142.1L549.1 150.8L549.1 155.1L547.6 142.4zM548.7 294.1L548.7 315.7L549.5 322.5L551.4 322.5L552.7 308.9L553.3 300.2L553.3 298L550.9 311.8zM552.8 153.9L552.8 135.3L553.6 128.1L555.2 128.1L556.3 142.1L556.8 150.8L556.8 154.5L554.4 140.3zM556.3 290.8L556.3 315.7L557.1 322.5L559.1 322.5L560.3 308.9L561 300.2L561 290.5L558.9 302.7zM560.5 155.3L560.5 135.3L561.3 128.1L562.9 128.1L563.9 142.1L564.5 150.8L564.5 156.3L563 141.5zM564 290.9L564 315.7L564.8 322.5L566.8 322.5L568 308.9L568.6 300.2L568.6 294.4L566.4 303.2zM568.2 153.8L568.2 135.3L569 128.1L570.5 128.1L571.6 142.1L572.1 150.8L572.1 153.1L570.7 144.7zM571.7 295.8L571.7 315.7L572.5 322.5L574.4 322.5L575.7 308.9L576.3 300.2L576.3 295.1L573.6 309.3zM575.9 155.8L575.9 135.3L576.7 128.1L578.2 128.1L579.3 142.1L579.8 150.8L579.8 157L577.4 140.8zM579.4 290.6L579.4 315.7L580.2 322.5L582.1 322.5L583.3 308.9L584 300.2L584 290.8L581.5 302.8zM583.5 157.7L583.5 135.3L584.3 128.1L585.9 128.1L586.9 142.1L587.5 150.8L587.5 156.7L585 144.5zM587 295.6L587 315.7L587.8 322.5L589.8 322.5L591 308.9L591.7 300.2L591.7 297.4L588.9 309.6zM591.2 155.4L591.2 135.3L592 128.1L593.6 128.1L594.6 142.1L595.2 150.8L595.2 157L593.5 140.3zM594.7 291.9L594.7 315.7L595.5 322.5L597.4 322.5L598.7 308.9L599.3 300.2L599.3 295.7L596.6 305.2zM598.9 159.5L598.9 135.3L599.7 128.1L601.2 128.1L602.3 142.1L602.8 150.8L602.8 155.9L600.9 150.1zM602.4 296.8L602.4 315.7L603.2 322.5L605.1 322.5L606.4 308.9L607 300.2L607 297L604.9 302.9zM606.5 152.7L606.5 135.3L607.3 128.1L608.9 128.1L610 142.1L610.5 150.8L610.5 156.6L609 143.5zM610 296.3L610 315.7L610.8 322.5L612.8 322.5L614 308.9L614.7 300.2L614.7 294.3L612.5 308.6zM614.2 158.3L614.2 135.3L615 128.1L616.6 128.1L617.6 142.1L618.2 150.8L618.2 157.1L616 145.3zM617.7 298L617.7 315.7L618.5 322.5L620.4 322.5L621.7 308.9L622.3 300.2L622.3 293.8L620.1 308.6zM621.9 154.2L621.9 135.3L622.7 128.1L624.2 128.1L625.3 142.1L625.8 150.8L625.8 157L623.7 145.8zM625.4 293.4L625.4 315.7L626.2 322.5L628.1 322.5L629.4 308.9L630 300.2L630 292.4L628 299.6zM629.5 161.4L629.5 135.3L630.3 128.1L631.9 128.1L633 142.1L633.5 150.8L633.5 160.7L631.8 143.9zM633 291L633 315.7L633.8 322.5L635.8 322.5L637 308.9L637.7 300.2L637.7 289.9L634.9 298.8zM637.2 155.6L637.2 135.3L638 128.1L639.6 128.1L640.6 142.1L641.2 150.8L641.2 155.8L639.4 145.1zM640.7 291.1L640.7 315.7L641.5 322.5L643.4 322.5L644.7 308.9L645.3 300.2L645.3 293.5L643.2 300.4zM644.9 158.3L644.9 135.3L645.7 128.1L647.2 128.1L648.3 142.1L648.8 150.8L648.8 158.5L647.1 142.7zM648.4 293.6L648.4 315.7L649.2 322.5L651.1 322.5L652.4 308.9L653 300.2L653 294.3L650.8 307.4zM652.6 160.2L652.6 135.3L653.4 128.1L654.9 128.1L656 142.1L656.5 150.8L656.5 156.9L654.4 146.5zM656.1 295.8L656.1 315.7L656.9 322.5L658.8 322.5L660 308.9L660.7 300.2L660.7 296.3L658.4 303.8zM660.2 159.3L660.2 135.3L661 128.1L662.6 128.1L663.6 142.1L664.2 150.8L664.2 157.4L662.4 142zM663.7 292.4L663.7 315.7L664.5 322.5L666.5 322.5L667.7 308.9L668.4 300.2L668.4 291.2L665.9 299.9zM667.9 156L667.9 135.3L668.7 128.1L670.3 128.1L671.3 142.1L671.9 150.8L671.9 155.2L670.2 148.3zM671.4 296.1L671.4 315.7L672.2 322.5L674.1 322.5L675.4 308.9L676 300.2L676 296.3L673.7 306.4zM675.6 152.2L675.6 135.3L676.4 128.1L677.9 128.1L679 142.1L679.5 150.8L679.5 151L677.7 140.4zM679.1 293.4L679.1 315.7L679.9 322.5L681.8 322.5L683 308.9L683.7 300.2L683.7 292.2L681.6 301.4zM683.2 159.1L683.2 135.3L684 128.1L685.6 128.1L686.6 142.1L687.2 150.8L687.2 159.1L685 149.5zM686.7 297.4L686.7 315.7L687.5 322.5L689.5 322.5L690.7 308.9L691.4 300.2L691.4 296.8L689.3 307.2zM690.9 153.1L690.9 135.3L691.7 128.1L693.3 128.1L694.3 142.1L694.9 150.8L694.9 153.4L693.1 141.5zM694.4 296L694.4 315.7L695.2 322.5L697.1 322.5L698.4 308.9L699 300.2L699 295.6L696.9 303.5zM698.6 155.8L698.6 135.3L699.4 128.1L700.9 128.1L702 142.1L702.5 150.8L702.5 154.9L700.8 141.1zM702.1 298.9L702.1 315.7L702.9 322.5L704.8 322.5L706.1 308.9L706.7 300.2L706.7 298.8L704.8 307.2zM706.2 154L706.2 135.3L707 128.1L708.6 128.1L709.7 142.1L710.2 150.8L710.2 154.6L708 147.3zM709.7 293.7L709.7 315.7L710.5 322.5L712.5 322.5L713.7 308.9L714.4 300.2L714.4 293.8L711.7 304.6zM713.9 158.5L713.9 135.3L714.7 128.1L716.3 128.1L717.3 142.1L717.9 150.8L717.9 160.7L716.1 150zM717.4 296.3L717.4 315.7L718.2 322.5L720.1 322.5L721.4 308.9L722 300.2L722 295.4L720.1 310.5zM721.6 154L721.6 135.3L722.4 128.1L723.9 128.1L725 142.1L725.5 150.8L725.5 154.7L724 141.3zM725.1 295.9L725.1 315.7L725.9 322.5L727.8 322.5L729.1 308.9L729.7 300.2L729.7 295.6L727.5 304.4zM729.3 159.4L729.3 135.3L730.1 128.1L731.6 128.1L732.7 142.1L733.2 150.8L733.2 160L730.8 149zM732.8 292.2L732.8 315.7L733.6 322.5L735.5 322.5L736.7 308.9L737.4 300.2L737.4 289.8L735.4 301.1zM736.9 158.7L736.9 135.3L737.7 128.1L739.3 128.1L740.3 142.1L740.9 150.8L740.9 157.7L739.1 145.2zM740.4 291L740.4 315.7L741.2 322.5L743.2 322.5L744.4 308.9L745.1 300.2L745.1 290.9L742.8 306.2zM744.6 154.6L744.6 135.3L745.4 128.1L747 128.1L748 142.1L748.6 150.8L748.6 154.5L746.5 144.6zM748.1 291.1L748.1 315.7L748.9 322.5L750.8 322.5L752.1 308.9L752.7 300.2L752.7 295.6L750.2 302.8zM752.3 155.3L752.3 135.3L753.1 128.1L754.6 128.1L755.7 142.1L756.2 150.8L756.2 158.9L754.1 149.5zM755.8 293.7L755.8 315.7L756.6 322.5L758.5 322.5L759.8 308.9L760.4 300.2L760.4 292.4L758.1 303.8zM759.9 161.3L759.9 135.3L760.7 128.1L762.3 128.1L763.4 142.1L763.9 150.8L763.9 157.6L761.8 145zM763.4 295.3L763.4 315.7L764.2 322.5L766.2 322.5L767.4 308.9L768.1 300.2L768.1 297.8L765.9 312.1zM767.6 158.4L767.6 135.3L768.4 128.1L770 128.1L771 142.1L771.6 150.8L771.6 159.5L769.6 150.9zM771.1 290.4L771.1 315.7L771.9 322.5L773.8 322.5L775.1 308.9L775.7 300.2L775.7 292.6L773.2 306.7zM775.3 155.5L775.3 135.3L776.1 128.1L777.6 128.1L778.7 142.1L779.2 150.8L779.2 151.9L777.6 140.4zM778.8 296.5L778.8 315.7L779.6 322.5L781.5 322.5L782.8 308.9L783.4 300.2L783.4 296.7L781.3 304.8zM782.9 157.3L782.9 135.3L783.7 128.1L785.3 128.1L786.4 142.1L786.9 150.8L786.9 158.3L784.9 143zM786.4 294.7L786.4 315.7L787.2 322.5L789.2 322.5L790.4 308.9L791.1 300.2L791.1 293.3L788.6 308zM790.6 155.1L790.6 135.3L791.4 128.1L793 128.1L794 142.1L794.6 150.8L794.6 154.6L792.5 144.7zM794.1 297.4L794.1 315.7L794.9 322.5L796.9 322.5L798.1 308.9L798.8 300.2L798.8 295.5L796.8 308.4zM798.3 155.2L798.3 135.3L799.1 128.1L800.6 128.1L801.7 142.1L802.2 150.8L802.2 155.7L800.1 144.5zM801.8 293.3L801.8 315.7L802.6 322.5L804.5 322.5L805.8 308.9L806.4 300.2L806.4 290L804.3 302.7zM806 157L806 135.3L806.8 128.1L808.3 128.1L809.4 142.1L809.9 150.8L809.9 158.6L808.1 151.5zM809.5 291.8L809.5 315.7L810.3 322.5L812.2 322.5L813.4 308.9L814.1 300.2L814.1 293.7L812 308.4zM813.6 161.3L813.6 135.3L814.4 128.1L816 128.1L817 142.1L817.6 150.8L817.6 160.4L815.2 143.7zM817.1 296.6L817.1 315.7L817.9 322.5L819.9 322.5L821.1 308.9L821.8 300.2L821.8 296.5L819.5 303.7zM821.3 153.3L821.3 135.3L822.1 128.1L823.7 128.1L824.7 142.1L825.3 150.8L825.3 153.2L823.6 145.2zM824.8 296.6L824.8 315.7L825.6 322.5L827.5 322.5L828.8 308.9L829.4 300.2L829.4 295.4L827.6 309.9zM829 158.3L829 135.3L829.8 128.1L831.3 128.1L832.4 142.1L832.9 150.8L832.9 159.2L831.4 144.3zM832.5 294.1L832.5 315.7L833.3 322.5L835.2 322.5L836.4 308.9L837.1 300.2L837.1 291.4L835.1 308.5zM836.6 155.9L836.6 135.3L837.4 128.1L839 128.1L840 142.1L840.6 150.8L840.6 155.4L838.3 140.9zM840.1 295.5L840.1 315.7L840.9 322.5L842.9 322.5L844.1 308.9L844.8 300.2L844.8 293.7L842.2 305zM844.3 155.7L844.3 135.3L845.1 128.1L846.7 128.1L847.7 142.1L848.3 150.8L848.3 154.5L845.8 141.3zM847.8 290.2L847.8 315.7L848.6 322.5L850.5 322.5L851.8 308.9L852.4 300.2L852.4 293.1L850.1 301.6zM852 153.4L852 135.3L852.8 128.1L854.3 128.1L855.4 142.1L855.9 150.8L855.9 157.5L853.7 144.6zM855.5 295.5L855.5 315.7L856.3 322.5L858.2 322.5L859.5 308.9L860.1 300.2L860.1 296.4L857.3 304.2zM859.6 158.9L859.6 135.3L860.4 128.1L862 128.1L863.1 142.1L863.6 150.8L863.6 157L861.5 146.4zM863.1 296.4L863.1 315.7L863.9 322.5L865.9 322.5L867.1 308.9L867.8 300.2L867.8 298.7L865.5 306.4zM867.3 156.2L867.3 135.3L868.1 128.1L869.7 128.1L870.7 142.1L871.3 150.8L871.3 155.3L868.8 140.2zM870.8 290.7L870.8 315.7L871.6 322.5L873.5 322.5L874.8 308.9L875.4 300.2L875.4 289.5L873.5 302.4zM875 154.1L875 135.3L875.8 128.1L877.3 128.1L878.4 142.1L878.9 150.8L878.9 154.8L876.6 143.3zM878.5 290L878.5 315.7L879.3 322.5L881.2 322.5L882.5 308.9L883.1 300.2L883.1 289.1L881.2 302.2zM882.7 156.6L882.7 135.3L883.5 128.1L885 128.1L886.1 142.1L886.6 150.8L886.6 156.3L884.5 150.3zM886.2 295L886.2 315.7L887 322.5L888.9 322.5L890.1 308.9L890.8 300.2L890.8 293.5L888.2 307.1zM890.3 157.1L890.3 135.3L891.1 128.1L892.7 128.1L893.7 142.1L894.3 150.8L894.3 158.7L891.9 150.1zM893.8 297.6L893.8 315.7L894.6 322.5L896.6 322.5L897.8 308.9L898.5 300.2L898.5 297.5L895.7 311.2zM898 156L898 135.3L898.8 128.1L900.4 128.1L901.4 142.1L902 150.8L902 158.7L899.6 146.5zM901.5 295.2L901.5 315.7L902.2 322.5L903.5 322.5L904.5 308.9L905 300.2L905 296.3L903.4 307.6z" fill="#777777" stroke="#777777" stroke-width="0.5"/>
<path d="M215.8 300.2V133.4M219.3 150.8V317.6M223.5 300.2V133.4M227 150.8V317.6M231.2 300.2V133.4M234.7 150.8V317.6M238.8 300.2V133.4M242.3 150.8V317.6M246.5 300.2V133.4M250 150.8V317.6M254.2 300.2V133.4M257.7 150.8V317.6M261.9 300.2V133.4M265.4 150.8V317.6M269.5 300.2V133.4M273 150.8V317.6M277.2 300.2V133.4M280.7 150.8V317.6M284.9 300.2V133.4M288.4 150.8V317.6M292.5 300.2V133.4M296 150.8V317.6M300.2 300.2V133.4M303.7 150.8V317.6M307.9 300.2V133.4M311.4 150.8V317.6M315.5 300.2V133.4M319 150.8V317.6M323.2 300.2V133.4M326.7 150.8V317.6M330.9 300.2V133.4M334.4 150.8V317.6M338.6 300.2V133.4M342.1 150.8V317.6M346.2 300.2V133.4M349.7 150.8V317.6M353.9 300.2V133.4M357.4 150.8V317.6M361.6 300.2V133.4M365.1 150.8V317.6M369.2 300.2V133.4M372.7 150.8V317.6M376.9 300.2V133.4M380.4 150.8V317.6M384.6 300.2V133.4M388.1 150.8V317.6M392.2 300.2V133.4M395.7 150.8V317.6M399.9 300.2V133.4M403.4 150.8V317.6M407.6 300.2V133.4M411.1 150.8V317.6M415.2 300.2V133.4M418.8 150.8V317.6M422.9 300.2V133.4M426.4 150.8V317.6M430.6 300.2V133.4M434.1 150.8V317.6M438.3 300.2V133.4M441.8 150.8V317.6M445.9 300.2V133.4M449.4 150.8V317.6M453.6 300.2V133.4M457.1 150.8V317.6M461.3 300.2V133.4M464.8 150.8V317.6M468.9 300.2V133.4M472.4 150.8V317.6M476.6 300.2V133.4M480.1 150.8V317.6M484.3 300.2V133.4M487.8 150.8V317.6M491.9 300.2V133.4M495.4 150.8V317.6M499.6 300.2V133.4M503.1 150.8V317.6M507.3 300.2V133.4M510.8 150.8V317.6M515 300.2V133.4M518.5 150.8V317.6M522.6 300.2V133.4M526.1 150.8V317.6M530.3 300.2V133.4M533.8 150.8V317.6M538 300.2V133.4M541.5 150.8V317.6M545.6 300.2V133.4M549.1 150.8V317.6M553.3 300.2V133.4M556.8 150.8V317.6M561 300.2V133.4M564.5 150.8V317.6M568.6 300.2V133.4M572.1 150.8V317.6M576.3 300.2V133.4M579.8 150.8V317.6M584 300.2V133.4M587.5 150.8V317.6M591.7 300.2V133.4M595.2 150.8V317.6M599.3 300.2V133.4M602.8 150.8V317.6M607 300.2V133.4M610.5 150.8V317.6M614.7 300.2V133.4M618.2 150.8V317.6M622.3 300.2V133.4M625.8 150.8V317.6M630 300.2V133.4M633.5 150.8V317.6M637.7 300.2V133.4M641.2 150.8V317.6M645.3 300.2V133.4M648.8 150.8V317.6M653 300.2V133.4M656.5 150.8V317.6M660.7 300.2V133.4M664.2 150.8V317.6M668.4 300.2V133.4M671.9 150.8V317.6M676 300.2V133.4M679.5 150.8V317.6M683.7 300.2V133.4M687.2 150.8V317.6M691.4 300.2V133.4M694.9 150.8V317.6M699 300.2V133.4M702.5 150.8V317.6M706.7 300.2V133.4M710.2 150.8V317.6M714.4 300.2V133.4M717.9 150.8V317.6M722 300.2V133.4M725.5 150.8V317.6M729.7 300.2V133.4M733.2 150.8V317.6M737.4 300.2V133.4M740.9 150.8V317.6M745.1 300.2V133.4M748.6 150.8V317.6M752.7 300.2V133.4M756.2 150.8V317.6M760.4 300.2V133.4M763.9 150.8V317.6M768.1 300.2V133.4M771.6 150.8V317.6M775.7 300.2V133.4M779.2 150.8V317.6M783.4 300.2V133.4M786.9 150.8V317.6M791.1 300.2V133.4M794.6 150.8V317.6M798.8 300.2V133.4M802.2 150.8V317.6M806.4 300.2V133.4M809.9 150.8V317.6M814.1 300.2V133.4M817.6 150.8V317.6M821.8 300.2V133.4M825.3 150.8V317.6M829.4 300.2V133.4M832.9 150.8V317.6M837.1 300.2V133.4M840.6 150.8V317.6M844.8 300.2V133.4M848.3 150.8V317.6M852.4 300.2V133.4M855.9 150.8V317.6M860.1 300.2V133.4M863.6 150.8V317.6M867.8 300.2V133.4M871.3 150.8V317.6M875.4 300.2V133.4M878.9 150.8V317.6M883.1 300.2V133.4M886.6 150.8V317.6M890.8 300.2V133.4M894.3 150.8V317.6M898.5 300.2V133.4M902 150.8V317.6" stroke="#777777" stroke-width="1.39"/>
<path d="M139 128.1L139.3 128.1L139.7 128.1L140 128.1L140.4 128.1L140.7 128.1L141.1 128.1L141.4 128.1L141.8 128.1L142.1 128.1L142.5 128.1L142.8 128.1L143.2 128.1L143.5 128.1L143.9 132.6L144.2 137.4L144.6 139.3L144.9 134.5L145.3 129.7L145.6 128.1L146 128.1L146.3 128.1L146.7 128.1L147 128.1L147.4 128.1L147.7 128.1L148.1 128.1L148.4 128.1L148.8 128.1L149.1 128.1L149.5 128.1L149.8 128.1L150.2 128.1L150.5 128.1L150.9 128.1L151.2 128.1L151.6 132.7L151.9 137.5L152.3 139.1L152.6 134.4L153 129.6L153.3 128.1L153.7 128.1L154 128.1L154.4 128.1L154.7 128.1L155.1 128.1L155.4 128.1L155.8 128.1L156.1 128.1L156.5 128.1L156.8 128.1L157.1 128.1L157.5 128.1L157.8 128.1L158.2 128.1L158.5 128.1L158.9 128.1L159.2 132.9L159.6 137.6L159.9 139L160.3 134.2L160.6 129.5L161 128.1L161.3 128.1L161.7 128.1L162 128.1L162.4 128.1L162.7 128.1L163.1 128.1L163.4 128.1L163.8 128.1L164.1 128.1L164.5 128.1L164.8 128.1L165.2 128.1L165.5 128.1L165.9 128.1L166.2 128.1L166.6 128.2L166.9 133L167.3 137.8L167.6 138.9L168 134.1L168.3 129.3L168.7 128.1L169 128.1L169.4 128.1L169.7 128.1L170.1 128.1L170.4 128.1L170.8 128.1L171.1 128.1L171.5 128.1L171.8 128.1L172.2 128.1L172.5 128.1L172.9 128.1L173.2 128.1L173.6 128.1L173.9 128.1L174.3 128.3L174.6 133.1L174.9 137.9L174.9 164.4L174.6 164.4L174.3 164.4L173.9 164.4L173.6 164.4L173.2 164.4L172.9 164.4L172.5 164.4L172.2 161.6L171.8 157.5L171.5 153.3L171.1 149.2L170.8 145.1L170.4 141L170.1 137.6L169.7 141.7L169.4 145.8L169 150L168.7 154.1L168.3 158.2L168 162.3L167.6 164.4L167.3 164.4L166.9 164.4L166.6 164.4L166.2 164.4L165.9 164.4L165.5 164.4L165.2 164.4L164.8 164.4L164.5 161.5L164.1 157.4L163.8 153.2L163.4 149.1L163.1 145L162.7 140.9L162.4 137.7L162 141.8L161.7 145.9L161.3 150.1L161 154.2L160.6 158.3L160.3 162.4L159.9 164.4L159.6 164.4L159.2 164.4L158.9 164.4L158.5 164.4L158.2 164.4L157.8 164.4L157.5 164.4L157.1 164.4L156.8 161.4L156.5 157.3L156.1 153.1L155.8 149L155.4 144.9L155.1 140.8L154.7 137.8L154.4 141.9L154 146L153.7 150.2L153.3 154.3L153 158.4L152.6 162.5L152.3 164.4L151.9 164.4L151.6 164.4L151.2 164.4L150.9 164.4L150.5 164.4L150.2 164.4L149.8 164.4L149.5 164.4L149.1 161.3L148.8 157.2L148.4 153L148.1 148.9L147.7 144.8L147.4 140.7L147 137.9L146.7 142L146.3 146.1L146 150.3L145.6 154.4L145.3 158.5L144.9 162.6L144.6 164.4L144.2 164.4L143.9 164.4L143.5 164.4L143.2 164.4L142.8 164.4L142.5 164.4L142.1 164.4L141.8 164.4L141.4 161.2L141.1 157.1L140.7 152.9L140.4 148.8L140 144.7L139.7 140.6L139.3 138L139 142.1zM174.5 291.9L174.8 296.9L175.2 301.8L175.5 306.8L175.9 311.7L176.2 316.7L176.6 321.6L176.9 322.5L177.2 322.5L177.6 322.5L177.9 322.5L178.3 322.5L178.6 322.5L179 322.5L179.3 322.5L179.7 322.5L180 317.8L180.4 312.8L180.7 307.9L181.1 302.9L181.4 297.9L181.7 293L182.1 291L182.4 296L182.8 300.9L183.1 305.9L183.5 310.8L183.8 315.8L184.2 320.8L184.5 322.5L184.9 322.5L185.2 322.5L185.2 286.6L184.9 286.6L184.5 286.6L184.2 286.6L183.8 286.6L183.5 286.6L183.1 288.7L182.8 293L182.4 297.4L182.1 301.8L181.7 300L181.4 295.7L181.1 291.3L180.7 286.9L180.4 286.6L180 286.6L179.7 286.6L179.3 286.6L179 286.6L178.6 286.6L178.3 286.6L177.9 286.6L177.6 286.6L177.2 286.6L176.9 286.6L176.6 286.6L176.2 286.6L175.9 286.6L175.5 287.9L175.2 292.2L174.8 296.6L174.5 301zM184.7 128.1L185.1 128.1L185.4 128.1L185.8 128.1L186.1 128.1L186.5 128.1L186.8 128.1L187.2 128.1L187.5 128.1L187.9 128.1L188.2 128.1L188.6 128.1L188.9 128.1L189.3 128.1L189.6 128.4L189.9 133.2L190.3 138L190.6 138.7L191 133.9L191.3 129.2L191.7 128.1L192 128.1L192.4 128.1L192.7 128.1L193.1 128.1L193.4 128.1L193.8 128.1L194.1 128.1L194.5 128.1L194.8 128.1L195.2 128.1L195.5 128.1L195.9 128.1L196.2 128.1L196.6 128.1L196.9 128.1L197.3 128.2L197.6 133L197.9 137.7L198.3 138.9L198.6 134.2L199 129.4L199.3 128.1L199.7 128.1L200 128.1L200.4 128.1L200.7 128.1L201.1 128.1L201.4 128.1L201.8 128.1L202.1 128.1L202.5 128.1L202.8 128.1L203.2 128.1L203.5 128.1L203.9 128.1L204.2 128.1L204.6 128.1L204.9 128.1L205.3 132.7L205.6 137.5L205.9 139.2L205.9 164.4L205.6 164.4L205.3 164.4L204.9 164.4L204.6 164.4L204.2 164.4L203.9 164.4L203.5 164.4L203.2 164.4L202.8 161.4L202.5 157.3L202.1 153.1L201.8 149L201.4 144.9L201.1 140.8L200.7 137.7L200.4 141.8L200 146L199.7 150.1L199.3 154.2L199 158.3L198.6 162.4L198.3 164.4L197.9 164.4L197.6 164.4L197.3 164.4L196.9 164.4L196.6 164.4L196.2 164.4L195.9 164.4L195.5 164.4L195.2 161.6L194.8 157.5L194.5 153.3L194.1 149.2L193.8 145.1L193.4 141L193.1 137.5L192.7 141.6L192.4 145.8L192 149.9L191.7 154L191.3 158.1L191 162.2L190.6 164.4L190.3 164.4L189.9 164.4L189.6 164.4L189.3 164.4L188.9 164.4L188.6 164.4L188.2 164.4L187.9 164.4L187.5 161.8L187.2 157.7L186.8 153.5L186.5 149.4L186.1 145.3L185.8 141.2L185.4 137.3L185.1 141.4L184.7 145.6zM205.5 291.3L205.5 315.7L206.1 322.5L207.3 322.5L208.2 308.9L208.7 300.2L208.7 289.7L207.1 303.6zM208.2 157.2L208.2 135.3L209 128.1L210.4 128.1L211.4 142.1L211.9 150.8L211.9 159.6L209.7 150.6zM211.5 294.5L211.5 315.7L212.3 322.5L214 322.5L215.2 308.9L215.9 300.2L215.9 295.9L214.1 301.2zM215.4 157.9L215.4 135.3L216.2 128.1L217.8 128.1L218.8 142.1L219.4 150.8L219.4 160.8L217.4 149.8zM218.9 287L218.9 315.7L219.7 322.5L221.6 322.5L222.9 308.9L223.5 300.2L223.5 286.2L221.2 297.9zM223.1 158.3L223.1 135.3L223.9 128.1L225.4 128.1L226.5 142.1L227 150.8L227 159.3L225.1 148.1zM226.6 292.4L226.6 315.7L227.4 322.5L229.3 322.5L230.6 308.9L231.2 300.2L231.2 295L229.4 302.3zM230.8 156.2L230.8 135.3L231.5 128.1L233.1 128.1L234.2 142.1L234.7 150.8L234.7 158.5L232.5 147.2zM234.3 289.8L234.3 315.7L235.1 322.5L237 322.5L238.2 308.9L238.9 300.2L238.9 290.2L236.5 299.3zM238.4 154.7L238.4 135.3L239.2 128.1L240.8 128.1L241.8 142.1L242.4 150.8L242.4 157.8L240.8 149.2zM241.9 293.6L241.9 315.7L242.7 322.5L244.7 322.5L245.9 308.9L246.6 300.2L246.6 289.2L244.4 302zM246.1 158.8L246.1 135.3L246.9 128.1L248.5 128.1L249.5 142.1L250.1 150.8L250.1 158.5L248.5 149.6zM249.6 291.4L249.6 315.7L250.4 322.5L252.3 322.5L253.6 308.9L254.2 300.2L254.2 291.3L251.5 302.6zM253.8 159.1L253.8 135.3L254.6 128.1L256.1 128.1L257.2 142.1L257.7 150.8L257.7 157.8L255.4 145.4zM257.3 291.2L257.3 315.7L258.1 322.5L260 322.5L261.3 308.9L261.9 300.2L261.9 291.2L259.5 305.9zM261.4 162.6L261.4 135.3L262.2 128.1L263.8 128.1L264.9 142.1L265.4 150.8L265.4 160L263.2 145.7zM264.9 292.7L264.9 315.7L265.7 322.5L267.7 322.5L268.9 308.9L269.6 300.2L269.6 295.8L267.4 304.8zM269.1 159.9L269.1 135.3L269.9 128.1L271.5 128.1L272.5 142.1L273.1 150.8L273.1 163.4L271.4 153.1zM272.6 289.3L272.6 315.7L273.4 322.5L275.3 322.5L276.6 308.9L277.2 300.2L277.2 288.3L275 298.2zM276.8 160.8L276.8 135.3L277.6 128.1L279.1 128.1L280.2 142.1L280.7 150.8L280.7 161.5L279.2 150.8zM280.3 291.7L280.3 315.7L281.1 322.5L283 322.5L284.3 308.9L284.9 300.2L284.9 289.8L282.2 306.2zM284.4 155.2L284.4 135.3L285.2 128.1L286.8 128.1L287.9 142.1L288.4 150.8L288.4 158.3L286.7 147.3zM287.9 293L287.9 315.7L288.7 322.5L290.7 322.5L291.9 308.9L292.6 300.2L292.6 296.3L290.4 310zM292.1 162L292.1 135.3L292.9 128.1L294.5 128.1L295.5 142.1L296.1 150.8L296.1 157.8L293.8 152.5zM295.6 291.7L295.6 315.7L296.4 322.5L298.4 322.5L299.6 308.9L300.2 300.2L300.2 293.3L297.7 307.3zM299.8 160.7L299.8 135.3L300.6 128.1L302.1 128.1L303.2 142.1L303.8 150.8L303.8 163.1L301.8 153.9zM303.3 294.4L303.3 315.7L304.1 322.5L306 322.5L307.3 308.9L307.9 300.2L307.9 295.9L305.3 303.6zM307.4 163.9L307.4 135.3L308.2 128.1L309.8 128.1L310.9 142.1L311.4 150.8L311.4 165L309.1 151.7zM310.9 290.9L310.9 315.7L311.8 322.5L313.7 322.5L314.9 308.9L315.6 300.2L315.6 289.9L313.7 299zM315.1 155.5L315.1 135.3L315.9 128.1L317.5 128.1L318.5 142.1L319.1 150.8L319.1 155.9L316.7 143zM318.6 286L318.6 315.7L319.4 322.5L321.4 322.5L322.6 308.9L323.3 300.2L323.3 289.3L321.4 303.5zM322.8 162.1L322.8 135.3L323.6 128.1L325.2 128.1L326.2 142.1L326.8 150.8L326.8 161.7L324.6 151.3zM326.3 292.8L326.3 315.7L327.1 322.5L329 322.5L330.3 308.9L330.9 300.2L330.9 296L329 306.9zM330.5 156.9L330.5 135.3L331.3 128.1L332.8 128.1L333.9 142.1L334.4 150.8L334.4 155.9L332.3 143.7zM334 294.7L334 315.7L334.8 322.5L336.7 322.5L338 308.9L338.6 300.2L338.6 292.3L336.6 307.6zM338.1 156.7L338.1 135.3L338.9 128.1L340.5 128.1L341.6 142.1L342.1 150.8L342.1 157.6L340.2 144.3zM341.6 290.2L341.6 315.7L342.4 322.5L344.4 322.5L345.6 308.9L346.3 300.2L346.3 294.6L344.3 305.1zM345.8 158.5L345.8 135.3L346.6 128.1L348.2 128.1L349.2 142.1L349.8 150.8L349.8 157.6L347.7 144.3zM349.3 291.7L349.3 315.7L350.1 322.5L352 322.5L353.3 308.9L353.9 300.2L353.9 291.5L351.7 307.6zM353.5 161L353.5 135.3L354.3 128.1L355.8 128.1L356.9 142.1L357.4 150.8L357.4 159.7L355.6 146.3zM357 293.1L357 315.7L357.8 322.5L359.7 322.5L361 308.9L361.6 300.2L361.6 293.3L359.5 301.7zM361.1 163.2L361.1 135.3L361.9 128.1L363.5 128.1L364.6 142.1L365.1 150.8L365.1 160.8L363.1 146.4zM364.6 293.3L364.6 315.7L365.4 322.5L367.4 322.5L368.6 308.9L369.3 300.2L369.3 292.7L366.9 307.2zM368.8 155.5L368.8 135.3L369.6 128.1L371.2 128.1L372.2 142.1L372.8 150.8L372.8 158L370.9 142.5zM372.3 288.4L372.3 315.7L373.1 322.5L375.1 322.5L376.3 308.9L377 300.2L377 291.8L375 301.8zM376.5 155.9L376.5 135.3L377.3 128.1L378.9 128.1L379.9 142.1L380.5 150.8L380.5 159.7L378.4 148.4zM380 288.5L380 315.7L380.8 322.5L382.7 322.5L384 308.9L384.6 300.2L384.6 290.5L382.3 300.8zM384.1 159.1L384.1 135.3L384.9 128.1L386.5 128.1L387.6 142.1L388.1 150.8L388.1 161L385.7 144.9zM387.6 290.1L387.6 315.7L388.4 322.5L390.4 322.5L391.6 308.9L392.3 300.2L392.3 289.3L390 295.9zM391.8 159.4L391.8 135.3L392.6 128.1L394.2 128.1L395.2 142.1L395.8 150.8L395.8 162.6L393.8 153.4zM395.3 289.8L395.3 315.7L396.1 322.5L398.1 322.5L399.3 308.9L400 300.2L400 286.5L397.2 297.6zM399.5 158.9L399.5 135.3L400.3 128.1L401.9 128.1L402.9 142.1L403.5 150.8L403.5 157.9L401.8 145.9zM403 295.5L403 315.7L403.8 322.5L405.7 322.5L407 308.9L407.6 300.2L407.6 294.5L405 303.6zM407.2 163L407.2 135.3L408 128.1L409.5 128.1L410.6 142.1L411.1 150.8L411.1 164.4L408.9 149.4zM410.7 291.4L410.7 315.7L411.5 322.5L413.4 322.5L414.7 308.9L415.3 300.2L415.3 291L413.2 302.2zM414.8 158.8L414.8 135.3L415.6 128.1L417.2 128.1L418.2 142.1L418.8 150.8L418.8 162.3L417.2 145.1zM418.3 291.2L418.3 315.7L419.1 322.5L421.1 322.5L422.3 308.9L423 300.2L423 293.6L421.1 304.2zM422.5 160L422.5 135.3L423.3 128.1L424.9 128.1L425.9 142.1L426.5 150.8L426.5 158.9L424.9 145.4zM426 291.9L426 315.7L426.8 322.5L428.7 322.5L430 308.9L430.6 300.2L430.6 292.3L428.6 300.3zM430.2 157.5L430.2 135.3L431 128.1L432.5 128.1L433.6 142.1L434.1 150.8L434.1 156.6L432.6 149.4zM433.7 294.9L433.7 315.7L434.5 322.5L436.4 322.5L437.7 308.9L438.3 300.2L438.3 293.8L436.4 308.9zM437.8 157.9L437.8 135.3L438.6 128.1L440.2 128.1L441.3 142.1L441.8 150.8L441.8 157.4L439.9 149.1zM441.3 293.2L441.3 315.7L442.1 322.5L444.1 322.5L445.3 308.9L446 300.2L446 294.8L443.2 300.8zM445.5 159.1L445.5 135.3L446.3 128.1L447.9 128.1L448.9 142.1L449.5 150.8L449.5 156.1L447.1 147.3zM449 289.2L449 315.7L449.8 322.5L451.8 322.5L453 308.9L453.7 300.2L453.7 290.7L451.5 302.7zM453.2 156.5L453.2 135.3L454 128.1L455.6 128.1L456.6 142.1L457.2 150.8L457.2 158.5L454.9 141zM456.7 290.6L456.7 315.7L457.5 322.5L459.4 322.5L460.7 308.9L461.3 300.2L461.3 292.3L459 305.3zM460.8 156.9L460.8 135.3L461.6 128.1L463.2 128.1L464.3 142.1L464.8 150.8L464.8 157.8L463.2 147.2zM464.3 292.8L464.3 315.7L465.1 322.5L467.1 322.5L468.3 308.9L469 300.2L469 296.5L466.7 308.9zM468.5 160.5L468.5 135.3L469.3 128.1L470.9 128.1L471.9 142.1L472.5 150.8L472.5 159L470.6 147.1zM472 290.5L472 315.7L472.8 322.5L474.8 322.5L476 308.9L476.7 300.2L476.7 287.8L474.6 300zM476.2 159.2L476.2 135.3L477 128.1L478.6 128.1L479.6 142.1L480.2 150.8L480.2 161.2L478.2 145.8zM479.7 293.1L479.7 315.7L480.5 322.5L482.4 322.5L483.7 308.9L484.3 300.2L484.3 289.8L482 306.2zM483.9 162.4L483.9 135.3L484.7 128.1L486.2 128.1L487.3 142.1L487.8 150.8L487.8 160.1L485.8 147.7zM487.4 288.7L487.4 315.7L488.2 322.5L490.1 322.5L491.4 308.9L492 300.2L492 292.3L489.3 302.9zM491.5 160L491.5 135.3L492.3 128.1L493.9 128.1L494.9 142.1L495.5 150.8L495.5 159L493.7 148.7zM495 289.6L495 315.7L495.8 322.5L497.8 322.5L499 308.9L499.7 300.2L499.7 288.3L497.6 302.9zM499.2 162.1L499.2 135.3L500 128.1L501.6 128.1L502.6 142.1L503.2 150.8L503.2 163.6L501.2 152.6zM502.7 290.4L502.7 315.7L503.5 322.5L505.4 322.5L506.7 308.9L507.3 300.2L507.3 291.2L504.7 301.9zM506.9 160.9L506.9 135.3L507.7 128.1L509.2 128.1L510.3 142.1L510.8 150.8L510.8 161.4L509.2 148.7zM510.4 293.9L510.4 315.7L511.2 322.5L513.1 322.5L514.4 308.9L515 300.2L515 293.4L513 301.5zM514.5 157.7L514.5 135.3L515.3 128.1L516.9 128.1L518 142.1L518.5 150.8L518.5 154.8L516.2 146.8zM518 296.7L518 315.7L518.8 322.5L520.8 322.5L522 308.9L522.7 300.2L522.7 293.6L520.6 303.3zM522.2 163.1L522.2 135.3L523 128.1L524.6 128.1L525.6 142.1L526.2 150.8L526.2 161.6L524.5 146.6zM525.7 288.4L525.7 315.7L526.5 322.5L528.5 322.5L529.7 308.9L530.4 300.2L530.4 286.6L527.7 302.2zM529.9 156.3L529.9 135.3L530.7 128.1L532.2 128.1L533.3 142.1L533.9 150.8L533.9 160.2L531.9 142.6zM533.4 293.2L533.4 315.7L534.2 322.5L536.1 322.5L537.4 308.9L538 300.2L538 291.7L535.3 306.5zM537.6 164.5L537.6 135.3L538.3 128.1L539.9 128.1L541 142.1L541.5 150.8L541.5 162.1L539.6 150.1zM541.1 287.5L541.1 315.7L541.9 322.5L543.8 322.5L545 308.9L545.7 300.2L545.7 290.7L543.9 298.1zM545.2 158.6L545.2 135.3L546 128.1L547.6 128.1L548.6 142.1L549.2 150.8L549.2 154.5L547.2 148.8zM548.7 292.4L548.7 315.7L549.5 322.5L551.5 322.5L552.7 308.9L553.4 300.2L553.4 293.3L551 304.6zM552.9 161.2L552.9 135.3L553.7 128.1L555.3 128.1L556.3 142.1L556.9 150.8L556.9 157.2L554.6 145.5zM556.4 292.3L556.4 315.7L557.2 322.5L559.1 322.5L560.4 308.9L561 300.2L561 289.7L558.4 302zM560.6 161.8L560.6 135.3L561.4 128.1L562.9 128.1L564 142.1L564.5 150.8L564.5 158L562.7 144.4zM564.1 294.5L564.1 315.7L564.9 322.5L566.8 322.5L568.1 308.9L568.7 300.2L568.7 294.4L566.4 304.7zM568.2 154.8L568.2 135.3L569 128.1L570.6 128.1L571.7 142.1L572.2 150.8L572.2 154.3L570.5 146.7zM571.7 294.9L571.7 315.7L572.5 322.5L574.5 322.5L575.7 308.9L576.4 300.2L576.4 295.3L574.4 304.2zM575.9 156.9L575.9 135.3L576.7 128.1L578.3 128.1L579.3 142.1L579.9 150.8L579.9 158.7L578.1 144.3zM579.4 287.8L579.4 315.7L580.2 322.5L582.1 322.5L583.4 308.9L584 300.2L584 286.2L581.6 299.9zM583.6 158L583.6 135.3L584.4 128.1L585.9 128.1L587 142.1L587.5 150.8L587.5 156.4L585.7 149.3zM587.1 291.1L587.1 315.7L587.9 322.5L589.8 322.5L591.1 308.9L591.7 300.2L591.7 290.5L589.3 302.6zM591.2 155.5L591.2 135.3L592 128.1L593.6 128.1L594.7 142.1L595.2 150.8L595.2 154.9L593.7 142.7zM594.7 288.8L594.7 315.7L595.5 322.5L597.5 322.5L598.7 308.9L599.4 300.2L599.4 287L597 301.9zM598.9 164.1L598.9 135.3L599.7 128.1L601.3 128.1L602.3 142.1L602.9 150.8L602.9 164.5L600.6 152zM602.4 294.5L602.4 315.7L603.2 322.5L605.2 322.5L606.4 308.9L607.1 300.2L607.1 296.5L604.8 305.9zM606.6 155.5L606.6 135.3L607.4 128.1L609 128.1L610 142.1L610.6 150.8L610.6 158.2L608.7 141.8zM610.1 291L610.1 315.7L610.9 322.5L612.8 322.5L614.1 308.9L614.7 300.2L614.7 291.6L612.4 308.6zM614.2 161.8L614.2 135.3L615 128.1L616.6 128.1L617.7 142.1L618.2 150.8L618.2 163.9L616.7 149.2zM617.8 291.1L617.8 315.7L618.5 322.5L620.5 322.5L621.7 308.9L622.4 300.2L622.4 290.3L619.9 303.4zM621.9 158.2L621.9 135.3L622.7 128.1L624.3 128.1L625.3 142.1L625.9 150.8L625.9 157.4L623.7 148.7zM625.4 286.9L625.4 315.7L626.2 322.5L628.2 322.5L629.4 308.9L630.1 300.2L630.1 286.5L628 295.8zM629.6 158.4L629.6 135.3L630.4 128.1L632 128.1L633 142.1L633.6 150.8L633.6 162.5L632.1 146.5zM633.1 292.4L633.1 315.7L633.9 322.5L635.8 322.5L637.1 308.9L637.7 300.2L637.7 294.1L635.4 309.7zM637.3 157.6L637.3 135.3L638.1 128.1L639.6 128.1L640.7 142.1L641.2 150.8L641.2 154.2L639.5 144.5zM640.8 293.6L640.8 315.7L641.6 322.5L643.5 322.5L644.8 308.9L645.4 300.2L645.4 291.7L642.7 305.6zM644.9 158.9L644.9 135.3L645.7 128.1L647.3 128.1L648.4 142.1L648.9 150.8L648.9 160.9L646.9 149.6zM648.4 288.6L648.4 315.7L649.2 322.5L651.2 322.5L652.4 308.9L653.1 300.2L653.1 288.7L650.5 302zM652.6 159.4L652.6 135.3L653.4 128.1L655 128.1L656 142.1L656.6 150.8L656.6 158.8L655.1 144.9zM656.1 295.7L656.1 315.7L656.9 322.5L658.8 322.5L660.1 308.9L660.7 300.2L660.7 292.7L658.8 303.9zM660.3 157L660.3 135.3L661.1 128.1L662.6 128.1L663.7 142.1L664.2 150.8L664.2 158.7L662.4 147.2zM663.8 292.3L663.8 315.7L664.6 322.5L666.5 322.5L667.8 308.9L668.4 300.2L668.4 293.1L665.8 304.7zM667.9 158.9L667.9 135.3L668.7 128.1L670.3 128.1L671.4 142.1L671.9 150.8L671.9 159.4L669.5 146zM671.4 287.4L671.4 315.7L672.2 322.5L674.2 322.5L675.4 308.9L676.1 300.2L676.1 289.1L673.4 299.5zM675.6 161.3L675.6 135.3L676.4 128.1L678 128.1L679 142.1L679.6 150.8L679.6 158.4L677.6 151.2zM679.1 291.7L679.1 315.7L679.9 322.5L681.9 322.5L683.1 308.9L683.8 300.2L683.8 290.9L681.3 303.8zM683.3 156.2L683.3 135.3L684.1 128.1L685.6 128.1L686.7 142.1L687.2 150.8L687.2 159.7L685.6 150zM686.8 293.6L686.8 315.7L687.6 322.5L689.5 322.5L690.8 308.9L691.4 300.2L691.4 291.9L688.9 301.4zM691 158.1L691 135.3L691.7 128.1L693.3 128.1L694.4 142.1L694.9 150.8L694.9 155.1L692.8 144.5zM694.5 293L694.5 315.7L695.2 322.5L697.2 322.5L698.4 308.9L699.1 300.2L699.1 291.4L696.6 307.1zM698.6 160.5L698.6 135.3L699.4 128.1L701 128.1L702 142.1L702.6 150.8L702.6 164.3L700.7 154.3zM702.1 292.3L702.1 315.7L702.9 322.5L704.9 322.5L706.1 308.9L706.8 300.2L706.8 292.7L704 301.2zM706.3 160.7L706.3 135.3L707.1 128.1L708.7 128.1L709.7 142.1L710.3 150.8L710.3 162.4L708.5 153.5zM709.8 291.7L709.8 315.7L710.6 322.5L712.5 322.5L713.8 308.9L714.4 300.2L714.4 292.1L712.3 301.3zM714 162.3L714 135.3L714.8 128.1L716.3 128.1L717.4 142.1L717.9 150.8L717.9 160.1L716.4 147zM717.5 296.5L717.5 315.7L718.3 322.5L720.2 322.5L721.5 308.9L722.1 300.2L722.1 295.9L719.6 305.5zM721.6 161.3L721.6 135.3L722.4 128.1L724 128.1L725.1 142.1L725.6 150.8L725.6 158.9L723.4 145.3zM725.1 289.9L725.1 315.7L725.9 322.5L727.9 322.5L729.1 308.9L729.8 300.2L729.8 290L727.3 301zM729.3 161.3L729.3 135.3L730.1 128.1L731.7 128.1L732.7 142.1L733.3 150.8L733.3 161.4L731.6 147.4zM732.8 290.3L732.8 315.7L733.6 322.5L735.5 322.5L736.8 308.9L737.4 300.2L737.4 293.7L734.9 305.8zM737 162.7L737 135.3L737.8 128.1L739.3 128.1L740.4 142.1L740.9 150.8L740.9 162.5L739.4 150.8zM740.5 294L740.5 315.7L741.3 322.5L743.2 322.5L744.5 308.9L745.1 300.2L745.1 292.7L743.1 300.3zM744.6 164.4L744.6 135.3L745.4 128.1L747 128.1L748.1 142.1L748.6 150.8L748.6 160.4L746.2 148.7zM748.1 290.6L748.1 315.7L748.9 322.5L750.9 322.5L752.1 308.9L752.8 300.2L752.8 293.1L750.2 306.2zM752.3 160.2L752.3 135.3L753.1 128.1L754.7 128.1L755.7 142.1L756.3 150.8L756.3 160.2L754.2 149.6zM755.8 292.6L755.8 315.7L756.6 322.5L758.6 322.5L759.8 308.9L760.5 300.2L760.5 290.3L758.2 303.5zM760 157L760 135.3L760.8 128.1L762.4 128.1L763.4 142.1L764 150.8L764 158.5L762.3 142.8zM763.5 294.3L763.5 315.7L764.3 322.5L766.2 322.5L767.5 308.9L768.1 300.2L768.1 294.2L766.2 306.9zM767.6 155.8L767.6 135.3L768.4 128.1L770 128.1L771.1 142.1L771.6 150.8L771.6 155.4L769.9 144.6zM771.1 290.5L771.1 315.7L771.9 322.5L773.9 322.5L775.1 308.9L775.8 300.2L775.8 292.1L774 299.5zM775.3 162L775.3 135.3L776.1 128.1L777.7 128.1L778.7 142.1L779.3 150.8L779.3 160.7L777.1 151.3zM778.8 292.5L778.8 315.7L779.6 322.5L781.6 322.5L782.8 308.9L783.5 300.2L783.5 292.8L781.3 304.6zM783 159.2L783 135.3L783.8 128.1L785.4 128.1L786.4 142.1L787 150.8L787 157.9L785.1 149.8zM786.5 292L786.5 315.7L787.3 322.5L789.2 322.5L790.5 308.9L791.1 300.2L791.1 292.7L788.5 302.5zM790.7 160.3L790.7 135.3L791.5 128.1L793 128.1L794.1 142.1L794.6 150.8L794.6 162.7L792.3 148.9zM794.2 288.4L794.2 315.7L795 322.5L796.9 322.5L798.2 308.9L798.8 300.2L798.8 289.1L796.5 303.9zM798.3 157.5L798.3 135.3L799.1 128.1L800.7 128.1L801.8 142.1L802.3 150.8L802.3 155.5L800.7 147.8zM801.8 290.6L801.8 315.7L802.6 322.5L804.6 322.5L805.8 308.9L806.5 300.2L806.5 290.3L803.9 306zM806 160.4L806 135.3L806.8 128.1L808.4 128.1L809.4 142.1L810 150.8L810 163.2L808 148.3zM809.5 290.5L809.5 315.7L810.3 322.5L812.2 322.5L813.5 308.9L814.1 300.2L814.1 292.3L811.6 307.5zM813.7 163L813.7 135.3L814.5 128.1L816 128.1L817.1 142.1L817.6 150.8L817.6 161.4L815.9 152.3zM817.2 290.5L817.2 315.7L818 322.5L819.9 322.5L821.2 308.9L821.8 300.2L821.8 291.3L819.2 300.8zM821.3 157L821.3 135.3L822.1 128.1L823.7 128.1L824.8 142.1L825.3 150.8L825.3 154.6L823.1 144.2zM824.8 290L824.8 315.7L825.6 322.5L827.6 322.5L828.8 308.9L829.5 300.2L829.5 289.3L827.5 305.7zM829 155.6L829 135.3L829.8 128.1L831.4 128.1L832.4 142.1L833 150.8L833 158.3L831.2 149.2zM832.5 288.6L832.5 315.7L833.3 322.5L835.2 322.5L836.5 308.9L837.1 300.2L837.1 290.9L834.9 300.1zM836.7 158.1L836.7 135.3L837.5 128.1L839 128.1L840.1 142.1L840.6 150.8L840.6 157.5L839.1 142.9zM840.2 290.3L840.2 315.7L841 322.5L842.9 322.5L844.2 308.9L844.8 300.2L844.8 288.9L842.5 297.8zM844.4 160.3L844.4 135.3L845.1 128.1L846.7 128.1L847.8 142.1L848.3 150.8L848.3 162.8L845.9 151.9zM847.9 290L847.9 315.7L848.6 322.5L850.6 322.5L851.8 308.9L852.5 300.2L852.5 289.5L850.4 303.7zM852 162.7L852 135.3L852.8 128.1L854.4 128.1L855.4 142.1L856 150.8L856 160L854.3 150.9zM855.5 290.1L855.5 315.7L856.3 322.5L858.3 322.5L859.5 308.9L860.2 300.2L860.2 293.5L857.6 303.1zM859.7 159.3L859.7 135.3L860.5 128.1L862.1 128.1L863.1 142.1L863.7 150.8L863.7 156.7L862 151.7zM863.2 290L863.2 315.7L864 322.5L865.9 322.5L867.2 308.9L867.8 300.2L867.8 288.9L865.5 299.3zM867.4 161.7L867.4 135.3L868.2 128.1L869.7 128.1L870.8 142.1L871.3 150.8L871.3 160.1L869.1 150.2zM870.9 290.5L870.9 315.7L871.7 322.5L873.6 322.5L874.9 308.9L875.5 300.2L875.5 291.6L873.2 299.6zM875 158.8L875 135.3L875.8 128.1L877.4 128.1L878.5 142.1L879 150.8L879 160L876.7 143.5zM878.5 289.6L878.5 315.7L879.3 322.5L881.3 322.5L882.5 308.9L883.2 300.2L883.2 287.2L880.8 302.2zM882.7 156.8L882.7 135.3L883.5 128.1L885.1 128.1L886.1 142.1L886.7 150.8L886.7 158.6L884.3 149.2zM886.2 288.5L886.2 315.7L887 322.5L888.9 322.5L890.2 308.9L890.8 300.2L890.8 290.9L888.4 296.8zM890.4 158.7L890.4 135.3L891.2 128.1L892.7 128.1L893.8 142.1L894.3 150.8L894.3 157.9L892.2 145.5zM893.9 289.9L893.9 315.7L894.7 322.5L896.6 322.5L897.9 308.9L898.5 300.2L898.5 289.8L896.4 297.7zM898 154.9L898 135.3L898.8 128.1L900.4 128.1L901.5 142.1L902 150.8L902 155.7L899.5 143.2zM901.5 289.5L901.5 315.7L902.2 322.5L903.5 322.5L904.5 308.9L905 300.2L905 288.4L903.1 303.3z" fill="#FBC15E" stroke="#FBC15E" stroke-width="0.5"/>
<path d="M175.1 150.8V317.6M185.3 300.2V133.4M206.1 150.8V317.6M208.8 300.2V133.4M212.1 150.8V317.6M216 300.2V133.4M219.5 150.8V317.6M223.7 300.2V133.4M227.2 150.8V317.6M231.4 300.2V133.4M234.9 150.8V317.6M239 300.2V133.4M242.5 150.8V317.6M246.7 300.2V133.4M250.2 150.8V317.6M254.4 300.2V133.4M257.9 150.8V317.6M262.1 300.2V133.4M265.6 150.8V317.6M269.7 300.2V133.4M273.2 150.8V317.6M277.4 300.2V133.4M280.9 150.8V317.6M285.1 300.2V133.4M288.6 150.8V317.6M292.7 300.2V133.4M296.2 150.8V317.6M300.4 300.2V133.4M303.9 150.8V317.6M308.1 300.2V133.4M311.6 150.8V317.6M315.7 300.2V133.4M319.2 150.8V317.6M323.4 300.2V133.4M326.9 150.8V317.6M331.1 300.2V133.4M334.6 150.8V317.6M338.8 300.2V133.4M342.2 150.8V317.6M346.4 300.2V133.4M349.9 150.8V317.6M354.1 300.2V133.4M357.6 150.8V317.6M361.8 300.2V133.4M365.3 150.8V317.6M369.4 300.2V133.4M372.9 150.8V317.6M377.1 300.2V133.4M380.6 150.8V317.6M384.8 300.2V133.4M388.3 150.8V317.6M392.4 300.2V133.4M395.9 150.8V317.6M400.1 300.2V133.4M403.6 150.8V317.6M407.8 300.2V133.4M411.3 150.8V317.6M415.4 300.2V133.4M418.9 150.8V317.6M423.1 300.2V133.4M426.6 150.8V317.6M430.8 300.2V133.4M434.3 150.8V317.6M438.5 300.2V133.4M442 150.8V317.6M446.1 300.2V133.4M449.6 150.8V317.6M453.8 300.2V133.4M457.3 150.8V317.6M461.5 300.2V133.4M465 150.8V317.6M469.1 300.2V133.4M472.6 150.8V317.6M476.8 300.2V133.4M480.3 150.8V317.6M484.5 300.2V133.4M488 150.8V317.6M492.1 300.2V133.4M495.6 150.8V317.6M499.8 300.2V133.4M503.3 150.8V317.6M507.5 300.2V133.4M511 150.8V317.6M515.2 300.2V133.4M518.7 150.8V317.6M522.8 300.2V133.4M526.3 150.8V317.6M530.5 300.2V133.4M534 150.8V317.6M538.2 300.2V133.4M541.7 150.8V317.6M545.8 300.2V133.4M549.3 150.8V317.6M553.5 300.2V133.4M557 150.8V317.6M561.2 300.2V133.4M564.7 150.8V317.6M568.9 300.2V133.4M572.4 150.8V317.6M576.5 300.2V133.4M580 150.8V317.6M584.2 300.2V133.4M587.7 150.8V317.6M591.9 300.2V133.4M595.4 150.8V317.6M599.5 300.2V133.4M603 150.8V317.6M607.2 300.2V133.4M610.7 150.8V317.6M614.9 300.2V133.4M618.4 150.8V317.6M622.5 300.2V133.4M626 150.8V317.6M630.2 300.2V133.4M633.7 150.8V317.6M637.9 300.2V133.4M641.4 150.8V317.6M645.5 300.2V133.4M649 150.8V317.6M653.2 300.2V133.4M656.7 150.8V317.6M660.9 300.2V133.4M664.4 150.8V317.6M668.6 300.2V133.4M672.1 150.8V317.6M676.2 300.2V133.4M679.7 150.8V317.6M683.9 300.2V133.4M687.4 150.8V317.6M691.6 300.2V133.4M695.1 150.8V317.6M699.2 300.2V133.4M702.7 150.8V317.6M706.9 300.2V133.4M710.4 150.8V317.6M714.6 300.2V133.4M718.1 150.8V317.6M722.2 300.2V133.4M725.8 150.8V317.6M729.9 300.2V133.4M733.4 150.8V317.6M737.6 300.2V133.4M741.1 150.8V317.6M745.3 300.2V133.4M748.8 150.8V317.6M752.9 300.2V133.4M756.4 150.8V317.6M760.6 300.2V133.4M764.1 150.8V317.6M768.3 300.2V133.4M771.8 150.8V317.6M775.9 300.2V133.4M779.4 150.8V317.6M783.6 300.2V133.4M787.1 150.8V317.6M791.3 300.2V133.4M794.8 150.8V317.6M799 300.2V133.4M802.5 150.8V317.6M806.6 300.2V133.4M810.1 150.8V317.6M814.3 300.2V133.4M817.8 150.8V317.6M822 300.2V133.4M825.5 150.8V317.6M829.6 300.2V133.4M833.1 150.8V317.6M837.3 300.2V133.4M840.8 150.8V317.6M845 300.2V133.4M848.5 150.8V317.6M852.6 300.2V133.4M856.1 150.8V317.6M860.3 300.2V133.4M863.8 150.8V317.6M868 300.2V133.4M871.5 150.8V317.6M875.6 300.2V133.4M879.1 150.8V317.6M883.3 300.2V133.4M886.8 150.8V317.6M891 300.2V133.4M894.5 150.8V317.6M898.7 300.2V133.4M902.2 150.8V317.6" stroke="#FBC15E" stroke-width="1.39"/>
<path d="M139 133.4L139.3 133.4L139.7 133.4L140 133.4L140.4 133.4L140.7 133.4L141.1 133.4L141.4 133.4L141.8 133.4L142.1 133.4L142.5 133.4L142.8 133.4L143.2 133.4L143.5 133.4L143.9 137.9L144.2 142.6L144.6 144.5L144.9 139.7L145.3 134.9L145.6 133.4L146 133.4L146.3 133.4L146.7 133.4L147 133.4L147.4 133.4L147.7 133.4L148.1 133.4L148.4 133.4L148.8 133.4L149.1 133.4L149.5 133.4L149.8 133.4L150.2 133.4L150.5 133.4L150.9 133.4L151.2 133.4L151.6 138L151.9 142.7L152.3 144.4L152.6 139.6L153 134.8L153.3 133.4L153.7 133.4L154 133.4L154.4 133.4L154.7 133.4L155.1 133.4L155.4 133.4L155.8 133.4L156.1 133.4L156.4 133.4L156.8 133.4L157.1 133.4L157.5 133.4L157.8 133.4L158.2 133.4L158.5 133.4L158.9 133.4L159.2 138.1L159.6 142.9L159.9 144.3L160.3 139.5L160.6 134.7L161 133.4L161.3 133.4L161.7 133.4L162 133.4L162.4 133.4L162.7 133.4L163.1 133.4L163.4 133.4L163.8 133.4L164.1 133.4L164.5 133.4L164.8 133.4L165.2 133.4L165.5 133.4L165.9 133.4L166.2 133.4L166.6 133.4L166.9 138.2L167.3 143L167.6 144.2L168 139.4L168.3 134.6L168.7 133.4L169 133.4L169.4 133.4L169.7 133.4L170.1 133.4L170.4 133.4L170.8 133.4L171.1 133.4L171.5 133.4L171.8 133.4L172.2 133.4L172.5 133.4L172.9 133.4L173.2 133.4L173.5 133.4L173.5 164.4L173.2 164.4L172.9 164.4L172.5 164.4L172.2 161.5L171.8 157.4L171.5 153.3L171.1 149.2L170.8 145.1L170.4 140.9L170.1 137.6L169.7 141.8L169.4 145.9L169 150L168.7 154.1L168.3 158.2L168 162.4L167.6 164.4L167.3 164.4L166.9 164.4L166.6 164.4L166.2 164.4L165.9 164.4L165.5 164.4L165.2 164.4L164.8 164.4L164.5 161.4L164.1 157.3L163.8 153.2L163.4 149.1L163.1 145L162.7 140.8L162.4 137.7L162 141.9L161.7 146L161.3 150.1L161 154.2L160.6 158.3L160.3 162.4L159.9 164.4L159.6 164.4L159.2 164.4L158.9 164.4L158.5 164.4L158.2 164.4L157.8 164.4L157.5 164.4L157.1 164.4L156.8 161.4L156.4 157.2L156.1 153.1L155.8 149L155.4 144.9L155.1 140.8L154.7 137.8L154.4 141.9L154 146.1L153.7 150.2L153.3 154.3L153 158.4L152.6 162.5L152.3 164.4L151.9 164.4L151.6 164.4L151.2 164.4L150.9 164.4L150.5 164.4L150.2 164.4L149.8 164.4L149.5 164.4L149.1 161.3L148.8 157.1L148.4 153L148.1 148.9L147.7 144.8L147.4 140.7L147 137.9L146.7 142L146.3 146.2L146 150.3L145.6 154.4L145.3 158.5L144.9 162.6L144.6 164.4L144.2 164.4L143.9 164.4L143.5 164.4L143.2 164.4L142.8 164.4L142.5 164.4L142.1 164.4L141.8 164.4L141.4 161.2L141.1 157L140.7 152.9L140.4 148.8L140 144.7L139.7 140.6L139.3 138L139 142.1zM173.1 302.1L173.4 297.1L173.8 292.1L174.1 287L174.5 287.3L174.8 292.3L175.2 297.3L175.5 302.3L175.9 307.3L176.2 312.3L176.6 317.3L176.9 317.6L177.3 317.6L177.6 317.6L178 317.6L178.3 317.6L178.7 317.6L179 317.6L179.4 317.6L179.7 316.9L180.1 311.9L180.4 306.9L180.8 301.9L181.1 296.9L181.5 291.9L181.8 286.9L182.2 287.5L182.5 292.5L182.9 297.5L183.2 302.5L183.6 307.5L183.9 312.5L184.3 317.5L184.6 317.6L185 317.6L185.3 317.6L185.7 317.6L186 317.6L186.4 317.6L186.7 317.6L187.1 317.6L187.4 316.7L187.8 311.7L188.1 306.7L188.5 301.7L188.8 296.7L189.2 291.7L189.5 286.7L189.9 287.7L190.2 292.7L190.6 297.7L190.9 302.7L191.3 307.7L191.6 312.7L192 317.6L192.3 317.6L192.7 317.6L193 317.6L193.4 317.6L193.7 317.6L194.1 317.6L194.4 317.6L194.8 317.6L195.1 316.5L195.1 286.6L194.8 286.6L194.4 286.6L194.1 286.6L193.7 286.6L193.4 286.6L193 286.6L192.7 286.6L192.3 286.6L192 286.6L191.6 286.6L191.3 286.6L190.9 287.2L190.6 291.6L190.2 296L189.9 300.5L189.5 301.3L189.2 296.9L188.8 292.5L188.5 288.1L188.1 286.6L187.8 286.6L187.4 286.6L187.1 286.6L186.7 286.6L186.4 286.6L186 286.6L185.7 286.6L185.3 286.6L185 286.6L184.6 286.6L184.3 286.6L183.9 286.6L183.6 286.6L183.2 287.4L182.9 291.8L182.5 296.2L182.2 300.6L181.8 301.2L181.5 296.7L181.1 292.3L180.8 287.9L180.4 286.6L180.1 286.6L179.7 286.6L179.4 286.6L179 286.6L178.7 286.6L178.3 286.6L178 286.6L177.6 286.6L177.3 286.6L176.9 286.6L176.6 286.6L176.2 286.6L175.9 286.6L175.5 287.5L175.2 291.9L174.8 296.4L174.5 300.8L174.1 301L173.8 296.6L173.4 292.2L173.1 287.8zM194.7 163.1L194.7 135.3L195 128.1L195.8 128.1L196.3 142.1L196.6 150.8L196.6 161.9L195.4 154zM196.2 301.5L196.5 296.6L196.8 291.6L197.2 286.7L197.5 287.6L197.9 292.5L198.2 297.5L198.6 302.4L198.9 307.3L199.2 312.3L199.6 317.2L199.9 317.6L200.3 317.6L200.6 317.6L201 317.6L201.3 317.6L201.7 317.6L202 317.6L202.3 317.6L202.7 317.6L203 312.7L203.4 307.8L203.7 302.8L204.1 297.9L204.4 293L204.8 288L205.1 286.3L205.4 291.2L205.8 296.1L206.1 301.1L206.5 306L206.8 310.9L207.2 315.9L207.5 317.6L207.9 317.6L208.2 317.6L208.5 317.6L208.9 317.6L209.2 317.6L209.6 317.6L209.9 317.6L210.3 317.6L210.6 314L211 309.1L211.3 304.2L211.6 299.2L212 294.3L212.3 289.4L212.7 284.9L213 289.9L213.4 294.8L213.7 299.7L214.1 304.7L214.4 309.6L214.7 314.5L215.1 317.6L215.4 317.6L215.8 317.6L215.8 286.6L215.4 286.6L215.1 286.6L214.7 286.6L214.4 286.6L214.1 286.6L213.7 289.8L213.4 294.2L213 298.5L212.7 302.9L212.3 299L212 294.6L211.6 290.2L211.3 286.6L211 286.6L210.6 286.6L210.3 286.6L209.9 286.6L209.6 286.6L209.2 286.6L208.9 286.6L208.5 286.6L208.2 286.6L207.9 286.6L207.5 286.6L207.2 286.6L206.8 286.6L206.5 286.6L206.1 288.6L205.8 293L205.4 297.3L205.1 301.7L204.8 300.1L204.4 295.8L204.1 291.4L203.7 287.1L203.4 286.6L203 286.6L202.7 286.6L202.3 286.6L202 286.6L201.7 286.6L201.3 286.6L201 286.6L200.6 286.6L200.3 286.6L199.9 286.6L199.6 286.6L199.2 286.6L198.9 286.6L198.6 287.5L198.2 291.8L197.9 296.2L197.5 300.5L197.2 301.3L196.8 297L196.5 292.6L196.2 288.3zM215.3 160.7L215.3 135.3L216.1 128.1L217.7 128.1L218.7 142.1L219.3 150.8L219.3 160.4L217 149zM218.8 286.5L218.8 315.7L219.6 322.5L221.5 322.5L222.8 308.9L223.4 300.2L223.4 286L221.5 303.3zM223 164.4L223 135.3L223.8 128.1L225.3 128.1L226.4 142.1L226.9 150.8L226.9 165.8L225.3 155.1zM226.5 283.2L226.5 315.7L227.3 322.5L229.2 322.5L230.5 308.9L231.1 300.2L231.1 285.3L228.4 300.5zM230.7 157L230.7 135.3L231.5 128.1L233 128.1L234.1 142.1L234.6 150.8L234.6 159.5L232.3 150.9zM234.2 287.9L234.2 315.7L235 322.5L236.9 322.5L238.1 308.9L238.8 300.2L238.8 288.2L236 296zM238.3 163.2L238.3 135.3L239.1 128.1L240.7 128.1L241.7 142.1L242.3 150.8L242.3 165.1L240.4 153.9zM241.8 287.8L241.8 315.7L242.6 322.5L244.6 322.5L245.8 308.9L246.5 300.2L246.5 289.5L244.6 295.9zM246 158.4L246 135.3L246.8 128.1L248.4 128.1L249.4 142.1L250 150.8L250 159.9L248.2 148.8zM249.5 287.9L249.5 315.7L250.3 322.5L252.2 322.5L253.5 308.9L254.1 300.2L254.1 289.1L251.8 299.1zM253.7 160.3L253.7 135.3L254.5 128.1L256 128.1L257.1 142.1L257.6 150.8L257.6 158.8L255.6 152.8zM257.2 287.3L257.2 315.7L258 322.5L259.9 322.5L261.2 308.9L261.8 300.2L261.8 288.1L259.8 299.7zM261.4 164.9L261.4 135.3L262.1 128.1L263.7 128.1L264.8 142.1L265.3 150.8L265.3 164.2L262.9 156.3zM264.9 286.3L264.9 315.7L265.7 322.5L267.6 322.5L268.8 308.9L269.5 300.2L269.5 284.9L267.1 299.9zM269 165.5L269 135.3L269.8 128.1L271.4 128.1L272.4 142.1L273 150.8L273 162.2L271 153zM272.5 290L272.5 315.7L273.3 322.5L275.2 322.5L276.5 308.9L277.1 300.2L277.1 291L274.5 307zM276.7 158.8L276.7 135.3L277.5 128.1L279 128.1L280.1 142.1L280.6 150.8L280.6 161.9L278.9 153.4zM280.2 286.2L280.2 315.7L281 322.5L282.9 322.5L284.2 308.9L284.8 300.2L284.8 285.2L282.6 294.8zM284.4 156.7L284.4 135.3L285.2 128.1L286.7 128.1L287.8 142.1L288.3 150.8L288.3 161.5L286.2 147.5zM287.9 292.1L287.9 315.7L288.7 322.5L290.6 322.5L291.8 308.9L292.5 300.2L292.5 289.2L290.2 303.4zM292 162L292 135.3L292.8 128.1L294.4 128.1L295.4 142.1L296 150.8L296 160.4L294.4 153zM295.5 285.2L295.5 315.7L296.3 322.5L298.2 322.5L299.5 308.9L300.1 300.2L300.1 285.2L298.3 301.2zM299.7 161.4L299.7 135.3L300.5 128.1L302 128.1L303.1 142.1L303.6 150.8L303.6 163.7L301.5 148.9zM303.2 287.8L303.2 315.7L304 322.5L305.9 322.5L307.2 308.9L307.8 300.2L307.8 285.1L305.9 300.2zM307.4 164.2L307.4 135.3L308.2 128.1L309.7 128.1L310.8 142.1L311.3 150.8L311.3 160.7L309.4 151.9zM310.9 291.4L310.9 315.7L311.7 322.5L313.6 322.5L314.8 308.9L315.5 300.2L315.5 290.7L313.1 305.1zM315 159.9L315 135.3L315.8 128.1L317.4 128.1L318.4 142.1L319 150.8L319 161.5L316.9 147.7zM318.5 288.8L318.5 315.7L319.3 322.5L321.3 322.5L322.5 308.9L323.2 300.2L323.2 285.3L321.1 299.8zM322.7 158.3L322.7 135.3L323.5 128.1L325.1 128.1L326.1 142.1L326.7 150.8L326.7 157.7L324.7 144.6zM326.2 289.9L326.2 315.7L327 322.5L328.9 322.5L330.2 308.9L330.8 300.2L330.8 289.8L328.3 298.6zM330.4 158.6L330.4 135.3L331.2 128.1L332.7 128.1L333.8 142.1L334.3 150.8L334.3 158.9L332 147.5zM333.9 289.8L333.9 315.7L334.7 322.5L336.6 322.5L337.9 308.9L338.5 300.2L338.5 287.5L336.1 299.5zM338.1 162.7L338.1 135.3L338.8 128.1L340.4 128.1L341.4 142.1L342 150.8L342 165.6L339.8 155.1zM341.6 291.1L341.6 315.7L342.4 322.5L344.3 322.5L345.5 308.9L346.2 300.2L346.2 292L343.7 302.9zM345.7 165.7L345.7 135.3L346.5 128.1L348.1 128.1L349.1 142.1L349.7 150.8L349.7 167.2L347.9 154.5zM349.2 286.2L349.2 315.7L350 322.5L351.9 322.5L353.2 308.9L353.8 300.2L353.8 289.6L351 297.6zM353.4 164.5L353.4 135.3L354.2 128.1L355.7 128.1L356.8 142.1L357.3 150.8L357.3 163.7L355.1 154.4zM356.9 291.4L356.9 315.7L357.7 322.5L359.6 322.5L360.9 308.9L361.5 300.2L361.5 289.8L359.2 304.8zM361.1 160.1L361.1 135.3L361.9 128.1L363.4 128.1L364.5 142.1L365 150.8L365 161.9L363.4 152.3zM364.6 289.5L364.6 315.7L365.4 322.5L367.3 322.5L368.5 308.9L369.2 300.2L369.2 292.1L366.8 302.8zM368.7 160.5L368.7 135.3L369.5 128.1L371.1 128.1L372.1 142.1L372.7 150.8L372.7 161L370.9 145.5zM372.2 288.7L372.2 315.7L373 322.5L375 322.5L376.2 308.9L376.9 300.2L376.9 287.5L374.4 297.6zM376.4 165.5L376.4 135.3L377.2 128.1L378.8 128.1L379.8 142.1L380.4 150.8L380.4 163.5L378.1 154.5zM379.9 286.9L379.9 315.7L380.7 322.5L382.6 322.5L383.9 308.9L384.5 300.2L384.5 287.6L382.3 295.2zM384.1 161.4L384.1 135.3L384.9 128.1L386.4 128.1L387.5 142.1L388 150.8L388 164.1L385.7 148.1zM387.6 291.2L387.6 315.7L388.4 322.5L390.3 322.5L391.5 308.9L392.2 300.2L392.2 290.9L389.8 302.1zM391.7 162.8L391.7 135.3L392.5 128.1L394.1 128.1L395.1 142.1L395.7 150.8L395.7 162.2L393.6 150.8zM395.2 289.4L395.2 315.7L396 322.5L398 322.5L399.2 308.9L399.9 300.2L399.9 286.4L397.3 296.6zM399.4 159.1L399.4 135.3L400.2 128.1L401.8 128.1L402.8 142.1L403.4 150.8L403.4 157.6L401.8 151.5zM402.9 290L402.9 315.7L403.7 322.5L405.6 322.5L406.9 308.9L407.5 300.2L407.5 289.8L404.9 304.4zM407.1 158.4L407.1 135.3L407.9 128.1L409.4 128.1L410.5 142.1L411 150.8L411 158.1L408.6 150.9zM410.6 284.9L410.6 315.7L411.4 322.5L413.3 322.5L414.6 308.9L415.2 300.2L415.2 285.6L413.1 296zM414.8 165.3L414.8 135.3L415.5 128.1L417.1 128.1L418.1 142.1L418.7 150.8L418.7 164.7L417.1 154.9zM418.2 287.3L418.2 315.7L419.1 322.5L421 322.5L422.2 308.9L422.9 300.2L422.9 289.5L420.5 302.5zM422.4 161.5L422.4 135.3L423.2 128.1L424.8 128.1L425.8 142.1L426.4 150.8L426.4 162.2L424.5 148zM425.9 289L425.9 315.7L426.7 322.5L428.6 322.5L429.9 308.9L430.5 300.2L430.5 287.9L428.2 299zM430.1 162.1L430.1 135.3L430.9 128.1L432.4 128.1L433.5 142.1L434 150.8L434 161L432.4 145.6zM433.6 292.1L433.6 315.7L434.4 322.5L436.3 322.5L437.6 308.9L438.2 300.2L438.2 289.5L435.8 303.1zM437.8 160.5L437.8 135.3L438.6 128.1L440.1 128.1L441.2 142.1L441.7 150.8L441.7 163.5L439.3 147.1zM441.3 283.9L441.3 315.7L442.1 322.5L444 322.5L445.2 308.9L445.9 300.2L445.9 283.5L443.3 293.7zM445.4 164.2L445.4 135.3L446.2 128.1L447.8 128.1L448.8 142.1L449.4 150.8L449.4 162.8L447.9 152.4zM448.9 292.4L448.9 315.7L449.7 322.5L451.7 322.5L452.9 308.9L453.6 300.2L453.6 288.9L451.7 297.7zM453.1 164L453.1 135.3L453.9 128.1L455.4 128.1L456.5 142.1L457.1 150.8L457.1 163L455.1 148.7zM456.6 286L456.6 315.7L457.4 322.5L459.3 322.5L460.6 308.9L461.2 300.2L461.2 287.8L459.4 295.3zM460.8 157.9L460.8 135.3L461.6 128.1L463.1 128.1L464.2 142.1L464.7 150.8L464.7 159.8L462.5 143.7zM464.3 291.9L464.3 315.7L465.1 322.5L467 322.5L468.2 308.9L468.9 300.2L468.9 289.1L466.3 304.5zM468.4 161.4L468.4 135.3L469.2 128.1L470.8 128.1L471.8 142.1L472.4 150.8L472.4 161.3L470.3 148.1zM471.9 289.5L471.9 315.7L472.7 322.5L474.7 322.5L475.9 308.9L476.6 300.2L476.6 287.7L473.9 303.7zM476.1 161.4L476.1 135.3L476.9 128.1L478.5 128.1L479.5 142.1L480.1 150.8L480.1 162.9L478 151.2zM479.6 287.5L479.6 315.7L480.4 322.5L482.3 322.5L483.6 308.9L484.2 300.2L484.2 291.5L482.2 301.3zM483.8 164.5L483.8 135.3L484.6 128.1L486.1 128.1L487.2 142.1L487.7 150.8L487.7 163L485.9 156zM487.3 286.6L487.3 315.7L488.1 322.5L490 322.5L491.2 308.9L491.9 300.2L491.9 286.7L489.5 298.8zM491.4 164.4L491.4 135.3L492.2 128.1L493.8 128.1L494.8 142.1L495.4 150.8L495.4 164.6L493.4 147.8zM494.9 286.7L494.9 315.7L495.8 322.5L497.7 322.5L498.9 308.9L499.6 300.2L499.6 286.8L497.1 299zM499.1 164.1L499.1 135.3L499.9 128.1L501.5 128.1L502.5 142.1L503.1 150.8L503.1 164.3L500.9 147.9zM502.6 289.1L502.6 315.7L503.4 322.5L505.3 322.5L506.6 308.9L507.2 300.2L507.2 290.3L504.5 301.4zM506.8 163.2L506.8 135.3L507.6 128.1L509.1 128.1L510.2 142.1L510.7 150.8L510.7 159.8L509.3 151.8zM510.3 288.1L510.3 315.7L511.1 322.5L513 322.5L514.3 308.9L514.9 300.2L514.9 288.7L512.9 300.8zM514.5 165.7L514.5 135.3L515.2 128.1L516.8 128.1L517.9 142.1L518.4 150.8L518.4 163.6L516.5 151.4zM518 290.6L518 315.7L518.8 322.5L520.7 322.5L521.9 308.9L522.6 300.2L522.6 290.5L520.2 299.7zM522.1 163.4L522.1 135.3L522.9 128.1L524.5 128.1L525.5 142.1L526.1 150.8L526.1 161.5L523.8 149.2zM525.6 289.8L525.6 315.7L526.4 322.5L528.4 322.5L529.6 308.9L530.2 300.2L530.2 289.5L528.1 300.4zM529.8 161.7L529.8 135.3L530.6 128.1L532.1 128.1L533.2 142.1L533.8 150.8L533.8 163.3L532.2 151zM533.3 290L533.3 315.7L534.1 322.5L536 322.5L537.3 308.9L537.9 300.2L537.9 292.5L535.3 306.2zM537.5 160.5L537.5 135.3L538.3 128.1L539.8 128.1L540.9 142.1L541.4 150.8L541.4 161.3L539.4 150.1zM541 283.3L541 315.7L541.8 322.5L543.7 322.5L544.9 308.9L545.6 300.2L545.6 284.6L542.9 293.8zM545.1 163.4L545.1 135.3L545.9 128.1L547.5 128.1L548.5 142.1L549.1 150.8L549.1 165.1L547.2 154.4zM548.6 289.8L548.6 315.7L549.4 322.5L551.4 322.5L552.6 308.9L553.3 300.2L553.3 293.2L551.4 300.8zM552.8 159.4L552.8 135.3L553.6 128.1L555.2 128.1L556.2 142.1L556.8 150.8L556.8 161L555.2 149zM556.3 290.6L556.3 315.7L557.1 322.5L559 322.5L560.3 308.9L560.9 300.2L560.9 289.2L558.7 304.5zM560.5 161.6L560.5 135.3L561.3 128.1L562.8 128.1L563.9 142.1L564.4 150.8L564.4 161.2L562.8 147zM564 291.6L564 315.7L564.8 322.5L566.7 322.5L568 308.9L568.6 300.2L568.6 288.5L566.3 301.9zM568.1 163.9L568.1 135.3L568.9 128.1L570.5 128.1L571.6 142.1L572.1 150.8L572.1 161.4L570.1 155.5zM571.6 290.6L571.6 315.7L572.4 322.5L574.4 322.5L575.6 308.9L576.3 300.2L576.3 289.2L574 304.1zM575.8 160.7L575.8 135.3L576.6 128.1L578.2 128.1L579.2 142.1L579.8 150.8L579.8 162.4L578.1 145zM579.3 289.3L579.3 315.7L580.1 322.5L582 322.5L583.3 308.9L583.9 300.2L583.9 287.4L581.5 304.7zM583.5 159.2L583.5 135.3L584.3 128.1L585.8 128.1L586.9 142.1L587.4 150.8L587.4 159.1L585.6 148.6zM587 291.8L587 315.7L587.8 322.5L589.7 322.5L591 308.9L591.6 300.2L591.6 290L588.9 301.5zM591.2 167.2L591.2 135.3L591.9 128.1L593.5 128.1L594.6 142.1L595.1 150.8L595.1 166.8L593.2 149.2zM594.7 288.3L594.7 315.7L595.5 322.5L597.4 322.5L598.6 308.9L599.3 300.2L599.3 284.5L597.3 298zM598.8 157.7L598.8 135.3L599.6 128.1L601.2 128.1L602.2 142.1L602.8 150.8L602.8 160.5L601 150.8zM602.3 287.4L602.3 315.7L603.1 322.5L605.1 322.5L606.3 308.9L607 300.2L607 288.3L605 300.5zM606.5 161.8L606.5 135.3L607.3 128.1L608.9 128.1L609.9 142.1L610.5 150.8L610.5 161.1L608.1 146.9zM610 285.9L610 315.7L610.8 322.5L612.7 322.5L614 308.9L614.6 300.2L614.6 283.3L612.3 295.7zM614.2 163.9L614.2 135.3L615 128.1L616.5 128.1L617.6 142.1L618.1 150.8L618.1 162.8L616.2 150.8zM617.7 293.8L617.7 315.7L618.5 322.5L620.4 322.5L621.6 308.9L622.3 300.2L622.3 293.7L619.8 301.7zM621.8 161.6L621.8 135.3L622.6 128.1L624.2 128.1L625.2 142.1L625.8 150.8L625.8 157.4L624 149.4zM625.3 288.5L625.3 315.7L626.1 322.5L628.1 322.5L629.3 308.9L630 300.2L630 292.2L627.2 298.3zM629.5 165L629.5 135.3L630.3 128.1L631.9 128.1L632.9 142.1L633.5 150.8L633.5 163.8L632 150.2zM633 290.1L633 315.7L633.8 322.5L635.7 322.5L637 308.9L637.6 300.2L637.6 289.6L634.9 305.7zM637.2 157.5L637.2 135.3L638 128.1L639.5 128.1L640.6 142.1L641.1 150.8L641.1 159.4L638.9 146.3zM640.7 284.5L640.7 315.7L641.5 322.5L643.4 322.5L644.6 308.9L645.3 300.2L645.3 286.5L643.4 294.7zM644.8 159.4L644.8 135.3L645.6 128.1L647.2 128.1L648.2 142.1L648.8 150.8L648.8 159.7L647.1 146.4zM648.3 292.3L648.3 315.7L649.1 322.5L651.1 322.5L652.3 308.9L653 300.2L653 290.8L650.8 304.6zM652.5 164.8L652.5 135.3L653.3 128.1L654.9 128.1L655.9 142.1L656.5 150.8L656.5 166.4L654.2 153.5zM656 286.4L656 315.7L656.8 322.5L658.7 322.5L660 308.9L660.6 300.2L660.6 287.1L658.8 300.7zM660.2 161.1L660.2 135.3L661 128.1L662.5 128.1L663.6 142.1L664.1 150.8L664.1 161.7L661.9 150.1zM663.7 293.7L663.7 315.7L664.5 322.5L666.4 322.5L667.7 308.9L668.3 300.2L668.3 292.4L665.6 304.6zM667.9 163.8L667.9 135.3L668.6 128.1L670.2 128.1L671.3 142.1L671.8 150.8L671.8 161.7L669.5 152.1zM671.4 287.9L671.4 315.7L672.2 322.5L674.1 322.5L675.3 308.9L676 300.2L676 288.6L673.3 298.2zM675.5 163.1L675.5 135.3L676.3 128.1L677.9 128.1L678.9 142.1L679.5 150.8L679.5 164.3L677.6 152.7zM679 288.5L679 315.7L679.8 322.5L681.8 322.5L683 308.9L683.6 300.2L683.6 288.1L681 297.8zM683.2 163.7L683.2 135.3L684 128.1L685.5 128.1L686.6 142.1L687.1 150.8L687.1 162.2L684.9 154.5zM686.7 284.1L686.7 315.7L687.5 322.5L689.4 322.5L690.7 308.9L691.3 300.2L691.3 287.9L689.4 295.3zM690.9 161.7L690.9 135.3L691.7 128.1L693.2 128.1L694.3 142.1L694.8 150.8L694.8 159.7L692.5 153.7zM694.4 286.2L694.4 315.7L695.2 322.5L697.1 322.5L698.3 308.9L699 300.2L699 285L696.2 301.3zM698.5 162.1L698.5 135.3L699.3 128.1L700.9 128.1L701.9 142.1L702.5 150.8L702.5 161.4L700.3 146zM702 286.3L702 315.7L702.8 322.5L704.8 322.5L706 308.9L706.7 300.2L706.7 288.2L704.4 301.9zM706.2 166.8L706.2 135.3L707 128.1L708.6 128.1L709.6 142.1L710.2 150.8L710.2 163.8L708.6 155.4zM709.7 284.5L709.7 315.7L710.5 322.5L712.4 322.5L713.7 308.9L714.3 300.2L714.3 283.6L711.6 301zM713.9 162.2L713.9 135.3L714.7 128.1L716.2 128.1L717.3 142.1L717.8 150.8L717.8 163L715.5 154.5zM717.4 288L717.4 315.7L718.2 322.5L720.1 322.5L721.4 308.9L722 300.2L722 290.8L720.1 302.1zM721.5 160.5L721.5 135.3L722.3 128.1L723.9 128.1L725 142.1L725.5 150.8L725.5 160.7L723.9 152.1zM725 290L725 315.7L725.8 322.5L727.8 322.5L729 308.9L729.7 300.2L729.7 292.9L727.7 301.6zM729.2 162.8L729.2 135.3L730 128.1L731.6 128.1L732.6 142.1L733.2 150.8L733.2 166.5L730.8 152.7zM732.7 283.9L732.7 315.7L733.5 322.5L735.4 322.5L736.7 308.9L737.3 300.2L737.3 286.1L735.4 300.6zM736.9 160.1L736.9 135.3L737.7 128.1L739.2 128.1L740.3 142.1L740.8 150.8L740.8 158.9L739.1 146.3zM740.4 287.7L740.4 315.7L741.2 322.5L743.1 322.5L744.4 308.9L745 300.2L745 285.5L742.9 294.4zM744.6 159.2L744.6 135.3L745.3 128.1L746.9 128.1L748 142.1L748.5 150.8L748.5 161.8L746.8 150.8zM748.1 287.3L748.1 315.7L748.9 322.5L750.8 322.5L752 308.9L752.7 300.2L752.7 285L750.2 295.5zM752.2 162.6L752.2 135.3L753 128.1L754.6 128.1L755.6 142.1L756.2 150.8L756.2 163.1L753.8 152.5zM755.7 291.8L755.7 315.7L756.5 322.5L758.5 322.5L759.7 308.9L760.4 300.2L760.4 289.2L757.9 296.7zM759.9 164.5L759.9 135.3L760.7 128.1L762.2 128.1L763.3 142.1L763.9 150.8L763.9 164.1L761.6 155.5zM763.4 283.8L763.4 315.7L764.2 322.5L766.1 322.5L767.4 308.9L768 300.2L768 286.6L766.2 300.9zM767.6 159.2L767.6 135.3L768.4 128.1L769.9 128.1L771 142.1L771.5 150.8L771.5 162.2L770 151.1zM771.1 290.9L771.1 315.7L771.9 322.5L773.8 322.5L775 308.9L775.7 300.2L775.7 291.2L773.4 298.3zM775.2 166.7L775.2 135.3L776 128.1L777.6 128.1L778.6 142.1L779.2 150.8L779.2 164.7L776.8 149.5zM778.7 286.9L778.7 315.7L779.5 322.5L781.5 322.5L782.7 308.9L783.4 300.2L783.4 285.6L780.7 296.1zM782.9 164.6L782.9 135.3L783.7 128.1L785.3 128.1L786.3 142.1L786.9 150.8L786.9 166.2L784.5 153.6zM786.4 286.3L786.4 315.7L787.2 322.5L789.1 322.5L790.4 308.9L791 300.2L791 288L788.3 296zM790.6 159.6L790.6 135.3L791.4 128.1L792.9 128.1L794 142.1L794.5 150.8L794.5 158.7L792.2 147.4zM794.1 287.6L794.1 315.7L794.9 322.5L796.8 322.5L798.1 308.9L798.7 300.2L798.7 289.8L795.9 295.9zM798.2 158.3L798.2 135.3L799 128.1L800.6 128.1L801.7 142.1L802.2 150.8L802.2 161.3L800.6 143.3zM801.8 293L801.8 315.7L802.5 322.5L804.5 322.5L805.7 308.9L806.4 300.2L806.4 292.4L804 304zM805.9 159.7L805.9 135.3L806.7 128.1L808.3 128.1L809.3 142.1L809.9 150.8L809.9 160.5L808 148zM809.4 291.3L809.4 315.7L810.2 322.5L812.1 322.5L813.4 308.9L814 300.2L814 288.3L812 303.2zM813.6 164.3L813.6 135.3L814.4 128.1L815.9 128.1L817 142.1L817.5 150.8L817.5 163.2L815.1 152.4zM817.1 284.6L817.1 315.7L817.9 322.5L819.8 322.5L821.1 308.9L821.7 300.2L821.7 284.6L819.5 298.8zM821.3 160.2L821.3 135.3L822 128.1L823.6 128.1L824.7 142.1L825.2 150.8L825.2 159.4L823.1 150.6zM824.8 286.6L824.8 315.7L825.6 322.5L827.5 322.5L828.7 308.9L829.4 300.2L829.4 287.4L827.6 301.4zM828.9 161.6L828.9 135.3L829.7 128.1L831.3 128.1L832.3 142.1L832.9 150.8L832.9 160.1L830.4 147.1zM832.4 289.5L832.4 315.7L833.2 322.5L835.1 322.5L836.4 308.9L837 300.2L837 292.9L834.5 307zM836.6 160.7L836.6 135.3L837.4 128.1L838.9 128.1L840 142.1L840.5 150.8L840.5 160.4L838.5 149.8zM840.1 290.6L840.1 315.7L840.9 322.5L842.8 322.5L844.1 308.9L844.7 300.2L844.7 290.3L842.6 296.9zM844.3 159.8L844.3 135.3L845.1 128.1L846.6 128.1L847.7 142.1L848.2 150.8L848.2 161.7L845.9 148zM847.8 289.1L847.8 315.7L848.6 322.5L850.5 322.5L851.7 308.9L852.4 300.2L852.4 289.4L850 306.4zM851.9 163.9L851.9 135.3L852.7 128.1L854.3 128.1L855.3 142.1L855.9 150.8L855.9 160.2L853.8 150.4zM855.4 284.2L855.4 315.7L856.2 322.5L858.2 322.5L859.4 308.9L860.1 300.2L860.1 284.4L857.9 301.9zM859.6 162.6L859.6 135.3L860.4 128.1L862 128.1L863 142.1L863.6 150.8L863.6 160.6L861.3 149.4zM863.1 288.9L863.1 315.7L863.9 322.5L865.8 322.5L867.1 308.9L867.7 300.2L867.7 286.8L865.4 295.9zM867.3 158.8L867.3 135.3L868.1 128.1L869.6 128.1L870.7 142.1L871.2 150.8L871.2 160L869.3 146.6zM870.8 286.1L870.8 315.7L871.6 322.5L873.5 322.5L874.8 308.9L875.4 300.2L875.4 287L873 296.8zM874.9 165.6L874.9 135.3L875.7 128.1L877.3 128.1L878.4 142.1L878.9 150.8L878.9 165L877.1 150.5zM878.4 284.2L878.4 315.7L879.2 322.5L881.2 322.5L882.4 308.9L883.1 300.2L883.1 285.5L880.4 295.1zM882.6 160.2L882.6 135.3L883.4 128.1L885 128.1L886 142.1L886.6 150.8L886.6 160.7L884.6 152.1zM886.1 290.9L886.1 315.7L886.9 322.5L888.8 322.5L890.1 308.9L890.7 300.2L890.7 291.6L888.8 297.4zM890.3 161.6L890.3 135.3L891.1 128.1L892.6 128.1L893.7 142.1L894.2 150.8L894.2 164.1L891.8 152.4zM893.8 293.6L893.8 315.7L894.6 322.5L896.5 322.5L897.8 308.9L898.4 300.2L898.4 292.2L896.1 302.9zM898 163.1L898 135.3L898.7 128.1L900.3 128.1L901.4 142.1L901.9 150.8L901.9 162.7L900 147.3zM901.5 291.1L901.5 315.7L902.2 322.5L903.5 322.5L904.5 308.9L905 300.2L905 287.8L903.5 302z" fill="#8EBA42" stroke="#8EBA42" stroke-width="0.5"/>
<path d="M173.7 150.8V317.6M195.2 300.2V133.4M196.8 150.8V317.6M215.9 300.2V133.4M219.4 150.8V317.6M223.6 300.2V133.4M227.1 150.8V317.6M231.3 300.2V133.4M234.8 150.8V317.6M238.9 300.2V133.4M242.4 150.8V317.6M246.6 300.2V133.4M250.1 150.8V317.6M254.3 300.2V133.4M257.8 150.8V317.6M261.9 300.2V133.4M265.4 150.8V317.6M269.6 300.2V133.4M273.1 150.8V317.6M277.3 300.2V133.4M280.8 150.8V317.6M285 300.2V133.4M288.5 150.8V317.6M292.6 300.2V133.4M296.1 150.8V317.6M300.3 300.2V133.4M303.8 150.8V317.6M308 300.2V133.4M311.5 150.8V317.6M315.6 300.2V133.4M319.1 150.8V317.6M323.3 300.2V133.4M326.8 150.8V317.6M331 300.2V133.4M334.5 150.8V317.6M338.6 300.2V133.4M342.1 150.8V317.6M346.3 300.2V133.4M349.8 150.8V317.6M354 300.2V133.4M357.5 150.8V317.6M361.7 300.2V133.4M365.2 150.8V317.6M369.3 300.2V133.4M372.8 150.8V317.6M377 300.2V133.4M380.5 150.8V317.6M384.7 300.2V133.4M388.2 150.8V317.6M392.3 300.2V133.4M395.8 150.8V317.6M400 300.2V133.4M403.5 150.8V317.6M407.7 300.2V133.4M411.2 150.8V317.6M415.3 300.2V133.4M418.8 150.8V317.6M423 300.2V133.4M426.5 150.8V317.6M430.7 300.2V133.4M434.2 150.8V317.6M438.4 300.2V133.4M441.9 150.8V317.6M446 300.2V133.4M449.5 150.8V317.6M453.7 300.2V133.4M457.2 150.8V317.6M461.4 300.2V133.4M464.9 150.8V317.6M469 300.2V133.4M472.5 150.8V317.6M476.7 300.2V133.4M480.2 150.8V317.6M484.4 300.2V133.4M487.9 150.8V317.6M492 300.2V133.4M495.5 150.8V317.6M499.7 300.2V133.4M503.2 150.8V317.6M507.4 300.2V133.4M510.9 150.8V317.6M515.1 300.2V133.4M518.6 150.8V317.6M522.7 300.2V133.4M526.2 150.8V317.6M530.4 300.2V133.4M533.9 150.8V317.6M538.1 300.2V133.4M541.6 150.8V317.6M545.7 300.2V133.4M549.2 150.8V317.6M553.4 300.2V133.4M556.9 150.8V317.6M561.1 300.2V133.4M564.6 150.8V317.6M568.8 300.2V133.4M572.2 150.8V317.6M576.4 300.2V133.4M579.9 150.8V317.6M584.1 300.2V133.4M587.6 150.8V317.6M591.8 300.2V133.4M595.3 150.8V317.6M599.4 300.2V133.4M602.9 150.8V317.6M607.1 300.2V133.4M610.6 150.8V317.6M614.8 300.2V133.4M618.3 150.8V317.6M622.4 300.2V133.4M625.9 150.8V317.6M630.1 300.2V133.4M633.6 150.8V317.6M637.8 300.2V133.4M641.3 150.8V317.6M645.4 300.2V133.4M648.9 150.8V317.6M653.1 300.2V133.4M656.6 150.8V317.6M660.8 300.2V133.4M664.3 150.8V317.6M668.5 300.2V133.4M672 150.8V317.6M676.1 300.2V133.4M679.6 150.8V317.6M683.8 300.2V133.4M687.3 150.8V317.6M691.5 300.2V133.4M695 150.8V317.6M699.1 300.2V133.4M702.6 150.8V317.6M706.8 300.2V133.4M710.3 150.8V317.6M714.5 300.2V133.4M718 150.8V317.6M722.1 300.2V133.4M725.6 150.8V317.6M729.8 300.2V133.4M733.3 150.8V317.6M737.5 300.2V133.4M741 150.8V317.6M745.2 300.2V133.4M748.7 150.8V317.6M752.8 300.2V133.4M756.3 150.8V317.6M760.5 300.2V133.4M764 150.8V317.6M768.2 300.2V133.4M771.7 150.8V317.6M775.8 300.2V133.4M779.3 150.8V317.6M783.5 300.2V133.4M787 150.8V317.6M791.2 300.2V133.4M794.7 150.8V317.6M798.9 300.2V133.4M802.4 150.8V317.6M806.5 300.2V133.4M810 150.8V317.6M814.2 300.2V133.4M817.7 150.8V317.6M821.9 300.2V133.4M825.4 150.8V317.6M829.5 300.2V133.4M833 150.8V317.6M837.2 300.2V133.4M840.7 150.8V317.6M844.9 300.2V133.4M848.4 150.8V317.6M852.5 300.2V133.4M856 150.8V317.6M860.2 300.2V133.4M863.7 150.8V317.6M867.9 300.2V133.4M871.4 150.8V317.6M875.5 300.2V133.4M879 150.8V317.6M883.2 300.2V133.4M886.7 150.8V317.6M890.9 300.2V133.4M894.4 150.8V317.6M898.6 300.2V133.4M902.1 150.8V317.6" stroke="#8EBA42" stroke-width="1.39"/>
<path d="M139 128.1L139.3 128.1L139.7 128.1L140 128.1L140.4 128.1L140.7 128.1L141.1 128.1L141.4 128.1L141.8 128.1L142.1 128.1L142.5 128.1L142.8 128.1L143.2 128.1L143.5 128.1L143.9 132.6L144.2 137.4L144.6 139.3L144.9 134.5L145.3 129.7L145.6 128.1L146 128.1L146.3 128.1L146.7 128.1L147 128.1L147.4 128.1L147.7 128.1L148.1 128.1L148.4 128.1L148.8 128.1L149.1 128.1L149.5 128.1L149.8 128.1L150.2 128.1L150.5 128.1L150.9 128.1L151.2 128.1L151.6 132.6L151.9 137.4L152.3 139.3L152.6 134.5L153 129.7L153.3 128.1L153.6 128.1L154 128.1L154.3 128.1L154.7 128.1L155 128.1L155.4 128.1L155.7 128.1L156.1 128.1L156.4 128.1L156.8 128.1L157.1 128.1L157.5 128.1L157.8 128.1L158.2 128.1L158.5 128.1L158.9 128.1L159.2 132.7L159.6 137.5L159.9 139.2L160.3 134.4L160.6 129.6L161 128.1L161.3 128.1L161.7 128.1L162 128.1L162.4 128.1L162.7 128.1L163.1 128.1L163.4 128.1L163.8 128.1L164.1 128.1L164.5 128.1L164.8 128.1L165.2 128.1L165.5 128.1L165.9 128.1L166.2 128.1L166.6 128.1L166.9 132.7L167.3 137.5L167.6 139.2L168 134.4L168.3 129.6L168.6 128.1L169 128.1L169.3 128.1L169.7 128.1L170 128.1L170.4 128.1L170.7 128.1L171.1 128.1L171.4 128.1L171.8 128.1L172.1 128.1L172.5 128.1L172.8 128.1L173.2 128.1L173.5 128.1L173.9 128.1L174.2 128.1L174.6 132.8L174.9 137.6L175.3 139.1L175.6 134.3L176 129.5L176.3 128.1L176.7 128.1L177 128.1L177.4 128.1L177.7 128.1L178.1 128.1L178.4 128.1L178.8 128.1L179.1 128.1L179.5 128.1L179.8 128.1L180.2 128.1L180.5 128.1L180.9 128.1L181.2 128.1L181.6 128.1L181.9 128.1L182.3 132.8L182.6 137.6L182.9 139L183.3 134.3L183.6 129.5L184 128.1L184.3 128.1L184.7 128.1L185 128.1L185.4 128.1L185.7 128.1L186.1 128.1L186.4 128.1L186.8 128.1L187.1 128.1L187.5 128.1L187.8 128.1L188.2 128.1L188.5 128.1L188.9 128.1L189.2 128.1L189.6 128.1L189.9 132.9L190.3 137.7L190.6 139L191 134.2L191.3 129.4L191.7 128.1L192 128.1L192.4 128.1L192.7 128.1L193.1 128.1L193.4 128.1L193.8 128.1L194.1 128.1L194.5 128.1L194.8 128.1L195.2 128.1L195.5 128.1L195.9 128.1L196.2 128.1L196.6 128.1L196.9 128.1L197.3 128.2L197.6 132.9L197.9 137.7L198.3 138.9L198.6 134.2L199 129.4L199.3 128.1L199.7 128.1L200 128.1L200.4 128.1L200.7 128.1L201.1 128.1L201.4 128.1L201.8 128.1L202.1 128.1L202.5 128.1L202.8 128.1L203.2 128.1L203.5 128.1L203.9 128.1L204.2 128.1L204.6 128.1L204.9 128.2L205.3 133L205.6 137.8L206 138.9L206.3 134.1L206.7 129.3L207 128.1L207.4 128.1L207.7 128.1L208.1 128.1L208.4 128.1L208.8 128.1L209.1 128.1L209.5 128.1L209.8 128.1L210.2 128.1L210.5 128.1L210.9 128.1L211.2 128.1L211.6 128.1L211.9 128.1L211.9 164.4L211.6 164.4L211.2 164.4L210.9 164.4L210.5 161.5L210.2 157.4L209.8 153.3L209.5 149.2L209.1 145.1L208.8 141L208.4 137.6L208.1 141.7L207.7 145.9L207.4 150L207 154.1L206.7 158.2L206.3 162.3L206 164.4L205.6 164.4L205.3 164.4L204.9 164.4L204.6 164.4L204.2 164.4L203.9 164.4L203.5 164.4L203.2 164.4L202.8 161.5L202.5 157.4L202.1 153.3L201.8 149.1L201.4 145L201.1 140.9L200.7 137.7L200.4 141.8L200 145.9L199.7 150L199.3 154.1L199 158.2L198.6 162.4L198.3 164.4L197.9 164.4L197.6 164.4L197.3 164.4L196.9 164.4L196.6 164.4L196.2 164.4L195.9 164.4L195.5 164.4L195.2 161.5L194.8 157.3L194.5 153.2L194.1 149.1L193.8 145L193.4 140.9L193.1 137.7L192.7 141.8L192.4 145.9L192 150.1L191.7 154.2L191.3 158.3L191 162.4L190.6 164.4L190.3 164.4L189.9 164.4L189.6 164.4L189.2 164.4L188.9 164.4L188.5 164.4L188.2 164.4L187.8 164.4L187.5 161.4L187.1 157.3L186.8 153.2L186.4 149.1L186.1 144.9L185.7 140.8L185.4 137.8L185 141.9L184.7 146L184.3 150.1L184 154.2L183.6 158.3L183.3 162.5L182.9 164.4L182.6 164.4L182.3 164.4L181.9 164.4L181.6 164.4L181.2 164.4L180.9 164.4L180.5 164.4L180.2 164.4L179.8 161.4L179.5 157.3L179.1 153.1L178.8 149L178.4 144.9L178.1 140.8L177.7 137.8L177.4 141.9L177 146L176.7 150.1L176.3 154.3L176 158.4L175.6 162.5L175.3 164.4L174.9 164.4L174.6 164.4L174.2 164.4L173.9 164.4L173.5 164.4L173.2 164.4L172.8 164.4L172.5 164.4L172.1 161.3L171.8 157.2L171.4 153.1L171.1 149L170.7 144.9L170.4 140.7L170 137.8L169.7 142L169.3 146.1L169 150.2L168.6 154.3L168.3 158.4L168 162.5L167.6 164.4L167.3 164.4L166.9 164.4L166.6 164.4L166.2 164.4L165.9 164.4L165.5 164.4L165.2 164.4L164.8 164.4L164.5 161.3L164.1 157.2L163.8 153L163.4 148.9L163.1 144.8L162.7 140.7L162.4 137.9L162 142L161.7 146.1L161.3 150.2L161 154.3L160.6 158.5L160.3 162.6L159.9 164.4L159.6 164.4L159.2 164.4L158.9 164.4L158.5 164.4L158.2 164.4L157.8 164.4L157.5 164.4L157.1 164.4L156.8 161.2L156.4 157.1L156.1 153L155.7 148.9L155.4 144.8L155 140.7L154.7 137.9L154.3 142L154 146.2L153.6 150.3L153.3 154.4L153 158.5L152.6 162.6L152.3 164.4L151.9 164.4L151.6 164.4L151.2 164.4L150.9 164.4L150.5 164.4L150.2 164.4L149.8 164.4L149.5 164.4L149.1 161.2L148.8 157.1L148.4 153L148.1 148.8L147.7 144.7L147.4 140.6L147 138L146.7 142.1L146.3 146.2L146 150.3L145.6 154.4L145.3 158.6L144.9 162.7L144.6 164.4L144.2 164.4L143.9 164.4L143.5 164.4L143.2 164.4L142.8 164.4L142.5 164.4L142.1 164.4L141.8 164.4L141.4 161.2L141.1 157L140.7 152.9L140.4 148.8L140 144.7L139.7 140.6L139.3 138L139 142.1zM211.4 287.8L211.4 315.7L212.2 322.5L214 322.5L215.2 308.9L215.8 300.2L215.8 285.4L213.4 301.6zM215.4 169.1L215.4 135.3L216.2 128.1L217.7 128.1L218.8 142.1L219.3 150.8L219.3 169.5L217.4 154.1zM218.9 282.7L218.9 315.7L219.7 322.5L221.6 322.5L222.8 308.9L223.5 300.2L223.5 285.3L221.3 294.7zM223 169.7L223 135.3L223.8 128.1L225.4 128.1L226.4 142.1L227 150.8L227 166.9L225.3 160.1zM226.5 289.3L226.5 315.7L227.3 322.5L229.3 322.5L230.5 308.9L231.2 300.2L231.2 289.9L229.1 301.5zM230.7 165.3L230.7 135.3L231.5 128.1L233.1 128.1L234.1 142.1L234.7 150.8L234.7 165.8L232.8 155.5zM234.2 284.5L234.2 315.7L235 322.5L236.9 322.5L238.2 308.9L238.8 300.2L238.8 284.3L236.1 296.2zM238.4 161.7L238.4 135.3L239.2 128.1L240.7 128.1L241.8 142.1L242.3 150.8L242.3 162.3L240.4 147.3zM241.9 285.6L241.9 315.7L242.7 322.5L244.6 322.5L245.9 308.9L246.5 300.2L246.5 287.1L243.9 300.5zM246 167.3L246 135.3L246.8 128.1L248.4 128.1L249.5 142.1L250 150.8L250 167.6L248.1 157.9zM249.5 283.1L249.5 315.7L250.3 322.5L252.3 322.5L253.5 308.9L254.2 300.2L254.2 283.6L251.6 296.5zM253.7 168.1L253.7 135.3L254.5 128.1L256.1 128.1L257.1 142.1L257.7 150.8L257.7 166.7L256.2 159.5zM257.2 286L257.2 315.7L258 322.5L260 322.5L261.2 308.9L261.9 300.2L261.9 282.7L259.2 300.3zM261.4 161.6L261.4 135.3L262.2 128.1L263.8 128.1L264.8 142.1L265.4 150.8L265.4 164.9L263.3 150.4zM264.9 290L264.9 315.7L265.7 322.5L267.6 322.5L268.9 308.9L269.5 300.2L269.5 286.7L267.6 302.4zM269.1 165.2L269.1 135.3L269.9 128.1L271.4 128.1L272.5 142.1L273 150.8L273 163.9L271.1 157.7zM272.6 285.8L272.6 315.7L273.4 322.5L275.3 322.5L276.5 308.9L277.2 300.2L277.2 287.5L275 299.8zM276.7 165.2L276.7 135.3L277.5 128.1L279.1 128.1L280.1 142.1L280.7 150.8L280.7 167.3L278.4 156.1zM280.2 285L280.2 315.7L281 322.5L283 322.5L284.2 308.9L284.9 300.2L284.9 284.8L282.7 296.1zM284.4 164.8L284.4 135.3L285.2 128.1L286.8 128.1L287.8 142.1L288.4 150.8L288.4 165.3L286.2 157.4zM287.9 280.5L287.9 315.7L288.7 322.5L290.6 322.5L291.9 308.9L292.5 300.2L292.5 281L290 298.9zM292.1 166.5L292.1 135.3L292.9 128.1L294.4 128.1L295.5 142.1L296 150.8L296 167.1L293.9 159zM295.6 285.5L295.6 315.7L296.4 322.5L298.3 322.5L299.6 308.9L300.2 300.2L300.2 287.9L298.4 298.1zM299.7 165.4L299.7 135.3L300.5 128.1L302.1 128.1L303.1 142.1L303.7 150.8L303.7 166.2L301.3 152.1zM303.2 287.6L303.2 315.7L304 322.5L306 322.5L307.2 308.9L307.9 300.2L307.9 284.5L305.7 299.4zM307.4 164.2L307.4 135.3L308.2 128.1L309.8 128.1L310.8 142.1L311.4 150.8L311.4 163.7L309.1 150.6zM310.9 282.8L310.9 315.7L311.7 322.5L313.6 322.5L314.9 308.9L315.5 300.2L315.5 282L313.1 294.5zM315.1 166.9L315.1 135.3L315.9 128.1L317.4 128.1L318.5 142.1L319 150.8L319 170.6L317.3 155.7zM318.6 283.4L318.6 315.7L319.4 322.5L321.3 322.5L322.6 308.9L323.2 300.2L323.2 282.7L320.7 295.7zM322.8 167.6L322.8 135.3L323.5 128.1L325.1 128.1L326.2 142.1L326.7 150.8L326.7 167.7L325.1 151zM326.2 282.8L326.2 315.7L327.1 322.5L329 322.5L330.2 308.9L330.9 300.2L330.9 281.5L328.2 294.4zM330.4 166.6L330.4 135.3L331.2 128.1L332.8 128.1L333.8 142.1L334.4 150.8L334.4 163.9L331.9 151.4zM333.9 284.1L333.9 315.7L334.7 322.5L336.7 322.5L337.9 308.9L338.6 300.2L338.6 285L336.6 300.2zM338.1 166.9L338.1 135.3L338.9 128.1L340.4 128.1L341.5 142.1L342.1 150.8L342.1 166.3L340.4 157.7zM341.6 283.2L341.6 315.7L342.4 322.5L344.3 322.5L345.6 308.9L346.2 300.2L346.2 282.5L344.2 293.8zM345.8 166.2L345.8 135.3L346.6 128.1L348.1 128.1L349.2 142.1L349.7 150.8L349.7 165.2L347.8 154.2zM349.3 288.2L349.3 315.7L350.1 322.5L352 322.5L353.2 308.9L353.9 300.2L353.9 289.1L351.9 300.8zM353.4 164.5L353.4 135.3L354.2 128.1L355.8 128.1L356.8 142.1L357.4 150.8L357.4 162.5L355.7 154.2zM356.9 284.9L356.9 315.7L357.7 322.5L359.7 322.5L360.9 308.9L361.6 300.2L361.6 284.9L358.8 301.5zM361.1 170.7L361.1 135.3L361.9 128.1L363.5 128.1L364.5 142.1L365.1 150.8L365.1 170.3L363.3 154.8zM364.6 290.6L364.6 315.7L365.4 322.5L367.3 322.5L368.6 308.9L369.2 300.2L369.2 287.8L367 302.5zM368.8 162.1L368.8 135.3L369.6 128.1L371.1 128.1L372.2 142.1L372.7 150.8L372.7 161.8L370.4 153.3zM372.3 286.7L372.3 315.7L373.1 322.5L375 322.5L376.3 308.9L376.9 300.2L376.9 283.2L374.9 295.7zM376.4 168.1L376.4 135.3L377.2 128.1L378.8 128.1L379.9 142.1L380.4 150.8L380.4 166.9L378.3 158.2zM379.9 287.4L379.9 315.7L380.7 322.5L382.7 322.5L383.9 308.9L384.6 300.2L384.6 290.3L382.2 303.3zM384.1 160.7L384.1 135.3L384.9 128.1L386.5 128.1L387.5 142.1L388.1 150.8L388.1 163.2L386.1 150.5zM387.6 288.5L387.6 315.7L388.4 322.5L390.3 322.5L391.6 308.9L392.2 300.2L392.2 287.8L389.9 297.3zM391.8 167.1L391.8 135.3L392.6 128.1L394.1 128.1L395.2 142.1L395.7 150.8L395.7 165.9L393.4 159.9zM395.3 283.4L395.3 315.7L396.1 322.5L398 322.5L399.3 308.9L399.9 300.2L399.9 284.8L397.6 292.9zM399.5 163.6L399.5 135.3L400.2 128.1L401.8 128.1L402.9 142.1L403.4 150.8L403.4 164L401.6 156.1zM403 287.4L403 315.7L403.8 322.5L405.7 322.5L406.9 308.9L407.6 300.2L407.6 286.9L404.9 292.6zM407.1 164.7L407.1 135.3L407.9 128.1L409.5 128.1L410.5 142.1L411.1 150.8L411.1 163L409.5 155.3zM410.6 283.9L410.6 315.7L411.4 322.5L413.4 322.5L414.6 308.9L415.2 300.2L415.2 282.7L413 296.6zM414.8 168.9L414.8 135.3L415.6 128.1L417.1 128.1L418.2 142.1L418.8 150.8L418.8 169.5L416.5 154.8zM418.3 283.6L418.3 315.7L419.1 322.5L421 322.5L422.3 308.9L422.9 300.2L422.9 284.6L420.8 293.6zM422.5 166.1L422.5 135.3L423.3 128.1L424.8 128.1L425.9 142.1L426.4 150.8L426.4 166.5L424.8 152.7zM426 287.9L426 315.7L426.8 322.5L428.7 322.5L429.9 308.9L430.6 300.2L430.6 287.3L428 300zM430.1 166.8L430.1 135.3L430.9 128.1L432.5 128.1L433.5 142.1L434.1 150.8L434.1 170L432.3 155.4zM433.6 286.4L433.6 315.7L434.4 322.5L436.4 322.5L437.6 308.9L438.3 300.2L438.3 288.2L435.8 300.4zM437.8 163.2L437.8 135.3L438.6 128.1L440.2 128.1L441.2 142.1L441.8 150.8L441.8 163.6L440.2 151zM441.3 287.5L441.3 315.7L442.1 322.5L444 322.5L445.3 308.9L445.9 300.2L445.9 286.1L444 295.5zM445.5 164.7L445.5 135.3L446.3 128.1L447.8 128.1L448.9 142.1L449.4 150.8L449.4 164.2L447.4 156.2zM449 289.2L449 315.7L449.8 322.5L451.7 322.5L453 308.9L453.6 300.2L453.6 287.5L451.2 303.7zM453.1 163.7L453.1 135.3L453.9 128.1L455.5 128.1L456.6 142.1L457.1 150.8L457.1 166.3L454.8 157zM456.6 283.5L456.6 315.7L457.4 322.5L459.4 322.5L460.6 308.9L461.3 300.2L461.3 283L459.4 300.2zM460.8 168.2L460.8 135.3L461.6 128.1L463.2 128.1L464.2 142.1L464.8 150.8L464.8 168.7L462.4 151zM464.3 281L464.3 315.7L465.1 322.5L467 322.5L468.3 308.9L468.9 300.2L468.9 281.7L466.3 293.8zM468.5 167.7L468.5 135.3L469.3 128.1L470.8 128.1L471.9 142.1L472.4 150.8L472.4 170L470.5 160.9zM472 289L472 315.7L472.8 322.5L474.7 322.5L476 308.9L476.6 300.2L476.6 289.2L474.6 301.7zM476.2 164.6L476.2 135.3L476.9 128.1L478.5 128.1L479.6 142.1L480.1 150.8L480.1 162.4L478.1 155.2zM479.7 287.1L479.7 315.7L480.5 322.5L482.4 322.5L483.6 308.9L484.3 300.2L484.3 286.8L481.9 294.6zM483.8 167.1L483.8 135.3L484.6 128.1L486.2 128.1L487.2 142.1L487.8 150.8L487.8 165.5L485.9 156.2zM487.3 287.3L487.3 315.7L488.1 322.5L490.1 322.5L491.3 308.9L491.9 300.2L491.9 286.4L489.8 301.9zM491.5 165.9L491.5 135.3L492.3 128.1L493.8 128.1L494.9 142.1L495.4 150.8L495.4 168.9L493.8 152zM495 282.8L495 315.7L495.8 322.5L497.7 322.5L499 308.9L499.6 300.2L499.6 283.5L496.9 291.9zM499.2 163.6L499.2 135.3L500 128.1L501.5 128.1L502.6 142.1L503.1 150.8L503.1 163L500.9 153zM502.7 283.8L502.7 315.7L503.5 322.5L505.4 322.5L506.6 308.9L507.3 300.2L507.3 286.4L504.6 291.8zM506.8 166.6L506.8 135.3L507.6 128.1L509.2 128.1L510.2 142.1L510.8 150.8L510.8 168.3L508.7 153.6zM510.3 280.8L510.3 315.7L511.1 322.5L513.1 322.5L514.3 308.9L515 300.2L515 281.9L512.3 295zM514.5 164.9L514.5 135.3L515.3 128.1L516.9 128.1L517.9 142.1L518.5 150.8L518.5 161.4L516.7 152.2zM518 284.1L518 315.7L518.8 322.5L520.7 322.5L522 308.9L522.6 300.2L522.6 283.6L520.8 295.2zM522.2 162.9L522.2 135.3L523 128.1L524.5 128.1L525.6 142.1L526.1 150.8L526.1 163.4L524.2 149.3zM525.7 288.4L525.7 315.7L526.5 322.5L528.4 322.5L529.6 308.9L530.3 300.2L530.3 285.5L528.3 298.4zM529.8 166.8L529.8 135.3L530.6 128.1L532.2 128.1L533.2 142.1L533.8 150.8L533.8 166.2L531.7 156.7zM533.3 288.4L533.3 315.7L534.1 322.5L536.1 322.5L537.3 308.9L538 300.2L538 289.3L535.6 300.1zM537.5 163.9L537.5 135.3L538.3 128.1L539.9 128.1L540.9 142.1L541.5 150.8L541.5 163.9L539.9 151.5zM541 286.3L541 315.7L541.8 322.5L543.7 322.5L545 308.9L545.6 300.2L545.6 284.8L543.3 295zM545.2 163.4L545.2 135.3L546 128.1L547.5 128.1L548.6 142.1L549.1 150.8L549.1 166.1L547.4 157.7zM548.7 287.1L548.7 315.7L549.5 322.5L551.4 322.5L552.7 308.9L553.3 300.2L553.3 286.7L550.9 294zM552.8 167.1L552.8 135.3L553.6 128.1L555.2 128.1L556.3 142.1L556.8 150.8L556.8 163.4L555.1 154.1zM556.3 285.7L556.3 315.7L557.1 322.5L559.1 322.5L560.3 308.9L561 300.2L561 287L558.6 293.7zM560.5 163.3L560.5 135.3L561.3 128.1L562.9 128.1L563.9 142.1L564.5 150.8L564.5 162L562.1 153.1zM564 286.7L564 315.7L564.8 322.5L566.8 322.5L568 308.9L568.6 300.2L568.6 289.2L566.3 304.5zM568.2 162.3L568.2 135.3L569 128.1L570.5 128.1L571.6 142.1L572.1 150.8L572.1 164.5L570.5 150.7zM571.7 285.3L571.7 315.7L572.5 322.5L574.4 322.5L575.7 308.9L576.3 300.2L576.3 286.2L574.4 294.9zM575.9 163L575.9 135.3L576.7 128.1L578.2 128.1L579.3 142.1L579.8 150.8L579.8 161.2L577.5 155.3zM579.4 287.2L579.4 315.7L580.2 322.5L582.1 322.5L583.3 308.9L584 300.2L584 285.5L582 302.9zM583.5 166.2L583.5 135.3L584.3 128.1L585.9 128.1L586.9 142.1L587.5 150.8L587.5 164.9L585.7 151.7zM587 289.6L587 315.7L587.8 322.5L589.8 322.5L591 308.9L591.7 300.2L591.7 289.3L589.1 300.4zM591.2 167.4L591.2 135.3L592 128.1L593.6 128.1L594.6 142.1L595.2 150.8L595.2 167.7L593.2 152zM594.7 283.8L594.7 315.7L595.5 322.5L597.4 322.5L598.7 308.9L599.3 300.2L599.3 281.2L597.1 291.2zM598.9 162L598.9 135.3L599.7 128.1L601.2 128.1L602.3 142.1L602.8 150.8L602.8 161.5L600.5 150.7zM602.4 287.2L602.4 315.7L603.2 322.5L605.1 322.5L606.4 308.9L607 300.2L607 284.8L604.4 295.3zM606.5 163.8L606.5 135.3L607.3 128.1L608.9 128.1L610 142.1L610.5 150.8L610.5 164.9L608.1 151.7zM610 287.2L610 315.7L610.8 322.5L612.8 322.5L614 308.9L614.7 300.2L614.7 287.7L612.1 295.9zM614.2 166.9L614.2 135.3L615 128.1L616.6 128.1L617.6 142.1L618.2 150.8L618.2 168.6L616.1 152.8zM617.7 284.7L617.7 315.7L618.5 322.5L620.4 322.5L621.7 308.9L622.3 300.2L622.3 282.7L620.2 298.2zM621.9 167L621.9 135.3L622.7 128.1L624.2 128.1L625.3 142.1L625.8 150.8L625.8 165.4L624.2 155.9zM625.4 283.9L625.4 315.7L626.2 322.5L628.1 322.5L629.4 308.9L630 300.2L630 286.7L627.6 300.4zM629.5 167.4L629.5 135.3L630.3 128.1L631.9 128.1L633 142.1L633.5 150.8L633.5 168.2L631.2 153.8zM633 287.9L633 315.7L633.8 322.5L635.8 322.5L637 308.9L637.7 300.2L637.7 290.1L635 296.1zM637.2 165.7L637.2 135.3L638 128.1L639.6 128.1L640.6 142.1L641.2 150.8L641.2 164.3L638.9 153.2zM640.7 288L640.7 315.7L641.5 322.5L643.4 322.5L644.7 308.9L645.3 300.2L645.3 287.2L643 297.5zM644.9 161.7L644.9 135.3L645.7 128.1L647.2 128.1L648.3 142.1L648.8 150.8L648.8 162.7L646.7 153.6zM648.4 289.6L648.4 315.7L649.2 322.5L651.1 322.5L652.4 308.9L653 300.2L653 290.1L650.8 303zM652.6 164L652.6 135.3L653.4 128.1L654.9 128.1L656 142.1L656.5 150.8L656.5 164.4L654.6 150zM656.1 285.9L656.1 315.7L656.9 322.5L658.8 322.5L660 308.9L660.7 300.2L660.7 286.5L658.1 301.3zM660.2 167.1L660.2 135.3L661 128.1L662.6 128.1L663.6 142.1L664.2 150.8L664.2 169.6L662 156.8zM663.7 288.7L663.7 315.7L664.5 322.5L666.5 322.5L667.7 308.9L668.4 300.2L668.4 288.5L665.6 302.1zM667.9 166L667.9 135.3L668.7 128.1L670.3 128.1L671.3 142.1L671.9 150.8L671.9 164L670.1 156.3zM671.4 284.5L671.4 315.7L672.2 322.5L674.1 322.5L675.4 308.9L676 300.2L676 280.7L673.5 289.8zM675.6 162.2L675.6 135.3L676.4 128.1L677.9 128.1L679 142.1L679.5 150.8L679.5 163.7L678 149.6zM679.1 285.4L679.1 315.7L679.9 322.5L681.8 322.5L683 308.9L683.7 300.2L683.7 281.5L681.6 290.9zM683.2 162.7L683.2 135.3L684 128.1L685.6 128.1L686.6 142.1L687.2 150.8L687.2 161.7L685.2 154.1zM686.7 281.7L686.7 315.7L687.5 322.5L689.5 322.5L690.7 308.9L691.4 300.2L691.4 281.5L688.8 299.6zM690.9 164.4L690.9 135.3L691.7 128.1L693.3 128.1L694.3 142.1L694.9 150.8L694.9 164.7L693 151.8zM694.4 283.5L694.4 315.7L695.2 322.5L697.1 322.5L698.4 308.9L699 300.2L699 284.5L697.2 291.3zM698.6 167.2L698.6 135.3L699.4 128.1L700.9 128.1L702 142.1L702.5 150.8L702.5 170.2L700.9 158.9zM702.1 284.3L702.1 315.7L702.9 322.5L704.8 322.5L706.1 308.9L706.7 300.2L706.7 283.1L704.3 297.4zM706.2 162.6L706.2 135.3L707 128.1L708.6 128.1L709.7 142.1L710.2 150.8L710.2 162.4L707.8 156zM709.7 282.8L709.7 315.7L710.5 322.5L712.5 322.5L713.7 308.9L714.4 300.2L714.4 281.7L712.2 292.4zM713.9 167.6L713.9 135.3L714.7 128.1L716.3 128.1L717.3 142.1L717.9 150.8L717.9 167.9L716.1 154.3zM717.4 288.6L717.4 315.7L718.2 322.5L720.1 322.5L721.4 308.9L722 300.2L722 288.3L719.6 299.7zM721.6 167.5L721.6 135.3L722.4 128.1L723.9 128.1L725 142.1L725.5 150.8L725.5 165L723.5 156.1zM725.1 281L725.1 315.7L725.9 322.5L727.8 322.5L729.1 308.9L729.7 300.2L729.7 282L727.7 297.3zM729.3 164L729.3 135.3L730.1 128.1L731.6 128.1L732.7 142.1L733.2 150.8L733.2 164.2L731.2 154.2zM732.8 287.9L732.8 315.7L733.6 322.5L735.5 322.5L736.7 308.9L737.4 300.2L737.4 284.4L735.5 294zM736.9 160.9L736.9 135.3L737.7 128.1L739.3 128.1L740.3 142.1L740.9 150.8L740.9 164.4L739.1 147.7zM740.4 284.8L740.4 315.7L741.2 322.5L743.2 322.5L744.4 308.9L745.1 300.2L745.1 283L742.8 293.8zM744.6 167L744.6 135.3L745.4 128.1L747 128.1L748 142.1L748.6 150.8L748.6 167.6L746.5 152.6zM748.1 283.2L748.1 315.7L748.9 322.5L750.8 322.5L752.1 308.9L752.7 300.2L752.7 286.4L750.9 294.5zM752.3 167.2L752.3 135.3L753.1 128.1L754.6 128.1L755.7 142.1L756.2 150.8L756.2 164.4L754 156zM755.8 282.6L755.8 315.7L756.6 322.5L758.5 322.5L759.8 308.9L760.4 300.2L760.4 281.8L757.8 291.5zM759.9 162.3L759.9 135.3L760.7 128.1L762.3 128.1L763.4 142.1L763.9 150.8L763.9 165.3L762 154.8zM763.4 280.5L763.4 315.7L764.2 322.5L766.2 322.5L767.4 308.9L768.1 300.2L768.1 282.3L765.6 294.7zM767.6 168.3L767.6 135.3L768.4 128.1L770 128.1L771 142.1L771.6 150.8L771.6 167.5L769.3 156.4zM771.1 284.3L771.1 315.7L771.9 322.5L773.8 322.5L775.1 308.9L775.7 300.2L775.7 282.3L773.1 290.1zM775.3 166.1L775.3 135.3L776.1 128.1L777.6 128.1L778.7 142.1L779.2 150.8L779.2 165.1L777.1 151.7zM778.8 285.6L778.8 315.7L779.6 322.5L781.5 322.5L782.8 308.9L783.4 300.2L783.4 285.5L781.2 293.9zM782.9 164.7L782.9 135.3L783.7 128.1L785.3 128.1L786.4 142.1L786.9 150.8L786.9 167L785.3 154.9zM786.4 284.9L786.4 315.7L787.2 322.5L789.2 322.5L790.4 308.9L791.1 300.2L791.1 286L788.9 301.3zM790.6 163.8L790.6 135.3L791.4 128.1L793 128.1L794 142.1L794.6 150.8L794.6 165.9L792.5 151.9zM794.1 289.1L794.1 315.7L794.9 322.5L796.9 322.5L798.1 308.9L798.8 300.2L798.8 289.3L796.5 300zM798.3 166.8L798.3 135.3L799.1 128.1L800.6 128.1L801.7 142.1L802.2 150.8L802.2 167.6L800.7 156.3zM801.8 284L801.8 315.7L802.6 322.5L804.5 322.5L805.8 308.9L806.4 300.2L806.4 285.6L804.4 295.1zM806 161.7L806 135.3L806.8 128.1L808.3 128.1L809.4 142.1L809.9 150.8L809.9 163.3L808.4 153.1zM809.5 285.6L809.5 315.7L810.3 322.5L812.2 322.5L813.4 308.9L814.1 300.2L814.1 284.8L811.8 292.6zM813.6 160.3L813.6 135.3L814.4 128.1L816 128.1L817 142.1L817.6 150.8L817.6 163.4L816 148.7zM817.1 286.4L817.1 315.7L817.9 322.5L819.9 322.5L821.1 308.9L821.8 300.2L821.8 288.7L819.3 299.4zM821.3 165.7L821.3 135.3L822.1 128.1L823.7 128.1L824.7 142.1L825.3 150.8L825.3 166.9L822.8 158zM824.8 287.6L824.8 315.7L825.6 322.5L827.5 322.5L828.8 308.9L829.4 300.2L829.4 283.5L827.5 292.7zM829 162.5L829 135.3L829.8 128.1L831.3 128.1L832.4 142.1L832.9 150.8L832.9 163.5L831.2 152.7zM832.5 285.9L832.5 315.7L833.3 322.5L835.2 322.5L836.4 308.9L837.1 300.2L837.1 284.2L834.7 299.5zM836.6 160.8L836.6 135.3L837.4 128.1L839 128.1L840 142.1L840.6 150.8L840.6 161.4L839 151.3zM840.1 284.1L840.1 315.7L840.9 322.5L842.9 322.5L844.1 308.9L844.8 300.2L844.8 286.6L842.3 294zM844.3 167.4L844.3 135.3L845.1 128.1L846.7 128.1L847.7 142.1L848.3 150.8L848.3 166.3L846.4 149.6zM847.8 285.8L847.8 315.7L848.6 322.5L850.5 322.5L851.8 308.9L852.4 300.2L852.4 286.8L850 295.6zM852 169.8L852 135.3L852.8 128.1L854.3 128.1L855.4 142.1L855.9 150.8L855.9 166.3L853.7 160.6zM855.5 289.1L855.5 315.7L856.3 322.5L858.2 322.5L859.5 308.9L860.1 300.2L860.1 288.3L857.6 304.1zM859.6 167.6L859.6 135.3L860.4 128.1L862 128.1L863.1 142.1L863.6 150.8L863.6 167.3L862 154.8zM863.1 283.6L863.1 315.7L863.9 322.5L865.9 322.5L867.1 308.9L867.8 300.2L867.8 285.1L865.2 296.3zM867.3 164.7L867.3 135.3L868.1 128.1L869.7 128.1L870.7 142.1L871.3 150.8L871.3 163.3L869.3 150zM870.8 282.9L870.8 315.7L871.6 322.5L873.5 322.5L874.8 308.9L875.4 300.2L875.4 283.3L873 293.7zM875 168.9L875 135.3L875.8 128.1L877.3 128.1L878.4 142.1L878.9 150.8L878.9 164.9L877.3 155.9zM878.5 283.9L878.5 315.7L879.3 322.5L881.2 322.5L882.5 308.9L883.1 300.2L883.1 282.4L881.3 291.8zM882.7 168.4L882.7 135.3L883.5 128.1L885 128.1L886.1 142.1L886.6 150.8L886.6 166L884.7 154.3zM886.2 288.7L886.2 315.7L887 322.5L888.9 322.5L890.1 308.9L890.8 300.2L890.8 287.3L888.6 299.1zM890.3 163.7L890.3 135.3L891.1 128.1L892.7 128.1L893.7 142.1L894.3 150.8L894.3 164.9L892.7 153zM893.8 289.4L893.8 315.7L894.6 322.5L896.6 322.5L897.8 308.9L898.5 300.2L898.5 288.1L895.8 302.5zM898 167.8L898 135.3L898.8 128.1L900.4 128.1L901.4 142.1L902 150.8L902 167.4L900.2 153.1zM901.5 287.7L901.5 315.7L902.2 322.5L903.5 322.5L904.5 308.9L905 300.2L905 286.9L903.6 299.1z" fill="#FFB5B8" stroke="#FFB5B8" stroke-width="0.5"/>
<path d="M211.9 150.8V317.6M215.9 300.2V133.4M219.4 150.8V317.6M223.5 300.2V133.4M227 150.8V317.6M231.2 300.2V133.4M234.7 150.8V317.6M238.9 300.2V133.4M242.4 150.8V317.6M246.6 300.2V133.4M250.1 150.8V317.6M254.2 300.2V133.4M257.7 150.8V317.6M261.9 300.2V133.4M265.4 150.8V317.6M269.6 300.2V133.4M273.1 150.8V317.6M277.2 300.2V133.4M280.7 150.8V317.6M284.9 300.2V133.4M288.4 150.8V317.6M292.6 300.2V133.4M296.1 150.8V317.6M300.2 300.2V133.4M303.8 150.8V317.6M307.9 300.2V133.4M311.4 150.8V317.6M315.6 300.2V133.4M319.1 150.8V317.6M323.3 300.2V133.4M326.8 150.8V317.6M330.9 300.2V133.4M334.4 150.8V317.6M338.6 300.2V133.4M342.1 150.8V317.6M346.3 300.2V133.4M349.8 150.8V317.6M353.9 300.2V133.4M357.4 150.8V317.6M361.6 300.2V133.4M365.1 150.8V317.6M369.3 300.2V133.4M372.8 150.8V317.6M377 300.2V133.4M380.5 150.8V317.6M384.6 300.2V133.4M388.1 150.8V317.6M392.3 300.2V133.4M395.8 150.8V317.6M400 300.2V133.4M403.5 150.8V317.6M407.6 300.2V133.4M411.1 150.8V317.6M415.3 300.2V133.4M418.8 150.8V317.6M423 300.2V133.4M426.5 150.8V317.6M430.6 300.2V133.4M434.1 150.8V317.6M438.3 300.2V133.4M441.8 150.8V317.6M446 300.2V133.4M449.5 150.8V317.6M453.7 300.2V133.4M457.2 150.8V317.6M461.3 300.2V133.4M464.8 150.8V317.6M469 300.2V133.4M472.5 150.8V317.6M476.7 300.2V133.4M480.2 150.8V317.6M484.3 300.2V133.4M487.8 150.8V317.6M492 300.2V133.4M495.5 150.8V317.6M499.7 300.2V133.4M503.2 150.8V317.6M507.3 300.2V133.4M510.8 150.8V317.6M515 300.2V133.4M518.5 150.8V317.6M522.7 300.2V133.4M526.2 150.8V317.6M530.4 300.2V133.4M533.9 150.8V317.6M538 300.2V133.4M541.5 150.8V317.6M545.7 300.2V133.4M549.2 150.8V317.6M553.4 300.2V133.4M556.9 150.8V317.6M561 300.2V133.4M564.5 150.8V317.6M568.7 300.2V133.4M572.2 150.8V317.6M576.4 300.2V133.4M579.9 150.8V317.6M584 300.2V133.4M587.5 150.8V317.6M591.7 300.2V133.4M595.2 150.8V317.6M599.4 300.2V133.4M602.9 150.8V317.6M607.1 300.2V133.4M610.6 150.8V317.6M614.7 300.2V133.4M618.2 150.8V317.6M622.4 300.2V133.4M625.9 150.8V317.6M630.1 300.2V133.4M633.6 150.8V317.6M637.7 300.2V133.4M641.2 150.8V317.6M645.4 300.2V133.4M648.9 150.8V317.6M653.1 300.2V133.4M656.6 150.8V317.6M660.7 300.2V133.4M664.2 150.8V317.6M668.4 300.2V133.4M671.9 150.8V317.6M676.1 300.2V133.4M679.6 150.8V317.6M683.8 300.2V133.4M687.2 150.8V317.6M691.4 300.2V133.4M694.9 150.8V317.6M699.1 300.2V133.4M702.6 150.8V317.6M706.8 300.2V133.4M710.3 150.8V317.6M714.4 300.2V133.4M717.9 150.8V317.6M722.1 300.2V133.4M725.6 150.8V317.6M729.8 300.2V133.4M733.3 150.8V317.6M737.4 300.2V133.4M740.9 150.8V317.6M745.1 300.2V133.4M748.6 150.8V317.6M752.8 300.2V133.4M756.3 150.8V317.6M760.5 300.2V133.4M764 150.8V317.6M768.1 300.2V133.4M771.6 150.8V317.6M775.8 300.2V133.4M779.3 150.8V317.6M783.5 300.2V133.4M787 150.8V317.6M791.1 300.2V133.4M794.6 150.8V317.6M798.8 300.2V133.4M802.3 150.8V317.6M806.5 300.2V133.4M810 150.8V317.6M814.1 300.2V133.4M817.6 150.8V317.6M821.8 300.2V133.4M825.3 150.8V317.6M829.5 300.2V133.4M833 150.8V317.6M837.1 300.2V133.4M840.6 150.8V317.6M844.8 300.2V133.4M848.3 150.8V317.6M852.5 300.2V133.4M856 150.8V317.6M860.2 300.2V133.4M863.7 150.8V317.6M867.8 300.2V133.4M871.3 150.8V317.6M875.5 300.2V133.4M879 150.8V317.6M883.2 300.2V133.4M886.7 150.8V317.6M890.8 300.2V133.4M894.3 150.8V317.6M898.5 300.2V133.4M902 150.8V317.6" stroke="#FFB5B8" stroke-width="1.39"/>
<path d="M139 128.1L139.3 128.1L139.7 128.1L140 128.1L140.4 128.1L140.7 128.1L141.1 128.1L141.4 128.1L141.8 128.1L142.1 128.1L142.5 128.1L142.8 128.1L143.2 128.1L143.5 128.1L143.9 132.2L144.2 137L144.6 139.7L144.9 134.9L145.2 130.2L145.6 128.1L145.9 128.1L146.3 128.1L146.6 128.1L147 128.1L147.3 128.1L147.7 128.1L148 128.1L148.4 128.1L148.7 128.1L149.1 128.1L149.4 128.1L149.8 128.1L150.1 128.1L150.5 128.1L150.8 128.1L151.1 128.1L151.5 131.7L151.8 136.5L152.2 140.2L152.5 135.4L152.9 130.7L153.2 128.1L153.6 128.1L153.9 128.1L154.3 128.1L154.6 128.1L155 128.1L155.3 128.1L155.7 128.1L156 128.1L156.3 128.1L156.7 128.1L157 128.1L157.4 128.1L157.7 128.1L158.1 128.1L158.4 128.1L158.8 128.1L159.1 131.3L159.5 136L159.8 140.7L160.2 135.9L160.5 131.2L160.9 128.1L161.2 128.1L161.6 128.1L161.9 128.1L162.2 128.1L162.6 128.1L162.9 128.1L163.3 128.1L163.6 128.1L164 128.1L164.3 128.1L164.7 128.1L165 128.1L165.4 128.1L165.7 128.1L166.1 128.1L166.4 128.1L166.8 130.8L167.1 135.5L167.5 140.3L167.8 136.4L168.1 131.7L168.5 128.1L168.8 128.1L169.2 128.1L169.5 128.1L169.9 128.1L170.2 128.1L170.6 128.1L170.9 128.1L171.3 128.1L171.6 128.1L172 128.1L172.3 128.1L172.7 128.1L173 128.1L173.4 128.1L173.7 128.1L173.7 164.4L173.4 164.4L173 164.4L172.7 164.4L172.3 163.4L172 159.3L171.6 155.2L171.3 151.1L170.9 147L170.6 142.9L170.2 138.8L169.9 139.7L169.5 143.8L169.2 147.9L168.8 152L168.5 156.1L168.1 160.2L167.8 164.3L167.5 164.4L167.1 164.4L166.8 164.4L166.4 164.4L166.1 164.4L165.7 164.4L165.4 164.4L165 164.4L164.7 163.8L164.3 159.7L164 155.6L163.6 151.5L163.3 147.4L162.9 143.3L162.6 139.2L162.2 139.3L161.9 143.4L161.6 147.5L161.2 151.6L160.9 155.7L160.5 159.8L160.2 163.9L159.8 164.4L159.5 164.4L159.1 164.4L158.8 164.4L158.4 164.4L158.1 164.4L157.7 164.4L157.4 164.4L157 164.2L156.7 160.2L156.3 156.1L156 152L155.7 147.9L155.3 143.8L155 139.7L154.6 138.9L154.3 143L153.9 147.1L153.6 151.2L153.2 155.3L152.9 159.4L152.5 163.5L152.2 164.4L151.8 164.4L151.5 164.4L151.1 164.4L150.8 164.4L150.5 164.4L150.1 164.4L149.8 164.4L149.4 164.4L149.1 160.6L148.7 156.5L148.4 152.4L148 148.3L147.7 144.2L147.3 140.1L147 138.5L146.6 142.6L146.3 146.6L145.9 150.7L145.6 154.8L145.2 158.9L144.9 163L144.6 164.4L144.2 164.4L143.9 164.4L143.5 164.4L143.2 164.4L142.8 164.4L142.5 164.4L142.1 164.4L141.8 164.4L141.4 161L141.1 156.9L140.7 152.8L140.4 148.7L140 144.6L139.7 140.5L139.3 138L139 142.1zM173.2 305L173.6 300.1L173.9 295.1L174.3 290.1L174.6 293.9L175 298.9L175.3 303.9L175.7 308.9L176 313.9L176.4 318.9L176.7 322.5L177.1 322.5L177.4 322.5L177.8 322.5L178.1 322.5L178.4 322.5L178.8 322.5L179.1 322.5L179.5 322.5L179.8 320.2L180.2 315.3L180.5 310.3L180.9 305.3L181.2 300.3L181.6 295.3L181.9 290.3L182.3 293.7L182.6 298.7L183 303.7L183.3 308.7L183.7 313.6L184 318.6L184.4 322.5L184.7 322.5L185.1 322.5L185.4 322.5L185.8 322.5L186.1 322.5L186.4 322.5L186.8 322.5L187.1 322.5L187.5 320.5L187.8 315.5L188.2 310.5L188.5 305.5L188.9 300.5L189.2 295.6L189.6 290.6L189.9 293.5L190.3 298.4L190.6 303.4L191 308.4L191.3 313.4L191.7 318.4L192 322.5L192.4 322.5L192.7 322.5L193.1 322.5L193.4 322.5L193.8 322.5L194.1 322.5L194.4 322.5L194.4 286.6L194.1 286.6L193.8 286.6L193.4 286.6L193.1 286.6L192.7 286.6L192.4 286.6L192 286.6L191.7 286.6L191.3 286.6L191 286.6L190.6 290.8L190.3 295.2L189.9 299.6L189.6 302.2L189.2 297.8L188.9 293.4L188.5 289L188.2 286.6L187.8 286.6L187.5 286.6L187.1 286.6L186.8 286.6L186.4 286.6L186.1 286.6L185.8 286.6L185.4 286.6L185.1 286.6L184.7 286.6L184.4 286.6L184 286.6L183.7 286.6L183.3 286.6L183 290.6L182.6 295L182.3 299.4L181.9 302.4L181.6 298L181.2 293.6L180.9 289.2L180.5 286.6L180.2 286.6L179.8 286.6L179.5 286.6L179.1 286.6L178.8 286.6L178.4 286.6L178.1 286.6L177.8 286.6L177.4 286.6L177.1 286.6L176.7 286.6L176.4 286.6L176 286.6L175.7 286.6L175.3 290.4L175 294.8L174.6 299.2L174.3 302.6L173.9 298.2L173.6 293.8L173.2 289.4zM194 165.1L194 135.3L194.5 128.1L195.6 128.1L196.3 142.1L196.7 150.8L196.7 168.4L195.6 157.6zM196.2 282.9L196.2 315.7L197 322.5L198.8 322.5L200 308.9L200.7 300.2L200.7 283.3L198.7 297.1zM200.2 172.2L200.2 135.3L201 128.1L202.4 128.1L203.4 142.1L203.9 150.8L203.9 171.5L201.9 155.7zM203.5 311.2L203.8 306.3L204.2 301.3L204.5 296.4L204.9 291.5L205.2 292.5L205.5 297.4L205.9 302.4L206.2 307.3L206.6 312.3L206.9 317.2L207.3 322.1L207.6 322.5L208 322.5L208.3 322.5L208.6 322.5L209 322.5L209.3 322.5L209.7 322.5L210 322.5L210.4 322.4L210.7 317.5L211.1 312.5L211.4 307.6L211.7 302.7L212.1 297.7L212.4 292.8L212.8 291.2L213.1 296.1L213.5 301.1L213.8 306L214.2 310.9L214.5 315.9L214.8 320.8L215.2 322.5L215.5 322.5L215.9 322.5L215.9 286.6L215.5 286.6L215.2 286.6L214.8 286.6L214.5 286.6L214.2 286.6L213.8 288.6L213.5 292.9L213.1 297.3L212.8 301.6L212.4 300.2L212.1 295.9L211.7 291.5L211.4 287.1L211.1 286.6L210.7 286.6L210.4 286.6L210 286.6L209.7 286.6L209.3 286.6L209 286.6L208.6 286.6L208.3 286.6L208 286.6L207.6 286.6L207.3 286.6L206.9 286.6L206.6 286.6L206.2 287.4L205.9 291.7L205.5 296.1L205.2 300.5L204.9 301.4L204.5 297L204.2 292.7L203.8 288.3L203.5 286.6zM215.4 169.1L215.4 135.3L216.2 128.1L217.8 128.1L218.8 142.1L219.4 150.8L219.4 166.6L217.1 155.3zM218.9 281.9L218.9 315.7L219.7 322.5L221.6 322.5L222.9 308.9L223.5 300.2L223.5 281.7L220.9 294zM223.1 165.5L223.1 135.3L223.9 128.1L225.4 128.1L226.5 142.1L227 150.8L227 165.3L225.2 149.1zM226.6 286.2L226.6 315.7L227.4 322.5L229.3 322.5L230.6 308.9L231.2 300.2L231.2 285.7L229 293.5zM230.8 172.4L230.8 135.3L231.5 128.1L233.1 128.1L234.2 142.1L234.7 150.8L234.7 170.4L232.4 155.5zM234.3 281L234.3 315.7L235.1 322.5L237 322.5L238.2 308.9L238.9 300.2L238.9 282.4L236.2 296.7zM238.4 168.1L238.4 135.3L239.2 128.1L240.8 128.1L241.8 142.1L242.4 150.8L242.4 168.4L240.6 156.4zM241.9 280.2L241.9 315.7L242.7 322.5L244.7 322.5L245.9 308.9L246.6 300.2L246.6 280L244.4 288.2zM246.1 168.3L246.1 135.3L246.9 128.1L248.5 128.1L249.5 142.1L250.1 150.8L250.1 168.3L248.2 156.5zM249.6 279.9L249.6 315.7L250.4 322.5L252.3 322.5L253.6 308.9L254.2 300.2L254.2 281.8L252.3 289.3zM253.8 172.9L253.8 135.3L254.6 128.1L256.1 128.1L257.2 142.1L257.7 150.8L257.7 170.9L255.3 157.8zM257.3 286.3L257.3 315.7L258.1 322.5L260 322.5L261.3 308.9L261.9 300.2L261.9 283.4L259.6 295.1zM261.4 166.4L261.4 135.3L262.2 128.1L263.8 128.1L264.9 142.1L265.4 150.8L265.4 166.8L263.5 155.4zM264.9 281.3L264.9 315.7L265.7 322.5L267.7 322.5L268.9 308.9L269.6 300.2L269.6 280.3L267.1 293.2zM269.1 164.6L269.1 135.3L269.9 128.1L271.5 128.1L272.5 142.1L273.1 150.8L273.1 162.9L270.9 155.2zM272.6 278.8L272.6 315.7L273.4 322.5L275.3 322.5L276.6 308.9L277.2 300.2L277.2 279.6L274.7 289.6zM276.8 166.9L276.8 135.3L277.6 128.1L279.1 128.1L280.2 142.1L280.7 150.8L280.7 165.2L279.2 156.3zM280.3 282.6L280.3 315.7L281.1 322.5L283 322.5L284.3 308.9L284.9 300.2L284.9 281.6L282.7 291.8zM284.4 164L284.4 135.3L285.2 128.1L286.8 128.1L287.9 142.1L288.4 150.8L288.4 163.6L286.3 153.6zM287.9 284.2L287.9 315.7L288.7 322.5L290.7 322.5L291.9 308.9L292.6 300.2L292.6 283.3L290.1 294zM292.1 164.9L292.1 135.3L292.9 128.1L294.5 128.1L295.5 142.1L296.1 150.8L296.1 163.3L294.1 156zM295.6 280.5L295.6 315.7L296.4 322.5L298.4 322.5L299.6 308.9L300.2 300.2L300.2 280.2L298.1 289.8zM299.8 171.9L299.8 135.3L300.6 128.1L302.1 128.1L303.2 142.1L303.8 150.8L303.8 170.5L301.6 159.5zM303.3 283.5L303.3 315.7L304.1 322.5L306 322.5L307.3 308.9L307.9 300.2L307.9 284.3L305.2 295.2zM307.4 171.9L307.4 135.3L308.2 128.1L309.8 128.1L310.9 142.1L311.4 150.8L311.4 171.9L309.6 156.5zM310.9 281.6L310.9 315.7L311.8 322.5L313.7 322.5L314.9 308.9L315.6 300.2L315.6 280.1L313.7 293.8zM315.1 166.9L315.1 135.3L315.9 128.1L317.5 128.1L318.5 142.1L319.1 150.8L319.1 167.7L316.9 159.5zM318.6 284.6L318.6 315.7L319.4 322.5L321.4 322.5L322.6 308.9L323.3 300.2L323.3 280.4L321.1 297.3zM322.8 165.1L322.8 135.3L323.6 128.1L325.2 128.1L326.2 142.1L326.8 150.8L326.8 163.5L324.7 157.2zM326.3 287.8L326.3 315.7L327.1 322.5L329 322.5L330.3 308.9L330.9 300.2L330.9 288.1L328.2 300.5zM330.5 167.2L330.5 135.3L331.3 128.1L332.8 128.1L333.9 142.1L334.4 150.8L334.4 166.9L332.5 157.8zM334 279.1L334 315.7L334.8 322.5L336.7 322.5L338 308.9L338.6 300.2L338.6 279.3L336.3 293.5zM338.1 167.4L338.1 135.3L338.9 128.1L340.5 128.1L341.6 142.1L342.1 150.8L342.1 168.8L340.3 160.2zM341.6 281.7L341.6 315.7L342.4 322.5L344.4 322.5L345.6 308.9L346.3 300.2L346.3 281.7L344.4 288.7zM345.8 163.8L345.8 135.3L346.6 128.1L348.2 128.1L349.2 142.1L349.8 150.8L349.8 165.8L347.6 154.8zM349.3 283.4L349.3 315.7L350.1 322.5L352 322.5L353.3 308.9L353.9 300.2L353.9 287.9L351.9 294.2zM353.5 164.6L353.5 135.3L354.3 128.1L355.8 128.1L356.9 142.1L357.4 150.8L357.4 165.2L355.4 155zM357 283.4L357 315.7L357.8 322.5L359.7 322.5L361 308.9L361.6 300.2L361.6 285.8L359.6 296.6zM361.1 167.9L361.1 135.3L361.9 128.1L363.5 128.1L364.6 142.1L365.1 150.8L365.1 169.2L362.8 153.1zM364.6 281.3L364.6 315.7L365.4 322.5L367.4 322.5L368.6 308.9L369.3 300.2L369.3 279L367 291zM368.8 172.2L368.8 135.3L369.6 128.1L371.2 128.1L372.2 142.1L372.8 150.8L372.8 172L371.2 161.5zM372.3 279L372.3 315.7L373.1 322.5L375.1 322.5L376.3 308.9L377 300.2L377 281.3L374.2 295.9zM376.5 166.2L376.5 135.3L377.3 128.1L378.9 128.1L379.9 142.1L380.5 150.8L380.5 165.7L378.4 154.1zM380 282L380 315.7L380.8 322.5L382.7 322.5L384 308.9L384.6 300.2L384.6 281.9L382 293.6zM384.1 168.2L384.1 135.3L384.9 128.1L386.5 128.1L387.6 142.1L388.1 150.8L388.1 168.6L386.1 158.5zM387.6 283.7L387.6 315.7L388.4 322.5L390.4 322.5L391.6 308.9L392.3 300.2L392.3 286.1L389.8 296.1zM391.8 169.8L391.8 135.3L392.6 128.1L394.2 128.1L395.2 142.1L395.8 150.8L395.8 168.7L393.6 162zM395.3 285.6L395.3 315.7L396.1 322.5L398.1 322.5L399.3 308.9L400 300.2L400 285.6L397.8 294.1zM399.5 167.7L399.5 135.3L400.3 128.1L401.9 128.1L402.9 142.1L403.5 150.8L403.5 166.1L401.1 157.9zM403 282.4L403 315.7L403.8 322.5L405.7 322.5L407 308.9L407.6 300.2L407.6 282.6L404.9 296.5zM407.2 165.7L407.2 135.3L408 128.1L409.5 128.1L410.6 142.1L411.1 150.8L411.1 168.1L409.1 157.7zM410.7 282.7L410.7 315.7L411.5 322.5L413.4 322.5L414.7 308.9L415.3 300.2L415.3 285.2L413 293.8zM414.8 167.7L414.8 135.3L415.6 128.1L417.2 128.1L418.2 142.1L418.8 150.8L418.8 169.6L416.3 153.3zM418.3 283.3L418.3 315.7L419.1 322.5L421.1 322.5L422.3 308.9L423 300.2L423 279.9L420.9 290.2zM422.5 169.2L422.5 135.3L423.3 128.1L424.9 128.1L425.9 142.1L426.5 150.8L426.5 171.4L424.6 161.6zM426 281.4L426 315.7L426.8 322.5L428.7 322.5L430 308.9L430.6 300.2L430.6 281.4L428.6 291.2zM430.2 169.6L430.2 135.3L431 128.1L432.5 128.1L433.6 142.1L434.1 150.8L434.1 172.4L432.2 156.7zM433.7 280.9L433.7 315.7L434.5 322.5L436.4 322.5L437.7 308.9L438.3 300.2L438.3 280.1L436 294.6zM437.8 169L437.8 135.3L438.6 128.1L440.2 128.1L441.3 142.1L441.8 150.8L441.8 169.2L439.4 158zM441.3 282.4L441.3 315.7L442.1 322.5L444.1 322.5L445.3 308.9L446 300.2L446 283.1L444.1 296.5zM445.5 171.1L445.5 135.3L446.3 128.1L447.9 128.1L448.9 142.1L449.5 150.8L449.5 171.5L447.1 159.6zM449 286.1L449 315.7L449.8 322.5L451.8 322.5L453 308.9L453.7 300.2L453.7 285.8L451.2 294.3zM453.2 170L453.2 135.3L454 128.1L455.6 128.1L456.6 142.1L457.2 150.8L457.2 168.5L455.3 154zM456.7 279.4L456.7 315.7L457.5 322.5L459.4 322.5L460.7 308.9L461.3 300.2L461.3 277.5L458.9 287zM460.8 171.9L460.8 135.3L461.6 128.1L463.2 128.1L464.3 142.1L464.8 150.8L464.8 168.6L463.3 158.3zM464.3 285.2L464.3 315.7L465.1 322.5L467.1 322.5L468.3 308.9L469 300.2L469 287.8L466.6 294.4zM468.5 167.8L468.5 135.3L469.3 128.1L470.9 128.1L471.9 142.1L472.5 150.8L472.5 167.1L470.7 157.2zM472 284.1L472 315.7L472.8 322.5L474.8 322.5L476 308.9L476.7 300.2L476.7 286L474.5 301.3zM476.2 170.9L476.2 135.3L477 128.1L478.6 128.1L479.6 142.1L480.2 150.8L480.2 171.2L478.6 159.8zM479.7 278.9L479.7 315.7L480.5 322.5L482.4 322.5L483.7 308.9L484.3 300.2L484.3 278.7L481.7 293zM483.9 171.2L483.9 135.3L484.7 128.1L486.2 128.1L487.3 142.1L487.8 150.8L487.8 168.8L486 162.6zM487.4 283.4L487.4 315.7L488.2 322.5L490.1 322.5L491.4 308.9L492 300.2L492 280.1L490.1 293.6zM491.5 168.6L491.5 135.3L492.3 128.1L493.9 128.1L494.9 142.1L495.5 150.8L495.5 172.5L493.9 155.7zM495 282.2L495 315.7L495.8 322.5L497.8 322.5L499 308.9L499.7 300.2L499.7 282L497.1 297.7zM499.2 169.5L499.2 135.3L500 128.1L501.6 128.1L502.6 142.1L503.2 150.8L503.2 170.3L501.3 160.1zM502.7 288.1L502.7 315.7L503.5 322.5L505.4 322.5L506.7 308.9L507.3 300.2L507.3 286L505.4 301.4zM506.9 171.4L506.9 135.3L507.7 128.1L509.2 128.1L510.3 142.1L510.8 150.8L510.8 171.9L509.3 156.7zM510.4 281.2L510.4 315.7L511.2 322.5L513.1 322.5L514.4 308.9L515 300.2L515 280.7L512.7 291.4zM514.5 168.6L514.5 135.3L515.3 128.1L516.9 128.1L518 142.1L518.5 150.8L518.5 167.5L517 156zM518 282L518 315.7L518.8 322.5L520.8 322.5L522 308.9L522.7 300.2L522.7 281.8L520.2 297.8zM522.2 170.2L522.2 135.3L523 128.1L524.6 128.1L525.6 142.1L526.2 150.8L526.2 170L524.2 155.5zM525.7 284.5L525.7 315.7L526.5 322.5L528.5 322.5L529.7 308.9L530.4 300.2L530.4 283.1L528.5 297zM529.9 163.1L529.9 135.3L530.7 128.1L532.2 128.1L533.3 142.1L533.9 150.8L533.9 165.5L531.7 151.7zM533.4 285L533.4 315.7L534.2 322.5L536.1 322.5L537.4 308.9L538 300.2L538 284.6L535.6 299zM537.6 170.4L537.6 135.3L538.3 128.1L539.9 128.1L541 142.1L541.5 150.8L541.5 171.6L539.8 161.7zM541.1 287.1L541.1 315.7L541.9 322.5L543.8 322.5L545 308.9L545.7 300.2L545.7 283.7L543.8 298.1zM545.2 171.7L545.2 135.3L546 128.1L547.6 128.1L548.6 142.1L549.2 150.8L549.2 169.6L547.3 155.9zM548.7 283.7L548.7 315.7L549.5 322.5L551.5 322.5L552.7 308.9L553.4 300.2L553.4 284.2L551.5 292.8zM552.9 172.2L552.9 135.3L553.7 128.1L555.3 128.1L556.3 142.1L556.9 150.8L556.9 172.8L555.2 159.7zM556.4 278L556.4 315.7L557.2 322.5L559.1 322.5L560.4 308.9L561 300.2L561 277.7L558.4 296zM560.6 167L560.6 135.3L561.4 128.1L562.9 128.1L564 142.1L564.5 150.8L564.5 168.6L562.8 158.7zM564.1 285.1L564.1 315.7L564.9 322.5L566.8 322.5L568.1 308.9L568.7 300.2L568.7 283.7L565.9 291zM568.2 168.2L568.2 135.3L569 128.1L570.6 128.1L571.7 142.1L572.2 150.8L572.2 166.2L570.3 157.8zM571.7 280.1L571.7 315.7L572.5 322.5L574.5 322.5L575.7 308.9L576.4 300.2L576.4 278.6L573.6 287.6zM575.9 165.1L575.9 135.3L576.7 128.1L578.3 128.1L579.3 142.1L579.9 150.8L579.9 167.6L577.6 152.7zM579.4 287.4L579.4 315.7L580.2 322.5L582.1 322.5L583.4 308.9L584 300.2L584 285.5L582.1 301.6zM583.6 165.7L583.6 135.3L584.4 128.1L585.9 128.1L587 142.1L587.5 150.8L587.5 165.7L585.6 155.3zM587.1 281.1L587.1 315.7L587.9 322.5L589.8 322.5L591.1 308.9L591.7 300.2L591.7 282L589.2 288.8zM591.2 169L591.2 135.3L592 128.1L593.6 128.1L594.7 142.1L595.2 150.8L595.2 171.3L593.6 158.6zM594.7 285.3L594.7 315.7L595.5 322.5L597.5 322.5L598.7 308.9L599.4 300.2L599.4 283.3L596.9 297.8zM598.9 164.9L598.9 135.3L599.7 128.1L601.3 128.1L602.3 142.1L602.9 150.8L602.9 167.2L600.4 149zM602.4 277.7L602.4 315.7L603.2 322.5L605.2 322.5L606.4 308.9L607.1 300.2L607.1 282.1L605 293.6zM606.6 168.1L606.6 135.3L607.4 128.1L609 128.1L610 142.1L610.6 150.8L610.6 169.3L608.5 156.9zM610.1 281.7L610.1 315.7L610.9 322.5L612.8 322.5L614.1 308.9L614.7 300.2L614.7 279.6L612.8 292.1zM614.2 167.8L614.2 135.3L615 128.1L616.6 128.1L617.7 142.1L618.2 150.8L618.2 169L616.3 156.1zM617.8 285.6L617.8 315.7L618.5 322.5L620.5 322.5L621.7 308.9L622.4 300.2L622.4 283.9L620.5 299.6zM621.9 167.9L621.9 135.3L622.7 128.1L624.3 128.1L625.3 142.1L625.9 150.8L625.9 169.3L623.5 155zM625.4 284.8L625.4 315.7L626.2 322.5L628.2 322.5L629.4 308.9L630.1 300.2L630.1 287.6L627.3 295.5zM629.6 168.6L629.6 135.3L630.4 128.1L632 128.1L633 142.1L633.6 150.8L633.6 168.7L631.2 152.4zM633.1 282.4L633.1 315.7L633.9 322.5L635.8 322.5L637.1 308.9L637.7 300.2L637.7 281.6L635.2 296.5zM637.3 169.4L637.3 135.3L638.1 128.1L639.6 128.1L640.7 142.1L641.2 150.8L641.2 169.4L639.6 161.2zM640.8 282.8L640.8 315.7L641.6 322.5L643.5 322.5L644.8 308.9L645.4 300.2L645.4 282L643.1 295.5zM644.9 168.9L644.9 135.3L645.7 128.1L647.3 128.1L648.4 142.1L648.9 150.8L648.9 164.5L646.7 153.6zM648.4 282.4L648.4 315.7L649.2 322.5L651.2 322.5L652.4 308.9L653.1 300.2L653.1 280.4L650.9 290.1zM652.6 169.8L652.6 135.3L653.4 128.1L655 128.1L656 142.1L656.6 150.8L656.6 168.2L655 159.1zM656.1 281.6L656.1 315.7L656.9 322.5L658.8 322.5L660.1 308.9L660.7 300.2L660.7 279.6L658.3 292.6zM660.3 168L660.3 135.3L661.1 128.1L662.6 128.1L663.7 142.1L664.2 150.8L664.2 166.2L661.9 154zM663.8 280.5L663.8 315.7L664.6 322.5L666.5 322.5L667.8 308.9L668.4 300.2L668.4 279.9L666.2 292.9zM667.9 164.4L667.9 135.3L668.7 128.1L670.3 128.1L671.4 142.1L671.9 150.8L671.9 167.4L670.2 150.8zM671.4 282.8L671.4 315.7L672.2 322.5L674.2 322.5L675.4 308.9L676.1 300.2L676.1 282.9L673.7 293.2zM675.6 165.3L675.6 135.3L676.4 128.1L678 128.1L679 142.1L679.6 150.8L679.6 166.7L677.8 150.9zM679.1 280.3L679.1 315.7L679.9 322.5L681.9 322.5L683.1 308.9L683.8 300.2L683.8 281.6L681.5 291.4zM683.3 167.7L683.3 135.3L684.1 128.1L685.6 128.1L686.7 142.1L687.2 150.8L687.2 169.9L684.9 162.2zM686.8 278.7L686.8 315.7L687.6 322.5L689.5 322.5L690.8 308.9L691.4 300.2L691.4 277.8L689.3 295.6zM691 166.1L691 135.3L691.7 128.1L693.3 128.1L694.4 142.1L694.9 150.8L694.9 169.6L693.4 153zM694.5 278.5L694.5 315.7L695.2 322.5L697.2 322.5L698.4 308.9L699.1 300.2L699.1 281.3L696.8 289.6zM698.6 168.4L698.6 135.3L699.4 128.1L701 128.1L702 142.1L702.6 150.8L702.6 167.8L701.1 155.6zM702.1 284.2L702.1 315.7L702.9 322.5L704.9 322.5L706.1 308.9L706.8 300.2L706.8 281.3L704 294.4zM706.3 169L706.3 135.3L707.1 128.1L708.7 128.1L709.7 142.1L710.3 150.8L710.3 170.2L708.1 161.1zM709.8 279.6L709.8 315.7L710.6 322.5L712.5 322.5L713.8 308.9L714.4 300.2L714.4 282.3L712.4 291.8zM714 169.7L714 135.3L714.8 128.1L716.3 128.1L717.4 142.1L717.9 150.8L717.9 169.4L716 159.4zM717.5 283.9L717.5 315.7L718.3 322.5L720.2 322.5L721.5 308.9L722.1 300.2L722.1 285.4L719.8 294.9zM721.6 173.5L721.6 135.3L722.4 128.1L724 128.1L725.1 142.1L725.6 150.8L725.6 173.6L723.9 159.1zM725.1 283.7L725.1 315.7L725.9 322.5L727.9 322.5L729.1 308.9L729.8 300.2L729.8 283.8L727.9 299.9zM729.3 172.2L729.3 135.3L730.1 128.1L731.7 128.1L732.7 142.1L733.3 150.8L733.3 170L731.5 159.3zM732.8 281.2L732.8 315.7L733.6 322.5L735.5 322.5L736.8 308.9L737.4 300.2L737.4 282.4L735.4 290zM737 168.6L737 135.3L737.8 128.1L739.3 128.1L740.4 142.1L740.9 150.8L740.9 168.7L738.9 158.6zM740.5 277.8L740.5 315.7L741.3 322.5L743.2 322.5L744.5 308.9L745.1 300.2L745.1 282L742.8 287.3zM744.6 171.6L744.6 135.3L745.4 128.1L747 128.1L748.1 142.1L748.6 150.8L748.6 171.8L746.9 160.2zM748.1 287.1L748.1 315.7L748.9 322.5L750.9 322.5L752.1 308.9L752.8 300.2L752.8 286.1L750.8 293.5zM752.3 167.6L752.3 135.3L753.1 128.1L754.7 128.1L755.7 142.1L756.3 150.8L756.3 168.9L754.5 161.6zM755.8 280.3L755.8 315.7L756.6 322.5L758.6 322.5L759.8 308.9L760.5 300.2L760.5 283.8L757.9 298zM760 168.3L760 135.3L760.8 128.1L762.4 128.1L763.4 142.1L764 150.8L764 165.7L762.1 154.1zM763.5 283.9L763.5 315.7L764.3 322.5L766.2 322.5L767.5 308.9L768.1 300.2L768.1 280.2L765.5 293.2zM767.6 169.3L767.6 135.3L768.4 128.1L770 128.1L771.1 142.1L771.6 150.8L771.6 168.4L769.7 162.8zM771.1 282L771.1 315.7L771.9 322.5L773.9 322.5L775.1 308.9L775.8 300.2L775.8 278.5L773.5 295.7zM775.3 171.9L775.3 135.3L776.1 128.1L777.7 128.1L778.7 142.1L779.3 150.8L779.3 168.2L777 162.2zM778.8 279.1L778.8 315.7L779.6 322.5L781.6 322.5L782.8 308.9L783.5 300.2L783.5 282.9L780.8 290.5zM783 172.6L783 135.3L783.8 128.1L785.4 128.1L786.4 142.1L787 150.8L787 172.3L785.3 157zM786.5 284.6L786.5 315.7L787.3 322.5L789.2 322.5L790.5 308.9L791.1 300.2L791.1 287.2L788.8 297.1zM790.7 167.5L790.7 135.3L791.5 128.1L793 128.1L794.1 142.1L794.6 150.8L794.6 170.8L793 153.5zM794.2 281.2L794.2 315.7L795 322.5L796.9 322.5L798.2 308.9L798.8 300.2L798.8 282L796 289.9zM798.3 170.7L798.3 135.3L799.1 128.1L800.7 128.1L801.8 142.1L802.3 150.8L802.3 168.9L799.9 158.6zM801.8 278.5L801.8 315.7L802.6 322.5L804.6 322.5L805.8 308.9L806.5 300.2L806.5 281.9L804.2 287.9zM806 171.2L806 135.3L806.8 128.1L808.4 128.1L809.4 142.1L810 150.8L810 170.5L807.8 160.7zM809.5 282.2L809.5 315.7L810.3 322.5L812.2 322.5L813.5 308.9L814.1 300.2L814.1 285.6L812.1 296.9zM813.7 171.2L813.7 135.3L814.5 128.1L816 128.1L817.1 142.1L817.6 150.8L817.6 173.2L816.1 156.7zM817.2 278.2L817.2 315.7L818 322.5L819.9 322.5L821.2 308.9L821.8 300.2L821.8 281.8L819 287.4zM821.3 168L821.3 135.3L822.1 128.1L823.7 128.1L824.8 142.1L825.3 150.8L825.3 166.1L823.4 157zM824.8 278.9L824.8 315.7L825.6 322.5L827.6 322.5L828.8 308.9L829.5 300.2L829.5 281.3L826.9 288zM829 167.4L829 135.3L829.8 128.1L831.4 128.1L832.4 142.1L833 150.8L833 167L830.7 156.1zM832.5 284.2L832.5 315.7L833.3 322.5L835.2 322.5L836.5 308.9L837.1 300.2L837.1 285.3L834.4 298.1zM836.7 167L836.7 135.3L837.5 128.1L839 128.1L840.1 142.1L840.6 150.8L840.6 165.7L838.4 150.3zM840.2 283.1L840.2 315.7L841 322.5L842.9 322.5L844.2 308.9L844.8 300.2L844.8 282.3L842.6 294.6zM844.4 166.6L844.4 135.3L845.1 128.1L846.7 128.1L847.8 142.1L848.3 150.8L848.3 168.2L845.8 157.7zM847.9 282.3L847.9 315.7L848.6 322.5L850.6 322.5L851.8 308.9L852.5 300.2L852.5 284.5L850.2 299.3zM852 168.8L852 135.3L852.8 128.1L854.4 128.1L855.4 142.1L856 150.8L856 170.7L854 160.9zM855.5 281.4L855.5 315.7L856.3 322.5L858.3 322.5L859.5 308.9L860.2 300.2L860.2 283.7L858 293zM859.7 170.7L859.7 135.3L860.5 128.1L862.1 128.1L863.1 142.1L863.7 150.8L863.7 173.1L861.5 161.5zM863.2 286.8L863.2 315.7L864 322.5L865.9 322.5L867.2 308.9L867.8 300.2L867.8 287.2L865.5 296.7zM867.4 169.6L867.4 135.3L868.2 128.1L869.7 128.1L870.8 142.1L871.3 150.8L871.3 169.8L869.1 155.8zM870.9 280.8L870.9 315.7L871.7 322.5L873.6 322.5L874.9 308.9L875.5 300.2L875.5 280.5L873.6 292zM875 166.8L875 135.3L875.8 128.1L877.4 128.1L878.5 142.1L879 150.8L879 165.8L877 153.5zM878.5 281L878.5 315.7L879.3 322.5L881.3 322.5L882.5 308.9L883.2 300.2L883.2 280.5L880.6 293zM882.7 167L882.7 135.3L883.5 128.1L885.1 128.1L886.1 142.1L886.7 150.8L886.7 169.5L884.9 158.4zM886.2 287.1L886.2 315.7L887 322.5L888.9 322.5L890.2 308.9L890.8 300.2L890.8 287.1L888.4 300.5zM890.4 167.9L890.4 135.3L891.2 128.1L892.7 128.1L893.8 142.1L894.3 150.8L894.3 169.6L892.8 151.9zM893.9 279.3L893.9 315.7L894.7 322.5L896.6 322.5L897.9 308.9L898.5 300.2L898.5 282.4L896.6 292.5zM898 165.8L898 135.3L898.8 128.1L900.4 128.1L901.5 142.1L902 150.8L902 167.4L899.6 152.6zM901.5 282L901.5 315.7L902.2 322.5L903.5 322.5L904.5 308.9L905 300.2L905 284.6L903.7 294.6z" fill="#E24A33" stroke="#E24A33" stroke-width="0.5"/>
<path d="M173.6 150.8V317.6M194.3 300.2V133.4M196.6 150.8V317.6M200.6 300.2V133.4M203.8 150.8V317.6M215.8 300.2V133.4M219.3 150.8V317.6M223.4 300.2V133.4M226.9 150.8V317.6M231.1 300.2V133.4M234.6 150.8V317.6M238.8 300.2V133.4M242.3 150.8V317.6M246.5 300.2V133.4M250 150.8V317.6M254.1 300.2V133.4M257.6 150.8V317.6M261.8 300.2V133.4M265.3 150.8V317.6M269.5 300.2V133.4M273 150.8V317.6M277.1 300.2V133.4M280.6 150.8V317.6M284.8 300.2V133.4M288.3 150.8V317.6M292.5 300.2V133.4M296 150.8V317.6M300.1 300.2V133.4M303.6 150.8V317.6M307.8 300.2V133.4M311.3 150.8V317.6M315.5 300.2V133.4M319 150.8V317.6M323.2 300.2V133.4M326.7 150.8V317.6M330.8 300.2V133.4M334.3 150.8V317.6M338.5 300.2V133.4M342 150.8V317.6M346.2 300.2V133.4M349.7 150.8V317.6M353.8 300.2V133.4M357.3 150.8V317.6M361.5 300.2V133.4M365 150.8V317.6M369.2 300.2V133.4M372.7 150.8V317.6M376.9 300.2V133.4M380.4 150.8V317.6M384.5 300.2V133.4M388 150.8V317.6M392.2 300.2V133.4M395.7 150.8V317.6M399.9 300.2V133.4M403.4 150.8V317.6M407.5 300.2V133.4M411 150.8V317.6M415.2 300.2V133.4M418.7 150.8V317.6M422.9 300.2V133.4M426.4 150.8V317.6M430.5 300.2V133.4M434 150.8V317.6M438.2 300.2V133.4M441.7 150.8V317.6M445.9 300.2V133.4M449.4 150.8V317.6M453.6 300.2V133.4M457.1 150.8V317.6M461.2 300.2V133.4M464.7 150.8V317.6M468.9 300.2V133.4M472.4 150.8V317.6M476.6 300.2V133.4M480.1 150.8V317.6M484.2 300.2V133.4M487.7 150.8V317.6M491.9 300.2V133.4M495.4 150.8V317.6M499.6 300.2V133.4M503.1 150.8V317.6M507.2 300.2V133.4M510.7 150.8V317.6M514.9 300.2V133.4M518.4 150.8V317.6M522.6 300.2V133.4M526.1 150.8V317.6M530.2 300.2V133.4M533.8 150.8V317.6M537.9 300.2V133.4M541.4 150.8V317.6M545.6 300.2V133.4M549.1 150.8V317.6M553.3 300.2V133.4M556.8 150.8V317.6M560.9 300.2V133.4M564.4 150.8V317.6M568.6 300.2V133.4M572.1 150.8V317.6M576.3 300.2V133.4M579.8 150.8V317.6M583.9 300.2V133.4M587.4 150.8V317.6M591.6 300.2V133.4M595.1 150.8V317.6M599.3 300.2V133.4M602.8 150.8V317.6M607 300.2V133.4M610.5 150.8V317.6M614.6 300.2V133.4M618.1 150.8V317.6M622.3 300.2V133.4M625.8 150.8V317.6M630 300.2V133.4M633.5 150.8V317.6M637.6 300.2V133.4M641.1 150.8V317.6M645.3 300.2V133.4M648.8 150.8V317.6M653 300.2V133.4M656.5 150.8V317.6M660.6 300.2V133.4M664.1 150.8V317.6M668.3 300.2V133.4M671.8 150.8V317.6M676 300.2V133.4M679.5 150.8V317.6M683.6 300.2V133.4M687.1 150.8V317.6M691.3 300.2V133.4M694.8 150.8V317.6M699 300.2V133.4M702.5 150.8V317.6M706.7 300.2V133.4M710.2 150.8V317.6M714.3 300.2V133.4M717.8 150.8V317.6M722 300.2V133.4M725.5 150.8V317.6M729.7 300.2V133.4M733.2 150.8V317.6M737.3 300.2V133.4M740.8 150.8V317.6M745 300.2V133.4M748.5 150.8V317.6M752.7 300.2V133.4M756.2 150.8V317.6M760.4 300.2V133.4M763.9 150.8V317.6M768 300.2V133.4M771.5 150.8V317.6M775.7 300.2V133.4M779.2 150.8V317.6M783.4 300.2V133.4M786.9 150.8V317.6M791 300.2V133.4M794.5 150.8V317.6M798.7 300.2V133.4M802.2 150.8V317.6M806.4 300.2V133.4M809.9 150.8V317.6M814 300.2V133.4M817.5 150.8V317.6M821.7 300.2V133.4M825.2 150.8V317.6M829.4 300.2V133.4M832.9 150.8V317.6M837 300.2V133.4M840.5 150.8V317.6M844.7 300.2V133.4M848.2 150.8V317.6M852.4 300.2V133.4M855.9 150.8V317.6M860.1 300.2V133.4M863.6 150.8V317.6M867.7 300.2V133.4M871.2 150.8V317.6M875.4 300.2V133.4M878.9 150.8V317.6M883.1 300.2V133.4M886.6 150.8V317.6M890.7 300.2V133.4M894.2 150.8V317.6M898.4 300.2V133.4M901.9 150.8V317.6" stroke="#E24A33" stroke-width="2.0" stroke-opacity=".8"/>
</g>
<g clip-path="url(#c2)" class="ln">
<path d="M139 475.9H139.5V487.4H143.25V475.9H147V487.4H150.92V475.9H154.67V487.4H158.59V475.9H162.34V487.4H166.26V475.9H170.01V487.4H173.93V475.9H177.68V487.4H181.6V475.9H185.35V487.4H189.27V475.9H193.02V487.4H196.94V475.9H200.69V487.4H204.61V475.9H208.36V487.4H212.28V475.9H216.03V487.4H219.95V475.9H223.7V487.4H227.62V475.9H231.37V487.4H235.29V475.9H239.04V487.4H242.96V475.9H246.71V487.4H250.63V475.9H254.38V487.4H258.3V475.9H262.05V487.4H265.97V475.9H269.72V487.4H273.64V475.9H277.39V487.4H281.31V475.9H285.06V487.4H288.98V475.9H292.73V487.4H296.65V475.9H300.4V487.4H304.32V475.9H308.07V487.4H311.99V475.9H315.74V487.4H319.66V475.9H323.41V487.4H327.33V475.9H331.08V487.4H335V475.9H338.75V487.4H342.67V475.9H346.42V487.4H350.34V475.9H354.09V487.4H358.01V475.9H361.76V487.4H365.68V475.9H369.43V487.4H373.35V475.9H377.1V487.4H381.02V475.9H384.77V487.4H388.69V475.9H392.44V487.4H396.36V475.9H400.11V487.4H404.03V475.9H407.78V487.4H411.7V475.9H415.45V487.4H419.37V475.9H423.12V487.4H427.04V475.9H430.79V487.4H434.71V475.9H438.46V487.4H442.38V475.9H446.13V487.4H450.05V475.9H453.8V487.4H457.72V475.9H461.47V487.4H465.39V475.9H469.14V487.4H473.06V475.9H476.81V487.4H480.73V475.9H484.48V487.4H488.4V475.9H492.15V487.4H496.07V475.9H499.82V487.4H503.74V475.9H507.49V487.4H511.41V475.9H515.16V487.4H519.08V475.9H522.83V487.4H526.75V475.9H530.5V487.4H534.42V475.9H538.17V487.4H542.09V475.9H545.84V487.4H549.76V475.9H553.51V487.4H557.43V475.9H561.18V487.4H565.1V475.9H568.85V487.4H572.77V475.9H576.52V487.4H580.44V475.9H584.19V487.4H588.11V475.9H591.86V487.4H595.78V475.9H599.53V487.4H603.45V475.9H607.2V487.4H611.12V475.9H614.87V487.4H618.79V475.9H622.54V487.4H626.46V475.9H630.21V487.4H634.13V475.9H637.88V487.4H641.8V475.9H645.55V487.4H649.47V475.9H653.22V487.4H657.14V475.9H660.89V487.4H664.81V475.9H668.56V487.4H672.48V475.9H676.23V487.4H680.15V475.9H683.9V487.4H687.82V475.9H691.57V487.4H695.49V475.9H699.24V487.4H703.16V475.9H706.91V487.4H710.83V475.9H714.58V487.4H718.5V475.9H722.25V487.4H726.17V475.9H729.92V487.4H733.84V475.9H737.59V487.4H741.51V475.9H745.26V487.4H749.18V475.9H752.93V487.4H756.85V475.9H760.6V487.4H764.52V475.9H768.27V487.4H772.19V475.9H775.94V487.4H779.86V475.9H783.61V487.4H787.53V475.9H791.28V487.4H795.2V475.9H798.95V487.4H802.87V475.9H806.62V487.4H810.54V475.9H814.29V487.4H818.21V475.9H821.96V487.4H825.88V475.9H829.63V487.4H833.55V475.9H837.3V487.4H841.22V475.9H844.97V487.4H848.89V475.9H852.64V487.4H856.56V475.9H860.31V487.4H864.23V475.9H867.98V487.4H871.9V475.9H875.65V487.4H879.57V475.9H883.32V487.4H887.24V475.9H890.99V487.4H894.91V475.9H898.66V487.4H902.58V475.9H905" stroke="#E24A33"/>
<path d="M139 488.68H141.25V500.18H145.25V488.68H148.85V500.18H152.92V488.68H156.52V500.18H160.59V488.68H164.19V500.18H168.26V488.68H171.86V500.18H175.93V488.68H179.53V500.18H183.6V488.68H187.2V500.18H191.27V488.68H194.87V500.18H198.94V488.68H202.54V500.18H206.61V488.68H210.21V500.18H214.68M213.88 488.68H217.88V500.18H221.95V488.68H225.55V500.18H229.62V488.68H233.22V500.18H237.29V488.68H240.89V500.18H244.96V488.68H248.56V500.18H252.63V488.68H256.23V500.18H260.3V488.68H263.9V500.18H267.97V488.68H271.57V500.18H275.64V488.68H279.24V500.18H283.31V488.68H286.91V500.18H291.38M290.58 488.68H294.58V500.18H298.65V488.68H302.25V500.18H306.32V488.68H309.92V500.18H313.99V488.68H317.59V500.18H321.66V488.68H325.26V500.18H329.33V488.68H332.93V500.18H337V488.68H340.6V500.18H344.67V488.68H348.27V500.18H352.34V488.68H355.94V500.18H360.01V488.68H363.61V500.18H368.08M367.28 488.68H371.28V500.18H375.35V488.68H378.95V500.18H383.02V488.68H386.62V500.18H390.69V488.68H394.29V500.18H398.36V488.68H401.96V500.18H406.03V488.68H409.63V500.18H413.7V488.68H417.3V500.18H421.37V488.68H424.97V500.18H429.04V488.68H432.64V500.18H436.71V488.68H440.31V500.18H444.78M443.98 488.68H447.98V500.18H452.05V488.68H455.65V500.18H459.72V488.68H463.32V500.18H467.39V488.68H470.99V500.18H475.06V488.68H478.66V500.18H482.73V488.68H486.33V500.18H490.4V488.68H494V500.18H498.07V488.68H501.67V500.18H505.74V488.68H509.34V500.18H513.41V488.68H517.01V500.18H521.48M520.68 488.68H524.68V500.18H528.75V488.68H532.35V500.18H536.42V488.68H540.02V500.18H544.09V488.68H547.69V500.18H551.76V488.68H555.36V500.18H559.43V488.68H563.03V500.18H567.1V488.68H570.7V500.18H574.77V488.68H578.37V500.18H582.44V488.68H586.04V500.18H590.11V488.68H593.71V500.18H598.18M597.38 488.68H601.38V500.18H605.45V488.68H609.05V500.18H613.12V488.68H616.72V500.18H620.79V488.68H624.39V500.18H628.46V488.68H632.06V500.18H636.13V488.68H639.73V500.18H643.8V488.68H647.4V500.18H651.47V488.68H655.07V500.18H659.14V488.68H662.74V500.18H666.81V488.68H670.41V500.18H674.88M674.08 488.68H678.08V500.18H682.15V488.68H685.75V500.18H689.82V488.68H693.42V500.18H697.49V488.68H701.09V500.18H705.16V488.68H708.76V500.18H712.83V488.68H716.43V500.18H720.5V488.68H724.1V500.18H728.17V488.68H731.77V500.18H735.84V488.68H739.44V500.18H743.51V488.68H747.11V500.18H751.58M750.78 488.68H754.78V500.18H758.85V488.68H762.45V500.18H766.52V488.68H770.12V500.18H774.19V488.68H777.79V500.18H781.86V488.68H785.46V500.18H789.53V488.68H793.13V500.18H797.2V488.68H800.8V500.18H804.87V488.68H808.47V500.18H812.54V488.68H816.14V500.18H820.21V488.68H823.81V500.18H828.28M827.48 488.68H831.48V500.18H835.55V488.68H839.15V500.18H843.22V488.68H846.82V500.18H850.89V488.68H854.49V500.18H858.56V488.68H862.16V500.18H866.23V488.68H869.83V500.18H873.9V488.68H877.5V500.18H881.57V488.68H885.17V500.18H889.24V488.68H892.84V500.18H896.91V488.68H900.51V500.18H905" stroke="#348ABD"/>
<path d="M139 512.96H905" stroke="#988ED5"/>
<path d="M139 514.24H180.5V525.74H183.5V514.24H209.7V525.74H213.18V514.24H217.43V525.74H220.85V514.24H225.1V525.74H228.52V514.24H232.77V525.74H236.19V514.24H240.44V525.74H243.86V514.24H248.11V525.74H251.53V514.24H255.78V525.74H259.2V514.24H263.45V525.74H266.87V514.24H271.12V525.74H274.54V514.24H278.79V525.74H282.21V514.24H286.46V525.74H289.88V514.24H294.13V525.74H297.55V514.24H301.8V525.74H305.22V514.24H309.47V525.74H312.89V514.24H317.14V525.74H320.56V514.24H324.81V525.74H328.23V514.24H332.48V525.74H335.9V514.24H340.15V525.74H343.57V514.24H347.82V525.74H351.24V514.24H355.49V525.74H358.91V514.24H363.16V525.74H366.58V514.24H370.83V525.74H374.25V514.24H378.5V525.74H381.92V514.24H386.17V525.74H389.59V514.24H393.84V525.74H397.26V514.24H401.51V525.74H404.93V514.24H409.18V525.74H412.6V514.24H416.85V525.74H420.27V514.24H424.52V525.74H427.94V514.24H432.19V525.74H435.61V514.24H439.86V525.74H443.28V514.24H447.53V525.74H450.95V514.24H455.2V525.74H458.62V514.24H462.87V525.74H466.29V514.24H470.54V525.74H473.96V514.24H478.21V525.74H481.63V514.24H485.88V525.74H489.3V514.24H493.55V525.74H496.97V514.24H501.22V525.74H504.64V514.24H508.89V525.74H512.31V514.24H516.56V525.74H519.98V514.24H524.23V525.74H527.65V514.24H531.9V525.74H535.32V514.24H539.57V525.74H542.99V514.24H547.24V525.74H550.66V514.24H554.91V525.74H558.33V514.24H562.58V525.74H566V514.24H570.25V525.74H573.67V514.24H577.92V525.74H581.34V514.24H585.59V525.74H589.01V514.24H593.26V525.74H596.68V514.24H600.93V525.74H604.35V514.24H608.6V525.74H612.02V514.24H616.27V525.74H619.69V514.24H623.94V525.74H627.36V514.24H631.61V525.74H635.03V514.24H639.28V525.74H642.7V514.24H646.95V525.74H650.37V514.24H654.62V525.74H658.04V514.24H662.29V525.74H665.71V514.24H669.96V525.74H673.38V514.24H677.63V525.74H681.05V514.24H685.3V525.74H688.72V514.24H692.97V525.74H696.39V514.24H700.64V525.74H704.06V514.24H708.31V525.74H711.73V514.24H715.98V525.74H719.4V514.24H723.65V525.74H727.07V514.24H731.32V525.74H734.74V514.24H738.99V525.74H742.41V514.24H746.66V525.74H750.08V514.24H754.33V525.74H757.75V514.24H762V525.74H765.42V514.24H769.67V525.74H773.09V514.24H777.34V525.74H780.76V514.24H785.01V525.74H788.43V514.24H792.68V525.74H796.1V514.24H800.35V525.74H803.77V514.24H808.02V525.74H811.44V514.24H815.69V525.74H819.11V514.24H823.36V525.74H826.78V514.24H831.03V525.74H834.45V514.24H838.7V525.74H842.12V514.24H846.37V525.74H849.79V514.24H854.04V525.74H857.46V514.24H861.71V525.74H865.13V514.24H869.38V525.74H872.8V514.24H877.05V525.74H880.47V514.24H884.72V525.74H888.14V514.24H892.39V525.74H895.81V514.24H900.06V525.74H903.48V514.24H905" stroke="#777777"/>
<path d="M139 527.02H180V538.52H182.5V527.02H209.7V538.52H213.18V527.02H217.43V538.52H220.85V527.02H225.1V538.52H228.52V527.02H232.77V538.52H236.19V527.02H240.44V538.52H243.86V527.02H248.11V538.52H251.53V527.02H255.78V538.52H259.2V527.02H263.45V538.52H266.87V527.02H271.12V538.52H274.54V527.02H278.79V538.52H282.21V527.02H286.46V538.52H289.88V527.02H294.13V538.52H297.55V527.02H301.8V538.52H305.22V527.02H309.47V538.52H312.89V527.02H317.14V538.52H320.56V527.02H324.81V538.52H328.23V527.02H332.48V538.52H335.9V527.02H340.15V538.52H343.57V527.02H347.82V538.52H351.24V527.02H355.49V538.52H358.91V527.02H363.16V538.52H366.58V527.02H370.83V538.52H374.25V527.02H378.5V538.52H381.92V527.02H386.17V538.52H389.59V527.02H393.84V538.52H397.26V527.02H401.51V538.52H404.93V527.02H409.18V538.52H412.6V527.02H416.85V538.52H420.27V527.02H424.52V538.52H427.94V527.02H432.19V538.52H435.61V527.02H439.86V538.52H443.28V527.02H447.53V538.52H450.95V527.02H455.2V538.52H458.62V527.02H462.87V538.52H466.29V527.02H470.54V538.52H473.96V527.02H478.21V538.52H481.63V527.02H485.88V538.52H489.3V527.02H493.55V538.52H496.97V527.02H501.22V538.52H504.64V527.02H508.89V538.52H512.31V527.02H516.56V538.52H519.98V527.02H524.23V538.52H527.65V527.02H531.9V538.52H535.32V527.02H539.57V538.52H542.99V527.02H547.24V538.52H550.66V527.02H554.91V538.52H558.33V527.02H562.58V538.52H566V527.02H570.25V538.52H573.67V527.02H577.92V538.52H581.34V527.02H585.59V538.52H589.01V527.02H593.26V538.52H596.68V527.02H600.93V538.52H604.35V527.02H608.6V538.52H612.02V527.02H616.27V538.52H619.69V527.02H623.94V538.52H627.36V527.02H631.61V538.52H635.03V527.02H639.28V538.52H642.7V527.02H646.95V538.52H650.37V527.02H654.62V538.52H658.04V527.02H662.29V538.52H665.71V527.02H669.96V538.52H673.38V527.02H677.63V538.52H681.05V527.02H685.3V538.52H688.72V527.02H692.97V538.52H696.39V527.02H700.64V538.52H704.06V527.02H708.31V538.52H711.73V527.02H715.98V538.52H719.4V527.02H723.65V538.52H727.07V527.02H731.32V538.52H734.74V527.02H738.99V538.52H742.41V527.02H746.66V538.52H750.08V527.02H754.33V538.52H757.75V527.02H762V538.52H765.42V527.02H769.67V538.52H773.09V527.02H777.34V538.52H780.76V527.02H785.01V538.52H788.43V527.02H792.68V538.52H796.1V527.02H800.35V538.52H803.77V527.02H808.02V538.52H811.44V527.02H815.69V538.52H819.11V527.02H823.36V538.52H826.78V527.02H831.03V538.52H834.45V527.02H838.7V538.52H842.12V527.02H846.37V538.52H849.79V527.02H854.04V538.52H857.46V527.02H861.71V538.52H865.13V527.02H869.38V538.52H872.8V527.02H877.05V538.52H880.47V527.02H884.72V538.52H888.14V527.02H892.39V538.52H895.81V527.02H900.06V538.52H903.48V527.02H905" stroke="#FBC15E"/>
<path d="M139 551.3H174.6V539.8H180.4V551.3H182.8V539.8H193.8V551.3H198V539.8H209.9V551.3H213.18V539.8H217.43V551.3H220.85V539.8H225.1V551.3H228.52V539.8H232.77V551.3H236.19V539.8H240.44V551.3H243.86V539.8H248.11V551.3H251.53V539.8H255.78V551.3H259.2V539.8H263.45V551.3H266.87V539.8H271.12V551.3H274.54V539.8H278.79V551.3H282.21V539.8H286.46V551.3H289.88V539.8H294.13V551.3H297.55V539.8H301.8V551.3H305.22V539.8H309.47V551.3H312.89V539.8H317.14V551.3H320.56V539.8H324.81V551.3H328.23V539.8H332.48V551.3H335.9V539.8H340.15V551.3H343.57V539.8H347.82V551.3H351.24V539.8H355.49V551.3H358.91V539.8H363.16V551.3H366.58V539.8H370.83V551.3H374.25V539.8H378.5V551.3H381.92V539.8H386.17V551.3H389.59V539.8H393.84V551.3H397.26V539.8H401.51V551.3H404.93V539.8H409.18V551.3H412.6V539.8H416.85V551.3H420.27V539.8H424.52V551.3H427.94V539.8H432.19V551.3H435.61V539.8H439.86V551.3H443.28V539.8H447.53V551.3H450.95V539.8H455.2V551.3H458.62V539.8H462.87V551.3H466.29V539.8H470.54V551.3H473.96V539.8H478.21V551.3H481.63V539.8H485.88V551.3H489.3V539.8H493.55V551.3H496.97V539.8H501.22V551.3H504.64V539.8H508.89V551.3H512.31V539.8H516.56V551.3H519.98V539.8H524.23V551.3H527.65V539.8H531.9V551.3H535.32V539.8H539.57V551.3H542.99V539.8H547.24V551.3H550.66V539.8H554.91V551.3H558.33V539.8H562.58V551.3H566V539.8H570.25V551.3H573.67V539.8H577.92V551.3H581.34V539.8H585.59V551.3H589.01V539.8H593.26V551.3H596.68V539.8H600.93V551.3H604.35V539.8H608.6V551.3H612.02V539.8H616.27V551.3H619.69V539.8H623.94V551.3H627.36V539.8H631.61V551.3H635.03V539.8H639.28V551.3H642.7V539.8H646.95V551.3H650.37V539.8H654.62V551.3H658.04V539.8H662.29V551.3H665.71V539.8H669.96V551.3H673.38V539.8H677.63V551.3H681.05V539.8H685.3V551.3H688.72V539.8H692.97V551.3H696.39V539.8H700.64V551.3H704.06V539.8H708.31V551.3H711.73V539.8H715.98V551.3H719.4V539.8H723.65V551.3H727.07V539.8H731.32V551.3H734.74V539.8H738.99V551.3H742.41V539.8H746.66V551.3H750.08V539.8H754.33V551.3H757.75V539.8H762V551.3H765.42V539.8H769.67V551.3H773.09V539.8H777.34V551.3H780.76V539.8H785.01V551.3H788.43V539.8H792.68V551.3H796.1V539.8H800.35V551.3H803.77V539.8H808.02V551.3H811.44V539.8H815.69V551.3H819.11V539.8H823.36V551.3H826.78V539.8H831.03V551.3H834.45V539.8H838.7V551.3H842.12V539.8H846.37V551.3H849.79V539.8H854.04V551.3H857.46V539.8H861.71V551.3H865.13V539.8H869.38V551.3H872.8V539.8H877.05V551.3H880.47V539.8H884.72V551.3H888.14V539.8H892.39V551.3H895.81V539.8H900.06V551.3H903.48V539.8H905" stroke="#8EBA42"/>
<path d="M139 552.58H140.25V564.08H145.75V552.58H148.5V564.08H153.5V552.58H156V564.08H161.25V552.58H163.75V564.08H169V552.58H171.75V564.08H175.5V552.58H186.5V564.08H199.5V552.58H202.5V564.08H206.75V552.58H209.6V564.08H213.18V552.58H217.43V564.08H220.85V552.58H225.1V564.08H228.52V552.58H232.77V564.08H236.19V552.58H240.44V564.08H243.86V552.58H248.11V564.08H251.53V552.58H255.78V564.08H259.2V552.58H263.45V564.08H266.87V552.58H271.12V564.08H274.54V552.58H278.79V564.08H282.21V552.58H286.46V564.08H289.88V552.58H294.13V564.08H297.55V552.58H301.8V564.08H305.22V552.58H309.47V564.08H312.89V552.58H317.14V564.08H320.56V552.58H324.81V564.08H328.23V552.58H332.48V564.08H335.9V552.58H340.15V564.08H343.57V552.58H347.82V564.08H351.24V552.58H355.49V564.08H358.91V552.58H363.16V564.08H366.58V552.58H370.83V564.08H374.25V552.58H378.5V564.08H381.92V552.58H386.17V564.08H389.59V552.58H393.84V564.08H397.26V552.58H401.51V564.08H404.93V552.58H409.18V564.08H412.6V552.58H416.85V564.08H420.27V552.58H424.52V564.08H427.94V552.58H432.19V564.08H435.61V552.58H439.86V564.08H443.28V552.58H447.53V564.08H450.95V552.58H455.2V564.08H458.62V552.58H462.87V564.08H466.29V552.58H470.54V564.08H473.96V552.58H478.21V564.08H481.63V552.58H485.88V564.08H489.3V552.58H493.55V564.08H496.97V552.58H501.22V564.08H504.64V552.58H508.89V564.08H512.31V552.58H516.56V564.08H519.98V552.58H524.23V564.08H527.65V552.58H531.9V564.08H535.32V552.58H539.57V564.08H542.99V552.58H547.24V564.08H550.66V552.58H554.91V564.08H558.33V552.58H562.58V564.08H566V552.58H570.25V564.08H573.67V552.58H577.92V564.08H581.34V552.58H585.59V564.08H589.01V552.58H593.26V564.08H596.68V552.58H600.93V564.08H604.35V552.58H608.6V564.08H612.02V552.58H616.27V564.08H619.69V552.58H623.94V564.08H627.36V552.58H631.61V564.08H635.03V552.58H639.28V564.08H642.7V552.58H646.95V564.08H650.37V552.58H654.62V564.08H658.04V552.58H662.29V564.08H665.71V552.58H669.96V564.08H673.38V552.58H677.63V564.08H681.05V552.58H685.3V564.08H688.72V552.58H692.97V564.08H696.39V552.58H700.64V564.08H704.06V552.58H708.31V564.08H711.73V552.58H715.98V564.08H719.4V552.58H723.65V564.08H727.07V552.58H731.32V564.08H734.74V552.58H738.99V564.08H742.41V552.58H746.66V564.08H750.08V552.58H754.33V564.08H757.75V552.58H762V564.08H765.42V552.58H769.67V564.08H773.09V552.58H777.34V564.08H780.76V552.58H785.01V564.08H788.43V552.58H792.68V564.08H796.1V552.58H800.35V564.08H803.77V552.58H808.02V564.08H811.44V552.58H815.69V564.08H819.11V552.58H823.36V564.08H826.78V552.58H831.03V564.08H834.45V552.58H838.7V564.08H842.12V552.58H846.37V564.08H849.79V552.58H854.04V564.08H857.46V552.58H861.71V564.08H865.13V552.58H869.38V564.08H872.8V552.58H877.05V564.08H880.47V552.58H884.72V564.08H888.14V552.58H892.39V564.08H895.81V552.58H900.06V564.08H903.48V552.58H905" stroke="#FFB5B8"/>
<path d="M139 565.36H140.25V576.86H145.75V565.36H148.5V576.86H153.5V565.36H156V576.86H161.25V565.36H163.75V576.86H169V565.36H171.75V576.86H199.5V565.36H202.5V576.86H213.18V565.36H217.43V576.86H220.85V565.36H225.1V576.86H228.52V565.36H232.77V576.86H236.19V565.36H240.44V576.86H243.86V565.36H248.11V576.86H251.53V565.36H255.78V576.86H259.2V565.36H263.45V576.86H266.87V565.36H271.12V576.86H274.54V565.36H278.79V576.86H282.21V565.36H286.46V576.86H289.88V565.36H294.13V576.86H297.55V565.36H301.8V576.86H305.22V565.36H309.47V576.86H312.89V565.36H317.14V576.86H320.56V565.36H324.81V576.86H328.23V565.36H332.48V576.86H335.9V565.36H340.15V576.86H343.57V565.36H347.82V576.86H351.24V565.36H355.49V576.86H358.91V565.36H363.16V576.86H366.58V565.36H370.83V576.86H374.25V565.36H378.5V576.86H381.92V565.36H386.17V576.86H389.59V565.36H393.84V576.86H397.26V565.36H401.51V576.86H404.93V565.36H409.18V576.86H412.6V565.36H416.85V576.86H420.27V565.36H424.52V576.86H427.94V565.36H432.19V576.86H435.61V565.36H439.86V576.86H443.28V565.36H447.53V576.86H450.95V565.36H455.2V576.86H458.62V565.36H462.87V576.86H466.29V565.36H470.54V576.86H473.96V565.36H478.21V576.86H481.63V565.36H485.88V576.86H489.3V565.36H493.55V576.86H496.97V565.36H501.22V576.86H504.64V565.36H508.89V576.86H512.31V565.36H516.56V576.86H519.98V565.36H524.23V576.86H527.65V565.36H531.9V576.86H535.32V565.36H539.57V576.86H542.99V565.36H547.24V576.86H550.66V565.36H554.91V576.86H558.33V565.36H562.58V576.86H566V565.36H570.25V576.86H573.67V565.36H577.92V576.86H581.34V565.36H585.59V576.86H589.01V565.36H593.26V576.86H596.68V565.36H600.93V576.86H604.35V565.36H608.6V576.86H612.02V565.36H616.27V576.86H619.69V565.36H623.94V576.86H627.36V565.36H631.61V576.86H635.03V565.36H639.28V576.86H642.7V565.36H646.95V576.86H650.37V565.36H654.62V576.86H658.04V565.36H662.29V576.86H665.71V565.36H669.96V576.86H673.38V565.36H677.63V576.86H681.05V565.36H685.3V576.86H688.72V565.36H692.97V576.86H696.39V565.36H700.64V576.86H704.06V565.36H708.31V576.86H711.73V565.36H715.98V576.86H719.4V565.36H723.65V576.86H727.07V565.36H731.32V576.86H734.74V565.36H738.99V576.86H742.41V565.36H746.66V576.86H750.08V565.36H754.33V576.86H757.75V565.36H762V576.86H765.42V565.36H769.67V576.86H773.09V565.36H777.34V576.86H780.76V565.36H785.01V576.86H788.43V565.36H792.68V576.86H796.1V565.36H800.35V576.86H803.77V565.36H808.02V576.86H811.44V565.36H815.69V576.86H819.11V565.36H823.36V576.86H826.78V565.36H831.03V576.86H834.45V565.36H838.7V576.86H842.12V565.36H846.37V576.86H849.79V565.36H854.04V576.86H857.46V565.36H861.71V576.86H865.13V565.36H869.38V576.86H872.8V565.36H877.05V576.86H880.47V565.36H884.72V576.86H888.14V565.36H892.39V576.86H895.81V565.36H900.06V576.86H903.48V565.36H905" stroke="#E24A33"/>
<path d="M139 578.14H140.25V589.64H145.75V578.14H148.5V589.64H153.5V578.14H156V589.64H161.25V578.14H163.75V589.64H169V578.14H171.75V589.64H213.18V578.14H217.43V589.64H220.85V578.14H225.1V589.64H228.52V578.14H232.77V589.64H236.19V578.14H240.44V589.64H243.86V578.14H248.11V589.64H251.53V578.14H255.78V589.64H259.2V578.14H263.45V589.64H266.87V578.14H271.12V589.64H274.54V578.14H278.79V589.64H282.21V578.14H286.46V589.64H289.88V578.14H294.13V589.64H297.55V578.14H301.8V589.64H305.22V578.14H309.47V589.64H312.89V578.14H317.14V589.64H320.56V578.14H324.81V589.64H328.23V578.14H332.48V589.64H335.9V578.14H340.15V589.64H343.57V578.14H347.82V589.64H351.24V578.14H355.49V589.64H358.91V578.14H363.16V589.64H366.58V578.14H370.83V589.64H374.25V578.14H378.5V589.64H381.92V578.14H386.17V589.64H389.59V578.14H393.84V589.64H397.26V578.14H401.51V589.64H404.93V578.14H409.18V589.64H412.6V578.14H416.85V589.64H420.27V578.14H424.52V589.64H427.94V578.14H432.19V589.64H435.61V578.14H439.86V589.64H443.28V578.14H447.53V589.64H450.95V578.14H455.2V589.64H458.62V578.14H462.87V589.64H466.29V578.14H470.54V589.64H473.96V578.14H478.21V589.64H481.63V578.14H485.88V589.64H489.3V578.14H493.55V589.64H496.97V578.14H501.22V589.64H504.64V578.14H508.89V589.64H512.31V578.14H516.56V589.64H519.98V578.14H524.23V589.64H527.65V578.14H531.9V589.64H535.32V578.14H539.57V589.64H542.99V578.14H547.24V589.64H550.66V578.14H554.91V589.64H558.33V578.14H562.58V589.64H566V578.14H570.25V589.64H573.67V578.14H577.92V589.64H581.34V578.14H585.59V589.64H589.01V578.14H593.26V589.64H596.68V578.14H600.93V589.64H604.35V578.14H608.6V589.64H612.02V578.14H616.27V589.64H619.69V578.14H623.94V589.64H627.36V578.14H631.61V589.64H635.03V578.14H639.28V589.64H642.7V578.14H646.95V589.64H650.37V578.14H654.62V589.64H658.04V578.14H662.29V589.64H665.71V578.14H669.96V589.64H673.38V578.14H677.63V589.64H681.05V578.14H685.3V589.64H688.72V578.14H692.97V589.64H696.39V578.14H700.64V589.64H704.06V578.14H708.31V589.64H711.73V578.14H715.98V589.64H719.4V578.14H723.65V589.64H727.07V578.14H731.32V589.64H734.74V578.14H738.99V589.64H742.41V578.14H746.66V589.64H750.08V578.14H754.33V589.64H757.75V578.14H762V589.64H765.42V578.14H769.67V589.64H773.09V578.14H777.34V589.64H780.76V578.14H785.01V589.64H788.43V578.14H792.68V589.64H796.1V578.14H800.35V589.64H803.77V578.14H808.02V589.64H811.44V578.14H815.69V589.64H819.11V578.14H823.36V589.64H826.78V578.14H831.03V589.64H834.45V578.14H838.7V589.64H842.12V578.14H846.37V589.64H849.79V578.14H854.04V589.64H857.46V578.14H861.71V589.64H865.13V578.14H869.38V589.64H872.8V578.14H877.05V589.64H880.47V578.14H884.72V589.64H888.14V578.14H892.39V589.64H895.81V578.14H900.06V589.64H903.48V578.14H905" stroke="#348ABD"/>
<path d="M139 590.92H174.5V602.42H184.5V590.92H205.5V602.42H208V590.92H211.5V602.42H215.18V590.92H218.93V602.42H222.85V590.92H226.6V602.42H230.52V590.92H234.27V602.42H238.19V590.92H241.94V602.42H245.86V590.92H249.61V602.42H253.53V590.92H257.28V602.42H261.2V590.92H264.95V602.42H268.87V590.92H272.62V602.42H276.54V590.92H280.29V602.42H284.21V590.92H287.96V602.42H291.88V590.92H295.63V602.42H299.55V590.92H303.3V602.42H307.22V590.92H310.97V602.42H314.89V590.92H318.64V602.42H322.56V590.92H326.31V602.42H330.23V590.92H333.98V602.42H337.9V590.92H341.65V602.42H345.57V590.92H349.32V602.42H353.24V590.92H356.99V602.42H360.91V590.92H364.66V602.42H368.58V590.92H372.33V602.42H376.25V590.92H380V602.42H383.92V590.92H387.67V602.42H391.59V590.92H395.34V602.42H399.26V590.92H403.01V602.42H406.93V590.92H410.68V602.42H414.6V590.92H418.35V602.42H422.27V590.92H426.02V602.42H429.94V590.92H433.69V602.42H437.61V590.92H441.36V602.42H445.28V590.92H449.03V602.42H452.95V590.92H456.7V602.42H460.62V590.92H464.37V602.42H468.29V590.92H472.04V602.42H475.96V590.92H479.71V602.42H483.63V590.92H487.38V602.42H491.3V590.92H495.05V602.42H498.97V590.92H502.72V602.42H506.64V590.92H510.39V602.42H514.31V590.92H518.06V602.42H521.98V590.92H525.73V602.42H529.65V590.92H533.4V602.42H537.32V590.92H541.07V602.42H544.99V590.92H548.74V602.42H552.66V590.92H556.41V602.42H560.33V590.92H564.08V602.42H568V590.92H571.75V602.42H575.67V590.92H579.42V602.42H583.34V590.92H587.09V602.42H591.01V590.92H594.76V602.42H598.68V590.92H602.43V602.42H606.35V590.92H610.1V602.42H614.02V590.92H617.77V602.42H621.69V590.92H625.44V602.42H629.36V590.92H633.11V602.42H637.03V590.92H640.78V602.42H644.7V590.92H648.45V602.42H652.37V590.92H656.12V602.42H660.04V590.92H663.79V602.42H667.71V590.92H671.46V602.42H675.38V590.92H679.13V602.42H683.05V590.92H686.8V602.42H690.72V590.92H694.47V602.42H698.39V590.92H702.14V602.42H706.06V590.92H709.81V602.42H713.73V590.92H717.48V602.42H721.4V590.92H725.15V602.42H729.07V590.92H732.82V602.42H736.74V590.92H740.49V602.42H744.41V590.92H748.16V602.42H752.08V590.92H755.83V602.42H759.75V590.92H763.5V602.42H767.42V590.92H771.17V602.42H775.09V590.92H778.84V602.42H782.76V590.92H786.51V602.42H790.43V590.92H794.18V602.42H798.1V590.92H801.85V602.42H805.77V590.92H809.52V602.42H813.44V590.92H817.19V602.42H821.11V590.92H824.86V602.42H828.78V590.92H832.53V602.42H836.45V590.92H840.2V602.42H844.12V590.92H847.87V602.42H851.79V590.92H855.54V602.42H859.46V590.92H863.21V602.42H867.13V590.92H870.88V602.42H874.8V590.92H878.55V602.42H882.47V590.92H886.22V602.42H890.14V590.92H893.89V602.42H897.81V590.92H901.56V602.42H905" stroke="#988ED5"/>
<path d="M139 615.2H215.18V603.7H218.93V615.2H222.85V603.7H226.6V615.2H230.52V603.7H234.27V615.2H238.19V603.7H241.94V615.2H245.86V603.7H249.61V615.2H253.53V603.7H257.28V615.2H261.2V603.7H264.95V615.2H268.87V603.7H272.62V615.2H276.54V603.7H280.29V615.2H284.21V603.7H287.96V615.2H291.88V603.7H295.63V615.2H299.55V603.7H303.3V615.2H307.22V603.7H310.97V615.2H314.89V603.7H318.64V615.2H322.56V603.7H326.31V615.2H330.23V603.7H333.98V615.2H337.9V603.7H341.65V615.2H345.57V603.7H349.32V615.2H353.24V603.7H356.99V615.2H360.91V603.7H364.66V615.2H368.58V603.7H372.33V615.2H376.25V603.7H380V615.2H383.92V603.7H387.67V615.2H391.59V603.7H395.34V615.2H399.26V603.7H403.01V615.2H406.93V603.7H410.68V615.2H414.6V603.7H418.35V615.2H422.27V603.7H426.02V615.2H429.94V603.7H433.69V615.2H437.61V603.7H441.36V615.2H445.28V603.7H449.03V615.2H452.95V603.7H456.7V615.2H460.62V603.7H464.37V615.2H468.29V603.7H472.04V615.2H475.96V603.7H479.71V615.2H483.63V603.7H487.38V615.2H491.3V603.7H495.05V615.2H498.97V603.7H502.72V615.2H506.64V603.7H510.39V615.2H514.31V603.7H518.06V615.2H521.98V603.7H525.73V615.2H529.65V603.7H533.4V615.2H537.32V603.7H541.07V615.2H544.99V603.7H548.74V615.2H552.66V603.7H556.41V615.2H560.33V603.7H564.08V615.2H568V603.7H571.75V615.2H575.67V603.7H579.42V615.2H583.34V603.7H587.09V615.2H591.01V603.7H594.76V615.2H598.68V603.7H602.43V615.2H606.35V603.7H610.1V615.2H614.02V603.7H617.77V615.2H621.69V603.7H625.44V615.2H629.36V603.7H633.11V615.2H637.03V603.7H640.78V615.2H644.7V603.7H648.45V615.2H652.37V603.7H656.12V615.2H660.04V603.7H663.79V615.2H667.71V603.7H671.46V615.2H675.38V603.7H679.13V615.2H683.05V603.7H686.8V615.2H690.72V603.7H694.47V615.2H698.39V603.7H702.14V615.2H706.06V603.7H709.81V615.2H713.73V603.7H717.48V615.2H721.4V603.7H725.15V615.2H729.07V603.7H732.82V615.2H736.74V603.7H740.49V615.2H744.41V603.7H748.16V615.2H752.08V603.7H755.83V615.2H759.75V603.7H763.5V615.2H767.42V603.7H771.17V615.2H775.09V603.7H778.84V615.2H782.76V603.7H786.51V615.2H790.43V603.7H794.18V615.2H798.1V603.7H801.85V615.2H805.77V603.7H809.52V615.2H813.44V603.7H817.19V615.2H821.11V603.7H824.86V615.2H828.78V603.7H832.53V615.2H836.45V603.7H840.2V615.2H844.12V603.7H847.87V615.2H851.79V603.7H855.54V615.2H859.46V603.7H863.21V615.2H867.13V603.7H870.88V615.2H874.8V603.7H878.55V615.2H882.47V603.7H886.22V615.2H890.14V603.7H893.89V615.2H897.81V603.7H901.56V615.2H905" stroke="#777777"/>
<path d="M139 616.48H174.5V627.98H184.5V616.48H205.5V627.98H208V616.48H211.5V627.98H215.18V616.48H218.93V627.98H222.85V616.48H226.6V627.98H230.52V616.48H234.27V627.98H238.19V616.48H241.94V627.98H245.86V616.48H249.61V627.98H253.53V616.48H257.28V627.98H261.2V616.48H264.95V627.98H268.87V616.48H272.62V627.98H276.54V616.48H280.29V627.98H284.21V616.48H287.96V627.98H291.88V616.48H295.63V627.98H299.55V616.48H303.3V627.98H307.22V616.48H310.97V627.98H314.89V616.48H318.64V627.98H322.56V616.48H326.31V627.98H330.23V616.48H333.98V627.98H337.9V616.48H341.65V627.98H345.57V616.48H349.32V627.98H353.24V616.48H356.99V627.98H360.91V616.48H364.66V627.98H368.58V616.48H372.33V627.98H376.25V616.48H380V627.98H383.92V616.48H387.67V627.98H391.59V616.48H395.34V627.98H399.26V616.48H403.01V627.98H406.93V616.48H410.68V627.98H414.6V616.48H418.35V627.98H422.27V616.48H426.02V627.98H429.94V616.48H433.69V627.98H437.61V616.48H441.36V627.98H445.28V616.48H449.03V627.98H452.95V616.48H456.7V627.98H460.62V616.48H464.37V627.98H468.29V616.48H472.04V627.98H475.96V616.48H479.71V627.98H483.63V616.48H487.38V627.98H491.3V616.48H495.05V627.98H498.97V616.48H502.72V627.98H506.64V616.48H510.39V627.98H514.31V616.48H518.06V627.98H521.98V616.48H525.73V627.98H529.65V616.48H533.4V627.98H537.32V616.48H541.07V627.98H544.99V616.48H548.74V627.98H552.66V616.48H556.41V627.98H560.33V616.48H564.08V627.98H568V616.48H571.75V627.98H575.67V616.48H579.42V627.98H583.34V616.48H587.09V627.98H591.01V616.48H594.76V627.98H598.68V616.48H602.43V627.98H606.35V616.48H610.1V627.98H614.02V616.48H617.77V627.98H621.69V616.48H625.44V627.98H629.36V616.48H633.11V627.98H637.03V616.48H640.78V627.98H644.7V616.48H648.45V627.98H652.37V616.48H656.12V627.98H660.04V616.48H663.79V627.98H667.71V616.48H671.46V627.98H675.38V616.48H679.13V627.98H683.05V616.48H686.8V627.98H690.72V616.48H694.47V627.98H698.39V616.48H702.14V627.98H706.06V616.48H709.81V627.98H713.73V616.48H717.48V627.98H721.4V616.48H725.15V627.98H729.07V616.48H732.82V627.98H736.74V616.48H740.49V627.98H744.41V616.48H748.16V627.98H752.08V616.48H755.83V627.98H759.75V616.48H763.5V627.98H767.42V616.48H771.17V627.98H775.09V616.48H778.84V627.98H782.76V616.48H786.51V627.98H790.43V616.48H794.18V627.98H798.1V616.48H801.85V627.98H805.77V616.48H809.52V627.98H813.44V616.48H817.19V627.98H821.11V616.48H824.86V627.98H828.78V616.48H832.53V627.98H836.45V616.48H840.2V627.98H844.12V616.48H847.87V627.98H851.79V616.48H855.54V627.98H859.46V616.48H863.21V627.98H867.13V616.48H870.88V627.98H874.8V616.48H878.55V627.98H882.47V616.48H886.22V627.98H890.14V616.48H893.89V627.98H897.81V616.48H901.56V627.98H905" stroke="#FBC15E"/>
<path d="M139 629.26H173.2V640.76H194.5V629.26H196.25V640.76H215.18V629.26H218.93V640.76H222.85V629.26H226.6V640.76H230.52V629.26H234.27V640.76H238.19V629.26H241.94V640.76H245.86V629.26H249.61V640.76H253.53V629.26H257.28V640.76H261.2V629.26H264.95V640.76H268.87V629.26H272.62V640.76H276.54V629.26H280.29V640.76H284.21V629.26H287.96V640.76H291.88V629.26H295.63V640.76H299.55V629.26H303.3V640.76H307.22V629.26H310.97V640.76H314.89V629.26H318.64V640.76H322.56V629.26H326.31V640.76H330.23V629.26H333.98V640.76H337.9V629.26H341.65V640.76H345.57V629.26H349.32V640.76H353.24V629.26H356.99V640.76H360.91V629.26H364.66V640.76H368.58V629.26H372.33V640.76H376.25V629.26H380V640.76H383.92V629.26H387.67V640.76H391.59V629.26H395.34V640.76H399.26V629.26H403.01V640.76H406.93V629.26H410.68V640.76H414.6V629.26H418.35V640.76H422.27V629.26H426.02V640.76H429.94V629.26H433.69V640.76H437.61V629.26H441.36V640.76H445.28V629.26H449.03V640.76H452.95V629.26H456.7V640.76H460.62V629.26H464.37V640.76H468.29V629.26H472.04V640.76H475.96V629.26H479.71V640.76H483.63V629.26H487.38V640.76H491.3V629.26H495.05V640.76H498.97V629.26H502.72V640.76H506.64V629.26H510.39V640.76H514.31V629.26H518.06V640.76H521.98V629.26H525.73V640.76H529.65V629.26H533.4V640.76H537.32V629.26H541.07V640.76H544.99V629.26H548.74V640.76H552.66V629.26H556.41V640.76H560.33V629.26H564.08V640.76H568V629.26H571.75V640.76H575.67V629.26H579.42V640.76H583.34V629.26H587.09V640.76H591.01V629.26H594.76V640.76H598.68V629.26H602.43V640.76H606.35V629.26H610.1V640.76H614.02V629.26H617.77V640.76H621.69V629.26H625.44V640.76H629.36V629.26H633.11V640.76H637.03V629.26H640.78V640.76H644.7V629.26H648.45V640.76H652.37V629.26H656.12V640.76H660.04V629.26H663.79V640.76H667.71V629.26H671.46V640.76H675.38V629.26H679.13V640.76H683.05V629.26H686.8V640.76H690.72V629.26H694.47V640.76H698.39V629.26H702.14V640.76H706.06V629.26H709.81V640.76H713.73V629.26H717.48V640.76H721.4V629.26H725.15V640.76H729.07V629.26H732.82V640.76H736.74V629.26H740.49V640.76H744.41V629.26H748.16V640.76H752.08V629.26H755.83V640.76H759.75V629.26H763.5V640.76H767.42V629.26H771.17V640.76H775.09V629.26H778.84V640.76H782.76V629.26H786.51V640.76H790.43V629.26H794.18V640.76H798.1V629.26H801.85V640.76H805.77V629.26H809.52V640.76H813.44V629.26H817.19V640.76H821.11V629.26H824.86V640.76H828.78V629.26H832.53V640.76H836.45V629.26H840.2V640.76H844.12V629.26H847.87V640.76H851.79V629.26H855.54V640.76H859.46V629.26H863.21V640.76H867.13V629.26H870.88V640.76H874.8V629.26H878.55V640.76H882.47V629.26H886.22V640.76H890.14V629.26H893.89V640.76H897.81V629.26H901.56V640.76H905" stroke="#8EBA42"/>
<path d="M139 642.04H211.5V653.54H215.18V642.04H218.93V653.54H222.85V642.04H226.6V653.54H230.52V642.04H234.27V653.54H238.19V642.04H241.94V653.54H245.86V642.04H249.61V653.54H253.53V642.04H257.28V653.54H261.2V642.04H264.95V653.54H268.87V642.04H272.62V653.54H276.54V642.04H280.29V653.54H284.21V642.04H287.96V653.54H291.88V642.04H295.63V653.54H299.55V642.04H303.3V653.54H307.22V642.04H310.97V653.54H314.89V642.04H318.64V653.54H322.56V642.04H326.31V653.54H330.23V642.04H333.98V653.54H337.9V642.04H341.65V653.54H345.57V642.04H349.32V653.54H353.24V642.04H356.99V653.54H360.91V642.04H364.66V653.54H368.58V642.04H372.33V653.54H376.25V642.04H380V653.54H383.92V642.04H387.67V653.54H391.59V642.04H395.34V653.54H399.26V642.04H403.01V653.54H406.93V642.04H410.68V653.54H414.6V642.04H418.35V653.54H422.27V642.04H426.02V653.54H429.94V642.04H433.69V653.54H437.61V642.04H441.36V653.54H445.28V642.04H449.03V653.54H452.95V642.04H456.7V653.54H460.62V642.04H464.37V653.54H468.29V642.04H472.04V653.54H475.96V642.04H479.71V653.54H483.63V642.04H487.38V653.54H491.3V642.04H495.05V653.54H498.97V642.04H502.72V653.54H506.64V642.04H510.39V653.54H514.31V642.04H518.06V653.54H521.98V642.04H525.73V653.54H529.65V642.04H533.4V653.54H537.32V642.04H541.07V653.54H544.99V642.04H548.74V653.54H552.66V642.04H556.41V653.54H560.33V642.04H564.08V653.54H568V642.04H571.75V653.54H575.67V642.04H579.42V653.54H583.34V642.04H587.09V653.54H591.01V642.04H594.76V653.54H598.68V642.04H602.43V653.54H606.35V642.04H610.1V653.54H614.02V642.04H617.77V653.54H621.69V642.04H625.44V653.54H629.36V642.04H633.11V653.54H637.03V642.04H640.78V653.54H644.7V642.04H648.45V653.54H652.37V642.04H656.12V653.54H660.04V642.04H663.79V653.54H667.71V642.04H671.46V653.54H675.38V642.04H679.13V653.54H683.05V642.04H686.8V653.54H690.72V642.04H694.47V653.54H698.39V642.04H702.14V653.54H706.06V642.04H709.81V653.54H713.73V642.04H717.48V653.54H721.4V642.04H725.15V653.54H729.07V642.04H732.82V653.54H736.74V642.04H740.49V653.54H744.41V642.04H748.16V653.54H752.08V642.04H755.83V653.54H759.75V642.04H763.5V653.54H767.42V642.04H771.17V653.54H775.09V642.04H778.84V653.54H782.76V642.04H786.51V653.54H790.43V642.04H794.18V653.54H798.1V642.04H801.85V653.54H805.77V642.04H809.52V653.54H813.44V642.04H817.19V653.54H821.11V642.04H824.86V653.54H828.78V642.04H832.53V653.54H836.45V642.04H840.2V653.54H844.12V642.04H847.87V653.54H851.79V642.04H855.54V653.54H859.46V642.04H863.21V653.54H867.13V642.04H870.88V653.54H874.8V642.04H878.55V653.54H882.47V642.04H886.22V653.54H890.14V642.04H893.89V653.54H897.81V642.04H901.56V653.54H905" stroke="#FFB5B8"/>
<path d="M139 654.82H173.25V666.32H193.75V654.82H196.25V666.32H200V654.82H203.5V666.32H215.18V654.82H218.93V666.32H222.85V654.82H226.6V666.32H230.52V654.82H234.27V666.32H238.19V654.82H241.94V666.32H245.86V654.82H249.61V666.32H253.53V654.82H257.28V666.32H261.2V654.82H264.95V666.32H268.87V654.82H272.62V666.32H276.54V654.82H280.29V666.32H284.21V654.82H287.96V666.32H291.88V654.82H295.63V666.32H299.55V654.82H303.3V666.32H307.22V654.82H310.97V666.32H314.89V654.82H318.64V666.32H322.56V654.82H326.31V666.32H330.23V654.82H333.98V666.32H337.9V654.82H341.65V666.32H345.57V654.82H349.32V666.32H353.24V654.82H356.99V666.32H360.91V654.82H364.66V666.32H368.58V654.82H372.33V666.32H376.25V654.82H380V666.32H383.92V654.82H387.67V666.32H391.59V654.82H395.34V666.32H399.26V654.82H403.01V666.32H406.93V654.82H410.68V666.32H414.6V654.82H418.35V666.32H422.27V654.82H426.02V666.32H429.94V654.82H433.69V666.32H437.61V654.82H441.36V666.32H445.28V654.82H449.03V666.32H452.95V654.82H456.7V666.32H460.62V654.82H464.37V666.32H468.29V654.82H472.04V666.32H475.96V654.82H479.71V666.32H483.63V654.82H487.38V666.32H491.3V654.82H495.05V666.32H498.97V654.82H502.72V666.32H506.64V654.82H510.39V666.32H514.31V654.82H518.06V666.32H521.98V654.82H525.73V666.32H529.65V654.82H533.4V666.32H537.32V654.82H541.07V666.32H544.99V654.82H548.74V666.32H552.66V654.82H556.41V666.32H560.33V654.82H564.08V666.32H568V654.82H571.75V666.32H575.67V654.82H579.42V666.32H583.34V654.82H587.09V666.32H591.01V654.82H594.76V666.32H598.68V654.82H602.43V666.32H606.35V654.82H610.1V666.32H614.02V654.82H617.77V666.32H621.69V654.82H625.44V666.32H629.36V654.82H633.11V666.32H637.03V654.82H640.78V666.32H644.7V654.82H648.45V666.32H652.37V654.82H656.12V666.32H660.04V654.82H663.79V666.32H667.71V654.82H671.46V666.32H675.38V654.82H679.13V666.32H683.05V654.82H686.8V666.32H690.72V654.82H694.47V666.32H698.39V654.82H702.14V666.32H706.06V654.82H709.81V666.32H713.73V654.82H717.48V666.32H721.4V654.82H725.15V666.32H729.07V654.82H732.82V666.32H736.74V654.82H740.49V666.32H744.41V654.82H748.16V666.32H752.08V654.82H755.83V666.32H759.75V654.82H763.5V666.32H767.42V654.82H771.17V666.32H775.09V654.82H778.84V666.32H782.76V654.82H786.51V666.32H790.43V654.82H794.18V666.32H798.1V654.82H801.85V666.32H805.77V654.82H809.52V666.32H813.44V654.82H817.19V666.32H821.11V654.82H824.86V666.32H828.78V654.82H832.53V666.32H836.45V654.82H840.2V666.32H844.12V654.82H847.87V666.32H851.79V654.82H855.54V666.32H859.46V654.82H863.21V666.32H867.13V654.82H870.88V666.32H874.8V654.82H878.55V666.32H882.47V654.82H886.22V666.32H890.14V654.82H893.89V666.32H897.81V654.82H901.56V666.32H905" stroke="#E24A33"/>
</g>
<path d="M138.5 74.2V80M138.5 372V377.8M138.5 423.2V429M138.5 721V726.6M291.5 74.2V80M291.5 372V377.8M291.5 423.2V429M291.5 721V726.6M444.5 74.2V80M444.5 372V377.8M444.5 423.2V429M444.5 721V726.6M598.5 74.2V80M598.5 372V377.8M598.5 423.2V429M598.5 721V726.6M751.5 74.2V80M751.5 372V377.8M751.5 423.2V429M751.5 721V726.6M132 80.5H138M906 80.5H912M132 128.5H138M906 128.5H912M132 177.5H138M906 177.5H912M132 225.5H138M906 225.5H912M132 274.5H138M906 274.5H912M132 322.5H138M906 322.5H912M132 371.5H138M906 371.5H912" stroke="#555" stroke-width="1" opacity="0.85"/>
<text x="126.2" y="374.5" text-anchor="end" class="tk">−1.5</text>
<text x="126.2" y="326" text-anchor="end" class="tk">−1.0</text>
<text x="126.2" y="277.5" text-anchor="end" class="tk">−0.5</text>
<text x="126.2" y="229" text-anchor="end" class="tk">0.0</text>
<text x="126.2" y="180.5" text-anchor="end" class="tk">0.5</text>
<text x="126.2" y="132" text-anchor="end" class="tk">1.0</text>
<text x="126.2" y="83.5" text-anchor="end" class="tk">1.5</text>
<text x="138" y="741.6" text-anchor="middle" class="tk">0.0000000</text>
<text x="291" y="741.6" text-anchor="middle" class="tk">0.0000002</text>
<text x="444" y="741.6" text-anchor="middle" class="tk">0.0000004</text>
<text x="598" y="741.6" text-anchor="middle" class="tk">0.0000006</text>
<text x="751" y="741.6" text-anchor="middle" class="tk">0.0000008</text>
<text x="905" y="741.6" text-anchor="middle" class="tk">0.0000010</text>
<text x="521" y="766" text-anchor="middle" class="al">t</text>
<text x="550" y="26.7" text-anchor="middle" class="ti">/data/socrates/mx3/si3x3-sin-randomMag-sweep-B-70-90/si3x3-sin-randomMag.012.081.out/table.txt</text>
<rect x="914" y="89" width="165" height="399.6" fill="#E5E5E5"/>
<path d="M924.8 103.3H949" stroke="#E24A33" stroke-width="1.25"/>
<text transform="translate(967.4 108.5) scale(.985 1)" class="lg">B_extx</text>
<path d="M924.8 129.7H949" stroke="#348ABD" stroke-width="1.25"/>
<text transform="translate(967.4 134.9) scale(.985 1)" class="lg">B_exty</text>
<path d="M924.8 156.1H949" stroke="#988ED5" stroke-width="1.25"/>
<text transform="translate(967.4 161.3) scale(.985 1)" class="lg">B_extz</text>
<path d="M924.8 182.6H949" stroke="#777777" stroke-width="1.25"/>
<text transform="translate(967.4 187.8) scale(.985 1)" class="lg">m.region1x</text>
<path d="M924.8 209H949" stroke="#FBC15E" stroke-width="1.25"/>
<text transform="translate(967.4 214.2) scale(.985 1)" class="lg">m.region2x</text>
<path d="M924.8 235.4H949" stroke="#8EBA42" stroke-width="1.25"/>
<text transform="translate(967.4 240.6) scale(.985 1)" class="lg">m.region3x</text>
<path d="M924.8 261.8H949" stroke="#FFB5B8" stroke-width="1.25"/>
<text transform="translate(967.4 267) scale(.985 1)" class="lg">m.region4x</text>
<path d="M924.8 288.2H949" stroke="#E24A33" stroke-width="1.25"/>
<text transform="translate(967.4 293.4) scale(.985 1)" class="lg">m.region5x</text>
<path d="M924.8 314.7H949" stroke="#348ABD" stroke-width="1.25"/>
<text transform="translate(967.4 319.9) scale(.985 1)" class="lg">m.region6x</text>
<path d="M924.8 341.1H949" stroke="#988ED5" stroke-width="1.25"/>
<text transform="translate(967.4 346.3) scale(.985 1)" class="lg">m.region7y</text>
<path d="M924.8 367.5H949" stroke="#777777" stroke-width="1.25"/>
<text transform="translate(967.4 372.7) scale(.985 1)" class="lg">m.region8y</text>
<path d="M924.8 393.9H949" stroke="#FBC15E" stroke-width="1.25"/>
<text transform="translate(967.4 399.1) scale(.985 1)" class="lg">m.region9y</text>
<path d="M924.8 420.3H949" stroke="#8EBA42" stroke-width="1.25"/>
<text transform="translate(967.4 425.5) scale(.985 1)" class="lg">m.region10y</text>
<path d="M924.8 446.8H949" stroke="#FFB5B8" stroke-width="1.25"/>
<text transform="translate(967.4 452) scale(.985 1)" class="lg">m.region11y</text>
<path d="M924.8 473.2H949" stroke="#E24A33" stroke-width="1.25"/>
<text transform="translate(967.4 478.4) scale(.985 1)" class="lg">m.region12y</text>
</svg>
</body></html>
